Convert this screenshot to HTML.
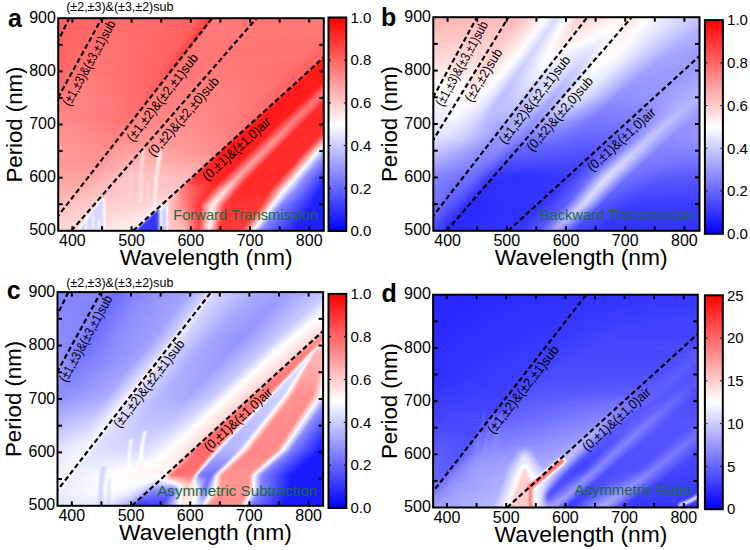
<!DOCTYPE html>
<html><head><meta charset="utf-8"><style>
html,body{margin:0;padding:0;background:#fff}
body{width:750px;height:550px;position:relative;overflow:hidden;font-family:"Liberation Sans", sans-serif}
.hm{position:absolute;overflow:hidden}
.hm i{display:block;width:100%}
.cb{position:absolute}
svg{position:absolute;left:0;top:0}
svg text{font-family:"Liberation Sans", sans-serif}
.fr{fill:none;stroke:#000;stroke-width:2}
.tk{stroke:#000;stroke-width:2}
.tkc{stroke:#000;stroke-width:1}
.dl{stroke:#000;stroke-width:2.2;stroke-dasharray:5 3;fill:none}
</style></head><body>
<div class="hm" style="left:58px;top:18px;width:266px;height:213px"><i style="height:1px;background:linear-gradient(90deg,#ff6161 0.2%,#ff6868 17.5%,#ff6d6d 29.9%,#ff5f5f 52.1%,#ff4d4d 55.8%,#ff2f2f 57.0%,#ff2f2f 57.3%,#ff7272 58.5%,#ff8080 59.2%,#ff7373 66.4%,#ff7979 99.8%)"></i><i style="height:1px;background:linear-gradient(90deg,#ff6161 0.2%,#ff6868 17.1%,#ff6e6e 29.1%,#ff5f5f 52.1%,#ff4f4f 55.5%,#ff2f2f 57.0%,#ff3939 57.3%,#ff7878 58.5%,#ff7c7c 60.0%,#ff7575 75.8%,#ff7979 99.8%)"></i><i style="height:1px;background:linear-gradient(90deg,#ff6161 0.2%,#ff6868 17.1%,#ff6e6e 29.1%,#ff5f5f 51.7%,#ff4b4b 55.5%,#ff3030 56.6%,#ff3636 57.0%,#ff7474 58.1%,#ff7e7e 59.2%,#ff7272 69.0%,#ff7979 99.8%)"></i><i style="height:1px;background:linear-gradient(90deg,#ff6161 0.2%,#ff6868 16.7%,#ff6e6e 28.4%,#ff6060 51.3%,#ff4d4d 55.1%,#ff3131 56.2%,#ff3434 56.6%,#ff7171 57.7%,#ff7f7f 58.5%,#ff7373 67.5%,#ff7979 99.8%)"></i><i style="height:1px;background:linear-gradient(90deg,#ff6161 0.2%,#ff6969 16.7%,#ff6e6e 28.4%,#ff5f5f 51.3%,#ff4e4e 54.7%,#ff3333 55.8%,#ff3333 56.2%,#ff5656 57.0%,#ff7a7a 57.7%,#ff7676 79.5%,#ff7979 99.8%)"></i><i style="height:1px;background:linear-gradient(90deg,#ff6161 0.2%,#ff6868 16.4%,#ff6f6f 27.6%,#ff5f5f 50.9%,#ff5050 54.3%,#ff3333 55.8%,#ff5252 56.6%,#ff7878 57.3%,#ff7a7a 59.2%,#ff7777 81.4%,#ff7979 99.8%)"></i><i style="height:1px;background:linear-gradient(90deg,#ff6262 0.2%,#ff6969 16.4%,#ff6f6f 28.0%,#ff6060 50.6%,#ff4b4b 54.3%,#ff3333 55.5%,#ff3a3a 55.8%,#ff7575 57.0%,#ff7d7d 58.1%,#ff7272 71.2%,#ff7979 99.8%)"></i><i style="height:1px;background:linear-gradient(90deg,#ff6262 0.2%,#ff6969 16.0%,#ff6f6f 27.3%,#ff6060 50.2%,#ff4d4d 53.9%,#ff3434 55.1%,#ff3737 55.5%,#ff7272 56.6%,#ff7d7d 57.7%,#ff7373 70.5%,#ff7979 99.8%)"></i><i style="height:1px;background:linear-gradient(90deg,#ff6262 0.2%,#ff6868 15.6%,#ff6f6f 26.5%,#ff5f5f 50.2%,#ff4f4f 53.6%,#ff3535 54.7%,#ff3636 55.1%,#ff7a7a 56.6%,#ff7777 84.0%,#ff7979 99.8%)"></i><i style="height:1px;background:linear-gradient(90deg,#ff6262 0.2%,#ff6969 15.6%,#ff7070 26.5%,#ff6060 49.8%,#ff5050 53.2%,#ff3636 54.7%,#ff5555 55.5%,#ff7878 56.2%,#ff7979 99.8%)"></i><i style="height:1px;background:linear-gradient(90deg,#ff6262 0.2%,#ff6969 15.2%,#ff7070 25.8%,#ff6060 49.4%,#ff4b4b 53.2%,#ff3636 54.3%,#ff5151 55.1%,#ff7676 55.8%,#ff7b7b 57.3%,#ff7878 85.5%,#ff7979 99.8%)"></i><i style="height:1px;background:linear-gradient(90deg,#ff6262 0.2%,#ff6969 15.2%,#ff7070 25.8%,#ff6060 49.1%,#ff4d4d 52.8%,#ff3636 53.9%,#ff4c4c 54.7%,#ff7373 55.5%,#ff7c7c 56.6%,#ff7575 71.6%,#ff7979 99.8%)"></i><i style="height:1px;background:linear-gradient(90deg,#ff6262 0.2%,#ff6969 14.8%,#ff7070 25.4%,#ff6060 49.1%,#ff4f4f 52.4%,#ff3737 53.6%,#ff3939 53.9%,#ff7070 55.1%,#ff7d7d 56.2%,#ff7575 70.9%,#ff7979 99.8%)"></i><i style="height:1px;background:linear-gradient(90deg,#ff6262 0.2%,#ff6a6a 14.8%,#ff7070 25.4%,#ff6060 48.7%,#ff5151 52.1%,#ff3939 53.6%,#ff7979 55.1%,#ff7979 99.8%)"></i><i style="height:1px;background:linear-gradient(90deg,#ff6262 0.2%,#ff6969 14.5%,#ff7171 24.6%,#ff6060 48.3%,#ff4c4c 52.1%,#ff3939 53.2%,#ff5454 53.9%,#ff7676 54.7%,#ff7777 57.0%,#ff7979 99.8%)"></i><i style="height:1px;background:linear-gradient(90deg,#ff6262 0.2%,#ff6a6a 14.5%,#ff7171 24.6%,#ff6060 48.3%,#ff4e4e 51.7%,#ff3939 52.8%,#ff5050 53.6%,#ff7474 54.3%,#ff7a7a 55.8%,#ff7979 99.8%)"></i><i style="height:1px;background:linear-gradient(90deg,#ff6363 0.2%,#ff6a6a 14.1%,#ff7171 24.2%,#ff6060 47.9%,#ff4f4f 51.3%,#ff3939 52.4%,#ff4c4c 53.2%,#ff7272 53.9%,#ff7c7c 55.1%,#ff7878 85.9%,#ff7878 99.8%)"></i><i style="height:1px;background:linear-gradient(90deg,#ff6363 0.2%,#ff6a6a 14.1%,#ff7171 24.2%,#ff6060 47.6%,#ff5151 50.9%,#ff3b3b 52.1%,#ff4848 52.8%,#ff7979 53.9%,#ff7878 99.8%)"></i><i style="height:1px;background:linear-gradient(90deg,#ff6363 0.2%,#ff6a6a 13.7%,#ff7272 23.5%,#ff6161 47.2%,#ff4c4c 50.9%,#ff3b3b 52.1%,#ff7777 53.6%,#ff7777 99.8%)"></i><i style="height:1px;background:linear-gradient(90deg,#ff6363 0.2%,#ff6b6b 13.7%,#ff7272 23.5%,#ff6060 47.2%,#ff4e4e 50.6%,#ff3b3b 51.7%,#ff5454 52.4%,#ff7575 53.2%,#ff7777 55.5%,#ff7575 99.8%)"></i><i style="height:1px;background:linear-gradient(90deg,#ff6363 0.2%,#ff6a6a 13.3%,#ff7272 23.1%,#ff6060 46.8%,#ff5050 50.2%,#ff3c3c 51.3%,#ff5050 52.1%,#ff7373 52.8%,#ff7a7a 54.3%,#ff7474 99.8%)"></i><i style="height:1px;background:linear-gradient(90deg,#ff6363 0.2%,#ff6a6a 13.0%,#ff7272 22.7%,#ff6161 46.4%,#ff5151 49.8%,#ff3c3c 50.9%,#ff4c4c 51.7%,#ff7070 52.4%,#ff7b7b 53.6%,#ff7272 99.8%)"></i><i style="height:1px;background:linear-gradient(90deg,#ff6363 0.2%,#ff6b6b 13.0%,#ff7272 22.4%,#ff6161 46.1%,#ff4d4d 49.8%,#ff3e3e 50.9%,#ff7777 52.4%,#ff7373 99.1%,#ff7070 99.8%)"></i><i style="height:1px;background:linear-gradient(90deg,#ff6363 0.2%,#ff6a6a 12.6%,#ff7373 22.0%,#ff6060 46.1%,#ff4e4e 49.4%,#ff3e3e 50.6%,#ff5757 51.3%,#ff7575 52.1%,#ff7272 98.7%,#ff6f6f 99.8%)"></i><i style="height:1px;background:linear-gradient(90deg,#ff6363 0.2%,#ff6b6b 12.6%,#ff7373 22.0%,#ff6161 45.7%,#ff5050 49.1%,#ff3e3e 50.2%,#ff5454 50.9%,#ff7373 51.7%,#ff7878 53.6%,#ff7272 98.3%,#ff6d6d 99.8%)"></i><i style="height:1px;background:linear-gradient(90deg,#ff6363 0.2%,#ff6b6b 12.2%,#ff7373 21.6%,#ff6161 45.3%,#ff5252 48.7%,#ff3f3f 49.8%,#ff5050 50.6%,#ff7171 51.3%,#ff7979 52.8%,#ff7272 97.9%,#ff6c6c 99.8%)"></i><i style="height:1px;background:linear-gradient(90deg,#ff6363 0.2%,#ff6b6b 12.2%,#ff7373 21.6%,#ff6060 45.3%,#ff4d4d 48.7%,#ff4141 49.8%,#ff7777 51.3%,#ff7171 97.6%,#ff6a6a 99.8%)"></i><i style="height:1px;background:linear-gradient(90deg,#ff6464 0.2%,#ff6b6b 11.8%,#ff7373 20.9%,#ff6161 44.9%,#ff4f4f 48.3%,#ff4141 49.4%,#ff7676 50.9%,#ff7373 96.8%,#ff6868 99.8%)"></i><i style="height:1px;background:linear-gradient(90deg,#ff6464 0.2%,#ff6c6c 11.8%,#ff7373 20.9%,#ff6161 44.5%,#ff5151 47.9%,#ff4141 49.1%,#ff5757 49.8%,#ff7474 50.6%,#ff7878 67.1%,#ff7272 96.4%,#ff6666 99.8%)"></i><i style="height:1px;background:linear-gradient(90deg,#ff6464 0.2%,#ff6b6b 11.5%,#ff7474 20.5%,#ff6262 44.2%,#ff5252 47.6%,#ff4141 48.7%,#ff5353 49.4%,#ff7878 50.6%,#ff7272 96.1%,#ff6565 99.8%)"></i><i style="height:1px;background:linear-gradient(90deg,#ff6464 0.2%,#ff6c6c 11.5%,#ff7474 20.5%,#ff6161 44.2%,#ff4e4e 47.6%,#ff4444 48.7%,#ff7777 50.2%,#ff7272 95.7%,#ff6464 99.8%)"></i><i style="height:1px;background:linear-gradient(90deg,#ff6464 0.2%,#ff6c6c 11.1%,#ff7474 20.1%,#ff6161 43.8%,#ff5050 47.2%,#ff4444 48.3%,#ff7676 49.8%,#ff7171 95.3%,#ff6464 99.8%)"></i><i style="height:1px;background:linear-gradient(90deg,#ff6464 0.2%,#ff6c6c 11.1%,#ff7474 19.7%,#ff6262 43.4%,#ff5151 46.8%,#ff4444 47.9%,#ff7474 49.4%,#ff7474 94.2%,#ff6565 99.8%)"></i><i style="height:1px;background:linear-gradient(90deg,#ff6464 0.2%,#ff6c6c 10.7%,#ff7575 19.4%,#ff6161 43.4%,#ff5353 46.4%,#ff4444 47.6%,#ff5757 48.3%,#ff7878 49.4%,#ff7171 94.5%,#ff6666 99.4%,#ff6767 99.8%)"></i><i style="height:1px;background:linear-gradient(90deg,#ff6464 0.2%,#ff6d6d 10.7%,#ff7575 19.4%,#ff6161 43.0%,#ff4f4f 46.4%,#ff4848 47.6%,#ff7777 49.1%,#ff7272 93.8%,#ff6666 99.1%,#ff6969 99.8%)"></i><i style="height:1px;background:linear-gradient(90deg,#ff6464 0.2%,#ff6c6c 10.3%,#ff7575 19.0%,#ff6262 42.7%,#ff5050 46.1%,#ff4747 47.2%,#ff7676 48.7%,#ff7272 93.4%,#ff6666 98.7%,#ff6a6a 99.8%)"></i><i style="height:1px;background:linear-gradient(90deg,#ff6464 0.2%,#ff6d6d 10.3%,#ff7575 19.0%,#ff6161 42.7%,#ff5252 45.7%,#ff4747 46.8%,#ff7474 48.3%,#ff7676 91.5%,#ff6464 97.9%,#ff6c6c 99.8%)"></i><i style="height:1px;background:linear-gradient(90deg,#ff6565 0.2%,#ff6d6d 10.0%,#ff7575 18.6%,#ff6161 42.3%,#ff4e4e 45.7%,#ff4747 46.4%,#ff7777 48.3%,#ff7171 92.7%,#ff6464 97.6%,#ff6c6c 99.8%)"></i><i style="height:1px;background:linear-gradient(90deg,#ff6565 0.2%,#ff6d6d 10.0%,#ff7575 18.2%,#ff6262 41.9%,#ff5050 45.3%,#ff4b4b 46.4%,#ff7676 47.9%,#ff7474 91.5%,#ff6464 97.2%,#ff6969 99.4%,#ff6565 99.8%)"></i><i style="height:1px;background:linear-gradient(90deg,#ff6565 0.2%,#ff6d6d 9.6%,#ff7676 17.9%,#ff6161 41.9%,#ff5151 44.9%,#ff4a4a 46.1%,#ff7575 47.6%,#ff7676 90.4%,#ff6464 96.8%,#ff6767 99.1%,#ff4f4f 99.8%)"></i><i style="height:1px;background:linear-gradient(90deg,#ff6565 0.2%,#ff6e6e 9.6%,#ff7676 17.9%,#ff6161 41.5%,#ff5353 44.5%,#ff4a4a 45.7%,#ff7474 47.2%,#ff7878 76.5%,#ff7070 91.5%,#ff6363 96.4%,#ff6666 98.7%,#ff3434 99.8%)"></i><i style="height:1px;background:linear-gradient(90deg,#ff6565 0.2%,#ff6e6e 9.6%,#ff7676 17.9%,#ff6262 41.2%,#ff4f4f 44.5%,#ff4a4a 45.3%,#ff7676 47.2%,#ff7575 89.7%,#ff6363 96.1%,#ff6a6a 97.9%,#ff5858 98.7%,#ff2222 99.8%)"></i><i style="height:1px;background:linear-gradient(90deg,#ff6565 0.2%,#ff6e6e 9.2%,#ff7676 17.5%,#ff6262 40.8%,#ff5151 44.2%,#ff4e4e 45.3%,#ff7676 46.8%,#ff7777 79.5%,#ff7070 90.8%,#ff6363 95.7%,#ff6a6a 97.6%,#ff5555 98.3%,#ff2121 99.4%,#ff1b1b 99.8%)"></i><i style="height:1px;background:linear-gradient(90deg,#ff6565 0.2%,#ff6f6f 9.2%,#ff7676 17.5%,#ff6262 40.8%,#ff5252 43.8%,#ff4d4d 44.9%,#ff7575 46.4%,#ff7878 72.0%,#ff6f6f 90.4%,#ff6363 95.3%,#ff6969 97.2%,#ff5353 97.9%,#ff2020 99.1%,#ff1a1a 99.8%)"></i><i style="height:1px;background:linear-gradient(90deg,#ff6565 0.2%,#ff6e6e 8.8%,#ff7777 16.7%,#ff6262 40.4%,#ff4f4f 43.8%,#ff4c4c 44.5%,#ff7474 46.1%,#ff7979 67.5%,#ff6f6f 90.0%,#ff6363 94.9%,#ff6969 96.8%,#ff5151 97.6%,#ff1f1f 98.7%,#ff1a1a 99.8%)"></i><i style="height:1px;background:linear-gradient(90deg,#ff6565 0.2%,#ff6f6f 8.8%,#ff7777 16.7%,#ff6262 40.0%,#ff5050 43.4%,#ff5353 44.5%,#ff7373 45.7%,#ff7979 64.5%,#ff7070 89.3%,#ff6161 94.2%,#ff6868 96.4%,#ff4f4f 97.2%,#ff1f1f 98.3%,#ff1a1a 99.8%)"></i><i style="height:1px;background:linear-gradient(90deg,#ff6565 0.2%,#ff7070 8.8%,#ff7777 16.7%,#ff6262 40.0%,#ff4d4d 43.8%,#ff7575 45.7%,#ff7979 66.4%,#ff7070 88.9%,#ff6161 93.8%,#ff6868 96.1%,#ff4d4d 96.8%,#ff2828 97.6%,#ff1a1a 99.1%,#ff1a1a 99.8%)"></i><i style="height:1px;background:linear-gradient(90deg,#ff6666 0.2%,#ff7070 8.8%,#ff7777 17.1%,#ff6262 39.7%,#ff5050 43.8%,#ff7474 45.3%,#ff7979 64.1%,#ff7070 88.5%,#ff6161 93.4%,#ff6767 95.7%,#ff2626 97.2%,#ff1a1a 98.7%,#ff1a1a 99.8%)"></i><i style="height:1px;background:linear-gradient(90deg,#ff6666 0.2%,#ff7070 8.5%,#ff7777 16.4%,#ff6262 39.3%,#ff4f4f 43.4%,#ff7474 44.9%,#ff7a7a 62.2%,#ff6f6f 88.2%,#ff6161 93.0%,#ff6767 95.3%,#ff2525 96.8%,#ff1a1a 98.7%,#ff1919 99.8%)"></i><i style="height:1px;background:linear-gradient(90deg,#ff6666 0.2%,#ff7171 8.5%,#ff7777 16.4%,#ff6262 39.3%,#ff4f4f 43.0%,#ff7373 44.5%,#ff7a7a 60.7%,#ff6f6f 87.8%,#ff6161 92.7%,#ff6666 94.9%,#ff2323 96.4%,#ff1919 98.7%,#ff1919 99.8%)"></i><i style="height:1px;background:linear-gradient(90deg,#ff6666 0.2%,#ff7171 8.5%,#ff7777 16.7%,#ff6262 38.9%,#ff4f4f 42.7%,#ff7575 44.5%,#ff7a7a 61.1%,#ff6f6f 87.4%,#ff6161 92.3%,#ff6565 94.5%,#ff2222 96.1%,#ff1919 99.1%,#ff1919 99.8%)"></i><i style="height:1px;background:linear-gradient(90deg,#ff6666 0.2%,#ff7272 8.5%,#ff7777 17.1%,#ff6262 38.9%,#ff5454 42.7%,#ff7474 44.2%,#ff7a7a 60.3%,#ff6f6f 87.0%,#ff6161 91.9%,#ff6969 93.8%,#ff5757 94.5%,#ff2121 95.7%,#ff1919 99.8%)"></i><i style="height:1px;background:linear-gradient(90deg,#ff6666 0.2%,#ff7373 8.5%,#ff7777 17.5%,#ff6262 38.5%,#ff5353 42.3%,#ff7474 43.8%,#ff7b7b 59.6%,#ff7070 86.3%,#ff6161 91.5%,#ff6969 93.4%,#ff5555 94.2%,#ff2121 95.3%,#ff1919 99.8%)"></i><i style="height:1px;background:linear-gradient(90deg,#ff6767 0.2%,#ff7474 8.5%,#ff7676 18.2%,#ff6262 38.5%,#ff5252 41.9%,#ff7373 43.4%,#ff7b7b 59.2%,#ff7070 85.9%,#ff6060 90.8%,#ff6868 93.0%,#ff5353 93.8%,#ff2020 94.9%,#ff1919 99.8%)"></i><i style="height:1px;background:linear-gradient(90deg,#ff6767 0.2%,#ff7676 8.8%,#ff6e6e 31.4%,#ff5959 40.4%,#ff5252 41.5%,#ff7575 43.4%,#ff7b7b 60.0%,#ff7070 85.5%,#ff6060 90.4%,#ff6868 92.7%,#ff5151 93.4%,#ff1f1f 94.5%,#ff1919 99.8%)"></i><i style="height:1px;background:linear-gradient(90deg,#ff6767 0.2%,#ff7878 9.2%,#ff6565 37.0%,#ff5252 41.2%,#ff7575 43.0%,#ff7b7b 59.6%,#ff7070 85.2%,#ff6161 90.0%,#ff6868 92.3%,#ff4f4f 93.0%,#ff1f1f 94.2%,#ff1919 99.8%)"></i><i style="height:1px;background:linear-gradient(90deg,#ff6868 0.2%,#ff7a7a 9.6%,#ff6565 37.0%,#ff5656 41.2%,#ff7575 42.7%,#ff7c7c 59.2%,#ff7171 84.8%,#ff6161 89.7%,#ff6868 91.9%,#ff4d4d 92.7%,#ff2727 93.4%,#ff1919 94.5%,#ff1919 99.8%)"></i><i style="height:1px;background:linear-gradient(90deg,#ff6868 0.2%,#ff7a7a 13.3%,#ff6464 37.0%,#ff5555 40.8%,#ff7575 42.3%,#ff7c7c 59.2%,#ff7171 84.4%,#ff6262 89.3%,#ff6868 91.5%,#ff4b4b 92.3%,#ff2626 93.0%,#ff1919 94.5%,#ff1919 99.8%)"></i><i style="height:1px;background:linear-gradient(90deg,#ff6868 0.2%,#ff7b7b 13.0%,#ff6464 37.0%,#ff5555 40.4%,#ff7777 42.3%,#ff7c7c 60.3%,#ff7171 84.0%,#ff6262 88.9%,#ff6767 91.2%,#ff2525 92.7%,#ff1919 94.2%,#ff1919 99.8%)"></i><i style="height:1px;background:linear-gradient(90deg,#ff6969 0.2%,#ff7b7b 13.0%,#ff6565 36.7%,#ff5555 40.0%,#ff7777 41.9%,#ff7d7d 60.0%,#ff7171 83.6%,#ff6363 88.5%,#ff6767 90.8%,#ff2323 92.3%,#ff1919 94.2%,#ff1919 99.8%)"></i><i style="height:1px;background:linear-gradient(90deg,#ff6969 0.2%,#ff7c7c 12.6%,#ff6565 36.3%,#ff5959 40.0%,#ff7676 41.5%,#ff7d7d 59.6%,#ff7171 83.3%,#ff6363 88.2%,#ff6767 90.4%,#ff2222 91.9%,#ff1919 94.5%,#ff1919 99.8%)"></i><i style="height:1px;background:linear-gradient(90deg,#ff6a6a 0.2%,#ff7c7c 12.2%,#ff6565 36.3%,#ff5858 39.7%,#ff7676 41.2%,#ff7d7d 59.2%,#ff7171 82.9%,#ff6464 87.8%,#ff6b6b 89.7%,#ff5858 90.4%,#ff2121 91.5%,#ff1919 95.3%,#ff1919 99.8%)"></i><i style="height:1px;background:linear-gradient(90deg,#ff6a6a 0.2%,#ff7d7d 11.8%,#ff6666 35.9%,#ff5858 39.3%,#ff7878 41.2%,#ff7d7d 60.7%,#ff7171 82.5%,#ff6464 87.4%,#ff6b6b 89.3%,#ff5656 90.0%,#ff2020 91.2%,#ff1919 96.4%,#ff1a1a 99.8%)"></i><i style="height:1px;background:linear-gradient(90deg,#ff6a6a 0.2%,#ff7d7d 11.8%,#ff6565 35.9%,#ff5858 38.9%,#ff7878 40.8%,#ff7e7e 60.3%,#ff7272 82.1%,#ff6565 87.0%,#ff6a6a 88.9%,#ff5454 89.7%,#ff1f1f 90.8%,#ff1a1a 99.1%,#ff1c1c 99.8%)"></i><i style="height:1px;background:linear-gradient(90deg,#ff6b6b 0.2%,#ff7d7d 11.5%,#ff6666 35.5%,#ff5858 38.5%,#ff7878 40.4%,#ff7e7e 60.0%,#ff7272 81.8%,#ff6565 86.7%,#ff6a6a 88.5%,#ff5252 89.3%,#ff1f1f 90.4%,#ff1d1d 99.4%,#ff2020 99.8%)"></i><i style="height:1px;background:linear-gradient(90deg,#ff6b6b 0.2%,#ff7e7e 11.1%,#ff6767 35.2%,#ff5c5c 38.5%,#ff7878 40.0%,#ff7e7e 59.6%,#ff7272 81.4%,#ff6666 86.3%,#ff6a6a 88.2%,#ff5050 88.9%,#ff1e1e 90.0%,#ff1e1e 99.1%,#ff2828 99.8%)"></i><i style="height:1px;background:linear-gradient(90deg,#ff6b6b 0.2%,#ff7e7e 11.1%,#ff6666 35.2%,#ff5b5b 38.2%,#ff7878 39.7%,#ff7f7f 59.2%,#ff7474 80.6%,#ff6565 85.5%,#ff6a6a 87.8%,#ff4e4e 88.5%,#ff2727 89.3%,#ff1919 90.4%,#ff1e1e 98.7%,#ff3030 99.8%)"></i><i style="height:1px;background:linear-gradient(90deg,#ff6c6c 0.2%,#ff7f7f 10.7%,#ff6767 34.8%,#ff5b5b 37.8%,#ff7979 39.7%,#ff7f7f 60.7%,#ff7474 80.3%,#ff6565 85.2%,#ff6a6a 87.4%,#ff4c4c 88.2%,#ff2626 88.9%,#ff1818 90.4%,#ff1f1f 98.3%,#ff3939 99.8%)"></i><i style="height:1px;background:linear-gradient(90deg,#ff6c6c 0.2%,#ff7f7f 10.3%,#ff6868 34.4%,#ff5b5b 37.4%,#ff7979 39.3%,#ff7f7f 60.7%,#ff7474 79.9%,#ff6666 84.8%,#ff6969 87.0%,#ff2424 88.5%,#ff1818 90.0%,#ff1f1f 97.9%,#ff4242 99.8%)"></i><i style="height:1px;background:linear-gradient(90deg,#ff6d6d 0.2%,#ff7f7f 10.3%,#ff6767 34.4%,#ff5f5f 37.4%,#ff7979 38.9%,#ff7f7f 60.0%,#ff7474 79.5%,#ff6666 84.4%,#ff6969 86.7%,#ff2323 88.2%,#ff1818 90.0%,#ff2020 97.6%,#ff4c4c 99.8%)"></i><i style="height:1px;background:linear-gradient(90deg,#ff6d6d 0.2%,#ff8080 10.0%,#ff6868 34.0%,#ff5e5e 37.0%,#ff7979 38.5%,#ff8080 59.6%,#ff7474 79.1%,#ff6767 84.0%,#ff6868 86.3%,#ff2121 87.8%,#ff1818 90.0%,#ff2020 97.2%,#ff5555 99.8%)"></i><i style="height:1px;background:linear-gradient(90deg,#ff6e6e 0.2%,#ff8080 9.6%,#ff6969 33.6%,#ff5e5e 36.7%,#ff7a7a 38.5%,#ff7f7f 61.5%,#ff7474 78.8%,#ff6767 83.6%,#ff6d6d 85.5%,#ff5959 86.3%,#ff2020 87.4%,#ff1818 90.8%,#ff2020 96.8%,#ff5e5e 99.8%)"></i><i style="height:1px;background:linear-gradient(90deg,#ff6e6e 0.2%,#ff8080 9.6%,#ff6868 33.6%,#ff5e5e 36.3%,#ff7b7b 38.2%,#ff8080 61.1%,#ff7575 78.4%,#ff6868 83.3%,#ff6d6d 85.2%,#ff5757 85.9%,#ff1f1f 87.0%,#ff1818 91.2%,#ff2121 96.4%,#ff6868 99.8%)"></i><i style="height:1px;background:linear-gradient(90deg,#ff6f6f 0.2%,#ff8181 9.2%,#ff6969 33.3%,#ff6262 36.3%,#ff7a7a 37.8%,#ff8080 60.7%,#ff7575 78.0%,#ff6868 82.9%,#ff6d6d 84.8%,#ff5555 85.5%,#ff1f1f 86.7%,#ff1919 93.4%,#ff2121 96.1%,#ff7070 99.8%)"></i><i style="height:1px;background:linear-gradient(90deg,#ff7070 0.2%,#ff8181 9.2%,#ff6969 33.3%,#ff6161 35.9%,#ff7a7a 37.4%,#ff8181 60.0%,#ff7575 77.6%,#ff6969 82.5%,#ff6c6c 84.4%,#ff5353 85.2%,#ff1e1e 86.3%,#ff1a1a 94.9%,#ff4141 97.2%,#ff7575 99.8%)"></i><i style="height:1px;background:linear-gradient(90deg,#ff7171 0.2%,#ff8282 8.8%,#ff6969 32.9%,#ff6161 35.5%,#ff7c7c 37.4%,#ff8080 61.8%,#ff7575 77.3%,#ff6969 82.1%,#ff6c6c 84.0%,#ff5151 84.8%,#ff2828 85.5%,#ff1818 86.7%,#ff1d1d 94.9%,#ff7272 99.1%,#ff7474 99.8%)"></i><i style="height:1px;background:linear-gradient(90deg,#ff7373 0.2%,#ff8282 8.8%,#ff6969 32.9%,#ff6161 35.2%,#ff7c7c 37.0%,#ff8181 61.5%,#ff7575 76.9%,#ff6a6a 81.8%,#ff6c6c 83.6%,#ff4f4f 84.4%,#ff2727 85.2%,#ff1818 86.3%,#ff1d1d 94.5%,#ff7373 98.7%,#ff6f6f 99.8%)"></i><i style="height:1px;background:linear-gradient(90deg,#ff7474 0.2%,#ff8282 8.8%,#ff6a6a 32.5%,#ff6565 35.2%,#ff7c7c 36.7%,#ff8181 61.1%,#ff7575 76.5%,#ff6a6a 81.4%,#ff6c6c 83.3%,#ff4c4c 84.0%,#ff2525 84.8%,#ff1818 86.3%,#ff1e1e 94.2%,#ff7373 98.3%,#ff6868 99.8%)"></i><i style="height:1px;background:linear-gradient(90deg,#ff7575 0.2%,#ff8383 8.5%,#ff6b6b 32.1%,#ff6565 34.8%,#ff7c7c 36.3%,#ff8181 60.7%,#ff7575 76.1%,#ff6b6b 81.0%,#ff6b6b 82.9%,#ff2424 84.4%,#ff1717 85.9%,#ff1e1e 93.8%,#ff7474 97.9%,#ff6565 99.4%,#ff6060 99.8%)"></i><i style="height:1px;background:linear-gradient(90deg,#ff7676 0.2%,#ff8383 8.5%,#ff6a6a 32.1%,#ff6464 34.4%,#ff7d7d 36.3%,#ff8181 62.2%,#ff7676 75.8%,#ff6b6b 80.6%,#ff6b6b 82.5%,#ff2222 84.0%,#ff1717 85.9%,#ff1e1e 93.4%,#ff7575 97.6%,#ff6565 99.1%,#ff5858 99.8%)"></i><i style="height:1px;background:linear-gradient(90deg,#ff7777 0.2%,#ff8383 8.5%,#ff6b6b 31.8%,#ff6464 34.0%,#ff7d7d 35.9%,#ff8181 61.8%,#ff7676 75.4%,#ff6c6c 80.3%,#ff6a6a 82.1%,#ff2121 83.6%,#ff1818 85.9%,#ff1e1e 93.0%,#ff7575 97.2%,#ff6565 98.7%,#ff5050 99.8%)"></i><i style="height:1px;background:linear-gradient(90deg,#ff7878 0.2%,#ff8383 8.5%,#ff6b6b 31.8%,#ff6464 33.6%,#ff7d7d 35.5%,#ff8282 61.5%,#ff7676 75.0%,#ff6c6c 79.9%,#ff6969 81.8%,#ff1f1f 83.3%,#ff1818 86.3%,#ff1e1e 92.7%,#ff7676 96.8%,#ff6565 98.3%,#ff4848 99.8%)"></i><i style="height:1px;background:linear-gradient(90deg,#ff7979 0.2%,#ff8484 8.1%,#ff6b6b 31.4%,#ff6868 33.6%,#ff7e7e 35.5%,#ff8282 61.8%,#ff7676 74.6%,#ff6b6b 79.1%,#ff6f6f 81.0%,#ff5959 81.8%,#ff1f1f 82.9%,#ff1818 86.7%,#ff1f1f 92.3%,#ff7777 96.4%,#ff6565 97.9%,#ff4040 99.8%)"></i><i style="height:1px;background:linear-gradient(90deg,#ff7a7a 0.2%,#ff8484 8.1%,#ff6c6c 31.0%,#ff6767 33.3%,#ff7e7e 35.2%,#ff8282 61.1%,#ff7676 74.2%,#ff6b6b 78.8%,#ff6f6f 80.6%,#ff5656 81.4%,#ff1e1e 82.5%,#ff1818 87.8%,#ff1f1f 91.9%,#ff7777 96.1%,#ff6565 97.6%,#ff3737 99.8%)"></i><i style="height:1px;background:linear-gradient(90deg,#ff7b7b 0.2%,#ff8484 8.1%,#ff6c6c 31.0%,#ff6767 32.9%,#ff7e7e 34.8%,#ff8383 60.3%,#ff7676 73.9%,#ff6c6c 78.4%,#ff6e6e 80.3%,#ff5454 81.0%,#ff2a2a 81.8%,#ff1818 82.5%,#ff1f1f 91.5%,#ff7878 95.7%,#ff6565 97.2%,#ff2f2f 99.8%)"></i><i style="height:1px;background:linear-gradient(90deg,#ff7c7c 0.2%,#ff8484 8.1%,#ff6c6c 30.6%,#ff6767 32.5%,#ff7e7e 34.4%,#ff8383 59.6%,#ff7777 73.5%,#ff6c6c 78.0%,#ff6e6e 79.9%,#ff5252 80.6%,#ff2828 81.4%,#ff1717 82.5%,#ff2020 91.2%,#ff7979 95.3%,#ff6565 96.8%,#ff2929 99.8%)"></i><i style="height:1px;background:linear-gradient(90deg,#ff7d7d 0.2%,#ff8585 7.7%,#ff6d6d 30.3%,#ff6b6b 32.5%,#ff7f7f 34.4%,#ff8383 59.6%,#ff7777 73.1%,#ff6d6d 77.6%,#ff6e6e 79.5%,#ff5050 80.3%,#ff2626 81.0%,#ff1717 82.1%,#ff2020 90.8%,#ff7979 94.9%,#ff6565 96.4%,#ff2828 99.4%,#ff2525 99.8%)"></i><i style="height:1px;background:linear-gradient(90deg,#ff7e7e 0.2%,#ff8585 8.1%,#ff6d6d 30.3%,#ff6a6a 32.1%,#ff7f7f 34.0%,#ff8484 58.8%,#ff7777 72.7%,#ff6d6d 77.3%,#ff6e6e 79.1%,#ff4d4d 79.9%,#ff2525 80.6%,#ff1717 81.8%,#ff1c1c 90.0%,#ff7a7a 94.5%,#ff6666 96.1%,#ff2828 99.1%,#ff2424 99.8%)"></i><i style="height:1px;background:linear-gradient(90deg,#ff7f7f 0.2%,#ff8585 8.1%,#ff6d6d 29.9%,#ff6a6a 31.8%,#ff7f7f 33.6%,#ff8484 58.5%,#ff7777 72.4%,#ff6e6e 76.9%,#ff6d6d 78.8%,#ff4b4b 79.5%,#ff2323 80.3%,#ff1717 81.8%,#ff1d1d 89.7%,#ff7a7a 94.2%,#ff6666 95.7%,#ff2828 98.7%,#ff2424 99.8%)"></i><i style="height:1px;background:linear-gradient(90deg,#ff8080 0.2%,#ff8585 8.1%,#ff6d6d 29.9%,#ff6e6e 31.8%,#ff8080 33.6%,#ff8484 58.1%,#ff7979 71.6%,#ff6e6e 76.5%,#ff6d6d 78.4%,#ff2222 79.9%,#ff1717 81.4%,#ff1d1d 89.3%,#ff7b7b 93.8%,#ff5d5d 95.7%,#ff2828 98.3%,#ff2424 99.8%)"></i><i style="height:1px;background:linear-gradient(90deg,#ff8181 0.2%,#ff8585 8.1%,#ff6e6e 29.5%,#ff6e6e 31.4%,#ff8080 33.3%,#ff8585 57.7%,#ff7979 71.2%,#ff6f6f 76.1%,#ff6c6c 78.0%,#ff2020 79.5%,#ff1717 81.4%,#ff1d1d 88.9%,#ff7c7c 93.4%,#ff5d5d 95.3%,#ff2828 97.9%,#ff2424 99.8%)"></i><i style="height:1px;background:linear-gradient(90deg,#ff8282 0.2%,#ff8585 8.8%,#ff6e6e 29.1%,#ff6d6d 31.0%,#ff8080 32.9%,#ff8585 57.0%,#ff7979 70.9%,#ff6f6f 75.8%,#ff6b6b 77.6%,#ff1f1f 79.1%,#ff1717 81.8%,#ff1d1d 88.5%,#ff7c7c 93.0%,#ff5d5d 94.9%,#ff2828 97.6%,#ff2525 99.8%)"></i><i style="height:1px;background:linear-gradient(90deg,#ff8282 0.2%,#ff8585 9.2%,#ff6e6e 29.1%,#ff6d6d 30.6%,#ff8181 32.5%,#ff8686 56.6%,#ff7979 70.5%,#ff7070 75.4%,#ff7171 76.9%,#ff5a5a 77.6%,#ff1e1e 78.8%,#ff1717 81.8%,#ff1d1d 88.2%,#ff7d7d 92.7%,#ff5d5d 94.5%,#ff2828 97.2%,#ff2525 99.8%)"></i><i style="height:1px;background:linear-gradient(90deg,#ff8383 0.2%,#ff8484 10.3%,#ff6f6f 28.8%,#ff7171 30.6%,#ff8181 32.5%,#ff8686 55.8%,#ff7979 70.1%,#ff7070 75.0%,#ff7171 76.5%,#ff5858 77.3%,#ff1d1d 78.4%,#ff1818 82.9%,#ff1e1e 87.8%,#ff7b7b 91.9%,#ff7676 93.0%,#ff2828 96.8%,#ff2525 99.8%)"></i><i style="height:1px;background:linear-gradient(90deg,#ff8484 0.2%,#ff8383 12.6%,#ff6e6e 28.8%,#ff7171 30.3%,#ff8181 32.1%,#ff8686 55.5%,#ff7a7a 69.7%,#ff7070 74.6%,#ff7171 76.1%,#ff5555 76.9%,#ff2929 77.6%,#ff1818 78.4%,#ff1e1e 87.4%,#ff7b7b 91.5%,#ff7676 92.7%,#ff2828 96.4%,#ff2525 99.8%)"></i><i style="height:1px;background:linear-gradient(90deg,#ff8585 0.2%,#ff8080 17.1%,#ff7070 29.9%,#ff8282 31.8%,#ff8787 55.1%,#ff7a7a 69.4%,#ff7171 74.2%,#ff7070 75.8%,#ff5353 76.5%,#ff2828 77.3%,#ff1616 78.4%,#ff1e1e 87.0%,#ff7c7c 91.2%,#ff7676 92.3%,#ff2828 96.1%,#ff2525 99.8%)"></i><i style="height:1px;background:linear-gradient(90deg,#ff8686 0.2%,#ff7979 23.9%,#ff7070 29.5%,#ff8282 31.4%,#ff8787 54.3%,#ff7a7a 69.0%,#ff7171 73.9%,#ff7070 75.4%,#ff5151 76.1%,#ff2626 76.9%,#ff1616 78.0%,#ff1e1e 86.7%,#ff7d7d 90.8%,#ff7777 91.9%,#ff2828 95.7%,#ff2626 99.8%)"></i><i style="height:1px;background:linear-gradient(90deg,#ff8787 0.2%,#ff7373 26.9%,#ff6f6f 29.1%,#ff8282 31.0%,#ff8888 53.9%,#ff7a7a 68.6%,#ff7272 73.5%,#ff7070 75.0%,#ff4e4e 75.8%,#ff2424 76.5%,#ff1616 77.6%,#ff1f1f 86.3%,#ff7d7d 90.4%,#ff7777 91.5%,#ff2828 95.3%,#ff2626 99.8%)"></i><i style="height:1px;background:linear-gradient(90deg,#ff8888 0.2%,#ff7272 26.9%,#ff7474 29.1%,#ff8282 31.0%,#ff8888 53.6%,#ff7a7a 68.2%,#ff7272 73.1%,#ff6f6f 74.6%,#ff4c4c 75.4%,#ff2323 76.1%,#ff1616 77.6%,#ff1f1f 85.9%,#ff7e7e 90.0%,#ff7777 91.2%,#ff2828 94.9%,#ff2626 99.8%)"></i><i style="height:1px;background:linear-gradient(90deg,#ff8989 0.2%,#ff7373 26.5%,#ff7373 28.8%,#ff8383 30.6%,#ff8888 52.8%,#ff7b7b 67.9%,#ff7373 72.7%,#ff6f6f 74.2%,#ff2121 75.8%,#ff1616 77.3%,#ff1f1f 85.5%,#ff7f7f 89.7%,#ff7777 90.8%,#ff2828 94.5%,#ff2626 99.8%)"></i><i style="height:1px;background:linear-gradient(90deg,#ff8a8a 0.2%,#ff7373 26.5%,#ff7373 28.4%,#ff8383 30.6%,#ff8989 52.4%,#ff7b7b 67.5%,#ff7373 72.4%,#ff6e6e 73.9%,#ff2020 75.4%,#ff1616 77.3%,#ff2020 85.2%,#ff7f7f 89.3%,#ff7777 90.4%,#ff2727 94.2%,#ff2626 99.8%)"></i><i style="height:1px;background:linear-gradient(90deg,#ff8b8b 0.2%,#ff7272 26.5%,#ff7777 28.4%,#ff8383 30.6%,#ff8989 52.1%,#ff7b7b 67.1%,#ff7373 72.0%,#ff6d6d 73.5%,#ff1e1e 75.0%,#ff1616 77.3%,#ff2020 84.8%,#ff8080 88.9%,#ff7777 90.0%,#ff2727 93.8%,#ff2727 99.8%)"></i><i style="height:1px;background:linear-gradient(90deg,#ff8c8c 0.2%,#ff7373 26.1%,#ff7676 28.0%,#ff8484 30.3%,#ff8a8a 51.3%,#ff7b7b 66.7%,#ff7474 71.6%,#ff6c6c 73.1%,#ff1d1d 74.6%,#ff1616 77.6%,#ff2121 84.4%,#ff8181 88.5%,#ff7777 89.7%,#ff2727 93.4%,#ff2727 99.8%)"></i><i style="height:1px;background:linear-gradient(90deg,#ff8d8d 0.2%,#ff7373 26.1%,#ff7b7b 28.0%,#ff8484 32.1%,#ff8a8a 50.9%,#ff7b7b 66.4%,#ff7474 71.2%,#ff7373 72.4%,#ff5959 73.1%,#ff2b2b 73.9%,#ff1717 74.6%,#ff1c1c 83.6%,#ff6a6a 87.0%,#ff8282 88.5%,#ff2727 93.0%,#ff2727 99.8%)"></i><i style="height:1px;background:linear-gradient(90deg,#ff8e8e 0.2%,#ff7272 26.1%,#ff8484 29.9%,#ff8a8a 50.6%,#ff7b7b 66.0%,#ff7575 70.9%,#ff7373 72.0%,#ff5757 72.7%,#ff2929 73.5%,#ff1717 74.2%,#ff1d1d 83.3%,#ff8282 87.8%,#ff7878 88.9%,#ff2727 92.7%,#ff2727 99.8%)"></i><i style="height:1px;background:linear-gradient(90deg,#ff8e8e 0.2%,#ff7575 26.9%,#ff8585 29.1%,#ff8b8b 50.2%,#ff7c7c 65.6%,#ff7575 70.5%,#ff7272 71.6%,#ff5454 72.4%,#ff2727 73.1%,#ff1616 73.9%,#ff1d1d 82.9%,#ff8383 87.4%,#ff7878 88.5%,#ff2727 92.3%,#ff2727 99.8%)"></i><i style="height:1px;background:linear-gradient(90deg,#ff8f8f 0.2%,#ff7575 26.5%,#ff8585 28.8%,#ff8b8b 49.8%,#ff7e7e 64.8%,#ff7575 69.7%,#ff7272 71.2%,#ff5252 72.0%,#ff2626 72.7%,#ff1515 73.9%,#ff1d1d 82.5%,#ff8484 87.0%,#ff7878 88.2%,#ff2727 91.9%,#ff2828 99.8%)"></i><i style="height:1px;background:linear-gradient(90deg,#ff8f8f 0.2%,#ff7979 26.5%,#ff8686 28.8%,#ff8c8c 49.4%,#ff7e7e 64.5%,#ff7676 69.4%,#ff7272 70.9%,#ff5050 71.6%,#ff2424 72.4%,#ff1515 73.5%,#ff1d1d 82.1%,#ff8484 86.7%,#ff7979 87.8%,#ff2727 91.5%,#ff2828 99.8%)"></i><i style="height:1px;background:linear-gradient(90deg,#ff9090 0.2%,#ff7979 26.1%,#ff8787 28.4%,#ff8d8d 49.1%,#ff7f7f 64.1%,#ff7777 69.0%,#ff7373 70.5%,#ff4e4e 71.2%,#ff2323 72.0%,#ff1515 73.1%,#ff1d1d 81.8%,#ff8585 86.3%,#ff7a7a 87.4%,#ff2727 91.2%,#ff2828 99.8%)"></i><i style="height:1px;background:linear-gradient(90deg,#ff9090 0.2%,#ff7979 25.8%,#ff8787 28.0%,#ff8e8e 48.7%,#ff8080 63.7%,#ff7878 68.6%,#ff7373 70.1%,#ff4c4c 70.9%,#ff2121 71.6%,#ff1515 73.1%,#ff1d1d 81.4%,#ff8686 85.9%,#ff7b7b 87.0%,#ff2727 90.8%,#ff2828 99.8%)"></i><i style="height:1px;background:linear-gradient(90deg,#ff9191 0.2%,#ff7979 25.4%,#ff8888 27.6%,#ff8e8e 48.3%,#ff8080 63.3%,#ff7979 68.2%,#ff7373 69.7%,#ff4a4a 70.5%,#ff2020 71.2%,#ff1616 73.1%,#ff1d1d 81.0%,#ff8686 85.5%,#ff7b7b 86.7%,#ff2727 90.4%,#ff2828 99.8%)"></i><i style="height:1px;background:linear-gradient(90deg,#ff9191 0.2%,#ff7979 25.0%,#ff8989 27.3%,#ff8f8f 47.9%,#ff8080 63.3%,#ff7b7b 68.2%,#ff7272 69.4%,#ff1e1e 70.9%,#ff1616 73.1%,#ff1d1d 80.6%,#ff8787 85.2%,#ff7c7c 86.3%,#ff2727 90.0%,#ff2828 99.8%)"></i><i style="height:1px;background:linear-gradient(90deg,#ff9292 0.2%,#ff7d7d 25.0%,#ff8a8a 27.3%,#ff9090 47.6%,#ff8181 63.0%,#ff7979 68.6%,#ff5f5f 69.4%,#ff2d2d 70.1%,#ff1717 70.9%,#ff1e1e 80.3%,#ff8888 84.8%,#ff7d7d 85.9%,#ff2727 89.7%,#ff2929 99.8%)"></i><i style="height:1px;background:linear-gradient(90deg,#ff9292 0.2%,#ff7c7c 24.6%,#ff8a8a 26.9%,#ff9191 47.2%,#ff8181 62.6%,#ff7a7a 68.2%,#ff5d5d 69.0%,#ff2c2c 69.7%,#ff1717 70.5%,#ff1e1e 79.9%,#ff8888 84.4%,#ff7e7e 85.5%,#ff2828 89.3%,#ff2d2d 99.8%)"></i><i style="height:1px;background:linear-gradient(90deg,#ff9292 0.2%,#ff7c7c 24.2%,#ff8b8b 26.5%,#ff9292 46.8%,#ff8282 62.2%,#ff7a7a 67.9%,#ff5b5b 68.6%,#ff2a2a 69.4%,#ff1717 70.1%,#ff1e1e 79.5%,#ff8989 84.0%,#ff7e7e 85.2%,#ff2828 88.9%,#ff2f2f 99.4%,#ff3434 99.8%)"></i><i style="height:1px;background:linear-gradient(90deg,#ff9393 0.2%,#ff7c7c 23.9%,#ff8c8c 26.1%,#ff9292 46.4%,#ff8383 61.8%,#ff7a7a 67.5%,#ff5959 68.2%,#ff2929 69.0%,#ff1717 69.7%,#ff1e1e 79.1%,#ff8a8a 83.6%,#ff7f7f 84.8%,#ff2828 88.5%,#ff2b2b 98.7%,#ff3e3e 99.8%)"></i><i style="height:1px;background:linear-gradient(90deg,#ff9393 0.2%,#ff8080 23.9%,#ff8d8d 26.1%,#ff9393 46.1%,#ff8484 61.5%,#ff7a7a 67.1%,#ff5757 67.9%,#ff2727 68.6%,#ff1616 69.4%,#ff1e1e 78.8%,#ff8a8a 83.3%,#ff8080 84.4%,#ff2828 88.2%,#ff2b2b 98.3%,#ff4a4a 99.8%)"></i><i style="height:1px;background:linear-gradient(90deg,#ff9494 0.2%,#ff8080 23.5%,#ff8e8e 25.8%,#ff9494 45.7%,#ff8484 61.1%,#ff7a7a 66.7%,#ff5555 67.5%,#ff2626 68.2%,#ff1515 69.4%,#ff1e1e 78.4%,#ff8b8b 82.9%,#ff8181 84.0%,#ff2828 87.8%,#ff2b2b 97.9%,#ff5757 99.8%)"></i><i style="height:1px;background:linear-gradient(90deg,#ff9494 0.2%,#ff8080 23.1%,#ff8e8e 25.4%,#ff9595 45.7%,#ff8585 60.7%,#ff7a7a 66.4%,#ff5252 67.1%,#ff2424 67.9%,#ff1515 69.0%,#ff1e1e 78.0%,#ff8c8c 82.5%,#ff8181 83.6%,#ff2828 87.4%,#ff2f2f 97.9%,#ff6565 99.8%)"></i><i style="height:1px;background:linear-gradient(90deg,#ff9595 0.2%,#ff8080 22.7%,#ff8f8f 25.0%,#ff9595 45.3%,#ff8686 60.3%,#ff8181 65.6%,#ff6a6a 66.4%,#ff2222 67.5%,#ff1515 68.6%,#ff1e1e 77.6%,#ff8d8d 82.1%,#ff8282 83.3%,#ff2828 87.0%,#ff2f2f 97.6%,#ff7373 99.8%)"></i><i style="height:1px;background:linear-gradient(90deg,#ff9595 0.2%,#ff8080 22.4%,#ff9090 24.6%,#ff9696 44.9%,#ff8787 60.0%,#ff8181 65.2%,#ff6969 66.0%,#ff2121 67.1%,#ff1515 68.6%,#ff1e1e 77.3%,#ff8d8d 81.8%,#ff8383 82.9%,#ff2828 86.7%,#ff2f2f 97.2%,#ff8181 99.8%)"></i><i style="height:1px;background:linear-gradient(90deg,#ff9696 0.2%,#ff8484 22.4%,#ff9191 24.6%,#ff9797 44.5%,#ff8787 59.6%,#ff8181 64.8%,#ff6767 65.6%,#ff3131 66.4%,#ff1818 67.1%,#ff1e1e 76.9%,#ff8e8e 81.4%,#ff8484 82.5%,#ff2828 86.3%,#ff2e2e 96.8%,#ff7979 99.1%,#ff9191 99.8%)"></i><i style="height:1px;background:linear-gradient(90deg,#ff9696 0.2%,#ff8484 22.0%,#ff9292 24.2%,#ff9898 44.2%,#ff8888 59.2%,#ff8181 64.5%,#ff6565 65.2%,#ff2f2f 66.0%,#ff1717 66.7%,#ff1f1f 76.5%,#ff8f8f 81.0%,#ff8585 82.1%,#ff2828 85.9%,#ff2e2e 96.4%,#ff6b6b 98.3%,#ffa2a2 99.8%)"></i><i style="height:1px;background:linear-gradient(90deg,#ff9797 0.2%,#ff8484 21.6%,#ff9292 23.9%,#ff9999 43.8%,#ff8989 58.8%,#ff8282 64.1%,#ff6363 64.8%,#ff2e2e 65.6%,#ff1717 66.4%,#ff1f1f 76.1%,#ff8f8f 80.6%,#ff8585 81.8%,#ff2828 85.5%,#ff2e2e 96.1%,#ff6c6c 97.9%,#ffb2b2 99.8%)"></i><i style="height:1px;background:linear-gradient(90deg,#ff9797 0.2%,#ff8484 21.2%,#ff9393 23.5%,#ff9999 43.4%,#ff8a8a 58.5%,#ff8282 63.7%,#ff6161 64.5%,#ff2c2c 65.2%,#ff1717 66.0%,#ff1f1f 75.8%,#ff9090 80.3%,#ff8686 81.4%,#ff2828 85.2%,#ff2e2e 95.7%,#ff6c6c 97.6%,#ffc3c3 99.8%)"></i><i style="height:1px;background:linear-gradient(90deg,#ff9898 0.2%,#ff8484 20.9%,#ff9494 23.1%,#ff9a9a 43.0%,#ff8b8b 58.1%,#ff8282 63.3%,#ff5e5e 64.1%,#ff2a2a 64.8%,#ff1717 65.6%,#ff1f1f 75.4%,#ff9191 79.9%,#ff8787 81.0%,#ff2929 84.8%,#ff2e2e 95.3%,#ff5d5d 96.8%,#ffd4d4 99.8%)"></i><i style="height:1px;background:linear-gradient(90deg,#ff9898 0.2%,#ff8787 20.9%,#ff9595 23.1%,#ff9b9b 42.7%,#ff8b8b 57.7%,#ff8282 63.0%,#ff5c5c 63.7%,#ff2929 64.5%,#ff1616 65.2%,#ff1f1f 75.0%,#ff9191 79.5%,#ff8888 80.6%,#ff2929 84.4%,#ff2d2d 94.9%,#ff5d5d 96.4%,#ffe5e5 99.8%)"></i><i style="height:1px;background:linear-gradient(90deg,#ff9999 0.2%,#ff8787 20.5%,#ff9595 22.7%,#ff9c9c 42.3%,#ff8c8c 57.3%,#ff8282 62.6%,#ff5959 63.3%,#ff2727 64.1%,#ff1616 64.8%,#ff1f1f 74.6%,#ff9292 79.1%,#ff8989 80.3%,#ff2929 84.0%,#ff2d2d 94.5%,#ff5d5d 96.1%,#fff5f5 99.8%)"></i><i style="height:1px;background:linear-gradient(90deg,#ff9999 0.2%,#ff8787 20.1%,#ff9696 22.4%,#ff9d9d 41.9%,#ff8d8d 57.0%,#ff8888 61.8%,#ff7171 62.6%,#ff2525 63.7%,#ff1515 64.8%,#ff1f1f 74.2%,#ff9393 78.8%,#ff8989 79.9%,#ff2929 83.6%,#ff2d2d 94.2%,#ff5d5d 95.7%,#fffafa 99.4%,#fbfbff 99.8%)"></i><i style="height:1px;background:linear-gradient(90deg,#ff9a9a 0.2%,#ff8787 19.7%,#ff9797 22.0%,#ffa0a0 31.4%,#ff9090 55.8%,#ff8989 61.5%,#ff7070 62.2%,#ff2323 63.3%,#ff1515 64.5%,#ff1f1f 73.9%,#ff9393 78.4%,#ff8a8a 79.5%,#ff2929 83.3%,#ff2d2d 93.8%,#ff5e5e 95.3%,#fffbfb 99.1%,#eeeeff 99.8%)"></i><i style="height:1px;background:linear-gradient(90deg,#ff9a9a 0.2%,#ff8b8b 19.7%,#ff9898 22.0%,#ffa1a1 31.0%,#ffb4b4 32.1%,#ffa2a2 33.3%,#ff9090 55.8%,#ff8989 61.1%,#ff6f6f 61.8%,#ff3535 62.6%,#ff1919 63.3%,#ff2020 73.5%,#ff9494 78.0%,#ff8b8b 79.1%,#ff2929 82.9%,#ff2c2c 93.4%,#ff4d4d 94.5%,#fffcfc 98.7%,#e1e1ff 99.8%)"></i><i style="height:1px;background:linear-gradient(90deg,#ff9a9a 0.2%,#ff8b8b 19.4%,#ff9999 21.6%,#ff9f9f 30.6%,#ffc4c4 31.8%,#ffc5c5 32.1%,#ffa4a4 33.3%,#ffa7a7 37.8%,#ffa7a7 38.9%,#ff9d9d 44.2%,#ff8c8c 57.0%,#ff8a8a 60.7%,#ff6e6e 61.5%,#ff3333 62.2%,#ff1818 63.0%,#ff2020 73.1%,#ff9595 77.6%,#ff8c8c 78.8%,#ff2929 82.5%,#ff2c2c 93.0%,#ff4d4d 94.2%,#fffdfd 98.3%,#d6d6ff 99.8%)"></i><i style="height:1px;background:linear-gradient(90deg,#ff9b9b 0.2%,#ff8b8b 19.0%,#ff9999 21.2%,#ffa1a1 30.6%,#ffcfcf 31.8%,#ffcfcf 32.1%,#ffa5a5 33.3%,#ffa8a8 37.4%,#ffc2c2 38.2%,#ffc3c3 38.5%,#ffa2a2 39.7%,#ff9090 55.8%,#ff8a8a 60.3%,#ff6c6c 61.1%,#ff3232 61.8%,#ff1818 62.6%,#ff2020 72.7%,#ff9595 77.3%,#ff8c8c 78.4%,#ff2929 82.1%,#ff2c2c 92.7%,#ff4c4c 93.8%,#fffcfc 97.9%,#cbcbff 99.8%)"></i><i style="height:1px;background:linear-gradient(90deg,#ff9b9b 0.2%,#ff8b8b 18.6%,#ff9a9a 20.9%,#ffa3a3 30.6%,#ffd2d2 31.8%,#ffd1d1 32.1%,#ffa6a6 33.3%,#ffa5a5 37.0%,#ffd7d7 38.2%,#ffd8d8 38.5%,#ffa4a4 39.7%,#ff8f8f 56.2%,#ff8b8b 60.0%,#ff6a6a 60.7%,#ff3131 61.5%,#ff1919 62.2%,#ff1c1c 72.0%,#ff5050 74.2%,#ff9696 76.9%,#ff8d8d 78.0%,#ff2929 81.8%,#ff2b2b 92.3%,#ff4a4a 93.4%,#fffbfb 97.6%,#c0c0ff 99.8%)"></i><i style="height:1px;background:linear-gradient(90deg,#ff9c9c 0.2%,#ff8e8e 18.6%,#ff9b9b 21.2%,#ffa5a5 30.6%,#ffd4d4 31.8%,#ffd1d1 32.1%,#ffafaf 32.9%,#ffa5a5 35.2%,#ffa8a8 37.0%,#ffe2e2 38.2%,#ffe1e1 38.5%,#ffa6a6 39.7%,#ff8c8c 59.6%,#ff6969 60.3%,#ff3030 61.1%,#ff1919 61.8%,#ff1c1c 71.6%,#ff5151 73.9%,#ff9797 76.5%,#ff8e8e 77.6%,#ff2929 81.4%,#ff2b2b 91.9%,#ff4848 93.0%,#fff9f9 97.2%,#ececff 97.9%,#b6b6ff 99.8%)"></i><i style="height:1px;background:linear-gradient(90deg,#ff9c9c 0.2%,#ff8e8e 18.2%,#ff9c9c 20.9%,#ffa7a7 30.6%,#ffd5d5 31.8%,#ffd0d0 32.1%,#ffaeae 32.9%,#ffa5a5 36.3%,#ffaaaa 37.0%,#ffe6e6 38.2%,#ffe2e2 38.5%,#ffb4b4 39.3%,#ffa4a4 40.0%,#ff9494 54.7%,#ff8d8d 59.2%,#ff6767 60.0%,#ff3030 60.7%,#ff1a1a 61.5%,#ff1c1c 71.2%,#ff5151 73.5%,#ff9797 76.1%,#ff8e8e 77.3%,#ff2929 81.0%,#ff2b2b 91.5%,#ff4646 92.7%,#fff6f6 96.8%,#fafaff 97.2%,#acacff 99.8%)"></i><i style="height:1px;background:linear-gradient(90deg,#ff9c9c 0.2%,#ff8e8e 17.9%,#ff9c9c 20.5%,#ffa9a9 30.6%,#ffd7d7 31.8%,#ffd0d0 32.1%,#ffaeae 32.9%,#ffa7a7 36.7%,#ffadad 37.0%,#ffdada 37.8%,#ffe7e7 38.2%,#ffe0e0 38.5%,#ffb2b2 39.3%,#ffa5a5 40.0%,#ff9494 54.7%,#ff8e8e 58.8%,#ff6666 59.6%,#ff2f2f 60.3%,#ff1b1b 61.1%,#ff1c1c 70.9%,#ff5151 73.1%,#ff9898 75.8%,#ff8f8f 76.9%,#ff2929 80.6%,#ff2f2f 91.5%,#ff6464 93.0%,#fff4f4 96.4%,#fcfcff 96.8%,#a3a3ff 99.8%)"></i><i style="height:1px;background:linear-gradient(90deg,#ff9c9c 0.2%,#ff8e8e 17.5%,#ff9d9d 20.1%,#ffabab 30.6%,#ffd8d8 31.8%,#ffaeae 32.9%,#ffa8a8 36.7%,#ffb0b0 37.0%,#ffdddd 37.8%,#ffe7e7 38.2%,#ffdede 38.5%,#ffb1b1 39.3%,#ffa5a5 40.4%,#ff9696 54.3%,#ff9595 58.1%,#ff7f7f 58.8%,#ff2e2e 60.0%,#ff1c1c 60.7%,#ff1c1c 70.5%,#ff5252 72.7%,#ff9999 75.4%,#ff9090 76.5%,#ff2929 80.3%,#ff2e2e 91.2%,#ff6262 92.7%,#fefeff 96.4%,#9b9bff 99.8%)"></i><i style="height:1px;background:linear-gradient(90deg,#ff9c9c 0.2%,#ff8e8e 17.1%,#ff9e9e 20.1%,#ffaeae 30.6%,#ffd8d8 31.8%,#ffaeae 32.9%,#ffaaaa 36.7%,#ffb4b4 37.0%,#ffe0e0 37.8%,#ffe8e8 38.2%,#ffdcdc 38.5%,#ffafaf 39.3%,#ffa6a6 41.9%,#ff9797 57.7%,#ff7e7e 58.5%,#ff2d2d 59.6%,#ff1d1d 60.3%,#ff1d1d 70.1%,#ff5252 72.4%,#ff9999 75.0%,#ff9191 76.1%,#ff2a2a 79.9%,#ff2d2d 90.8%,#ff6060 92.3%,#fffefe 96.1%,#9a9aff 99.4%,#9494ff 99.8%)"></i><i style="height:1px;background:linear-gradient(90deg,#ff9b9b 0.2%,#ff9292 17.1%,#ff9f9f 20.1%,#ffabab 30.3%,#ffbebe 31.0%,#ffd8d8 31.8%,#ffaeae 32.9%,#ffacac 36.7%,#ffcfcf 37.4%,#ffe3e3 37.8%,#ffe7e7 38.2%,#ffaeae 39.3%,#ff9898 57.3%,#ff7e7e 58.1%,#ff2c2c 59.2%,#ff1c1c 60.3%,#ff1d1d 69.7%,#ff5353 72.0%,#ff9a9a 74.6%,#ff9191 75.8%,#ff2a2a 79.5%,#ff2c2c 90.4%,#ff4d4d 91.5%,#fffcfc 95.7%,#9494ff 99.4%,#9090ff 99.8%)"></i><i style="height:1px;background:linear-gradient(90deg,#ff9898 0.2%,#ff9292 16.7%,#ffa0a0 19.7%,#ffadad 30.3%,#ffc1c1 31.0%,#ffd8d8 31.8%,#ffaeae 32.9%,#ffadad 36.7%,#ffe5e5 37.8%,#ffe7e7 38.2%,#ffadad 39.3%,#ff9a9a 57.0%,#ff7e7e 57.7%,#ff4040 58.5%,#ff2121 59.2%,#ff1d1d 69.4%,#ff5353 71.6%,#ff9b9b 74.2%,#ff9292 75.4%,#ff2a2a 79.1%,#ff2c2c 90.0%,#ff4b4b 91.2%,#fffafa 95.3%,#dedeff 96.4%,#9494ff 99.1%,#8b8bff 99.8%)"></i><i style="height:1px;background:linear-gradient(90deg,#ff9797 0.2%,#ff9191 14.5%,#ff9696 16.7%,#ffa3a3 22.0%,#ffaeae 30.3%,#ffd3d3 31.4%,#ffd7d7 31.8%,#ffafaf 32.9%,#ffafaf 36.7%,#ffe7e7 37.8%,#ffe5e5 38.2%,#ffadad 39.3%,#ff9b9b 56.6%,#ff7d7d 57.3%,#ff3f3f 58.1%,#ff2222 58.8%,#ff1d1d 69.0%,#ff5454 71.2%,#ff9b9b 73.9%,#ff9393 75.0%,#ff2a2a 78.8%,#ff2b2b 89.7%,#ff4949 90.8%,#fff8f8 94.9%,#f8f8ff 95.3%,#9595ff 98.7%,#8787ff 99.8%)"></i><i style="height:1px;background:linear-gradient(90deg,#ff9797 0.2%,#ff9191 14.5%,#ff9a9a 16.7%,#ffb0b0 30.3%,#ffd5d5 31.4%,#ffd7d7 31.8%,#ffb0b0 32.9%,#ffb2b2 36.7%,#ffe8e8 37.8%,#ffe3e3 38.2%,#ffb9b9 38.9%,#ffabab 39.7%,#ff9c9c 56.2%,#ff7c7c 57.0%,#ff3e3e 57.7%,#ff2222 58.5%,#ff1d1d 68.6%,#ff5f5f 71.2%,#ff9c9c 73.5%,#ff9393 74.6%,#ff2a2a 78.4%,#ff2b2b 89.3%,#ff4848 90.4%,#fff6f6 94.5%,#fafaff 94.9%,#9595ff 98.3%,#8383ff 99.8%)"></i><i style="height:1px;background:linear-gradient(90deg,#ff9797 0.2%,#ff9191 14.5%,#ffa4a4 20.5%,#ffb1b1 30.3%,#ffd6d6 31.4%,#ffd6d6 31.8%,#ffb0b0 32.9%,#ffafaf 36.3%,#ffc7c7 37.0%,#ffdede 37.4%,#ffe8e8 37.8%,#ffe1e1 38.2%,#ffb8b8 38.9%,#ffacac 40.0%,#ff9d9d 55.8%,#ff7a7a 56.6%,#ff3e3e 57.3%,#ff2323 58.1%,#ff1d1d 68.2%,#ff5f5f 70.9%,#ff9d9d 73.1%,#ff9494 74.2%,#ff2a2a 78.0%,#ff2b2b 88.9%,#ff4646 90.0%,#fff4f4 94.2%,#fcfcff 94.5%,#9696ff 97.9%,#7f7fff 99.8%)"></i><i style="height:1px;background:linear-gradient(90deg,#ff9898 0.2%,#ff9595 15.6%,#ffa5a5 19.7%,#ffb2b2 30.3%,#ffd7d7 31.4%,#ffd6d6 31.8%,#ffb1b1 32.9%,#ffb0b0 36.3%,#ffcccc 37.0%,#ffe1e1 37.4%,#ffe9e9 37.8%,#ffdfdf 38.2%,#ffb6b6 38.9%,#ffadad 41.2%,#ff9d9d 55.5%,#ff7878 56.2%,#ff3d3d 57.0%,#ff2424 57.7%,#ff1e1e 67.9%,#ff6060 70.5%,#ff9d9d 72.7%,#ff9595 73.9%,#ff2a2a 77.6%,#ff2a2a 88.5%,#ff4444 89.7%,#fefeff 94.2%,#9797ff 97.6%,#7b7bff 99.8%)"></i><i style="height:1px;background:linear-gradient(90deg,#ff9999 0.2%,#ff9595 15.2%,#ffa5a5 19.4%,#ffb4b4 30.3%,#ffd8d8 31.4%,#ffc7c7 32.1%,#ffb2b2 32.9%,#ffb2b2 36.3%,#ffd0d0 37.0%,#ffe3e3 37.4%,#ffe9e9 37.8%,#ffb5b5 38.9%,#ff9e9e 55.1%,#ff7777 55.8%,#ff3c3c 56.6%,#ff2424 57.3%,#ff1e1e 67.5%,#ff6060 70.1%,#ff9e9e 72.4%,#ff9595 73.5%,#ff2a2a 77.3%,#ff2a2a 88.2%,#ff4242 89.3%,#fffefe 93.8%,#9797ff 97.2%,#7676ff 99.8%)"></i><i style="height:1px;background:linear-gradient(90deg,#ff9999 0.2%,#ff9999 15.2%,#ffa8a8 21.6%,#ffb5b5 30.3%,#ffd9d9 31.4%,#ffc6c6 32.1%,#ffb3b3 32.9%,#ffb4b4 36.3%,#ffe6e6 37.4%,#ffe8e8 37.8%,#ffb5b5 38.9%,#ff9f9f 54.7%,#ff7575 55.5%,#ff3b3b 56.2%,#ff2525 57.0%,#ff1e1e 67.1%,#ff6161 69.7%,#ff9f9f 72.0%,#ff9696 73.1%,#ff2a2a 76.9%,#ff2a2a 87.8%,#ff4141 88.9%,#fffcfc 93.4%,#9191ff 97.2%,#7272ff 99.8%)"></i><i style="height:1px;background:linear-gradient(90deg,#ff9a9a 0.2%,#ff9999 14.8%,#ffa9a9 20.5%,#ffb6b6 30.3%,#ffdada 31.4%,#ffb4b4 32.9%,#ffb5b5 36.3%,#ffe8e8 37.4%,#ffe7e7 37.8%,#ffb5b5 38.9%,#ffa7a7 53.9%,#ff8f8f 54.7%,#ff3a3a 55.8%,#ff2626 56.6%,#ff1e1e 66.7%,#ff6c6c 69.7%,#ff9f9f 71.6%,#ff9797 72.7%,#ff2a2a 76.5%,#ff2a2a 87.4%,#ff3f3f 88.5%,#fff9f9 93.0%,#eaeaff 93.8%,#9292ff 96.8%,#6e6eff 99.8%)"></i><i style="height:1px;background:linear-gradient(90deg,#ff9a9a 0.2%,#ff9999 14.5%,#ffa9a9 19.7%,#ffb8b8 30.3%,#ffdbdb 31.4%,#ffb5b5 32.9%,#ffb8b8 36.3%,#ffe9e9 37.4%,#ffe6e6 37.8%,#ffb5b5 38.9%,#ffa8a8 53.6%,#ff8f8f 54.3%,#ff3939 55.5%,#ff2727 56.2%,#ff1e1e 66.4%,#ff6d6d 69.4%,#ffa0a0 71.2%,#ff9797 72.4%,#ff2a2a 76.1%,#ff2929 87.0%,#ff3d3d 88.2%,#fff7f7 92.7%,#f9f9ff 93.0%,#9292ff 96.4%,#6a6aff 99.8%)"></i><i style="height:1px;background:linear-gradient(90deg,#ff9b9b 0.2%,#ff9999 14.1%,#ffaaaa 19.4%,#ffb9b9 30.3%,#ffdbdb 31.4%,#ffb9b9 32.5%,#ffbaba 36.3%,#ffeaea 37.4%,#ffe4e4 37.8%,#ffbfbf 38.5%,#ffb4b4 39.7%,#ffaaaa 53.2%,#ff8f8f 53.9%,#ff3838 55.1%,#ff2626 56.2%,#ff1e1e 66.0%,#ff6d6d 69.0%,#ffa0a0 70.9%,#ff9898 72.0%,#ff2a2a 75.8%,#ff2929 86.7%,#ff3c3c 87.8%,#fff5f5 92.3%,#fbfbff 92.7%,#9393ff 96.1%,#6565ff 99.8%)"></i><i style="height:1px;background:linear-gradient(90deg,#ff9c9c 0.2%,#ff9c9c 14.1%,#ffadad 22.0%,#ffbbbb 28.0%,#ffbbbb 30.3%,#ffdbdb 31.4%,#ffb9b9 32.5%,#ffb7b7 35.9%,#ffcece 36.7%,#ffeaea 37.4%,#ffcfcf 38.2%,#ffb7b7 38.9%,#ffabab 52.8%,#ffa3a3 53.2%,#ff6e6e 53.9%,#ff3737 54.7%,#ff2727 55.8%,#ff1e1e 65.6%,#ff7979 69.0%,#ffa1a1 70.5%,#ff9999 71.6%,#ff2a2a 75.4%,#ff2828 85.9%,#ff3030 87.0%,#ffa4a4 90.0%,#fdfdff 92.3%,#9494ff 95.7%,#6161ff 99.8%)"></i><i style="height:1px;background:linear-gradient(90deg,#ff9c9c 0.2%,#ff9c9c 13.7%,#ffaeae 21.2%,#ffb9b9 26.5%,#ffc5c5 27.6%,#ffb8b8 29.5%,#ffbdbd 30.3%,#ffdbdb 31.4%,#ffbaba 32.5%,#ffb9b9 35.9%,#ffd2d2 36.7%,#ffeaea 37.4%,#ffbdbd 38.5%,#ffaeae 51.3%,#ffacac 52.4%,#ffa3a3 52.8%,#ff6d6d 53.6%,#ff3636 54.3%,#ff2828 55.5%,#ff1f1f 65.2%,#ff7979 68.6%,#ffa2a2 70.1%,#ff9999 71.2%,#ff2b2b 75.0%,#ff2828 84.8%,#ff3030 86.7%,#ff9292 89.3%,#ffffff 91.9%,#9595ff 95.3%,#5d5dff 99.8%)"></i><i style="height:1px;background:linear-gradient(90deg,#ff9d9d 0.2%,#ff9c9c 13.3%,#ffaeae 20.1%,#ffbcbc 26.5%,#ffc9c9 27.6%,#ffb9b9 29.1%,#ffbfbf 30.3%,#ffd8d8 31.0%,#ffdbdb 31.4%,#ffbbbb 32.5%,#ffbaba 35.9%,#ffe6e6 37.0%,#ffeaea 37.4%,#ffbcbc 38.5%,#ffb0b0 51.3%,#ffadad 52.1%,#ffa3a3 52.4%,#ff6b6b 53.2%,#ff3636 53.9%,#ff2828 55.5%,#ff1f1f 64.8%,#ff7a7a 68.2%,#ffa2a2 69.7%,#ff9a9a 70.9%,#ff2b2b 74.6%,#ff2828 83.6%,#ff2f2f 86.3%,#ff8080 88.5%,#fffdfd 91.5%,#8e8eff 95.3%,#5858ff 99.8%)"></i><i style="height:1px;background:linear-gradient(90deg,#ff9d9d 0.2%,#ff9c9c 13.0%,#ffafaf 19.4%,#ffbebe 26.5%,#ffcbcb 27.6%,#ffbaba 29.1%,#ffc1c1 30.3%,#ffd9d9 31.0%,#ffd1d1 31.8%,#ffbcbc 32.5%,#ffbcbc 35.9%,#ffe8e8 37.0%,#ffeaea 37.4%,#ffbcbc 38.5%,#ffaeae 51.7%,#ffa2a2 52.1%,#ff4a4a 53.2%,#ff2d2d 53.9%,#ff1f1f 64.5%,#ff8585 68.2%,#ffa6a6 69.7%,#ff8484 71.2%,#ff2b2b 74.2%,#ff2727 82.5%,#ff2e2e 85.9%,#ff6e6e 87.8%,#fffbfb 91.2%,#8f8fff 94.9%,#5454ff 99.8%)"></i><i style="height:1px;background:linear-gradient(90deg,#ff9e9e 0.2%,#ffa0a0 13.0%,#ffb1b1 20.9%,#ffc0c0 26.5%,#ffcbcb 27.6%,#ffbbbb 29.1%,#ffc2c2 30.3%,#ffdada 31.0%,#ffd0d0 31.8%,#ffbbbb 32.9%,#ffbebe 35.9%,#ffeaea 37.0%,#ffe8e8 37.4%,#ffbdbd 38.5%,#ffafaf 51.3%,#ffa2a2 51.7%,#ff4949 52.8%,#ff2e2e 53.6%,#ff1f1f 64.1%,#ffa4a4 69.0%,#ffa4a4 69.7%,#ff2b2b 73.9%,#ff2727 81.4%,#ff2e2e 85.5%,#ff5d5d 87.0%,#fff9f9 90.8%,#eaeaff 91.5%,#8f8fff 94.5%,#4f4fff 99.8%)"></i><i style="height:1px;background:linear-gradient(90deg,#ff9f9f 0.2%,#ffa0a0 12.6%,#ffb1b1 20.1%,#ffc1c1 26.5%,#ffcbcb 27.6%,#ffbdbd 29.1%,#ffc4c4 30.3%,#ffdada 31.0%,#ffd0d0 31.8%,#ffbcbc 32.9%,#ffc0c0 35.9%,#ffebeb 37.0%,#ffd8d8 37.8%,#ffbebe 38.5%,#ffb0b0 50.9%,#ffa1a1 51.3%,#ff4848 52.4%,#ff2f2f 53.2%,#ff1f1f 63.7%,#ffa4a4 68.6%,#ffa4a4 69.4%,#ff2b2b 73.5%,#ff2727 80.6%,#ff2d2d 85.2%,#ff5b5b 86.7%,#fff7f7 90.4%,#f9f9ff 90.8%,#9090ff 94.2%,#4b4bff 99.8%)"></i><i style="height:1px;background:linear-gradient(90deg,#ff9f9f 0.2%,#ffa0a0 12.2%,#ffb2b2 19.4%,#ffc3c3 26.5%,#ffcccc 27.6%,#ffbebe 29.1%,#ffc5c5 30.3%,#ffdbdb 31.0%,#ffd0d0 31.8%,#ffbebe 32.9%,#ffc3c3 35.9%,#ffebeb 37.0%,#ffd5d5 37.8%,#ffbebe 38.5%,#ffb1b1 50.6%,#ffa1a1 50.9%,#ff4747 52.1%,#ff2f2f 52.8%,#ff1f1f 63.3%,#ffa5a5 68.2%,#ffa5a5 69.0%,#ff2b2b 73.1%,#ff2626 79.5%,#ff2c2c 84.8%,#ff5959 86.3%,#fff4f4 90.0%,#fbfbff 90.4%,#9191ff 93.8%,#4747ff 99.8%)"></i><i style="height:1px;background:linear-gradient(90deg,#ffa0a0 0.2%,#ffa0a0 11.8%,#ffb3b3 18.6%,#ffc4c4 26.5%,#ffcfcf 27.3%,#ffbfbf 29.1%,#ffc6c6 30.3%,#ffdcdc 31.0%,#ffd1d1 31.8%,#ffbfbf 32.9%,#ffc6c6 35.9%,#ffe5e5 36.7%,#ffecec 37.0%,#ffbfbf 38.5%,#ffb8b8 49.8%,#ffa0a0 50.6%,#ff4646 51.7%,#ff3030 52.4%,#ff1f1f 63.0%,#ffa6a6 67.9%,#ffa6a6 68.6%,#ff2b2b 72.7%,#ff2626 78.8%,#ff2c2c 84.4%,#ff5757 85.9%,#fdfdff 90.0%,#9292ff 93.4%,#4242ff 99.8%)"></i><i style="height:1px;background:linear-gradient(90deg,#ffa1a1 0.2%,#ffa3a3 11.8%,#ffb4b4 19.4%,#ffc6c6 26.5%,#ffd0d0 27.3%,#ffc0c0 29.1%,#ffc7c7 30.3%,#ffdcdc 31.0%,#ffd1d1 31.8%,#ffc0c0 32.9%,#ffc1c1 35.5%,#ffe7e7 36.7%,#ffecec 37.0%,#ffc4c4 38.2%,#ffb9b9 48.3%,#ffb3b3 49.8%,#ffa0a0 50.2%,#ff4545 51.3%,#ff3131 52.1%,#ff2020 62.6%,#ffa6a6 67.5%,#ffa7a7 68.2%,#ff2b2b 72.4%,#ff2626 78.0%,#ff2b2b 84.0%,#ff5656 85.5%,#ffffff 89.7%,#9393ff 93.0%,#3e3eff 99.8%)"></i><i style="height:1px;background:linear-gradient(90deg,#ffa1a1 0.2%,#ffa3a3 11.5%,#ffb5b5 18.6%,#ffc7c7 26.5%,#ffd0d0 27.3%,#ffc1c1 29.1%,#ffc9c9 30.3%,#ffdddd 31.0%,#ffc1c1 32.9%,#ffc3c3 35.5%,#ffe9e9 36.7%,#ffecec 37.0%,#ffc4c4 38.2%,#ffbbbb 47.9%,#ffb4b4 49.4%,#ffa1a1 49.8%,#ff4545 50.9%,#ff3232 51.7%,#ff2020 62.2%,#ffa7a7 67.1%,#ffa8a8 67.9%,#ff2b2b 72.0%,#ff2626 77.3%,#ff3030 84.0%,#ff9f9f 87.0%,#fffdfd 89.3%,#8c8cff 93.0%,#3939ff 99.8%)"></i><i style="height:1px;background:linear-gradient(90deg,#ffa2a2 0.2%,#ffa3a3 11.1%,#ffb6b6 18.2%,#ffc8c8 26.5%,#ffcbcb 27.6%,#ffc2c2 29.5%,#ffd5d5 30.6%,#ffdbdb 31.4%,#ffc2c2 32.5%,#ffc4c4 35.5%,#ffeaea 36.7%,#ffe0e0 37.4%,#ffc4c4 38.2%,#ffbdbd 47.9%,#ffb6b6 49.1%,#ffa2a2 49.4%,#ff4747 50.6%,#ff3636 51.3%,#ff2020 61.8%,#ffa9a9 66.7%,#ffaaaa 67.5%,#ff2c2c 71.6%,#ff2626 76.5%,#ff2f2f 83.6%,#ff8d8d 86.3%,#fffbfb 88.9%,#8d8dff 92.7%,#3535ff 99.8%)"></i><i style="height:1px;background:linear-gradient(90deg,#ffa3a3 0.2%,#ffa3a3 10.7%,#ffb6b6 17.5%,#ffc9c9 26.5%,#ffcbcb 27.6%,#ffc3c3 29.9%,#ffdede 31.0%,#ffc3c3 32.5%,#ffc4c4 35.5%,#ffebeb 36.7%,#ffdede 37.4%,#ffc4c4 38.2%,#ffbebe 47.6%,#ffb7b7 48.7%,#ffa4a4 49.1%,#ff4b4b 50.2%,#ff3a3a 50.9%,#ff2121 61.5%,#ffacac 66.4%,#ffadad 67.1%,#ff2d2d 71.2%,#ff2626 75.0%,#ff2f2f 83.3%,#ff7d7d 85.5%,#fffafa 88.5%,#eaeaff 89.3%,#8f8fff 92.3%,#3131ff 99.8%)"></i><i style="height:1px;background:linear-gradient(90deg,#ffa4a4 0.2%,#ffa6a6 10.7%,#ffb7b7 17.9%,#ffcaca 26.5%,#ffcaca 27.6%,#ffc3c3 29.9%,#ffdede 31.0%,#ffc3c3 32.5%,#ffc4c4 35.5%,#ffebeb 36.7%,#ffdddd 37.4%,#ffc4c4 38.2%,#ffbfbf 47.2%,#ffb7b7 48.3%,#ff8989 49.1%,#ff5151 49.8%,#ff3e3e 50.9%,#ff2222 61.1%,#ffafaf 66.0%,#ffb1b1 66.7%,#ff2e2e 70.9%,#ff2626 73.9%,#ff2f2f 82.9%,#ff7c7c 85.2%,#fff9f9 88.2%,#ebebff 88.9%,#9191ff 91.9%,#2e2eff 99.8%)"></i><i style="height:1px;background:linear-gradient(90deg,#ffa5a5 0.2%,#ffa7a7 10.3%,#ffb8b8 17.5%,#ffc5c5 26.1%,#ffcfcf 27.3%,#ffc2c2 29.1%,#ffcaca 30.3%,#ffdede 31.0%,#ffc3c3 32.5%,#ffcccc 34.0%,#ffc5c5 35.5%,#ffecec 36.7%,#ffdcdc 37.4%,#ffc4c4 38.2%,#ffc0c0 46.8%,#ffb8b8 47.9%,#ff8b8b 48.7%,#ff5757 49.4%,#ff4444 50.6%,#ff2020 60.3%,#ff3f3f 61.8%,#ffb2b2 65.6%,#ffb5b5 66.4%,#ff2f2f 70.5%,#ff2626 72.7%,#ff2e2e 82.5%,#ff6c6c 84.4%,#fff7f7 87.8%,#f9f9ff 88.2%,#9393ff 91.5%,#2b2bff 99.8%)"></i><i style="height:1px;background:linear-gradient(90deg,#ffa6a6 0.2%,#ffa7a7 10.0%,#ffb8b8 16.7%,#ffc5c5 26.1%,#ffcfcf 27.3%,#ffc2c2 29.1%,#ffcbcb 30.3%,#ffdede 31.0%,#ffc3c3 32.5%,#ffd1d1 34.0%,#ffc2c2 35.2%,#ffd1d1 35.9%,#ffecec 36.7%,#ffdbdb 37.4%,#ffc3c3 38.2%,#ffc0c0 47.2%,#ffa7a7 47.9%,#ff5d5d 49.1%,#ff4a4a 50.2%,#ff2121 60.0%,#ff4141 61.5%,#ffb5b5 65.2%,#ffb9b9 66.0%,#ff3030 70.1%,#ff2626 72.4%,#ff2e2e 82.1%,#ff6b6b 84.0%,#fff6f6 87.4%,#fafaff 87.8%,#9595ff 91.2%,#2828ff 99.8%)"></i><i style="height:1px;background:linear-gradient(90deg,#ffa7a7 0.2%,#ffa7a7 9.6%,#ffb8b8 16.0%,#ffc6c6 26.1%,#ffcece 27.3%,#ffc2c2 28.8%,#ffcbcb 30.3%,#ffdede 31.0%,#ffc3c3 32.5%,#ffd2d2 34.0%,#ffc3c3 35.2%,#ffd2d2 35.9%,#ffecec 36.7%,#ffd9d9 37.4%,#ffc3c3 38.2%,#ffc1c1 46.8%,#ffa9a9 47.6%,#ff6363 48.7%,#ff5050 49.8%,#ff2222 59.6%,#ff4242 61.1%,#ffb8b8 64.8%,#ffbdbd 65.6%,#ff6464 68.2%,#ff2b2b 70.1%,#ff2e2e 81.8%,#ff6a6a 83.6%,#fff5f5 87.0%,#fbfbff 87.4%,#9090ff 91.2%,#2727ff 99.8%)"></i><i style="height:1px;background:linear-gradient(90deg,#ffa8a8 0.2%,#ffa7a7 9.2%,#ffb9b9 15.6%,#ffc6c6 26.1%,#ffcece 27.3%,#ffc2c2 28.8%,#ffcbcb 30.3%,#ffdfdf 31.0%,#ffc3c3 32.5%,#ffd2d2 34.0%,#ffc3c3 35.2%,#ffd4d4 35.9%,#ffecec 36.7%,#ffd8d8 37.4%,#ffc3c3 38.2%,#ffc2c2 46.4%,#ffabab 47.2%,#ff6969 48.3%,#ff5353 49.8%,#ff2424 59.2%,#ff4444 60.7%,#ffbbbb 64.5%,#ffc1c1 65.2%,#ff7575 67.5%,#ff3333 69.4%,#ff2727 71.2%,#ff2d2d 81.4%,#ff5b5b 82.9%,#fff4f4 86.7%,#fcfcff 87.0%,#9191ff 90.8%,#2727ff 99.4%,#2626ff 99.8%)"></i><i style="height:1px;background:linear-gradient(90deg,#ffa9a9 0.2%,#ffaaaa 9.2%,#ffbaba 16.0%,#ffc7c7 26.1%,#ffcdcd 27.3%,#ffc2c2 29.1%,#ffcbcb 30.3%,#ffdfdf 31.0%,#ffc3c3 32.5%,#ffd2d2 34.0%,#ffc3c3 35.2%,#ffd5d5 35.9%,#ffecec 36.7%,#ffc3c3 38.2%,#ffc3c3 46.1%,#ffacac 46.8%,#ff6e6e 47.9%,#ff5959 49.4%,#ff2525 58.8%,#ff4545 60.3%,#ffbebe 64.1%,#ffc4c4 64.8%,#ff8686 66.7%,#ff3434 69.0%,#ff2727 70.5%,#ff2d2d 81.0%,#ff5a5a 82.5%,#fdfdff 86.7%,#9393ff 90.4%,#2727ff 99.1%,#2626ff 99.8%)"></i><i style="height:1px;background:linear-gradient(90deg,#ffaaaa 0.2%,#ffabab 8.8%,#ffbaba 15.2%,#ffc7c7 26.1%,#ffcdcd 27.3%,#ffc2c2 29.1%,#ffcccc 30.3%,#ffdfdf 31.0%,#ffc3c3 32.5%,#ffd2d2 34.0%,#ffc3c3 35.2%,#ffd6d6 35.9%,#ffecec 36.7%,#ffc2c2 38.2%,#ffc4c4 45.7%,#ffaeae 46.4%,#ff7474 47.6%,#ff5f5f 49.1%,#ff2626 58.5%,#ff3b3b 59.6%,#ffc8c8 64.1%,#ffc1c1 64.8%,#ff3535 68.6%,#ff2828 70.1%,#ff2d2d 80.6%,#ff5959 82.1%,#fefeff 86.3%,#9595ff 90.0%,#2626ff 99.1%,#2525ff 99.8%)"></i><i style="height:1px;background:linear-gradient(90deg,#ffabab 0.2%,#ffabab 8.5%,#ffbbbb 14.8%,#ffc8c8 26.1%,#ffcccc 27.3%,#ffc2c2 29.1%,#ffcccc 30.3%,#ffdfdf 31.0%,#ffc3c3 32.5%,#ffd1d1 34.0%,#ffc3c3 35.2%,#ffecec 36.7%,#ffc2c2 38.2%,#ffc5c5 45.3%,#ffb0b0 46.1%,#ff7a7a 47.2%,#ff6262 49.1%,#ff2727 58.1%,#ff3c3c 59.2%,#ffcbcb 63.7%,#ffc5c5 64.5%,#ff3737 68.2%,#ff2828 69.7%,#ff2c2c 80.3%,#ff5858 81.8%,#ffffff 85.9%,#9797ff 89.7%,#2626ff 98.7%,#2525ff 99.8%)"></i><i style="height:1px;background:linear-gradient(90deg,#ffacac 0.2%,#ffabab 8.1%,#ffbcbc 14.1%,#ffc8c8 26.1%,#ffcbcb 27.3%,#ffc2c2 29.5%,#ffdfdf 31.0%,#ffc3c3 32.5%,#ffd1d1 34.0%,#ffc3c3 35.2%,#ffecec 36.7%,#ffc6c6 37.8%,#ffc7c7 44.2%,#ffbfbf 45.3%,#ff7676 47.2%,#ff2828 57.7%,#ff3d3d 58.8%,#ffcfcf 63.3%,#ffcaca 64.1%,#ff3838 67.9%,#ff2828 69.4%,#ff2c2c 79.9%,#ff5757 81.4%,#fffefe 85.5%,#9292ff 89.7%,#2626ff 98.3%,#2424ff 99.8%)"></i><i style="height:1px;background:linear-gradient(90deg,#ffadad 0.2%,#ffaeae 8.1%,#ffbcbc 14.5%,#ffc9c9 26.1%,#ffcbcb 27.3%,#ffc2c2 29.5%,#ffdfdf 31.0%,#ffc3c3 32.5%,#ffd1d1 34.0%,#ffc4c4 35.2%,#ffe8e8 36.3%,#ffecec 36.7%,#ffc6c6 37.8%,#ffc7c7 44.5%,#ffa5a5 45.7%,#ff7c7c 46.8%,#ff2929 57.3%,#ff3e3e 58.5%,#ffd2d2 63.0%,#ffcece 63.7%,#ff3030 67.9%,#ff2929 73.5%,#ff2b2b 79.5%,#ff5555 81.0%,#fffdfd 85.2%,#9393ff 89.3%,#2424ff 98.3%,#2424ff 99.8%)"></i><i style="height:1px;background:linear-gradient(90deg,#ffaeae 0.2%,#ffafaf 7.7%,#ffbdbd 13.7%,#ffc5c5 25.8%,#ffd0d0 26.9%,#ffc2c2 28.8%,#ffcece 30.3%,#ffdfdf 31.0%,#ffc3c3 32.5%,#ffd1d1 34.0%,#ffc4c4 35.2%,#ffe9e9 36.3%,#ffecec 36.7%,#ffc6c6 37.8%,#ffc8c8 44.2%,#ffabab 45.3%,#ff8282 46.4%,#ff2a2a 57.0%,#ff3e3e 58.1%,#ffd4d4 62.6%,#ffd1d1 63.3%,#ff3131 67.5%,#ff2929 70.9%,#ff2f2f 79.5%,#ff8d8d 82.1%,#fffbfb 84.8%,#9494ff 88.9%,#2424ff 97.9%,#2424ff 99.8%)"></i><i style="height:1px;background:linear-gradient(90deg,#ffaeae 0.2%,#ffafaf 7.3%,#ffbebe 13.3%,#ffc5c5 25.8%,#ffd0d0 26.9%,#ffc3c3 28.8%,#ffcfcf 30.3%,#ffdfdf 31.0%,#ffc4c4 32.5%,#ffd1d1 34.0%,#ffc5c5 35.2%,#ffeaea 36.3%,#ffecec 36.7%,#ffc6c6 37.8%,#ffc5c5 44.2%,#ff8282 46.4%,#ff2c2c 57.0%,#ff6363 58.8%,#ffd5d5 62.2%,#ffd4d4 63.0%,#ff3434 67.1%,#ff2a2a 69.4%,#ff2d2d 79.1%,#ff5c5c 80.6%,#fff8f8 84.4%,#f9f9ff 84.8%,#9494ff 88.5%,#2424ff 97.9%,#2323ff 99.8%)"></i><i style="height:1px;background:linear-gradient(90deg,#ffafaf 0.2%,#ffb0b0 7.0%,#ffbfbf 13.0%,#ffc6c6 25.8%,#ffd0d0 26.9%,#ffc4c4 28.8%,#ffcfcf 30.3%,#ffdfdf 31.0%,#ffc4c4 32.5%,#ffd4d4 33.6%,#ffc6c6 35.2%,#ffebeb 36.3%,#ffe1e1 37.0%,#ffc7c7 37.8%,#ffc8c8 43.8%,#ff8282 46.4%,#ff2d2d 56.6%,#ff5555 58.1%,#ffd6d6 61.8%,#ffd7d7 62.6%,#ff3636 66.7%,#ff2b2b 68.6%,#ff3131 79.1%,#ffa3a3 82.1%,#fff5f5 84.0%,#fbfbff 84.4%,#9393ff 88.2%,#2424ff 97.6%,#2323ff 99.8%)"></i><i style="height:1px;background:linear-gradient(90deg,#ffb0b0 0.2%,#ffb4b4 7.0%,#ffc0c0 13.3%,#ffc7c7 25.8%,#ffd0d0 26.9%,#ffc4c4 28.8%,#ffd0d0 30.3%,#ffdfdf 31.0%,#ffc5c5 32.5%,#ffd4d4 33.6%,#ffc7c7 35.2%,#ffebeb 36.3%,#ffe0e0 37.0%,#ffc8c8 37.8%,#ffcaca 43.4%,#ff8383 46.4%,#ff2d2d 56.2%,#ff4646 57.3%,#ffd7d7 61.5%,#ffd9d9 62.2%,#ff3838 66.4%,#ff2b2b 67.9%,#ff2f2f 78.8%,#ff6e6e 80.6%,#fefeff 84.0%,#9393ff 87.8%,#2323ff 97.6%,#2323ff 99.8%)"></i><i style="height:1px;background:linear-gradient(90deg,#ffb1b1 0.2%,#ffb4b4 6.6%,#ffc0c0 13.0%,#ffc8c8 25.8%,#ffd1d1 26.9%,#ffc5c5 28.8%,#ffd1d1 30.3%,#ffdfdf 31.0%,#ffc6c6 32.5%,#ffd5d5 33.6%,#ffc8c8 35.2%,#ffecec 36.3%,#ffe0e0 37.0%,#ffc9c9 37.8%,#ffcccc 43.0%,#ff8484 46.4%,#ff2e2e 55.8%,#ff4444 57.0%,#ffd7d7 61.1%,#ffdbdb 61.8%,#ff6666 64.8%,#ff3232 66.4%,#ff2e2e 78.4%,#ff4b4b 79.5%,#fffcfc 83.6%,#9393ff 87.4%,#2323ff 97.2%,#2222ff 99.8%)"></i><i style="height:1px;background:linear-gradient(90deg,#ffb2b2 0.2%,#ffb5b5 6.2%,#ffc1c1 12.6%,#ffc8c8 25.8%,#ffd1d1 26.9%,#ffc6c6 28.8%,#ffd2d2 30.3%,#ffdfdf 31.0%,#ffc6c6 32.5%,#ffd5d5 33.6%,#ffc9c9 35.2%,#ffeded 36.3%,#ffdfdf 37.0%,#ffcaca 37.8%,#ffcece 42.7%,#ff8181 46.8%,#ff3030 55.5%,#ff4343 56.6%,#ffd8d8 60.7%,#ffdddd 61.5%,#ff8989 63.7%,#ff3434 66.0%,#ff2d2d 74.2%,#ff3131 78.4%,#ff8181 80.6%,#fff9f9 83.3%,#eaeaff 84.0%,#9292ff 87.0%,#2222ff 97.2%,#2222ff 99.8%)"></i><i style="height:1px;background:linear-gradient(90deg,#ffb3b3 0.2%,#ffb9b9 6.2%,#ffc2c2 13.3%,#ffc9c9 25.8%,#ffd1d1 26.9%,#ffc6c6 29.1%,#ffd3d3 30.3%,#ffdfdf 31.0%,#ffc7c7 32.5%,#ffd5d5 33.6%,#ffcbcb 35.2%,#ffeded 36.3%,#ffdfdf 37.0%,#ffcccc 37.8%,#ffd0d0 42.3%,#ff8282 46.8%,#ff3232 55.5%,#ff5c5c 57.0%,#ffd8d8 60.3%,#ffdfdf 61.1%,#ff9c9c 63.0%,#ff3535 65.6%,#ff2d2d 69.4%,#ff3030 78.0%,#ff5d5d 79.5%,#fff5f5 82.9%,#fafaff 83.3%,#9292ff 86.7%,#2222ff 97.2%,#2121ff 99.8%)"></i><i style="height:1px;background:linear-gradient(90deg,#ffb4b4 0.2%,#ffb9b9 5.8%,#ffc3c3 12.6%,#ffcaca 16.0%,#ffcaca 25.8%,#ffd2d2 26.9%,#ffc7c7 29.1%,#ffd4d4 30.3%,#ffdfdf 31.0%,#ffc8c8 32.5%,#ffd6d6 33.6%,#ffcdcd 35.2%,#ffeded 36.3%,#ffcdcd 37.8%,#ffd2d2 41.9%,#ff7f7f 47.2%,#ff3232 55.1%,#ff4d4d 56.2%,#ffd8d8 60.0%,#ffe1e1 60.7%,#ffafaf 62.2%,#ff3838 65.2%,#ff2e2e 67.5%,#ff3333 78.0%,#ff8585 80.3%,#fdfdff 82.9%,#9292ff 86.3%,#2222ff 96.8%,#2121ff 99.8%)"></i><i style="height:1px;background:linear-gradient(90deg,#ffb5b5 0.2%,#ffbaba 5.5%,#ffc4c4 12.2%,#ffc9c9 15.2%,#ffe4e4 16.7%,#ffc8c8 18.2%,#ffcbcb 25.8%,#ffd2d2 26.9%,#ffc8c8 29.1%,#ffd4d4 30.3%,#ffdfdf 31.0%,#ffc9c9 32.5%,#ffd7d7 33.6%,#ffcfcf 35.2%,#ffeeee 36.3%,#ffcfcf 37.8%,#ffd3d3 41.5%,#ff7c7c 47.6%,#ff3333 54.7%,#ff4b4b 55.8%,#ffe2e2 60.0%,#ffdddd 60.7%,#ff3a3a 64.8%,#ff2f2f 66.7%,#ff3232 77.6%,#ff6161 79.1%,#fffdfd 82.5%,#8a8aff 86.3%,#2121ff 96.8%,#2121ff 99.8%)"></i><i style="height:1px;background:linear-gradient(90deg,#ffb6b6 0.2%,#ffbdbd 5.5%,#ffc4c4 13.3%,#ffc8c8 14.8%,#fdfdff 16.4%,#fff5f5 17.1%,#ffd1d1 17.9%,#ffc8c8 20.5%,#ffcbcb 25.8%,#ffd2d2 26.9%,#ffc8c8 29.1%,#ffd5d5 30.3%,#ffdfdf 31.0%,#ffcaca 32.5%,#ffd7d7 33.6%,#ffd1d1 35.2%,#ffeeee 36.3%,#ffd1d1 37.8%,#ffd5d5 41.2%,#ff7070 48.7%,#ff3434 54.3%,#ff4949 55.5%,#ffe3e3 59.6%,#ffe0e0 60.3%,#ff3c3c 64.5%,#ff2f2f 66.0%,#ff3636 77.6%,#ff9b9b 80.3%,#fff9f9 82.1%,#e8e8ff 82.9%,#8a8aff 85.9%,#2121ff 96.8%,#2020ff 99.8%)"></i><i style="height:1px;background:linear-gradient(90deg,#ffb7b7 0.2%,#ffbebe 5.1%,#ffc5c5 12.6%,#ffc8c8 14.5%,#ffe0e0 15.2%,#fff8f8 15.6%,#e6e6ff 16.4%,#e8e8ff 16.7%,#f9f9ff 17.1%,#ffd4d4 17.9%,#ffc9c9 19.0%,#ffcccc 25.8%,#ffd2d2 26.9%,#ffc9c9 29.1%,#ffd6d6 30.3%,#ffdfdf 31.0%,#ffcbcb 32.5%,#ffd8d8 33.6%,#ffd3d3 35.2%,#ffeeee 36.3%,#ffd4d4 37.8%,#ffd7d7 40.8%,#ff5252 51.3%,#ff3737 54.3%,#ff6464 55.8%,#ffe4e4 59.2%,#ffe3e3 60.0%,#ff3f3f 64.1%,#ff3030 65.6%,#ff3434 77.3%,#ff6565 78.8%,#fff5f5 81.8%,#f9f9ff 82.1%,#8a8aff 85.5%,#2020ff 96.4%,#2020ff 99.8%)"></i><i style="height:1px;background:linear-gradient(90deg,#ffb8b8 0.2%,#ffc1c1 5.1%,#ffc7c7 14.1%,#ffdbdb 14.8%,#fff2f2 15.2%,#f4f4ff 15.6%,#dcdcff 16.4%,#e0e0ff 16.7%,#f3f3ff 17.1%,#ffeded 17.5%,#ffd6d6 17.9%,#ffcaca 19.0%,#ffcdcd 25.8%,#ffd3d3 26.9%,#ffcaca 29.5%,#ffdfdf 31.0%,#ffcdcd 32.5%,#ffd5d5 34.0%,#ffd5d5 35.2%,#ffefef 36.3%,#ffd7d7 37.8%,#ffd9d9 40.4%,#ff3737 53.9%,#ff5353 55.1%,#ffe4e4 58.8%,#ffe5e5 59.6%,#ff4141 63.7%,#ff3131 64.8%,#ff3333 76.9%,#ff5050 78.0%,#ffb5b5 80.3%,#fff1f1 81.4%,#fcfcff 81.8%,#8989ff 85.2%,#2020ff 96.4%,#2020ff 99.8%)"></i><i style="height:1px;background:linear-gradient(90deg,#ffbaba 0.2%,#ffc2c2 4.7%,#ffcbcb 14.1%,#fafaff 15.2%,#dbdbff 16.0%,#dfdfff 16.7%,#f2f2ff 17.1%,#ffeeee 17.5%,#ffd7d7 17.9%,#ffcaca 19.0%,#ffcece 25.8%,#ffd3d3 26.9%,#ffcbcb 29.5%,#ffdcdc 31.0%,#ffcece 32.5%,#ffd6d6 34.0%,#ffd7d7 35.2%,#ffefef 36.3%,#ffdada 37.8%,#ffd9d9 40.4%,#ff3838 53.6%,#ff5252 54.7%,#ffe5e5 58.5%,#ffe7e7 59.2%,#ff3939 63.7%,#ff3131 67.5%,#ff3636 76.9%,#ff7878 78.8%,#fffefe 81.4%,#8989ff 84.8%,#2020ff 96.1%,#1f1fff 99.8%)"></i><i style="height:1px;background:linear-gradient(90deg,#ffbbbb 0.2%,#ffc8c8 10.3%,#ffcbcb 13.7%,#ffe5e5 14.5%,#fffdfd 14.8%,#ddddff 15.6%,#d8d8ff 16.4%,#dedeff 16.7%,#f2f2ff 17.1%,#ffefef 17.5%,#ffd7d7 17.9%,#ffcbcb 19.0%,#ffcece 25.8%,#ffd3d3 26.9%,#ffcdcd 29.9%,#ffd3d3 31.4%,#ffd4d4 32.9%,#ffd7d7 34.0%,#ffd9d9 35.2%,#fff0f0 36.3%,#ffdddd 37.8%,#ffdcdc 40.8%,#ffb6b6 43.0%,#ff3939 53.2%,#ff4f4f 54.3%,#ffe5e5 58.1%,#ffeaea 58.8%,#ff3c3c 63.3%,#ff3232 65.6%,#ff3535 76.5%,#ff6363 78.0%,#ffbdbd 79.9%,#fffafa 81.0%,#d7d7ff 82.1%,#8989ff 84.4%,#2020ff 95.7%,#1f1fff 99.8%)"></i><i style="height:1px;background:linear-gradient(90deg,#ffbcbc 0.2%,#ffc9c9 10.0%,#ffcaca 13.3%,#ffe0e0 14.1%,#fff7f7 14.5%,#d9d9ff 15.6%,#dedeff 16.7%,#f2f2ff 17.1%,#ffefef 17.5%,#ffd8d8 17.9%,#ffcccc 19.0%,#ffcfcf 25.8%,#ffd3d3 26.9%,#ffcece 30.3%,#ffd5d5 32.9%,#ffd8d8 34.0%,#ffdbdb 35.2%,#fff0f0 36.3%,#ffe0e0 37.8%,#ffe9e9 40.0%,#ffecec 40.8%,#ffc4c4 41.9%,#ff3a3a 53.2%,#ff5a5a 54.3%,#ffe4e4 57.7%,#ffeded 58.5%,#ff9898 60.7%,#ff3e3e 63.0%,#ff3333 64.5%,#ff3939 76.5%,#ff7d7d 78.4%,#fff5f5 80.6%,#f7f7ff 81.0%,#8a8aff 84.0%,#5151ff 89.7%,#1f1fff 96.1%,#1f1fff 99.8%)"></i><i style="height:1px;background:linear-gradient(90deg,#ffbdbd 0.2%,#ffcaca 9.6%,#ffcfcf 13.3%,#fff0f0 14.1%,#f6f6ff 14.5%,#dadaff 15.2%,#dedeff 16.7%,#f1f1ff 17.1%,#fff0f0 17.5%,#ffd9d9 17.9%,#ffcccc 19.0%,#ffd0d0 25.8%,#ffd4d4 26.9%,#ffcfcf 30.6%,#ffd9d9 34.0%,#ffdede 35.2%,#fff0f0 36.3%,#ffe3e3 38.2%,#fff1f1 39.7%,#fffdfd 40.0%,#f8f8ff 40.4%,#ffffff 40.8%,#ffd1d1 41.5%,#ffb9b9 42.7%,#ff5757 50.6%,#ff3b3b 53.2%,#ff9090 55.5%,#ffebeb 57.7%,#ffecec 58.5%,#ff3939 63.0%,#ff3333 75.4%,#ff3f3f 76.5%,#ff9c9c 78.8%,#fff0f0 80.3%,#fbfbff 80.6%,#8b8bff 83.6%,#6868ff 86.7%,#1f1fff 95.7%,#1f1fff 99.8%)"></i><i style="height:1px;background:linear-gradient(90deg,#ffbebe 0.2%,#ffcaca 9.2%,#ffcdcd 13.0%,#ffeaea 13.7%,#fcfcff 14.1%,#dcdcff 14.8%,#d7d7ff 16.4%,#dedeff 16.7%,#f1f1ff 17.1%,#fff0f0 17.5%,#ffd9d9 17.9%,#ffcdcd 19.0%,#ffd1d1 25.8%,#ffd4d4 26.9%,#ffd1d1 31.0%,#ffdfdf 35.2%,#fff0f0 36.3%,#ffe4e4 38.2%,#fff9f9 39.3%,#e4e4ff 40.4%,#f2f2ff 40.8%,#ffeeee 41.2%,#ffd2d2 41.5%,#ffbdbd 42.3%,#ff7878 48.3%,#ff3a3a 52.8%,#ff4646 53.6%,#ffeeee 57.7%,#ffe9e9 58.5%,#ff3f3f 62.6%,#ff3333 64.1%,#ff3737 75.8%,#ff6565 77.3%,#ffc1c1 79.1%,#fffefe 80.3%,#8383ff 83.6%,#1f1fff 95.3%,#1f1fff 99.8%)"></i><i style="height:1px;background:linear-gradient(90deg,#ffbebe 0.2%,#ffcbcb 8.8%,#ffcdcd 12.6%,#ffe4e4 13.3%,#fffbfb 13.7%,#dedeff 14.5%,#d7d7ff 16.4%,#dedeff 16.7%,#f1f1ff 17.1%,#fff1f1 17.5%,#ffdada 17.9%,#ffcece 19.0%,#ffd2d2 25.8%,#ffd1d1 27.3%,#ffe0e0 35.2%,#ffefef 36.3%,#ffefef 38.5%,#fffcfc 38.9%,#d8d8ff 40.0%,#d9d9ff 40.4%,#ededff 40.8%,#ffefef 41.2%,#ffd2d2 41.5%,#ffbdbd 42.3%,#ff8484 47.6%,#ff3b3b 52.8%,#ff4747 53.6%,#fff0f0 57.7%,#ffe7e7 58.5%,#ff3c3c 62.6%,#ff3333 64.8%,#ff3636 75.4%,#ff5353 76.5%,#ffa6a6 78.4%,#fffafa 79.9%,#b8b8ff 81.8%,#8585ff 83.3%,#1f1fff 95.3%,#1f1fff 99.8%)"></i><i style="height:1px;background:linear-gradient(90deg,#ffbfbf 0.2%,#ffcbcb 8.5%,#ffcccc 12.2%,#ffdfdf 13.0%,#fff5f5 13.3%,#f2f2ff 13.7%,#d9d9ff 14.5%,#d7d7ff 16.4%,#dedeff 16.7%,#f1f1ff 17.1%,#fff1f1 17.5%,#ffdbdb 17.9%,#ffcfcf 19.0%,#ffd6d6 26.1%,#ffd4d4 31.0%,#ffe6e6 35.5%,#fff7f7 37.0%,#e8e8ff 37.8%,#fffdfd 38.5%,#d4d4ff 39.7%,#d6d6ff 40.4%,#ececff 40.8%,#ffefef 41.2%,#ffd1d1 41.5%,#ffbdbd 42.3%,#ff8c8c 47.2%,#ff3b3b 52.8%,#ff4848 53.6%,#fff0f0 57.7%,#ffe5e5 58.5%,#ff3a3a 62.6%,#ff3434 69.0%,#ff3b3b 75.4%,#ff7e7e 77.3%,#fff6f6 79.5%,#f7f7ff 79.9%,#8787ff 82.9%,#2323ff 93.8%,#1f1fff 99.8%)"></i><i style="height:1px;background:linear-gradient(90deg,#ffbfbf 0.2%,#ffcccc 7.7%,#ffcdcd 10.0%,#ffd4d4 10.7%,#ffcccc 11.8%,#ffdbdb 12.6%,#f8f8ff 13.3%,#dbdbff 14.1%,#d7d7ff 16.4%,#dedeff 16.7%,#f0f0ff 17.1%,#fff2f2 17.5%,#ffdcdc 17.9%,#ffd0d0 19.0%,#ffd7d7 26.1%,#ffd7d7 31.8%,#ffecec 36.3%,#fffafa 36.7%,#e1e1ff 37.0%,#b7b7ff 37.4%,#b2b2ff 37.8%,#f0f0ff 38.5%,#eaeaff 38.9%,#cfcfff 39.7%,#d5d5ff 40.4%,#ececff 40.8%,#ffefef 41.2%,#ffd1d1 41.5%,#ffbdbd 42.3%,#ff8e8e 47.2%,#ff3c3c 52.8%,#ff4949 53.6%,#ffe8e8 57.3%,#ffefef 58.1%,#ff3838 62.6%,#ff3a3a 75.0%,#ff7b7b 76.9%,#fff1f1 79.1%,#fbfbff 79.5%,#8989ff 82.5%,#5e5eff 86.7%,#1f1fff 94.9%,#1f1fff 99.8%)"></i><i style="height:1px;background:linear-gradient(90deg,#ffc0c0 0.2%,#ffcdcd 7.3%,#ffd0d0 10.0%,#ffdbdb 10.7%,#ffcdcd 11.5%,#ffd8d8 12.2%,#fefeff 13.0%,#ddddff 13.7%,#d7d7ff 16.4%,#dedeff 16.7%,#f0f0ff 17.1%,#fff2f2 17.5%,#ffdcdc 17.9%,#ffd1d1 19.0%,#ffd4d4 27.3%,#ffe6e6 35.5%,#fffbfb 36.3%,#dedeff 36.7%,#a6a6ff 37.0%,#8383ff 37.4%,#9696ff 37.8%,#e7e7ff 38.5%,#e7e7ff 38.9%,#ceceff 39.7%,#d5d5ff 40.4%,#ececff 40.8%,#ffefef 41.2%,#ffd1d1 41.5%,#ffbdbd 42.3%,#ff9191 47.2%,#ff3d3d 52.8%,#ff4a4a 53.6%,#ffeaea 57.3%,#fff2f2 57.7%,#ffe1e1 58.5%,#ff3f3f 62.2%,#ff3333 63.7%,#ff3939 74.6%,#ff6868 76.1%,#ffc3c3 78.0%,#ffffff 79.1%,#8b8bff 82.1%,#6b6bff 84.8%,#1f1fff 94.5%,#1f1fff 99.8%)"></i><i style="height:1px;background:linear-gradient(90deg,#ffc1c1 0.2%,#ffcdcd 6.6%,#ffd1d1 10.0%,#ffdede 10.7%,#ffd0d0 11.5%,#ffe4e4 12.2%,#fff9f9 12.6%,#dfdfff 13.3%,#d6d6ff 15.6%,#dedeff 16.7%,#f0f0ff 17.1%,#fff3f3 17.5%,#ffdddd 17.9%,#ffd2d2 19.0%,#ffdede 33.3%,#ffecec 35.5%,#fffdfd 35.9%,#dbdbff 36.3%,#6e6eff 37.0%,#6666ff 37.4%,#e5e5ff 38.5%,#e7e7ff 38.9%,#ceceff 39.7%,#d5d5ff 40.4%,#ececff 40.8%,#ffefef 41.2%,#ffd1d1 41.5%,#ffbdbd 42.3%,#ff9999 46.8%,#ff3d3d 52.8%,#ff4a4a 53.6%,#ffebeb 57.3%,#fff2f2 57.7%,#ffdede 58.5%,#ff3d3d 62.2%,#ff3333 64.1%,#ff3838 74.2%,#ff6565 75.8%,#ffbebe 77.6%,#fffbfb 78.8%,#8484ff 82.1%,#1f1fff 94.2%,#1f1fff 99.8%)"></i><i style="height:1px;background:linear-gradient(90deg,#ffc2c2 0.2%,#ffcece 6.2%,#ffd2d2 10.0%,#ffdfdf 10.7%,#ffd4d4 11.5%,#fff3f3 12.2%,#f4f4ff 12.6%,#dadaff 13.3%,#d7d7ff 16.4%,#f0f0ff 17.1%,#fff3f3 17.5%,#ffdede 17.9%,#ffd3d3 19.0%,#ffe1e1 33.3%,#ffeded 35.2%,#ffffff 35.5%,#d8d8ff 35.9%,#6868ff 36.7%,#4b4bff 37.0%,#5b5bff 37.4%,#e5e5ff 38.5%,#e7e7ff 38.9%,#ceceff 39.7%,#d5d5ff 40.4%,#ececff 40.8%,#ffefef 41.2%,#ffd1d1 41.5%,#ffbebe 42.3%,#ff9c9c 46.8%,#ff3e3e 52.8%,#ff4b4b 53.6%,#ffeded 57.3%,#fff2f2 57.7%,#ffcbcb 58.8%,#ff3a3a 62.2%,#ff3434 67.5%,#ff3838 73.9%,#ff5454 75.0%,#ffb9b9 77.3%,#fff6f6 78.4%,#f6f6ff 78.8%,#8585ff 81.8%,#1f1fff 93.8%,#1f1fff 99.8%)"></i><i style="height:1px;background:linear-gradient(90deg,#ffc3c3 0.2%,#ffcece 6.2%,#ffd2d2 10.0%,#ffe0e0 10.7%,#ffdcdc 11.5%,#fafaff 12.2%,#dcdcff 13.0%,#d7d7ff 16.4%,#efefff 17.1%,#fff4f4 17.5%,#ffdfdf 17.9%,#ffd3d3 19.0%,#ffe3e3 33.3%,#ffeeee 34.8%,#fefeff 35.2%,#d5d5ff 35.5%,#6666ff 36.3%,#4545ff 36.7%,#3e3eff 37.0%,#5858ff 37.4%,#b9b9ff 38.2%,#e5e5ff 38.5%,#e7e7ff 38.9%,#ceceff 39.7%,#d5d5ff 40.4%,#ececff 40.8%,#ffefef 41.2%,#ffd1d1 41.5%,#ffbebe 42.3%,#ff9e9e 46.8%,#ff3e3e 52.8%,#ff4c4c 53.6%,#ffeeee 57.3%,#fff1f1 57.7%,#ffb7b7 59.2%,#ff4343 61.8%,#ff3333 63.0%,#ff3c3c 73.9%,#ff7e7e 75.8%,#fff2f2 78.0%,#fafaff 78.4%,#8787ff 81.4%,#4444ff 88.5%,#1f1fff 93.8%,#1f1fff 99.8%)"></i><i style="height:1px;background:linear-gradient(90deg,#ffc5c5 0.2%,#ffcece 7.3%,#ffd4d4 10.0%,#ffe1e1 10.7%,#ffdede 11.1%,#fffefe 11.8%,#dfdfff 12.6%,#d7d7ff 16.4%,#efefff 17.1%,#fff4f4 17.5%,#ffe0e0 17.9%,#ffd4d4 19.0%,#ffe5e5 33.3%,#ffefef 34.4%,#fcfcff 34.8%,#d3d3ff 35.2%,#6464ff 35.9%,#4444ff 36.3%,#3737ff 36.7%,#3a3aff 37.0%,#5858ff 37.4%,#babaff 38.2%,#e6e6ff 38.5%,#e7e7ff 38.9%,#ceceff 39.7%,#d5d5ff 40.4%,#ececff 40.8%,#ffefef 41.2%,#ffd2d2 41.5%,#ffbfbf 42.3%,#ffa1a1 46.8%,#ff3f3f 52.8%,#ff4d4d 53.6%,#ffeeee 57.3%,#ffe6e6 58.1%,#ff4040 61.8%,#ff3333 63.3%,#ff3b3b 73.5%,#ff7a7a 75.4%,#fefeff 78.0%,#8a8aff 81.0%,#6868ff 84.0%,#1f1fff 93.4%,#1f1fff 99.8%)"></i><i style="height:1px;background:linear-gradient(90deg,#ffc8c8 0.2%,#ffd5d5 10.0%,#ffe6e6 11.1%,#fff8f8 11.5%,#e1e1ff 12.2%,#e6e6ff 13.3%,#d6d6ff 14.5%,#ddddff 16.7%,#fff5f5 17.5%,#ffd8d8 18.2%,#ffe0e0 31.4%,#ffefef 34.0%,#fafaff 34.4%,#d0d0ff 34.8%,#6262ff 35.5%,#4343ff 35.9%,#3434ff 36.7%,#3a3aff 37.0%,#5858ff 37.4%,#babaff 38.2%,#e6e6ff 38.5%,#e7e7ff 38.9%,#ceceff 39.7%,#d5d5ff 40.4%,#ececff 40.8%,#ffefef 41.2%,#ffd2d2 41.5%,#ffc0c0 42.3%,#ffa3a3 46.8%,#ff3f3f 52.8%,#ff4e4e 53.6%,#ffefef 57.3%,#ffe4e4 58.1%,#ff3d3d 61.8%,#ff3434 63.7%,#ff3b3b 73.1%,#ff6868 74.6%,#ffd5d5 76.9%,#fffbfb 77.6%,#8282ff 81.0%,#1f1fff 93.0%,#1f1fff 99.8%)"></i><i style="height:1px;background:linear-gradient(90deg,#ffcbcb 0.2%,#ffd1d1 9.6%,#fff2f2 11.1%,#f6f6ff 11.5%,#dbdbff 12.2%,#ececff 13.3%,#d7d7ff 14.1%,#ddddff 16.7%,#fff5f5 17.5%,#ffd9d9 18.2%,#ffe2e2 31.4%,#fff0f0 33.6%,#f9f9ff 34.0%,#ceceff 34.4%,#6060ff 35.2%,#4242ff 35.5%,#3434ff 36.3%,#3a3aff 37.0%,#5858ff 37.4%,#babaff 38.2%,#e6e6ff 38.5%,#e7e7ff 38.9%,#ceceff 39.7%,#d5d5ff 40.4%,#ececff 40.8%,#ffefef 41.2%,#ffd3d3 41.5%,#ffc0c0 42.3%,#ffa0a0 47.2%,#ff4040 52.8%,#ff4f4f 53.6%,#ffe6e6 57.0%,#ffeeee 57.7%,#ff3a3a 61.8%,#ff3535 66.4%,#ff3a3a 72.7%,#ff6666 74.2%,#ffbbbb 76.1%,#fff7f7 77.3%,#f6f6ff 77.6%,#8484ff 80.6%,#1f1fff 92.7%,#1f1fff 99.8%)"></i><i style="height:1px;background:linear-gradient(90deg,#ffcdcd 0.2%,#ffd3d3 9.6%,#fefeff 11.1%,#dcdcff 11.8%,#ddddff 12.6%,#ebebff 13.0%,#ededff 13.3%,#d7d7ff 14.1%,#ddddff 16.7%,#fff6f6 17.5%,#ffd9d9 18.2%,#ffe4e4 31.4%,#fff2f2 33.3%,#f7f7ff 33.6%,#cbcbff 34.0%,#5e5eff 34.8%,#4141ff 35.2%,#3333ff 35.9%,#3a3aff 37.0%,#5858ff 37.4%,#babaff 38.2%,#e6e6ff 38.5%,#e7e7ff 38.9%,#ceceff 39.7%,#d5d5ff 40.4%,#ececff 40.8%,#fff0f0 41.2%,#ffd3d3 41.5%,#ffc1c1 42.3%,#ffa3a3 47.2%,#ff4040 52.8%,#ff5050 53.6%,#ffe8e8 57.0%,#fff1f1 57.3%,#ffdfdf 58.1%,#ff4343 61.5%,#ff3333 62.6%,#ff3a3a 72.4%,#ff5555 73.5%,#ffb7b7 75.8%,#fff3f3 76.9%,#fafaff 77.3%,#8686ff 80.3%,#1f1fff 92.3%,#1f1fff 99.8%)"></i><i style="height:1px;background:linear-gradient(90deg,#ffcfcf 0.2%,#ffd5d5 9.6%,#fff9f9 10.7%,#d9d9ff 11.8%,#ddddff 12.6%,#ebebff 13.0%,#ededff 13.3%,#d7d7ff 14.1%,#ddddff 16.7%,#fff7f7 17.5%,#ffdada 18.2%,#ffe6e6 31.4%,#fff3f3 32.9%,#f5f5ff 33.3%,#c8c8ff 33.6%,#5c5cff 34.4%,#4040ff 34.8%,#3333ff 35.9%,#3a3aff 37.0%,#5858ff 37.4%,#babaff 38.2%,#e6e6ff 38.5%,#e7e7ff 38.9%,#ceceff 39.7%,#d5d5ff 40.4%,#ebebff 40.8%,#fff0f0 41.2%,#ffd4d4 41.5%,#ffc2c2 42.3%,#ffa5a5 47.2%,#ff4141 52.8%,#ff5151 53.6%,#ffeaea 57.0%,#fff1f1 57.3%,#ffdcdc 58.1%,#ff4040 61.5%,#ff3434 63.0%,#ff3e3e 72.4%,#ff7d7d 74.2%,#fefeff 76.9%,#8888ff 79.9%,#5858ff 84.8%,#1f1fff 92.3%,#1f1fff 99.8%)"></i><i style="height:1px;background:linear-gradient(90deg,#ffd0d0 0.2%,#ffd5d5 9.2%,#ffe6e6 10.0%,#fcfcff 10.7%,#dadaff 11.5%,#ddddff 12.6%,#ebebff 13.0%,#ededff 13.3%,#d7d7ff 14.1%,#d9d9ff 16.0%,#ddddff 16.7%,#fff7f7 17.5%,#ffdbdb 18.2%,#ffe8e8 31.4%,#fff4f4 32.5%,#f3f3ff 32.9%,#c6c6ff 33.3%,#5a5aff 34.0%,#3f3fff 34.4%,#3333ff 35.5%,#3a3aff 37.0%,#5858ff 37.4%,#babaff 38.2%,#e6e6ff 38.5%,#e7e7ff 38.9%,#ceceff 39.7%,#d5d5ff 40.4%,#ebebff 40.8%,#fff0f0 41.2%,#ffd4d4 41.5%,#ffc3c3 42.3%,#ffa8a8 47.2%,#ff4141 52.8%,#ff5252 53.6%,#ffebeb 57.0%,#fff1f1 57.3%,#ffdada 58.1%,#ff3d3d 61.5%,#ff3434 63.3%,#ff3d3d 72.0%,#ff7a7a 73.9%,#fffcfc 76.5%,#8a8aff 79.5%,#6b6bff 82.1%,#1f1fff 91.9%,#1f1fff 99.8%)"></i><i style="height:1px;background:linear-gradient(90deg,#ffd1d1 0.2%,#ffd5d5 8.8%,#ffe1e1 9.6%,#ffffff 10.3%,#d8d8ff 11.5%,#ddddff 12.6%,#ebebff 13.0%,#ededff 13.3%,#d7d7ff 14.1%,#e8e8ff 15.6%,#d8d8ff 16.4%,#ededff 17.1%,#fff8f8 17.5%,#ffdcdc 18.2%,#ffeaea 31.4%,#fff5f5 32.1%,#f1f1ff 32.5%,#c3c3ff 32.9%,#5858ff 33.6%,#3e3eff 34.0%,#3333ff 35.2%,#3a3aff 37.0%,#5858ff 37.4%,#babaff 38.2%,#e6e6ff 38.5%,#e7e7ff 38.9%,#ceceff 39.7%,#d5d5ff 40.4%,#ebebff 40.8%,#fff1f1 41.2%,#ffd5d5 41.5%,#ffc4c4 42.3%,#ffabab 47.2%,#ff4242 52.8%,#ff5353 53.6%,#ffecec 57.0%,#fff0f0 57.3%,#ffc5c5 58.5%,#ff3b3b 61.5%,#ff3535 65.6%,#ff3c3c 71.6%,#ff6969 73.1%,#ffd1d1 75.4%,#fff8f8 76.1%,#f5f5ff 76.5%,#8383ff 79.5%,#1f1fff 91.5%,#1f1fff 99.8%)"></i><i style="height:1px;background:linear-gradient(90deg,#ffd1d1 0.2%,#ffd8d8 8.8%,#ffeded 9.6%,#ffffff 10.0%,#f1f1ff 10.7%,#d7d7ff 11.5%,#ddddff 12.6%,#ebebff 13.0%,#ededff 13.3%,#d7d7ff 14.1%,#ddddff 14.8%,#ebebff 15.2%,#ececff 15.6%,#d8d8ff 16.4%,#ededff 17.1%,#fff8f8 17.5%,#ffdddd 18.2%,#ffeaea 31.0%,#fff6f6 31.8%,#efefff 32.1%,#5757ff 33.3%,#3e3eff 33.6%,#3333ff 35.2%,#3a3aff 37.0%,#5858ff 37.4%,#babaff 38.2%,#e6e6ff 38.5%,#e7e7ff 38.9%,#ceceff 39.7%,#d5d5ff 40.4%,#ebebff 40.8%,#fff1f1 41.2%,#ffd6d6 41.5%,#ffc5c5 42.3%,#ffadad 47.2%,#ff4343 52.8%,#ff5454 53.6%,#ffeded 57.0%,#ffefef 57.3%,#ffafaf 58.8%,#ff4444 61.1%,#ff3434 62.2%,#ff3c3c 71.2%,#ff6666 72.7%,#ffcdcd 75.0%,#fff3f3 75.8%,#f9f9ff 76.1%,#8585ff 79.1%,#1f1fff 91.5%,#1f1fff 99.8%)"></i><i style="height:1px;background:linear-gradient(90deg,#ffd2d2 0.2%,#ffd8d8 8.5%,#ffe8e8 9.2%,#fffbfb 9.6%,#f1f1ff 10.3%,#eeeeff 10.7%,#d7d7ff 11.5%,#ddddff 12.6%,#ebebff 13.0%,#ededff 13.3%,#d7d7ff 14.1%,#ddddff 14.8%,#ebebff 15.2%,#ededff 15.6%,#d8d8ff 16.4%,#ededff 17.1%,#fff9f9 17.5%,#ffdede 18.2%,#ffeeee 31.0%,#fff7f7 31.4%,#eeeeff 31.8%,#5555ff 32.9%,#3d3dff 33.3%,#3333ff 35.2%,#3a3aff 37.0%,#5858ff 37.4%,#babaff 38.2%,#e6e6ff 38.5%,#e7e7ff 38.9%,#ceceff 39.7%,#d5d5ff 40.4%,#ebebff 40.8%,#fff2f2 41.2%,#ffd6d6 41.5%,#ffc6c6 42.3%,#ffb0b0 47.2%,#ff4343 52.8%,#ff5555 53.6%,#ffeeee 57.0%,#ffe2e2 57.7%,#ff4040 61.1%,#ff3434 62.2%,#ff4040 71.2%,#ff9090 73.5%,#fdfdff 75.8%,#8686ff 78.8%,#2323ff 90.0%,#1f1fff 99.8%)"></i><i style="height:1px;background:linear-gradient(90deg,#ffd3d3 0.2%,#ffd8d8 8.1%,#ffe5e5 8.8%,#fff6f6 9.2%,#e9e9ff 10.0%,#ededff 10.7%,#d7d7ff 11.5%,#ddddff 12.6%,#ebebff 13.0%,#ededff 13.3%,#d7d7ff 14.1%,#ddddff 14.8%,#ebebff 15.2%,#ededff 15.6%,#d8d8ff 16.4%,#ededff 17.1%,#fffafa 17.5%,#ffdfdf 18.2%,#ffeeee 30.6%,#fff8f8 31.0%,#ebebff 31.4%,#5353ff 32.5%,#3c3cff 32.9%,#3333ff 35.2%,#3a3aff 37.0%,#5858ff 37.4%,#babaff 38.2%,#e6e6ff 38.5%,#e7e7ff 38.9%,#ceceff 39.7%,#d5d5ff 40.4%,#ebebff 40.8%,#fff2f2 41.2%,#ffd7d7 41.5%,#ffc7c7 42.3%,#ffb2b2 47.2%,#ff4444 52.8%,#ff5656 53.6%,#ffe4e4 56.6%,#ffefef 57.0%,#ffe0e0 57.7%,#ff3d3d 61.1%,#ff3434 63.0%,#ff3f3f 70.9%,#ff7d7d 72.7%,#fffdfd 75.4%,#8989ff 78.4%,#6262ff 82.1%,#1f1fff 91.2%,#1f1fff 99.8%)"></i><i style="height:1px;background:linear-gradient(90deg,#ffd3d3 0.2%,#ffdbdb 8.1%,#fafaff 9.2%,#e8e8ff 9.6%,#e2e2ff 10.0%,#ededff 10.7%,#d7d7ff 11.5%,#ddddff 12.6%,#ebebff 13.0%,#ededff 13.3%,#d7d7ff 14.1%,#ddddff 14.8%,#ebebff 15.2%,#ededff 15.6%,#d8d8ff 16.4%,#ececff 17.1%,#fffafa 17.5%,#ffe0e0 18.2%,#ffefef 30.3%,#fff9f9 30.6%,#e9e9ff 31.0%,#7e7eff 31.8%,#5252ff 32.1%,#3c3cff 32.5%,#3333ff 34.8%,#3a3aff 37.0%,#5858ff 37.4%,#babaff 38.2%,#e6e6ff 38.5%,#e7e7ff 38.9%,#ceceff 39.7%,#d5d5ff 40.4%,#eaeaff 40.8%,#fff3f3 41.2%,#ffd8d8 41.5%,#ffc8c8 42.3%,#ffafaf 47.6%,#ff4444 52.8%,#ff5757 53.6%,#ffe6e6 56.6%,#fff0f0 57.0%,#ffdddd 57.7%,#ff3b3b 61.1%,#ff3636 64.5%,#ff3f3f 70.5%,#ff7a7a 72.4%,#fff8f8 75.0%,#f4f4ff 75.4%,#8b8bff 78.0%,#6f6fff 80.3%,#1f1fff 90.8%,#1f1fff 99.8%)"></i><i style="height:1px;background:linear-gradient(90deg,#ffd4d4 0.2%,#ffdbdb 7.7%,#ffeded 8.5%,#ffffff 8.8%,#dfdfff 9.6%,#dfdfff 10.0%,#ededff 10.7%,#d7d7ff 11.5%,#ddddff 12.6%,#ebebff 13.0%,#ededff 13.3%,#d7d7ff 14.1%,#ddddff 14.8%,#ebebff 15.2%,#ededff 15.6%,#d8d8ff 16.4%,#ececff 17.1%,#fffbfb 17.5%,#ffe1e1 18.2%,#fff0f0 29.9%,#fffafa 30.3%,#e7e7ff 30.6%,#7b7bff 31.4%,#5050ff 31.8%,#3b3bff 32.1%,#3333ff 35.2%,#3a3aff 37.0%,#5858ff 37.4%,#babaff 38.2%,#e5e5ff 38.5%,#e7e7ff 38.9%,#ceceff 39.7%,#d5d5ff 40.4%,#eaeaff 40.8%,#fff3f3 41.2%,#ffd9d9 41.5%,#ffc9c9 42.3%,#ffb2b2 47.6%,#ff4545 52.8%,#ff5858 53.6%,#ffe8e8 56.6%,#fff0f0 57.0%,#ffdada 57.7%,#ff4444 60.7%,#ff3434 61.8%,#ff3e3e 70.1%,#ff6969 71.6%,#ffcece 73.9%,#fff4f4 74.6%,#f8f8ff 75.0%,#8383ff 78.0%,#1f1fff 90.4%,#1f1fff 99.8%)"></i><i style="height:1px;background:linear-gradient(90deg,#ffd4d4 0.2%,#ffdbdb 7.3%,#ffe9e9 8.1%,#fffafa 8.5%,#dadaff 9.6%,#ededff 10.7%,#d7d7ff 11.5%,#ddddff 12.6%,#ebebff 13.0%,#ededff 13.3%,#d7d7ff 14.1%,#ddddff 14.8%,#ebebff 15.2%,#ededff 15.6%,#d8d8ff 16.4%,#ececff 17.1%,#fffcfc 17.5%,#ffe2e2 18.2%,#fff0f0 29.5%,#fffcfc 29.9%,#e5e5ff 30.3%,#7979ff 31.0%,#4f4fff 31.4%,#3b3bff 31.8%,#3333ff 35.5%,#3a3aff 37.0%,#5858ff 37.4%,#babaff 38.2%,#e5e5ff 38.5%,#e7e7ff 38.9%,#ceceff 39.7%,#d5d5ff 40.4%,#fff4f4 41.2%,#ffd9d9 41.5%,#ffcaca 42.3%,#ffb4b4 47.6%,#ff4545 52.8%,#ff5959 53.6%,#ffeaea 56.6%,#fff0f0 57.0%,#ffd8d8 57.7%,#ff4141 60.7%,#ff3434 61.8%,#ff3d3d 69.7%,#ff6666 71.2%,#ffcaca 73.5%,#fdfdff 74.6%,#8585ff 77.6%,#1f1fff 90.0%,#1f1fff 99.8%)"></i><i style="height:1px;background:linear-gradient(90deg,#ffd5d5 0.2%,#ffdbdb 7.0%,#ffe6e6 7.7%,#fff5f5 8.1%,#f6f6ff 8.5%,#dbdbff 9.2%,#ddddff 10.0%,#ebebff 10.3%,#ededff 10.7%,#d7d7ff 11.5%,#ddddff 12.6%,#ebebff 13.0%,#ededff 13.3%,#d7d7ff 14.1%,#ddddff 14.8%,#ebebff 15.2%,#ededff 15.6%,#d8d8ff 16.4%,#ebebff 17.1%,#fffcfc 17.5%,#ffe3e3 18.2%,#fff1f1 29.1%,#fffdfd 29.5%,#e3e3ff 29.9%,#7777ff 30.6%,#4e4eff 31.0%,#3a3aff 31.4%,#3333ff 36.3%,#3a3aff 37.0%,#5858ff 37.4%,#babaff 38.2%,#e5e5ff 38.5%,#e7e7ff 38.9%,#ceceff 39.7%,#d4d4ff 40.4%,#fff4f4 41.2%,#ffdada 41.5%,#ffcbcb 42.3%,#ffb7b7 47.6%,#ff4646 52.8%,#ff5a5a 53.6%,#ffebeb 56.6%,#fff0f0 57.0%,#ffd4d4 57.7%,#ff3e3e 60.7%,#ff3434 62.2%,#ff4242 69.7%,#ff8f8f 72.0%,#fffdfd 74.2%,#8787ff 77.3%,#4949ff 84.0%,#1f1fff 90.0%,#1f1fff 99.8%)"></i><i style="height:1px;background:linear-gradient(90deg,#ffd5d5 0.2%,#ffdede 7.0%,#fbfbff 8.1%,#ddddff 8.8%,#d7d7ff 9.6%,#ededff 10.7%,#d7d7ff 11.5%,#ddddff 12.6%,#ebebff 13.0%,#ededff 13.3%,#d7d7ff 14.1%,#ddddff 14.8%,#ebebff 15.2%,#ededff 15.6%,#d8d8ff 16.4%,#ebebff 17.1%,#fffdfd 17.5%,#ffe4e4 18.2%,#fff1f1 28.8%,#fffefe 29.1%,#e1e1ff 29.5%,#7474ff 30.3%,#4c4cff 30.6%,#3a3aff 31.0%,#3434ff 36.7%,#3a3aff 37.0%,#5858ff 37.4%,#b9b9ff 38.2%,#e5e5ff 38.5%,#e6e6ff 38.9%,#ceceff 39.7%,#d4d4ff 40.4%,#fff5f5 41.2%,#ffdbdb 41.5%,#ffcccc 42.3%,#ffbaba 47.6%,#ff4747 52.8%,#ff5b5b 53.6%,#ffecec 56.6%,#ffeeee 57.0%,#ffbebe 58.1%,#ff3b3b 60.7%,#ff3636 63.7%,#ff4141 69.4%,#ff7d7d 71.2%,#fff9f9 73.9%,#e3e3ff 74.6%,#8989ff 76.9%,#6868ff 79.9%,#1f1fff 89.7%,#1f1fff 99.8%)"></i><i style="height:1px;background:linear-gradient(90deg,#ffd6d6 0.2%,#ffdddd 6.6%,#ffebeb 7.3%,#fffdfd 7.7%,#d9d9ff 8.8%,#ddddff 10.0%,#ebebff 10.3%,#ededff 10.7%,#d7d7ff 11.5%,#ddddff 12.6%,#ebebff 13.0%,#ededff 13.3%,#d7d7ff 14.1%,#ddddff 14.8%,#ebebff 15.2%,#ededff 15.6%,#d8d8ff 16.4%,#ebebff 17.1%,#fffefe 17.5%,#ffe5e5 18.2%,#fff0f0 28.4%,#fffbfb 28.8%,#e3e3ff 29.1%,#7373ff 29.9%,#4b4bff 30.3%,#3939ff 30.6%,#3434ff 36.7%,#3a3aff 37.0%,#5858ff 37.4%,#b9b9ff 38.2%,#e5e5ff 38.5%,#e6e6ff 38.9%,#ceceff 39.7%,#d4d4ff 40.4%,#fff5f5 41.2%,#ffdcdc 41.5%,#ffcdcd 42.3%,#ffbcbc 47.6%,#ff4747 52.8%,#ff5c5c 53.6%,#ffeded 56.6%,#ffeded 57.0%,#ff9292 58.8%,#ff4545 60.3%,#ff3535 61.1%,#ff4040 69.0%,#ff7979 70.9%,#fff4f4 73.5%,#f9f9ff 73.9%,#8c8cff 76.5%,#7272ff 78.4%,#1f1fff 89.3%,#1f1fff 99.8%)"></i><i style="height:1px;background:linear-gradient(90deg,#ffd6d6 0.2%,#ffdfdf 6.6%,#f7f7ff 7.7%,#dbdbff 8.5%,#ddddff 10.0%,#ebebff 10.3%,#ededff 10.7%,#d7d7ff 11.5%,#ddddff 12.6%,#ebebff 13.0%,#ededff 13.3%,#d7d7ff 14.1%,#ddddff 14.8%,#ebebff 15.2%,#ededff 15.6%,#d8d8ff 16.4%,#eaeaff 17.1%,#fffefe 17.5%,#ffe6e6 18.2%,#fff3f3 28.4%,#f6f6ff 28.8%,#c0c0ff 29.1%,#7b7bff 29.5%,#4c4cff 29.9%,#3939ff 30.3%,#3434ff 36.7%,#3a3aff 37.0%,#5858ff 37.4%,#b9b9ff 38.2%,#e4e4ff 38.5%,#e6e6ff 38.9%,#ceceff 39.7%,#d4d4ff 40.4%,#fff6f6 41.2%,#ffdcdc 41.5%,#ffcece 42.3%,#ffbebe 47.6%,#ff4747 52.8%,#ff5d5d 53.6%,#ffe1e1 56.2%,#ffeded 56.6%,#ffecec 57.0%,#ff4343 60.3%,#ff3434 61.5%,#ff4242 69.0%,#ffa1a1 71.6%,#fffdfd 73.5%,#8686ff 76.5%,#1f1fff 88.9%,#1f1fff 99.8%)"></i></div>
<div class="cb" style="left:328.5px;top:17.5px;width:17.8px;height:213.5px;background:linear-gradient(180deg,#ff0000 0%,#ffffff 50%,#0000ff 100%)"></div>
<div class="hm" style="left:433px;top:17px;width:267px;height:214px"><i style="height:1px;background:linear-gradient(90deg,#ffb4b4 0.2%,#ffbbbb 27.5%,#ffbbbb 31.3%,#ffd5d5 36.9%,#ffffff 41.4%,#dbdbff 46.3%,#ffffff 49.6%,#ffcece 54.9%,#ffdddd 63.5%,#fff4f4 70.6%,#ffe8e8 76.2%,#fcfcff 80.0%,#c3c3ff 99.8%)"></i><i style="height:1px;background:linear-gradient(90deg,#ffb5b5 0.2%,#ffbbbb 27.5%,#ffbdbd 31.6%,#ffd7d7 36.9%,#fdfdff 41.4%,#dbdbff 46.3%,#fffefe 49.6%,#ffcfcf 54.9%,#ffe2e2 64.2%,#fff5f5 70.6%,#ffe7e7 75.8%,#fdfdff 79.6%,#c2c2ff 99.8%)"></i><i style="height:1px;background:linear-gradient(90deg,#ffb6b6 0.2%,#ffbaba 27.5%,#ffc0c0 32.4%,#ffdddd 37.3%,#ffffff 41.0%,#dbdbff 45.9%,#fffcfc 49.6%,#ffd0d0 54.5%,#ffe3e3 63.9%,#fff6f6 70.2%,#ffe9e9 75.8%,#fcfcff 79.6%,#c1c1ff 99.8%)"></i><i style="height:1px;background:linear-gradient(90deg,#ffb6b6 0.2%,#ffbcbc 27.2%,#ffbebe 31.3%,#ffd8d8 36.5%,#fdfdff 41.0%,#dbdbff 45.9%,#fffefe 49.3%,#ffd1d1 54.1%,#ffe5e5 63.9%,#fff7f7 69.9%,#ffe9e9 75.5%,#fcfcff 79.2%,#c0c0ff 99.8%)"></i><i style="height:1px;background:linear-gradient(90deg,#ffb7b7 0.2%,#ffbdbd 26.8%,#ffbdbd 30.5%,#ffd7d7 36.1%,#fefeff 40.6%,#dbdbff 45.5%,#ffffff 48.9%,#ffd2d2 54.1%,#ffeded 65.0%,#fff7f7 70.2%,#ffe9e9 75.1%,#fdfdff 78.8%,#bebeff 99.8%)"></i><i style="height:1px;background:linear-gradient(90deg,#ffb8b8 0.2%,#ffbdbd 26.8%,#ffbfbf 30.9%,#ffdada 36.1%,#ffffff 40.3%,#dadaff 45.1%,#fffdfd 48.9%,#ffd3d3 53.7%,#ffefef 65.0%,#fff8f8 69.9%,#ffe9e9 74.7%,#fdfdff 78.5%,#bdbdff 99.8%)"></i><i style="height:1px;background:linear-gradient(90deg,#ffb9b9 0.2%,#ffbebe 26.4%,#ffbebe 30.1%,#ffd9d9 35.8%,#fcfcff 40.3%,#dbdbff 45.1%,#ffffff 48.5%,#ffd4d4 53.4%,#fff0f0 64.6%,#fff9f9 69.5%,#ffeaea 74.3%,#fdfdff 78.1%,#bcbcff 99.8%)"></i><i style="height:1px;background:linear-gradient(90deg,#ffbaba 0.2%,#ffbfbf 26.0%,#ffbebe 29.8%,#ffd8d8 35.4%,#fdfdff 39.9%,#dadaff 44.8%,#fffcfc 48.5%,#ffd5d5 53.4%,#fff5f5 65.0%,#fff9f9 69.9%,#ffeaea 74.0%,#fcfcff 78.1%,#bbbbff 99.8%)"></i><i style="height:1px;background:linear-gradient(90deg,#ffbbbb 0.2%,#ffbfbf 26.0%,#ffbfbf 29.8%,#ffdbdb 35.4%,#fefeff 39.5%,#dadaff 44.4%,#fffefe 48.1%,#ffd6d6 53.0%,#fff6f6 64.6%,#fffafa 69.5%,#ffecec 74.0%,#fcfcff 77.7%,#babaff 99.8%)"></i><i style="height:1px;background:linear-gradient(90deg,#ffbcbc 0.2%,#ffc0c0 25.7%,#ffbebe 29.0%,#ffdada 35.0%,#fcfcff 39.5%,#d9d9ff 44.0%,#fffcfc 48.1%,#ffd7d7 52.6%,#fff7f7 64.2%,#fffcfc 68.7%,#ffecec 73.6%,#fcfcff 77.3%,#b9b9ff 99.8%)"></i><i style="height:1px;background:linear-gradient(90deg,#ffbdbd 0.2%,#ffc2c2 25.3%,#ffbebe 28.7%,#ffdada 34.6%,#fdfdff 39.1%,#dadaff 44.0%,#fffefe 47.8%,#ffd8d8 52.2%,#fff9f9 64.2%,#fff9f9 69.9%,#ffecec 73.2%,#fdfdff 77.0%,#b8b8ff 99.4%,#b8b8ff 99.8%)"></i><i style="height:1px;background:linear-gradient(90deg,#ffbebe 0.2%,#ffc1c1 25.3%,#ffbfbf 28.7%,#ffdcdc 34.6%,#fefeff 38.8%,#d9d9ff 43.6%,#ffffff 47.4%,#ffd9d9 52.2%,#fffcfc 64.2%,#fff8f8 69.9%,#ffecec 72.8%,#fdfdff 76.6%,#b7b7ff 99.1%,#b7b7ff 99.8%)"></i><i style="height:1px;background:linear-gradient(90deg,#ffbebe 0.2%,#ffc3c3 24.9%,#ffbfbf 28.3%,#ffdbdb 34.3%,#ffffff 38.4%,#d9d9ff 43.3%,#fffdfd 47.4%,#ffdada 51.9%,#fffdfd 63.9%,#fff7f7 69.9%,#ffecec 72.5%,#fcfcff 76.6%,#b7b7ff 98.7%,#b6b6ff 99.8%)"></i><i style="height:1px;background:linear-gradient(90deg,#ffbfbf 0.2%,#ffc2c2 24.9%,#ffc1c1 28.3%,#ffdede 34.3%,#fdfdff 38.4%,#d9d9ff 43.3%,#ffffff 47.0%,#ffdcdc 51.5%,#fbfbff 64.6%,#fff8f8 69.5%,#ffeded 72.1%,#fcfcff 76.2%,#b6b6ff 97.9%,#b5b5ff 99.8%)"></i><i style="height:1px;background:linear-gradient(90deg,#ffc0c0 0.2%,#ffc4c4 24.5%,#ffc1c1 27.9%,#ffdddd 33.9%,#fefeff 38.0%,#d8d8ff 42.9%,#fffdfd 47.0%,#ffdddd 51.1%,#fcfcff 63.9%,#fffafa 69.1%,#ffeded 71.7%,#fcfcff 75.8%,#b6b6ff 97.6%,#b3b3ff 99.8%)"></i><i style="height:1px;background:linear-gradient(90deg,#ffc1c1 0.2%,#ffc5c5 24.2%,#ffc0c0 27.2%,#ffdcdc 33.5%,#fbfbff 38.0%,#d8d8ff 42.5%,#fffefe 46.6%,#ffdede 51.1%,#fcfcff 63.1%,#fffbfb 68.7%,#ffeded 71.3%,#fdfdff 75.5%,#b5b5ff 97.2%,#b2b2ff 99.8%)"></i><i style="height:1px;background:linear-gradient(90deg,#ffc2c2 0.2%,#ffc5c5 24.2%,#ffc2c2 27.5%,#ffdfdf 33.5%,#fcfcff 37.6%,#d7d7ff 42.1%,#fffcfc 46.6%,#ffdfdf 50.7%,#fbfbff 62.7%,#fdfdff 67.2%,#ffeeee 71.3%,#fbfbff 75.5%,#b4b4ff 96.8%,#b1b1ff 99.8%)"></i><i style="height:1px;background:linear-gradient(90deg,#ffc3c3 0.2%,#ffc6c6 23.8%,#ffc1c1 26.8%,#ffdede 33.1%,#fdfdff 37.3%,#d8d8ff 42.1%,#fffefe 46.3%,#ffe0e0 50.4%,#fcfcff 62.0%,#f9f9ff 66.1%,#fffafa 68.4%,#ffefef 71.0%,#fcfcff 75.1%,#b4b4ff 96.1%,#b0b0ff 99.8%)"></i><i style="height:1px;background:linear-gradient(90deg,#ffc4c4 0.2%,#ffc8c8 23.4%,#ffc1c1 26.4%,#ffe1e1 33.1%,#fefeff 36.9%,#d7d7ff 41.8%,#fffcfc 46.3%,#ffe1e1 50.0%,#fbfbff 61.6%,#f8f8ff 65.7%,#fffcfc 68.0%,#ffefef 70.6%,#fcfcff 74.7%,#b3b3ff 95.7%,#afafff 99.8%)"></i><i style="height:1px;background:linear-gradient(90deg,#ffc5c5 0.2%,#ffc7c7 23.4%,#ffc2c2 26.4%,#ffe0e0 32.8%,#fcfcff 36.9%,#d7d7ff 41.4%,#fffefe 45.9%,#ffe2e2 50.0%,#fcfcff 60.9%,#f5f5ff 65.0%,#fffafa 68.0%,#fff0f0 70.6%,#fbfbff 74.7%,#b3b3ff 95.3%,#aeaeff 99.8%)"></i><i style="height:1px;background:linear-gradient(90deg,#ffc6c6 0.2%,#ffc9c9 23.0%,#ffc2c2 26.0%,#ffe2e2 32.8%,#fdfdff 36.5%,#d7d7ff 41.4%,#fffcfc 45.9%,#ffe3e3 49.6%,#fbfbff 60.5%,#f4f4ff 64.6%,#fffbfb 67.6%,#fff1f1 70.2%,#fbfbff 74.3%,#b2b2ff 94.9%,#adadff 99.8%)"></i><i style="height:1px;background:linear-gradient(90deg,#ffc6c6 0.2%,#ffc8c8 23.0%,#ffc4c4 26.0%,#ffe1e1 32.4%,#fefeff 36.1%,#d6d6ff 41.0%,#fffefe 45.5%,#ffe4e4 49.3%,#fcfcff 59.7%,#f3f3ff 64.2%,#fffcfc 67.2%,#fff1f1 69.9%,#fcfcff 74.0%,#b2b2ff 94.2%,#acacff 99.8%)"></i><i style="height:1px;background:linear-gradient(90deg,#ffc7c7 0.2%,#ffcaca 22.7%,#ffc4c4 25.7%,#ffe4e4 32.4%,#fcfcff 36.1%,#d6d6ff 40.6%,#fffcfc 45.5%,#ffe6e6 49.3%,#fbfbff 59.4%,#f1f1ff 63.9%,#fffafa 67.2%,#fff2f2 69.9%,#fcfcff 73.6%,#b1b1ff 93.8%,#ababff 99.8%)"></i><i style="height:1px;background:linear-gradient(90deg,#ffc8c8 0.2%,#ffcbcb 22.3%,#ffc4c4 25.3%,#ffe3e3 32.0%,#fdfdff 35.8%,#d6d6ff 40.6%,#fffefe 45.1%,#ffe7e7 48.9%,#fbfbff 58.6%,#f0f0ff 63.5%,#fffbfb 66.9%,#fff2f2 69.5%,#fbfbff 73.6%,#b0b0ff 93.4%,#aaaaff 99.8%)"></i><i style="height:1px;background:linear-gradient(90deg,#ffc9c9 0.2%,#ffcaca 22.3%,#ffc5c5 25.3%,#ffe5e5 32.0%,#fefeff 35.4%,#d6d6ff 40.3%,#fffcfc 45.1%,#ffe8e8 48.5%,#fcfcff 57.9%,#eeeeff 62.7%,#fffcfc 66.5%,#fff3f3 69.1%,#fbfbff 73.2%,#b0b0ff 93.1%,#a9a9ff 99.8%)"></i><i style="height:1px;background:linear-gradient(90deg,#ffcaca 0.2%,#ffcccc 21.9%,#ffc5c5 24.9%,#ffe5e5 31.6%,#fbfbff 35.4%,#d5d5ff 39.9%,#fffefe 44.8%,#ffe9e9 48.1%,#fdfdff 57.1%,#ececff 62.4%,#fff9f9 66.5%,#fff4f4 69.1%,#fcfcff 72.8%,#afafff 92.7%,#a8a8ff 99.8%)"></i><i style="height:1px;background:linear-gradient(90deg,#ffcbcb 0.2%,#ffcbcb 21.9%,#ffc6c6 24.9%,#ffe7e7 31.6%,#fcfcff 35.0%,#d5d5ff 39.5%,#fffcfc 44.8%,#ffeaea 48.1%,#fdfdff 56.4%,#ebebff 62.0%,#fffbfb 66.1%,#fff4f4 68.7%,#fcfcff 72.5%,#afafff 91.9%,#a7a7ff 99.8%)"></i><i style="height:1px;background:linear-gradient(90deg,#ffcccc 0.2%,#ffcdcd 21.5%,#ffc5c5 24.2%,#ffe6e6 31.3%,#fdfdff 34.6%,#d5d5ff 39.5%,#fffefe 44.4%,#ffebeb 47.8%,#ffffff 55.2%,#eaeaff 61.6%,#fffcfc 65.7%,#fff4f4 68.4%,#fbfbff 72.5%,#aeaeff 91.6%,#a5a5ff 99.8%)"></i><i style="height:1px;background:linear-gradient(90deg,#ffcccc 0.2%,#ffcfcf 21.2%,#ffc5c5 23.8%,#ffe6e6 30.9%,#fbfbff 34.6%,#d4d4ff 39.1%,#fffcfc 44.4%,#ffecec 47.4%,#ffffff 54.5%,#e9e9ff 61.6%,#fffdfd 65.4%,#fff4f4 68.0%,#fbfbff 72.1%,#adadff 91.2%,#a4a4ff 99.8%)"></i><i style="height:1px;background:linear-gradient(90deg,#ffcdcd 0.2%,#ffcece 21.2%,#ffc7c7 23.8%,#ffe8e8 30.9%,#fcfcff 34.3%,#d4d4ff 38.8%,#fffefe 44.0%,#ffeeee 47.4%,#ffffff 53.0%,#e8e8ff 61.2%,#fffafa 65.4%,#fff7f7 68.4%,#fafaff 72.1%,#adadff 90.8%,#a3a3ff 99.8%)"></i><i style="height:1px;background:linear-gradient(90deg,#ffcece 0.2%,#ffcfcf 20.8%,#ffc7c7 23.4%,#ffeaea 30.9%,#fdfdff 33.9%,#d4d4ff 38.8%,#fffcfc 44.0%,#ffefef 47.0%,#fefeff 51.9%,#e7e7ff 60.9%,#fffbfb 65.0%,#fff6f6 67.6%,#fbfbff 71.7%,#adadff 90.1%,#a2a2ff 99.8%)"></i><i style="height:1px;background:linear-gradient(90deg,#ffcfcf 0.2%,#ffd1d1 20.4%,#ffc7c7 23.0%,#ffe9e9 30.5%,#fbfbff 33.9%,#d4d4ff 38.4%,#fffefe 43.6%,#fff0f0 46.6%,#fdfdff 50.7%,#e9e9ff 57.9%,#eaeaff 61.6%,#fffdfd 64.6%,#fff6f6 67.2%,#fbfbff 71.3%,#acacff 89.7%,#a1a1ff 99.8%)"></i><i style="height:1px;background:linear-gradient(90deg,#ffd0d0 0.2%,#ffd0d0 20.4%,#ffc8c8 23.0%,#ffebeb 30.5%,#fcfcff 33.5%,#d3d3ff 38.0%,#fffcfc 43.6%,#fff2f2 46.6%,#fcfcff 50.0%,#eaeaff 57.1%,#e7e7ff 60.9%,#fffafa 64.6%,#fffafa 68.4%,#f8f8ff 71.7%,#ababff 89.3%,#a0a0ff 99.8%)"></i><i style="height:1px;background:linear-gradient(90deg,#ffd1d1 0.2%,#ffd2d2 20.0%,#ffc8c8 22.7%,#ffebeb 30.1%,#fdfdff 33.1%,#d3d3ff 37.6%,#fffefe 43.3%,#fff3f3 46.3%,#fbfbff 49.3%,#ebebff 56.4%,#e4e4ff 60.1%,#fffbfb 64.2%,#fff9f9 67.6%,#f9f9ff 71.3%,#aaaaff 89.0%,#9f9fff 99.8%)"></i><i style="height:1px;background:linear-gradient(90deg,#ffd2d2 0.2%,#ffd4d4 19.7%,#ffc8c8 22.3%,#ffeded 30.1%,#fefeff 32.8%,#d3d3ff 37.6%,#fffdfd 43.3%,#fff5f5 46.3%,#fbfbff 48.5%,#e8e8ff 56.4%,#e4e4ff 60.1%,#fffcfc 63.9%,#fff8f8 66.9%,#fbfbff 70.6%,#aaaaff 88.6%,#9e9eff 99.8%)"></i><i style="height:1px;background:linear-gradient(90deg,#ffd2d2 0.2%,#ffd3d3 19.7%,#ffc9c9 22.3%,#ffefef 30.1%,#fbfbff 32.8%,#d2d2ff 37.3%,#fffefe 42.9%,#fff6f6 45.9%,#fafaff 48.1%,#e7e7ff 56.0%,#e3e3ff 59.7%,#fffdfd 63.5%,#fff8f8 66.5%,#f9f9ff 70.6%,#aaaaff 87.8%,#9d9dff 99.8%)"></i><i style="height:1px;background:linear-gradient(90deg,#ffd3d3 0.2%,#ffd5d5 19.3%,#ffc9c9 21.9%,#ffeeee 29.8%,#fcfcff 32.4%,#d2d2ff 36.9%,#fffdfd 42.9%,#fff7f7 45.5%,#f9f9ff 47.8%,#e6e6ff 55.6%,#e1e1ff 59.4%,#ffffff 63.1%,#fff7f7 65.7%,#fafaff 70.2%,#a9a9ff 87.5%,#9c9cff 99.8%)"></i><i style="height:1px;background:linear-gradient(90deg,#ffd4d4 0.2%,#ffd3d3 19.3%,#ffcbcb 21.9%,#fff0f0 29.8%,#fdfdff 32.0%,#d2d2ff 36.9%,#fffcfc 42.9%,#fffbfb 45.9%,#e5e5ff 55.2%,#e0e0ff 59.0%,#fffcfc 63.1%,#fffdfd 68.0%,#a8a8ff 87.5%,#9b9bff 99.8%)"></i><i style="height:1px;background:linear-gradient(90deg,#ffd5d5 0.2%,#ffd5d5 18.9%,#ffcbcb 21.5%,#fff2f2 29.8%,#fbfbff 32.0%,#d2d2ff 36.5%,#fffdfd 42.5%,#fffafa 45.1%,#f7f7ff 47.0%,#e2e2ff 55.2%,#dfdfff 58.6%,#fffdfd 62.7%,#fffcfc 66.9%,#f7f7ff 70.2%,#a8a8ff 86.7%,#9a9aff 99.8%)"></i><i style="height:1px;background:linear-gradient(90deg,#ffd6d6 0.2%,#ffd7d7 18.5%,#ffcbcb 21.2%,#fff1f1 29.4%,#fcfcff 31.6%,#d1d1ff 36.1%,#fffcfc 42.5%,#f9f9ff 46.3%,#e0e0ff 55.2%,#dfdfff 58.6%,#fffefe 62.4%,#fffbfb 66.1%,#f9f9ff 69.5%,#a7a7ff 86.3%,#9a9aff 99.8%)"></i><i style="height:1px;background:linear-gradient(90deg,#ffd7d7 0.2%,#ffd6d6 18.5%,#ffcccc 21.2%,#fff6f6 29.8%,#fdfdff 31.3%,#d1d1ff 35.8%,#fffefe 42.1%,#f9f9ff 45.9%,#dfdfff 54.9%,#ddddff 58.2%,#fffcfc 62.4%,#f9f9ff 69.1%,#a7a7ff 85.6%,#9999ff 99.8%)"></i><i style="height:1px;background:linear-gradient(90deg,#ffd8d8 0.2%,#ffd9d9 18.2%,#ffcdcd 20.8%,#fff6f6 29.4%,#fafaff 31.3%,#d0d0ff 35.8%,#fffdfd 42.1%,#f8f8ff 45.5%,#efefff 50.0%,#d9d9ff 57.1%,#f3f3ff 60.9%,#fffdfd 62.0%,#f9f9ff 68.7%,#a6a6ff 85.2%,#9999ff 99.8%)"></i><i style="height:1px;background:linear-gradient(90deg,#ffd9d9 0.2%,#ffdbdb 17.8%,#ffcdcd 20.4%,#fff8f8 29.4%,#fbfbff 30.9%,#d0d0ff 35.4%,#fffdfd 42.1%,#f7f7ff 45.1%,#eeeeff 49.3%,#d9d9ff 57.1%,#f7f7ff 60.9%,#fffbfb 62.0%,#f9f9ff 68.4%,#a5a5ff 84.8%,#9a9aff 99.8%)"></i><i style="height:1px;background:linear-gradient(90deg,#ffdbdb 0.2%,#ffdada 17.8%,#ffcfcf 20.4%,#fffafa 29.4%,#f8f8ff 30.9%,#cfcfff 35.0%,#fffdfd 42.1%,#f4f4ff 45.1%,#e1e1ff 53.0%,#d7d7ff 56.7%,#f5f5ff 60.5%,#fffcfc 61.6%,#f8f8ff 68.0%,#a5a5ff 84.5%,#9a9aff 99.8%)"></i><i style="height:1px;background:linear-gradient(90deg,#ffdcdc 0.2%,#ffdcdc 17.4%,#ffcfcf 20.0%,#fffcfc 29.4%,#e4e4ff 32.4%,#cfcfff 35.0%,#fffefe 42.1%,#ececff 47.4%,#e5e5ff 51.9%,#d6d6ff 56.4%,#f3f3ff 60.1%,#fffbfb 61.6%,#f8f8ff 67.6%,#a4a4ff 84.1%,#9b9bff 99.8%)"></i><i style="height:1px;background:linear-gradient(90deg,#ffdddd 0.2%,#ffdede 17.0%,#ffd0d0 19.7%,#fffcfc 29.0%,#ededff 31.3%,#ceceff 34.6%,#ffffff 42.1%,#eaeaff 47.0%,#e5e5ff 51.5%,#d4d4ff 56.0%,#f1f1ff 59.7%,#fffcfc 61.2%,#f8f8ff 67.2%,#a3a3ff 83.7%,#9b9bff 99.8%)"></i><i style="height:1px;background:linear-gradient(90deg,#ffdfdf 0.2%,#ffdede 17.0%,#ffd1d1 19.7%,#fdfdff 29.4%,#ceceff 34.3%,#fdfdff 41.8%,#e9e9ff 46.6%,#e5e5ff 51.1%,#d3d3ff 55.6%,#efefff 59.4%,#fffdfd 60.9%,#f6f6ff 67.2%,#a3a3ff 83.0%,#9c9cff 99.8%)"></i><i style="height:1px;background:linear-gradient(90deg,#ffe0e0 0.2%,#ffe0e0 16.7%,#ffd2d2 19.3%,#fbfbff 29.4%,#cdcdff 34.3%,#fcfcff 41.4%,#e8e8ff 46.3%,#e5e5ff 50.7%,#d2d2ff 55.2%,#ededff 59.0%,#fffdfd 60.9%,#f3f3ff 67.2%,#a3a3ff 82.6%,#9c9cff 99.4%,#9c9cff 99.8%)"></i><i style="height:1px;background:linear-gradient(90deg,#ffe1e1 0.2%,#ffdfdf 16.7%,#ffd2d2 18.9%,#fbfbff 29.0%,#cdcdff 33.9%,#fbfbff 41.4%,#e7e7ff 45.9%,#e5e5ff 50.4%,#d0d0ff 54.9%,#ebebff 58.6%,#fffefe 60.5%,#f1f1ff 67.2%,#a2a2ff 82.2%,#9c9cff 98.7%,#9d9dff 99.8%)"></i><i style="height:1px;background:linear-gradient(90deg,#ffe3e3 0.2%,#ffe1e1 16.3%,#ffd4d4 18.9%,#fcfcff 28.7%,#ccccff 33.5%,#f9f9ff 41.0%,#e6e6ff 45.5%,#e7e7ff 49.6%,#cfcfff 54.5%,#e9e9ff 58.2%,#ffffff 60.1%,#f1f1ff 66.9%,#a1a1ff 81.8%,#9c9cff 98.3%,#9e9eff 99.8%)"></i><i style="height:1px;background:linear-gradient(90deg,#ffe4e4 0.2%,#ffe4e4 15.9%,#ffd4d4 18.5%,#fcfcff 28.3%,#ccccff 33.1%,#f8f8ff 40.6%,#e5e5ff 45.1%,#e7e7ff 49.3%,#ceceff 54.1%,#e8e8ff 57.9%,#ffffff 60.1%,#eeeeff 66.9%,#a1a1ff 81.5%,#9c9cff 97.9%,#9e9eff 99.8%)"></i><i style="height:1px;background:linear-gradient(90deg,#ffe5e5 0.2%,#ffe3e3 15.9%,#ffd5d5 18.2%,#fdfdff 27.9%,#cbcbff 33.1%,#f7f7ff 40.3%,#e3e3ff 44.8%,#e7e7ff 48.9%,#ccccff 53.7%,#e6e6ff 57.5%,#fefeff 59.7%,#eeeeff 66.5%,#a0a0ff 81.1%,#9b9bff 97.2%,#9f9fff 99.8%)"></i><i style="height:1px;background:linear-gradient(90deg,#ffe6e6 0.2%,#ffe5e5 15.5%,#ffd6d6 18.2%,#fdfdff 27.5%,#cbcbff 32.8%,#f5f5ff 40.3%,#e2e2ff 44.4%,#e7e7ff 48.5%,#ccccff 53.7%,#e4e4ff 57.1%,#fefeff 59.4%,#ededff 66.1%,#9f9fff 80.7%,#9b9bff 96.8%,#9f9fff 99.8%)"></i><i style="height:1px;background:linear-gradient(90deg,#ffe8e8 0.2%,#ffe7e7 15.2%,#ffd7d7 17.8%,#fdfdff 27.2%,#cacaff 32.4%,#f4f4ff 39.9%,#e1e1ff 44.0%,#e7e7ff 48.1%,#cbcbff 53.4%,#e2e2ff 56.7%,#fdfdff 59.0%,#ededff 65.7%,#9f9fff 80.0%,#9b9bff 96.4%,#a0a0ff 99.8%)"></i><i style="height:1px;background:linear-gradient(90deg,#ffe9e9 0.2%,#ffe7e7 15.2%,#ffd7d7 17.4%,#fbfbff 27.2%,#cacaff 32.4%,#f3f3ff 39.5%,#e0e0ff 44.0%,#e5e5ff 48.1%,#c9c9ff 53.0%,#e0e0ff 56.4%,#fcfcff 58.6%,#ededff 65.4%,#9f9fff 79.6%,#9b9bff 95.7%,#a0a0ff 99.8%)"></i><i style="height:1px;background:linear-gradient(90deg,#ffeaea 0.2%,#ffe9e9 14.8%,#ffd9d9 17.4%,#fcfcff 26.8%,#c9c9ff 32.0%,#f2f2ff 39.1%,#dfdfff 43.6%,#e5e5ff 47.8%,#c8c8ff 52.6%,#dedeff 56.0%,#fbfbff 58.2%,#ededff 65.0%,#9e9eff 79.2%,#9b9bff 95.3%,#a1a1ff 99.8%)"></i><i style="height:1px;background:linear-gradient(90deg,#ffecec 0.2%,#ffe8e8 14.8%,#ffd9d9 17.0%,#fcfcff 26.4%,#c9c9ff 31.6%,#f0f0ff 39.1%,#dedeff 43.3%,#e5e5ff 47.4%,#c7c7ff 52.2%,#dcdcff 55.6%,#fafaff 57.9%,#ececff 64.6%,#9d9dff 78.8%,#9b9bff 94.9%,#a1a1ff 99.8%)"></i><i style="height:1px;background:linear-gradient(90deg,#ffeded 0.2%,#ffebeb 14.4%,#ffdada 16.7%,#fcfcff 26.0%,#c8c8ff 31.6%,#efefff 38.8%,#dcdcff 42.9%,#e5e5ff 47.0%,#c5c5ff 51.9%,#dadaff 55.2%,#f9f9ff 57.5%,#ececff 64.2%,#9d9dff 78.5%,#9b9bff 94.2%,#a2a2ff 99.8%)"></i><i style="height:1px;background:linear-gradient(90deg,#ffeeee 0.2%,#ffeded 14.0%,#ffdbdb 16.7%,#fcfcff 25.7%,#c7c7ff 31.3%,#eeeeff 38.4%,#dbdbff 42.5%,#e5e5ff 46.6%,#c4c4ff 51.5%,#d8d8ff 54.9%,#f8f8ff 57.1%,#eeeeff 63.5%,#9c9cff 78.1%,#9b9bff 93.8%,#a3a3ff 99.8%)"></i><i style="height:1px;background:linear-gradient(90deg,#ffefef 0.2%,#ffecec 14.0%,#ffdcdc 16.3%,#fdfdff 25.3%,#c7c7ff 30.9%,#ededff 38.0%,#d9d9ff 42.1%,#e5e5ff 46.3%,#c4c4ff 51.5%,#dcdcff 54.9%,#f8f8ff 57.1%,#ebebff 63.5%,#9b9bff 77.7%,#9a9aff 93.1%,#a3a3ff 99.8%)"></i><i style="height:1px;background:linear-gradient(90deg,#fff1f1 0.2%,#ffeeee 13.7%,#ffdddd 15.9%,#fdfdff 24.9%,#c6c6ff 30.9%,#ebebff 38.0%,#d8d8ff 41.8%,#e5e5ff 45.9%,#c2c2ff 51.1%,#d9d9ff 54.5%,#f7f7ff 56.7%,#ebebff 63.1%,#9b9bff 77.0%,#9a9aff 92.7%,#a4a4ff 99.8%)"></i><i style="height:1px;background:linear-gradient(90deg,#fff2f2 0.2%,#fff1f1 13.3%,#ffdede 15.9%,#fdfdff 24.5%,#c6c6ff 30.5%,#eaeaff 37.6%,#d8d8ff 41.8%,#e5e5ff 45.5%,#c1c1ff 50.7%,#d7d7ff 54.1%,#f7f7ff 56.4%,#ebebff 62.7%,#9a9aff 76.6%,#9a9aff 91.9%,#a5a5ff 99.8%)"></i><i style="height:1px;background:linear-gradient(90deg,#fff3f3 0.2%,#fff0f0 13.3%,#ffdfdf 15.5%,#fdfdff 24.2%,#c5c5ff 30.1%,#e9e9ff 37.3%,#d6d6ff 41.4%,#e5e5ff 45.1%,#c0c0ff 50.4%,#d5d5ff 53.7%,#f6f6ff 56.0%,#ebebff 62.4%,#9a9aff 76.2%,#9a9aff 91.6%,#a6a6ff 99.8%)"></i><i style="height:1px;background:linear-gradient(90deg,#fff4f4 0.2%,#fff2f2 12.9%,#ffe0e0 15.5%,#fbfbff 24.2%,#c5c5ff 29.8%,#e8e8ff 36.9%,#d5d5ff 41.0%,#e5e5ff 44.8%,#bfbfff 50.0%,#d3d3ff 53.4%,#f5f5ff 55.6%,#eaeaff 62.0%,#9999ff 75.8%,#9a9aff 91.2%,#a7a7ff 99.8%)"></i><i style="height:1px;background:linear-gradient(90deg,#fff6f6 0.2%,#fff1f1 12.9%,#ffe1e1 15.2%,#fbfbff 23.8%,#c4c4ff 29.8%,#e6e6ff 36.9%,#d3d3ff 40.6%,#e4e4ff 44.4%,#bdbdff 49.6%,#d1d1ff 53.0%,#f4f4ff 55.2%,#eaeaff 61.6%,#9898ff 75.5%,#9999ff 90.4%,#a8a8ff 99.8%)"></i><i style="height:1px;background:linear-gradient(90deg,#fff7f7 0.2%,#fff4f4 12.5%,#ffe1e1 14.8%,#fbfbff 23.4%,#c4c4ff 29.4%,#e5e5ff 36.5%,#d2d2ff 40.3%,#e3e3ff 44.4%,#bcbcff 49.3%,#cfcfff 52.6%,#f3f3ff 54.9%,#eaeaff 61.2%,#9898ff 75.1%,#9999ff 90.1%,#a9a9ff 99.8%)"></i><i style="height:1px;background:linear-gradient(90deg,#fff8f8 0.2%,#fff6f6 12.2%,#ffe3e3 14.8%,#fbfbff 23.0%,#d4d4ff 27.2%,#c3c3ff 29.4%,#e4e4ff 36.1%,#d0d0ff 39.9%,#e3e3ff 44.0%,#bbbbff 49.3%,#cdcdff 52.2%,#f2f2ff 54.5%,#eaeaff 60.9%,#9797ff 74.7%,#9999ff 89.7%,#aaaaff 99.8%)"></i><i style="height:1px;background:linear-gradient(90deg,#fffafa 0.2%,#fff5f5 12.2%,#ffe3e3 14.4%,#fbfbff 22.7%,#d5d5ff 26.8%,#c3c3ff 29.0%,#e3e3ff 35.8%,#d1d1ff 39.9%,#e3e3ff 43.6%,#babaff 48.9%,#cbcbff 51.9%,#f0f0ff 54.1%,#e9e9ff 60.5%,#9797ff 74.0%,#9898ff 89.0%,#ababff 99.8%)"></i><i style="height:1px;background:linear-gradient(90deg,#fffbfb 0.2%,#fff8f8 11.8%,#ffe4e4 14.0%,#fbfbff 22.3%,#dadaff 26.0%,#c2c2ff 28.7%,#e1e1ff 35.8%,#cfcfff 39.5%,#e2e2ff 43.3%,#b9b9ff 48.5%,#c9c9ff 51.5%,#f1f1ff 54.1%,#e9e9ff 60.1%,#9696ff 73.6%,#9898ff 88.6%,#adadff 99.8%)"></i><i style="height:1px;background:linear-gradient(90deg,#fffcfc 0.2%,#fff6f6 11.8%,#ffe5e5 14.0%,#fdfdff 21.5%,#e0e0ff 25.3%,#c1c1ff 28.3%,#e0e0ff 35.4%,#cdcdff 39.1%,#e2e2ff 42.9%,#b8b8ff 48.1%,#c7c7ff 51.1%,#f0f0ff 53.7%,#e9e9ff 59.7%,#9696ff 73.2%,#9898ff 88.2%,#aeaeff 99.8%)"></i><i style="height:1px;background:linear-gradient(90deg,#fffdfd 0.2%,#fff9f9 11.4%,#ffe6e6 13.7%,#fdfdff 21.2%,#e1e1ff 24.9%,#c1c1ff 28.3%,#dfdfff 35.0%,#ccccff 38.8%,#e2e2ff 42.5%,#b6b6ff 47.8%,#c5c5ff 50.7%,#efefff 53.4%,#e9e9ff 59.4%,#9595ff 72.8%,#9898ff 87.8%,#afafff 99.8%)"></i><i style="height:1px;background:linear-gradient(90deg,#ffffff 0.2%,#fffbfb 11.0%,#ffe7e7 13.3%,#fdfdff 20.8%,#e2e2ff 24.5%,#c0c0ff 27.9%,#dedeff 34.6%,#cacaff 38.4%,#e2e2ff 42.1%,#b5b5ff 47.4%,#c3c3ff 50.4%,#eeeeff 53.0%,#e8e8ff 59.0%,#9494ff 72.5%,#9797ff 87.1%,#b0b0ff 99.8%)"></i><i style="height:1px;background:linear-gradient(90deg,#fefeff 0.2%,#fffafa 11.0%,#ffe8e8 13.3%,#fcfcff 20.4%,#e3e3ff 24.2%,#c0c0ff 27.5%,#dbdbff 34.6%,#c9c9ff 38.0%,#e1e1ff 42.1%,#b4b4ff 47.0%,#c1c1ff 50.0%,#ededff 52.6%,#e8e8ff 58.6%,#9494ff 72.1%,#9797ff 86.7%,#b2b2ff 99.8%)"></i><i style="height:1px;background:linear-gradient(90deg,#fdfdff 0.2%,#fff9f9 11.0%,#ffe9e9 12.9%,#fcfcff 20.0%,#e4e4ff 23.8%,#bfbfff 27.2%,#dadaff 34.3%,#c9c9ff 38.0%,#e0e0ff 41.8%,#b3b3ff 47.0%,#c5c5ff 50.0%,#ececff 52.2%,#e8e8ff 58.2%,#9393ff 71.7%,#9797ff 86.3%,#b3b3ff 99.8%)"></i><i style="height:1px;background:linear-gradient(90deg,#fcfcff 0.2%,#fffbfb 10.7%,#ffeaea 12.9%,#fcfcff 19.7%,#e5e5ff 23.4%,#bfbfff 27.2%,#d9d9ff 33.9%,#c7c7ff 37.6%,#e0e0ff 41.4%,#b2b2ff 46.6%,#c3c3ff 49.6%,#ebebff 51.9%,#e7e7ff 57.9%,#9292ff 71.3%,#9797ff 86.0%,#b4b4ff 99.8%)"></i><i style="height:1px;background:linear-gradient(90deg,#fafaff 0.2%,#fffafa 10.7%,#ffeaea 12.5%,#fcfcff 19.3%,#e2e2ff 23.4%,#bebeff 26.8%,#d8d8ff 33.5%,#c6c6ff 37.3%,#e0e0ff 41.0%,#b1b1ff 46.3%,#c0c0ff 49.3%,#eaeaff 51.5%,#e7e7ff 57.5%,#9292ff 70.6%,#9696ff 85.2%,#b5b5ff 99.8%)"></i><i style="height:1px;background:linear-gradient(90deg,#f9f9ff 0.2%,#fffdfd 10.3%,#ffecec 12.5%,#fcfcff 18.9%,#e3e3ff 23.0%,#bebeff 26.4%,#d6d6ff 33.5%,#c4c4ff 36.9%,#e0e0ff 40.6%,#b0b0ff 45.9%,#bebeff 48.9%,#ebebff 51.5%,#e5e5ff 57.5%,#9292ff 70.2%,#9696ff 84.8%,#b5b5ff 99.8%)"></i><i style="height:1px;background:linear-gradient(90deg,#f8f8ff 0.2%,#fffbfb 10.3%,#ffecec 12.2%,#fcfcff 18.2%,#e4e4ff 22.7%,#bdbdff 26.0%,#d5d5ff 33.1%,#c2c2ff 36.5%,#e0e0ff 40.3%,#aeaeff 45.5%,#bcbcff 48.5%,#eaeaff 51.1%,#e4e4ff 57.1%,#9191ff 69.9%,#9696ff 84.5%,#b5b5ff 99.8%)"></i><i style="height:1px;background:linear-gradient(90deg,#f7f7ff 0.2%,#fcfcff 9.6%,#ffeeee 12.2%,#fcfcff 17.8%,#e5e5ff 22.3%,#bcbcff 26.0%,#d4d4ff 32.8%,#c3c3ff 36.5%,#dfdfff 39.9%,#adadff 45.5%,#babaff 48.1%,#e9e9ff 50.7%,#e4e4ff 56.7%,#9090ff 69.5%,#9696ff 84.1%,#b4b4ff 99.8%)"></i><i style="height:1px;background:linear-gradient(90deg,#f6f6ff 0.2%,#fafaff 9.2%,#fff2f2 10.7%,#fbfbff 17.8%,#e6e6ff 21.9%,#bcbcff 25.7%,#d2d2ff 32.8%,#c1c1ff 36.1%,#dedeff 39.9%,#acacff 45.1%,#b8b8ff 47.8%,#e7e7ff 50.4%,#e3e3ff 56.4%,#8f8fff 69.1%,#9696ff 83.7%,#b4b4ff 99.8%)"></i><i style="height:1px;background:linear-gradient(90deg,#f5f5ff 0.2%,#fbfbff 9.2%,#fff4f4 10.3%,#fff7f7 13.7%,#fbfbff 17.0%,#e6e6ff 21.5%,#bcbcff 25.3%,#d1d1ff 32.4%,#bfbfff 35.8%,#ddddff 39.5%,#ababff 44.8%,#bcbcff 47.8%,#e5e5ff 50.0%,#e2e2ff 56.0%,#8f8fff 68.7%,#9595ff 83.3%,#b4b4ff 99.1%,#b3b3ff 99.8%)"></i><i style="height:1px;background:linear-gradient(90deg,#f4f4ff 0.2%,#f9f9ff 8.8%,#fff7f7 9.9%,#fff4f4 12.5%,#fbfbff 16.7%,#e3e3ff 21.5%,#bcbcff 25.3%,#d0d0ff 32.0%,#bebeff 35.4%,#dcdcff 39.1%,#aaaaff 44.4%,#b9b9ff 47.4%,#e3e3ff 49.6%,#e0e0ff 55.6%,#8e8eff 68.4%,#9494ff 83.0%,#b4b4ff 98.7%,#b2b2ff 99.8%)"></i><i style="height:1px;background:linear-gradient(90deg,#f4f4ff 0.2%,#fafaff 8.8%,#fffafa 9.6%,#fff4f4 11.8%,#fbfbff 16.3%,#e4e4ff 21.2%,#bcbcff 24.9%,#cfcfff 31.6%,#bcbcff 35.0%,#dbdbff 38.8%,#a9a9ff 44.0%,#b7b7ff 47.0%,#e0e0ff 49.3%,#dedeff 55.2%,#8d8dff 68.0%,#9393ff 82.6%,#b4b4ff 98.3%,#b1b1ff 99.8%)"></i><i style="height:1px;background:linear-gradient(90deg,#f3f3ff 0.2%,#f8f8ff 8.4%,#fff8f8 9.6%,#fff8f8 12.5%,#fafaff 15.9%,#e5e5ff 20.8%,#bcbcff 24.5%,#cdcdff 31.6%,#bdbdff 35.0%,#d9d9ff 38.4%,#a8a8ff 44.0%,#b4b4ff 46.6%,#e0e0ff 49.3%,#d9d9ff 55.2%,#8c8cff 67.6%,#9292ff 82.2%,#b6b6ff 97.6%,#afafff 99.8%)"></i><i style="height:1px;background:linear-gradient(90deg,#f2f2ff 0.2%,#f6f6ff 8.1%,#fffbfb 9.2%,#fff7f7 11.8%,#fbfbff 15.2%,#e1e1ff 20.8%,#bcbcff 24.5%,#ccccff 31.3%,#bbbbff 34.6%,#d7d7ff 38.4%,#a7a7ff 43.6%,#b2b2ff 46.3%,#ddddff 48.9%,#d7d7ff 54.9%,#8b8bff 67.2%,#9191ff 81.8%,#b6b6ff 97.2%,#aeaeff 99.8%)"></i><i style="height:1px;background:linear-gradient(90deg,#f2f2ff 0.2%,#f7f7ff 8.1%,#fff9f9 9.2%,#f8f8ff 15.5%,#e2e2ff 20.4%,#bcbcff 24.2%,#cbcbff 30.9%,#babaff 34.3%,#d6d6ff 38.0%,#a6a6ff 43.3%,#b6b6ff 46.3%,#dadaff 48.5%,#d4d4ff 54.5%,#8989ff 66.9%,#9090ff 81.5%,#b3b3ff 93.8%,#b1b1ff 98.3%,#adadff 99.8%)"></i><i style="height:1px;background:linear-gradient(90deg,#f1f1ff 0.2%,#f5f5ff 7.7%,#fffcfc 8.8%,#fffbfb 11.8%,#f1f1ff 17.4%,#dadaff 20.8%,#bcbcff 24.2%,#c8c8ff 30.9%,#b8b8ff 33.9%,#d4d4ff 37.6%,#a5a5ff 42.9%,#b3b3ff 45.9%,#d7d7ff 48.1%,#d2d2ff 54.1%,#8888ff 66.5%,#8f8fff 81.1%,#b1b1ff 93.1%,#b4b4ff 97.2%,#ababff 99.8%)"></i><i style="height:1px;background:linear-gradient(90deg,#f1f1ff 0.2%,#f7f7ff 7.7%,#fffafa 8.8%,#f9f9ff 14.4%,#e0e0ff 20.0%,#bbbbff 23.8%,#c7c7ff 30.5%,#b8b8ff 33.9%,#d3d3ff 37.3%,#a4a4ff 42.5%,#b1b1ff 45.5%,#d4d4ff 47.8%,#cdcdff 54.1%,#8787ff 66.1%,#8f8fff 81.1%,#aeaeff 91.9%,#b7b7ff 96.1%,#a9a9ff 99.8%)"></i><i style="height:1px;background:linear-gradient(90deg,#f0f0ff 0.2%,#f4f4ff 7.3%,#fffdfd 8.4%,#f6f6ff 14.8%,#e0e0ff 19.7%,#bcbcff 23.4%,#c7c7ff 30.1%,#b7b7ff 33.5%,#d0d0ff 37.3%,#a3a3ff 42.1%,#afafff 45.1%,#d3d3ff 47.8%,#cbcbff 53.7%,#8686ff 65.7%,#8d8dff 80.7%,#acacff 91.2%,#b7b7ff 95.7%,#a7a7ff 99.8%)"></i><i style="height:1px;background:linear-gradient(90deg,#f0f0ff 0.2%,#f6f6ff 7.3%,#fffcfc 8.4%,#f7f7ff 14.0%,#e1e1ff 19.3%,#bcbcff 23.0%,#c4c4ff 30.1%,#b5b5ff 33.1%,#cfcfff 36.9%,#a2a2ff 42.1%,#acacff 44.8%,#d1d1ff 47.4%,#c6c6ff 53.7%,#8585ff 65.4%,#8c8cff 80.3%,#acacff 90.8%,#b7b7ff 95.3%,#a5a5ff 99.8%)"></i><i style="height:1px;background:linear-gradient(90deg,#efefff 0.2%,#f4f4ff 6.9%,#fffbfb 8.4%,#f7f7ff 13.7%,#dedeff 19.3%,#bbbbff 23.0%,#c3c3ff 29.8%,#b4b4ff 32.8%,#ceceff 36.5%,#a1a1ff 41.8%,#aaaaff 44.4%,#ceceff 47.0%,#c4c4ff 53.4%,#8484ff 65.0%,#8b8bff 80.0%,#aaaaff 90.1%,#b9b9ff 94.6%,#a3a3ff 99.8%)"></i><i style="height:1px;background:linear-gradient(90deg,#efefff 0.2%,#f5f5ff 6.9%,#fffbfb 8.4%,#f4f4ff 14.0%,#dfdfff 18.9%,#bbbbff 22.7%,#c2c2ff 29.4%,#b4b4ff 32.8%,#ccccff 36.1%,#a0a0ff 41.4%,#adadff 44.4%,#cbcbff 46.6%,#c2c2ff 53.0%,#8383ff 64.6%,#8b8bff 80.0%,#aaaaff 89.7%,#b9b9ff 94.2%,#a1a1ff 99.8%)"></i><i style="height:1px;background:linear-gradient(90deg,#eeeeff 0.2%,#f3f3ff 6.6%,#fffdfd 8.1%,#ebebff 16.7%,#bbbbff 22.7%,#c1c1ff 29.0%,#b3b3ff 32.4%,#cbcbff 35.8%,#9f9fff 41.0%,#ababff 44.0%,#c9c9ff 46.3%,#bfbfff 52.6%,#8282ff 64.2%,#8989ff 79.6%,#a8a8ff 89.0%,#b9b9ff 93.8%,#9f9fff 99.8%)"></i><i style="height:1px;background:linear-gradient(90deg,#ededff 0.2%,#f1f1ff 6.2%,#fffdfd 8.4%,#e0e0ff 18.2%,#bbbbff 22.3%,#bfbfff 29.0%,#b1b1ff 32.0%,#c8c8ff 35.8%,#9e9eff 41.0%,#a8a8ff 43.6%,#c6c6ff 45.9%,#bdbdff 52.2%,#8181ff 63.9%,#8888ff 79.2%,#a6a6ff 88.2%,#babaff 93.1%,#9d9dff 99.8%)"></i><i style="height:1px;background:linear-gradient(90deg,#ededff 0.2%,#f2f2ff 6.2%,#ffffff 8.8%,#ddddff 18.2%,#bbbbff 21.9%,#bebeff 28.7%,#afafff 31.6%,#c7c7ff 35.4%,#9d9dff 40.6%,#a6a6ff 43.3%,#c4c4ff 45.9%,#b8b8ff 52.2%,#8080ff 63.5%,#8888ff 79.2%,#a6a6ff 87.8%,#bbbbff 92.7%,#9b9bff 99.8%)"></i><i style="height:1px;background:linear-gradient(90deg,#ececff 0.2%,#f0f0ff 5.8%,#fefeff 8.4%,#dedeff 17.8%,#bbbbff 21.9%,#bbbbff 28.7%,#b0b0ff 31.6%,#c6c6ff 35.0%,#9c9cff 40.3%,#a9a9ff 43.3%,#c1c1ff 45.5%,#b4b4ff 52.2%,#7f7fff 63.1%,#8787ff 78.8%,#a5a5ff 87.5%,#bbbbff 92.3%,#9a9aff 99.8%)"></i><i style="height:1px;background:linear-gradient(90deg,#ececff 0.2%,#f1f1ff 5.8%,#fcfcff 8.4%,#dedeff 17.4%,#bbbbff 21.5%,#babaff 28.3%,#aeaeff 31.3%,#c4c4ff 34.6%,#9b9bff 39.9%,#a6a6ff 42.9%,#bfbfff 45.1%,#b2b2ff 51.9%,#7e7eff 62.7%,#8686ff 78.5%,#a3a3ff 86.7%,#bbbbff 91.9%,#9999ff 99.8%)"></i><i style="height:1px;background:linear-gradient(90deg,#ebebff 0.2%,#efefff 5.4%,#fcfcff 8.1%,#dbdbff 17.4%,#bbbbff 21.2%,#b9b9ff 27.9%,#adadff 30.9%,#c2c2ff 34.6%,#9a9aff 39.5%,#a4a4ff 42.5%,#bcbcff 44.8%,#afafff 51.5%,#7d7dff 62.4%,#8484ff 78.1%,#a3a3ff 86.3%,#bcbcff 91.2%,#9898ff 99.8%)"></i><i style="height:1px;background:linear-gradient(90deg,#eaeaff 0.2%,#f1f1ff 5.4%,#fafaff 8.1%,#dcdcff 17.0%,#bbbbff 21.2%,#b7b7ff 27.9%,#ababff 30.5%,#c0c0ff 34.3%,#9898ff 39.5%,#a2a2ff 42.1%,#babaff 44.8%,#ababff 51.5%,#7c7cff 62.0%,#8484ff 78.1%,#a2a2ff 86.0%,#bdbdff 90.8%,#9898ff 99.4%,#9898ff 99.8%)"></i><i style="height:1px;background:linear-gradient(90deg,#eaeaff 0.2%,#efefff 5.1%,#f9f9ff 7.7%,#dcdcff 16.7%,#bbbbff 20.8%,#b6b6ff 27.5%,#acacff 30.5%,#bfbfff 33.9%,#9797ff 39.1%,#9f9fff 41.8%,#b7b7ff 44.4%,#a7a7ff 51.5%,#7b7bff 61.6%,#8383ff 77.7%,#a2a2ff 85.6%,#bdbdff 90.4%,#9797ff 99.1%,#9797ff 99.8%)"></i><i style="height:1px;background:linear-gradient(90deg,#e9e9ff 0.2%,#f0f0ff 5.1%,#f8f8ff 7.7%,#d9d9ff 16.7%,#bbbbff 20.8%,#b3b3ff 27.5%,#aaaaff 30.1%,#bebeff 33.5%,#9696ff 38.8%,#a2a2ff 41.8%,#b5b5ff 44.4%,#a3a3ff 51.5%,#7a7aff 61.2%,#8282ff 77.3%,#9f9fff 84.8%,#bdbdff 90.1%,#9797ff 98.3%,#9797ff 99.8%)"></i><i style="height:1px;background:linear-gradient(90deg,#e8e8ff 0.2%,#eeeeff 4.7%,#f7f7ff 7.3%,#dadaff 16.3%,#bbbbff 20.4%,#b2b2ff 27.2%,#a8a8ff 29.8%,#bcbcff 33.1%,#9595ff 38.8%,#9f9fff 41.4%,#b2b2ff 44.0%,#a1a1ff 51.1%,#7979ff 60.9%,#8181ff 77.0%,#9f9fff 84.5%,#bebeff 89.7%,#9696ff 97.9%,#9797ff 99.8%)"></i><i style="height:1px;background:linear-gradient(90deg,#e8e8ff 0.2%,#efefff 4.7%,#f5f5ff 7.7%,#d7d7ff 16.3%,#bbbbff 20.4%,#afafff 27.2%,#a9a9ff 29.8%,#babaff 33.1%,#9494ff 38.4%,#9d9dff 41.0%,#b0b0ff 43.6%,#9d9dff 51.1%,#7878ff 60.5%,#7f7fff 76.6%,#9f9fff 84.1%,#bebeff 89.0%,#9696ff 97.6%,#9696ff 99.8%)"></i><i style="height:1px;background:linear-gradient(90deg,#e7e7ff 0.2%,#ededff 4.3%,#f4f4ff 7.3%,#d8d8ff 15.9%,#babaff 20.0%,#aeaeff 26.8%,#a7a7ff 29.4%,#b9b9ff 32.8%,#9393ff 38.0%,#9f9fff 41.0%,#adadff 43.6%,#9797ff 51.5%,#7777ff 60.1%,#7e7eff 76.2%,#9c9cff 83.3%,#bfbfff 88.6%,#9595ff 97.2%,#9696ff 99.8%)"></i><i style="height:1px;background:linear-gradient(90deg,#e6e6ff 0.2%,#eeeeff 4.3%,#f1f1ff 8.1%,#d5d5ff 15.9%,#babaff 20.0%,#ababff 26.8%,#a8a8ff 29.4%,#b7b7ff 32.4%,#9191ff 38.0%,#9c9cff 40.6%,#aaaaff 43.3%,#9595ff 51.1%,#7676ff 59.7%,#7d7dff 75.8%,#9c9cff 83.0%,#bfbfff 88.2%,#9595ff 96.4%,#9696ff 99.8%)"></i><i style="height:1px;background:linear-gradient(90deg,#e6e6ff 0.2%,#efefff 4.3%,#ebebff 9.9%,#d2d2ff 15.9%,#babaff 19.7%,#ababff 26.4%,#a6a6ff 29.0%,#b4b4ff 32.4%,#9090ff 37.6%,#9a9aff 40.3%,#a8a8ff 42.9%,#9090ff 51.5%,#7575ff 59.7%,#7c7cff 75.5%,#9b9bff 82.6%,#c0c0ff 87.8%,#9494ff 96.1%,#9696ff 99.8%)"></i><i style="height:1px;background:linear-gradient(90deg,#e5e5ff 0.2%,#ededff 3.9%,#ededff 8.4%,#d3d3ff 15.5%,#babaff 19.7%,#a7a7ff 26.4%,#a7a7ff 29.0%,#b3b3ff 32.0%,#8f8fff 37.3%,#9b9bff 40.3%,#a4a4ff 43.6%,#7e7eff 54.9%,#7474ff 63.1%,#7c7cff 75.5%,#9b9bff 82.2%,#c0c0ff 87.5%,#9393ff 95.7%,#9696ff 99.8%)"></i><i style="height:1px;background:linear-gradient(90deg,#e4e4ff 0.2%,#eeeeff 3.9%,#e2e2ff 12.5%,#babaff 19.3%,#a4a4ff 26.4%,#a8a8ff 29.0%,#b2b2ff 31.6%,#8e8eff 36.9%,#9999ff 39.9%,#a1a1ff 43.3%,#7373ff 59.0%,#7a7aff 74.7%,#9898ff 81.5%,#c0c0ff 87.1%,#9393ff 95.3%,#9696ff 99.8%)"></i><i style="height:1px;background:linear-gradient(90deg,#e4e4ff 0.2%,#eeeeff 6.6%,#d4d4ff 14.8%,#b9b9ff 19.3%,#a1a1ff 27.9%,#b1b1ff 31.3%,#8d8dff 36.9%,#9a9aff 39.9%,#9b9bff 45.5%,#7272ff 58.2%,#7979ff 74.3%,#9797ff 81.1%,#c1c1ff 86.3%,#9292ff 94.9%,#9696ff 99.8%)"></i><i style="height:1px;background:linear-gradient(90deg,#e3e3ff 0.2%,#ededff 6.2%,#d5d5ff 14.4%,#b9b9ff 18.9%,#a0a0ff 27.5%,#afafff 30.9%,#8c8cff 36.5%,#9797ff 39.5%,#9999ff 44.8%,#7171ff 58.2%,#7777ff 74.0%,#9797ff 80.7%,#c1c1ff 86.0%,#9292ff 94.6%,#9696ff 99.8%)"></i><i style="height:1px;background:linear-gradient(90deg,#e2e2ff 0.2%,#ececff 6.2%,#d2d2ff 14.4%,#b8b8ff 18.9%,#9e9eff 27.2%,#acacff 30.9%,#8a8aff 36.5%,#9a9aff 41.8%,#7070ff 58.2%,#7676ff 73.6%,#9797ff 80.3%,#c2c2ff 85.6%,#9191ff 93.8%,#9696ff 99.8%)"></i><i style="height:1px;background:linear-gradient(90deg,#e2e2ff 0.2%,#ebebff 5.8%,#d3d3ff 14.0%,#b8b8ff 18.9%,#9e9eff 27.2%,#ababff 30.5%,#8989ff 36.1%,#9797ff 41.8%,#6f6fff 57.9%,#7575ff 73.2%,#9797ff 80.0%,#c2c2ff 85.2%,#9191ff 93.4%,#9797ff 99.8%)"></i><i style="height:1px;background:linear-gradient(90deg,#e1e1ff 0.2%,#eaeaff 5.8%,#d0d0ff 14.0%,#b7b7ff 18.9%,#9d9dff 26.8%,#aaaaff 30.1%,#8787ff 36.1%,#9494ff 41.4%,#6e6eff 57.5%,#7373ff 72.5%,#9393ff 79.2%,#c2c2ff 84.8%,#9090ff 93.1%,#9797ff 99.8%)"></i><i style="height:1px;background:linear-gradient(90deg,#e0e0ff 0.2%,#e9e9ff 5.4%,#d1d1ff 13.7%,#b6b6ff 18.9%,#9b9bff 26.4%,#a9a9ff 29.8%,#8686ff 35.8%,#9292ff 41.0%,#6d6dff 57.1%,#7272ff 72.1%,#9393ff 78.8%,#c3c3ff 84.5%,#8f8fff 92.7%,#9797ff 99.8%)"></i><i style="height:1px;background:linear-gradient(90deg,#dfdfff 0.2%,#e8e8ff 5.4%,#d1d1ff 13.3%,#b4b4ff 18.9%,#9a9aff 26.0%,#a6a6ff 29.8%,#8585ff 35.4%,#8f8fff 41.0%,#6c6cff 57.1%,#7070ff 71.7%,#9292ff 78.5%,#c3c3ff 84.1%,#8f8fff 92.3%,#9898ff 99.8%)"></i><i style="height:1px;background:linear-gradient(90deg,#dfdfff 0.2%,#e7e7ff 5.1%,#cfcfff 13.3%,#9898ff 24.9%,#a5a5ff 29.4%,#8383ff 35.4%,#8c8cff 40.6%,#6b6bff 56.7%,#6f6fff 71.3%,#9292ff 78.1%,#c3c3ff 83.3%,#8e8eff 91.9%,#9898ff 99.8%)"></i><i style="height:1px;background:linear-gradient(90deg,#dedeff 0.2%,#e6e6ff 5.1%,#cfcfff 12.9%,#9696ff 24.9%,#a4a4ff 29.0%,#8282ff 35.4%,#8989ff 40.6%,#6a6aff 56.4%,#6e6eff 71.0%,#8e8eff 77.3%,#c4c4ff 83.0%,#8e8eff 91.2%,#9898ff 99.8%)"></i><i style="height:1px;background:linear-gradient(90deg,#dedeff 0.2%,#e5e5ff 5.1%,#cdcdff 12.9%,#9595ff 24.9%,#a2a2ff 28.7%,#8080ff 35.0%,#8686ff 40.6%,#6969ff 56.4%,#6d6dff 70.6%,#8e8eff 77.0%,#c4c4ff 82.6%,#8d8dff 90.8%,#9999ff 99.8%)"></i><i style="height:1px;background:linear-gradient(90deg,#dedeff 0.2%,#e3e3ff 5.4%,#cbcbff 12.9%,#9595ff 24.9%,#9f9fff 28.7%,#7f7fff 35.0%,#8383ff 40.3%,#6767ff 56.0%,#6a6aff 69.9%,#8d8dff 76.6%,#c5c5ff 82.2%,#8d8dff 90.4%,#9999ff 99.8%)"></i><i style="height:1px;background:linear-gradient(90deg,#dedeff 0.2%,#e0e0ff 6.2%,#c8c8ff 12.9%,#9494ff 24.5%,#9e9eff 28.3%,#7d7dff 34.6%,#8080ff 40.3%,#6666ff 56.0%,#6969ff 69.5%,#8d8dff 76.2%,#c5c5ff 81.8%,#8c8cff 90.1%,#9898ff 99.8%)"></i><i style="height:1px;background:linear-gradient(90deg,#dedeff 0.2%,#dcdcff 7.3%,#c0c0ff 13.7%,#9393ff 24.2%,#9d9dff 27.9%,#7c7cff 34.3%,#7c7cff 40.6%,#6565ff 55.6%,#6868ff 69.1%,#8d8dff 75.8%,#c6c6ff 81.5%,#8b8bff 89.7%,#9797ff 99.8%)"></i><i style="height:1px;background:linear-gradient(90deg,#dedeff 0.2%,#d4d4ff 9.9%,#9292ff 23.8%,#9c9cff 27.5%,#7a7aff 34.3%,#7a7aff 40.6%,#6464ff 55.6%,#6767ff 68.7%,#8d8dff 75.5%,#c6c6ff 81.1%,#8b8bff 89.3%,#9696ff 99.8%)"></i><i style="height:1px;background:linear-gradient(90deg,#dedeff 0.2%,#cdcdff 10.7%,#9191ff 23.8%,#9999ff 27.5%,#7878ff 33.9%,#7777ff 40.6%,#6363ff 55.2%,#6767ff 68.4%,#8989ff 74.7%,#c7c7ff 80.7%,#8a8aff 89.0%,#9595ff 99.8%)"></i><i style="height:1px;background:linear-gradient(90deg,#ddddff 0.2%,#cacaff 10.7%,#9090ff 23.4%,#9898ff 27.2%,#7777ff 33.5%,#7575ff 40.3%,#6262ff 55.2%,#6666ff 68.0%,#8989ff 74.3%,#c7c7ff 80.0%,#a6a6ff 84.5%,#8989ff 88.6%,#9393ff 99.8%)"></i><i style="height:1px;background:linear-gradient(90deg,#dcdcff 0.2%,#c4c4ff 11.0%,#8f8fff 23.0%,#9797ff 26.8%,#7575ff 33.1%,#7272ff 40.3%,#6060ff 55.2%,#6565ff 67.6%,#8989ff 74.0%,#c8c8ff 79.6%,#a5a5ff 84.1%,#8888ff 88.2%,#9292ff 99.8%)"></i><i style="height:1px;background:linear-gradient(90deg,#dbdbff 0.2%,#c1c1ff 11.0%,#8e8eff 22.7%,#9696ff 26.4%,#7373ff 32.8%,#6f6fff 40.6%,#5f5fff 55.6%,#6262ff 66.9%,#8989ff 73.6%,#c8c8ff 79.2%,#a1a1ff 84.1%,#8888ff 87.8%,#9090ff 99.8%)"></i><i style="height:1px;background:linear-gradient(90deg,#dadaff 0.2%,#c0c0ff 10.7%,#8e8eff 22.7%,#9393ff 26.4%,#7171ff 32.8%,#6c6cff 41.0%,#5e5eff 56.0%,#6262ff 66.5%,#8989ff 73.2%,#c9c9ff 78.8%,#9d9dff 84.1%,#8787ff 87.5%,#8f8fff 99.8%)"></i><i style="height:1px;background:linear-gradient(90deg,#d8d8ff 0.2%,#bcbcff 10.7%,#8d8dff 22.3%,#9292ff 26.0%,#6f6fff 32.4%,#6969ff 41.0%,#5c5cff 56.4%,#6161ff 66.1%,#8484ff 72.5%,#cacaff 78.5%,#9595ff 84.5%,#8787ff 87.8%,#8d8dff 99.8%)"></i><i style="height:1px;background:linear-gradient(90deg,#d6d6ff 0.2%,#b9b9ff 10.7%,#8c8cff 21.9%,#9191ff 25.7%,#6e6eff 32.0%,#6666ff 41.4%,#5b5bff 57.9%,#6060ff 65.7%,#8484ff 72.1%,#cbcbff 78.1%,#8686ff 86.3%,#8b8bff 99.8%)"></i><i style="height:1px;background:linear-gradient(90deg,#d4d4ff 0.2%,#b6b6ff 10.7%,#8c8cff 21.9%,#9090ff 25.3%,#6c6cff 31.6%,#6363ff 42.1%,#5959ff 63.9%,#8484ff 71.7%,#cbcbff 77.7%,#8585ff 86.0%,#8a8aff 99.8%)"></i><i style="height:1px;background:linear-gradient(90deg,#d1d1ff 0.2%,#b3b3ff 10.7%,#8b8bff 21.5%,#9090ff 24.9%,#6a6aff 31.3%,#5e5eff 44.0%,#5c5cff 64.6%,#8484ff 71.3%,#ccccff 77.3%,#8484ff 85.6%,#8888ff 99.8%)"></i><i style="height:1px;background:linear-gradient(90deg,#cfcfff 0.2%,#b0b0ff 10.7%,#8a8aff 21.2%,#8c8cff 24.9%,#6868ff 30.9%,#5757ff 56.7%,#5d5dff 64.6%,#8484ff 71.0%,#ccccff 76.6%,#bbbbff 79.2%,#8484ff 84.8%,#8787ff 99.8%)"></i><i style="height:1px;background:linear-gradient(90deg,#cdcdff 0.2%,#adadff 10.7%,#8a8aff 21.2%,#8b8bff 24.5%,#6666ff 30.9%,#5656ff 56.4%,#5c5cff 64.2%,#8484ff 70.6%,#ccccff 76.2%,#b7b7ff 79.2%,#8484ff 84.5%,#8585ff 99.8%)"></i><i style="height:1px;background:linear-gradient(90deg,#cbcbff 0.2%,#9b9bff 15.2%,#8888ff 20.8%,#8b8bff 24.2%,#6565ff 30.5%,#5555ff 56.7%,#5c5cff 63.9%,#8484ff 70.2%,#cdcdff 75.8%,#b7b7ff 78.8%,#8383ff 84.1%,#8383ff 99.8%)"></i><i style="height:1px;background:linear-gradient(90deg,#c8c8ff 0.2%,#9696ff 15.5%,#8888ff 20.8%,#8787ff 24.2%,#6363ff 30.1%,#5454ff 56.7%,#5b5bff 63.5%,#8484ff 69.9%,#ceceff 75.5%,#b7b7ff 78.5%,#8282ff 83.7%,#8282ff 99.8%)"></i><i style="height:1px;background:linear-gradient(90deg,#c6c6ff 0.2%,#9191ff 16.3%,#8888ff 20.8%,#8686ff 23.8%,#6161ff 29.8%,#5252ff 56.7%,#5a5aff 63.1%,#7f7fff 69.1%,#cfcfff 75.1%,#b2b2ff 78.5%,#8181ff 83.3%,#8080ff 99.8%)"></i><i style="height:1px;background:linear-gradient(90deg,#c3c3ff 0.2%,#8686ff 20.0%,#8585ff 23.4%,#5f5fff 29.4%,#5151ff 57.1%,#5959ff 62.7%,#7f7fff 68.7%,#cfcfff 74.7%,#b2b2ff 78.1%,#8080ff 83.0%,#7f7fff 99.8%)"></i><i style="height:1px;background:linear-gradient(90deg,#c1c1ff 0.2%,#8585ff 19.7%,#8585ff 23.0%,#5e5eff 29.0%,#5050ff 57.1%,#5858ff 62.4%,#7f7fff 68.4%,#d0d0ff 74.3%,#adadff 78.1%,#8080ff 82.6%,#7d7dff 99.8%)"></i><i style="height:1px;background:linear-gradient(90deg,#bebeff 0.2%,#8585ff 19.7%,#8484ff 22.7%,#5c5cff 29.0%,#4e4eff 59.4%,#7b7bff 67.6%,#d1d1ff 74.0%,#adadff 77.7%,#7f7fff 82.2%,#7b7bff 99.8%)"></i><i style="height:1px;background:linear-gradient(90deg,#bcbcff 0.2%,#8484ff 19.3%,#8080ff 22.7%,#5a5aff 28.7%,#4c4cff 59.0%,#7a7aff 67.2%,#d0d0ff 73.2%,#c4c4ff 75.5%,#7f7fff 81.5%,#7a7aff 99.8%)"></i><i style="height:1px;background:linear-gradient(90deg,#b9b9ff 0.2%,#8282ff 18.9%,#7f7fff 22.3%,#5858ff 28.3%,#4c4cff 59.0%,#7a7aff 66.9%,#d1d1ff 72.8%,#c4c4ff 75.1%,#7f7fff 81.1%,#7878ff 99.8%)"></i><i style="height:1px;background:linear-gradient(90deg,#b6b6ff 0.2%,#8282ff 18.9%,#7e7eff 21.9%,#5656ff 27.9%,#4b4bff 58.6%,#7a7aff 66.5%,#d2d2ff 72.5%,#c4c4ff 74.7%,#7e7eff 80.7%,#7777ff 99.8%)"></i><i style="height:1px;background:linear-gradient(90deg,#b4b4ff 0.2%,#8181ff 18.5%,#7e7eff 21.5%,#5454ff 27.5%,#4a4aff 58.2%,#7a7aff 66.1%,#d3d3ff 72.1%,#c4c4ff 74.3%,#7d7dff 80.3%,#7575ff 99.8%)"></i><i style="height:1px;background:linear-gradient(90deg,#b1b1ff 0.2%,#8080ff 18.2%,#7a7aff 21.5%,#5252ff 27.5%,#4949ff 57.9%,#7a7aff 65.7%,#d3d3ff 71.7%,#c3c3ff 74.0%,#7c7cff 80.0%,#7373ff 99.8%)"></i><i style="height:1px;background:linear-gradient(90deg,#aeaeff 0.2%,#8080ff 18.2%,#7979ff 21.2%,#5151ff 27.2%,#4848ff 57.5%,#7a7aff 65.4%,#d4d4ff 71.3%,#c3c3ff 73.6%,#7b7bff 79.6%,#7272ff 99.8%)"></i><i style="height:1px;background:linear-gradient(90deg,#acacff 0.2%,#7e7eff 17.8%,#7878ff 20.8%,#4f4fff 26.8%,#4646ff 56.7%,#7575ff 64.6%,#d5d5ff 71.0%,#bebeff 73.6%,#7b7bff 79.2%,#7070ff 99.8%)"></i><i style="height:1px;background:linear-gradient(90deg,#a9a9ff 0.2%,#7d7dff 17.4%,#7878ff 20.4%,#4d4dff 26.4%,#4444ff 55.6%,#7171ff 63.9%,#d6d6ff 70.6%,#bebeff 73.2%,#7c7cff 78.5%,#6f6fff 99.8%)"></i><i style="height:1px;background:linear-gradient(90deg,#a6a6ff 0.2%,#7d7dff 17.4%,#7474ff 20.4%,#4b4bff 26.0%,#4343ff 50.4%,#4a4aff 57.5%,#7a7aff 64.2%,#d4d4ff 69.9%,#cdcdff 71.7%,#7b7bff 78.1%,#6d6dff 99.8%)"></i><i style="height:1px;background:linear-gradient(90deg,#a4a4ff 0.2%,#7c7cff 17.0%,#7373ff 20.0%,#4949ff 26.0%,#4242ff 48.5%,#4949ff 57.1%,#7575ff 63.5%,#d5d5ff 69.5%,#cdcdff 71.3%,#7a7aff 77.7%,#6c6cff 98.7%,#6b6bff 99.8%)"></i><i style="height:1px;background:linear-gradient(90deg,#a1a1ff 0.2%,#7b7bff 17.0%,#6f6fff 20.0%,#4747ff 25.7%,#4040ff 45.5%,#4646ff 56.4%,#7575ff 63.1%,#d6d6ff 69.1%,#cdcdff 71.0%,#7979ff 77.3%,#6a6aff 96.8%,#6a6aff 99.8%)"></i><i style="height:1px;background:linear-gradient(90deg,#9e9eff 0.2%,#7a7aff 17.0%,#6767ff 20.4%,#4545ff 25.7%,#3f3fff 42.9%,#4545ff 56.0%,#7575ff 62.7%,#d7d7ff 68.7%,#cdcdff 70.6%,#7878ff 77.0%,#6969ff 95.3%,#6868ff 99.8%)"></i><i style="height:1px;background:linear-gradient(90deg,#9c9cff 0.2%,#7979ff 16.7%,#6666ff 20.0%,#4343ff 25.3%,#3e3eff 40.3%,#4444ff 55.6%,#7575ff 62.4%,#d8d8ff 68.4%,#cdcdff 70.2%,#7777ff 76.6%,#6767ff 93.8%,#6767ff 99.8%)"></i><i style="height:1px;background:linear-gradient(90deg,#9999ff 0.2%,#7070ff 18.5%,#4242ff 24.5%,#3c3cff 37.6%,#4343ff 55.2%,#7575ff 62.0%,#d9d9ff 68.0%,#cdcdff 69.9%,#7676ff 76.2%,#6666ff 92.7%,#6565ff 99.8%)"></i><i style="height:1px;background:linear-gradient(90deg,#9696ff 0.2%,#6f6fff 18.2%,#4040ff 24.2%,#3a3aff 36.5%,#4040ff 54.5%,#7575ff 61.6%,#d9d9ff 67.6%,#cdcdff 69.5%,#7676ff 75.8%,#6565ff 91.6%,#6363ff 99.8%)"></i><i style="height:1px;background:linear-gradient(90deg,#9494ff 0.2%,#6e6eff 17.8%,#3f3fff 23.8%,#3838ff 35.8%,#3f3fff 54.1%,#7575ff 61.2%,#dadaff 67.2%,#c8c8ff 69.5%,#7575ff 75.5%,#6363ff 90.8%,#6262ff 99.8%)"></i><i style="height:1px;background:linear-gradient(90deg,#9191ff 0.2%,#6e6eff 17.4%,#3c3cff 23.8%,#3737ff 35.0%,#3f3fff 53.7%,#7575ff 60.9%,#dbdbff 66.9%,#c7c7ff 69.1%,#7676ff 74.7%,#6262ff 88.6%,#6060ff 99.8%)"></i><i style="height:1px;background:linear-gradient(90deg,#8e8eff 0.2%,#6d6dff 17.0%,#3a3aff 23.4%,#3535ff 34.3%,#3e3eff 53.4%,#6f6fff 60.1%,#d9d9ff 66.1%,#d2d2ff 68.0%,#7575ff 74.3%,#6060ff 87.8%,#5f5fff 99.8%)"></i><i style="height:1px;background:linear-gradient(90deg,#8c8cff 0.2%,#6c6cff 16.7%,#3939ff 23.0%,#3333ff 33.5%,#3d3dff 53.0%,#6f6fff 59.7%,#dadaff 65.7%,#d2d2ff 67.6%,#7474ff 74.0%,#5f5fff 87.5%,#5d5dff 99.8%)"></i><i style="height:1px;background:linear-gradient(90deg,#8989ff 0.2%,#6b6bff 16.3%,#3737ff 22.7%,#3131ff 33.1%,#3c3cff 52.6%,#6f6fff 59.4%,#dbdbff 65.4%,#d2d2ff 67.2%,#7474ff 73.6%,#5d5dff 86.7%,#5b5bff 99.8%)"></i><i style="height:1px;background:linear-gradient(90deg,#8787ff 0.2%,#6b6bff 15.9%,#3636ff 22.3%,#2f2fff 32.4%,#3b3bff 52.2%,#6e6eff 59.0%,#dcdcff 65.0%,#d3d3ff 66.9%,#7373ff 73.2%,#5c5cff 86.3%,#5a5aff 99.8%)"></i><i style="height:1px;background:linear-gradient(90deg,#8585ff 0.2%,#6a6aff 15.5%,#3535ff 21.9%,#2e2eff 32.0%,#3b3bff 51.9%,#6d6dff 58.6%,#dcdcff 64.6%,#d8d8ff 66.1%,#7272ff 72.8%,#5b5bff 86.0%,#5959ff 99.8%)"></i><i style="height:1px;background:linear-gradient(90deg,#8484ff 0.2%,#6a6aff 15.2%,#3333ff 21.9%,#2e2eff 32.0%,#3a3aff 51.5%,#6c6cff 58.2%,#dcdcff 64.2%,#d8d8ff 65.7%,#7171ff 72.5%,#5a5aff 85.2%,#5757ff 99.8%)"></i><i style="height:1px;background:linear-gradient(90deg,#8383ff 0.2%,#6a6aff 14.8%,#3333ff 21.5%,#2e2eff 31.6%,#3838ff 50.7%,#6b6bff 57.9%,#dedeff 64.2%,#cdcdff 66.1%,#7070ff 72.1%,#5858ff 84.8%,#5656ff 99.8%)"></i><i style="height:1px;background:linear-gradient(90deg,#8383ff 0.2%,#6a6aff 14.4%,#3333ff 21.2%,#2e2eff 31.3%,#3838ff 50.4%,#6f6fff 57.9%,#dedeff 63.9%,#ceceff 65.7%,#6f6fff 71.7%,#5757ff 84.5%,#5555ff 99.8%)"></i><i style="height:1px;background:linear-gradient(90deg,#8282ff 0.2%,#6767ff 14.4%,#3232ff 20.8%,#2e2eff 30.9%,#3838ff 50.0%,#6e6eff 57.5%,#dedeff 63.5%,#ceceff 65.4%,#6e6eff 71.3%,#5656ff 83.7%,#5454ff 99.8%)"></i><i style="height:1px;background:linear-gradient(90deg,#8282ff 0.2%,#6767ff 14.0%,#3232ff 20.4%,#2e2eff 30.9%,#3838ff 49.6%,#6c6cff 57.1%,#ddddff 63.1%,#ceceff 65.0%,#6d6dff 71.0%,#5555ff 83.3%,#5353ff 99.8%)"></i><i style="height:1px;background:linear-gradient(90deg,#8181ff 0.2%,#6767ff 13.7%,#3131ff 20.4%,#2e2eff 30.5%,#3838ff 49.3%,#6b6bff 56.7%,#dcdcff 62.7%,#d4d4ff 64.2%,#6c6cff 70.6%,#5454ff 83.0%,#5252ff 99.8%)"></i><i style="height:1px;background:linear-gradient(90deg,#8080ff 0.2%,#6666ff 13.3%,#3131ff 20.0%,#2f2fff 30.5%,#3838ff 48.9%,#6a6aff 56.4%,#dcdcff 62.4%,#d5d5ff 63.9%,#6b6bff 70.2%,#5353ff 82.2%,#5151ff 99.8%)"></i><i style="height:1px;background:linear-gradient(90deg,#8080ff 0.2%,#6464ff 13.3%,#3131ff 19.7%,#2f2fff 30.1%,#3838ff 48.5%,#6868ff 56.0%,#dbdbff 62.0%,#d5d5ff 63.5%,#6a6aff 69.9%,#5252ff 81.8%,#5050ff 99.8%)"></i><i style="height:1px;background:linear-gradient(90deg,#7f7fff 0.2%,#6363ff 12.9%,#3030ff 19.3%,#2f2fff 30.1%,#3737ff 48.1%,#6767ff 55.6%,#dadaff 61.6%,#d5d5ff 63.1%,#6969ff 69.5%,#5151ff 81.5%,#4e4eff 99.8%)"></i><i style="height:1px;background:linear-gradient(90deg,#7f7fff 0.2%,#6060ff 12.9%,#3030ff 18.9%,#2f2fff 29.8%,#3737ff 47.8%,#6b6bff 55.6%,#dadaff 61.2%,#d5d5ff 62.7%,#6868ff 69.1%,#5050ff 81.1%,#4d4dff 99.8%)"></i><i style="height:1px;background:linear-gradient(90deg,#7e7eff 0.2%,#6060ff 12.5%,#3030ff 18.5%,#2f2fff 29.4%,#3737ff 47.4%,#6a6aff 55.2%,#dcdcff 61.2%,#c9c9ff 63.1%,#6767ff 68.7%,#4f4fff 80.3%,#4c4cff 99.8%)"></i><i style="height:1px;background:linear-gradient(90deg,#7e7eff 0.2%,#6060ff 12.2%,#2f2fff 18.5%,#3030ff 29.8%,#3737ff 47.0%,#6868ff 54.9%,#dcdcff 60.9%,#cacaff 62.7%,#6767ff 68.4%,#4e4eff 80.0%,#4b4bff 99.8%)"></i><i style="height:1px;background:linear-gradient(90deg,#7d7dff 0.2%,#5d5dff 12.2%,#2f2fff 18.2%,#3030ff 30.1%,#3737ff 46.6%,#6767ff 54.5%,#dbdbff 60.5%,#d0d0ff 62.0%,#6666ff 68.0%,#4d4dff 79.6%,#4a4aff 99.8%)"></i><i style="height:1px;background:linear-gradient(90deg,#7d7dff 0.2%,#5d5dff 11.8%,#2e2eff 17.8%,#3232ff 45.1%,#6666ff 54.1%,#dadaff 60.1%,#d1d1ff 61.6%,#6565ff 67.6%,#4c4cff 78.8%,#4949ff 99.8%)"></i><i style="height:1px;background:linear-gradient(90deg,#7c7cff 0.2%,#5d5dff 11.4%,#2e2eff 17.4%,#3333ff 45.1%,#6464ff 53.7%,#dadaff 59.7%,#d1d1ff 61.2%,#6464ff 67.2%,#4b4bff 78.5%,#4848ff 99.8%)"></i><i style="height:1px;background:linear-gradient(90deg,#7c7cff 0.2%,#5d5dff 11.0%,#2e2eff 17.0%,#3535ff 45.1%,#6868ff 53.7%,#d9d9ff 59.4%,#d2d2ff 60.9%,#6363ff 66.9%,#4949ff 78.1%,#4747ff 99.8%)"></i><i style="height:1px;background:linear-gradient(90deg,#7b7bff 0.2%,#5a5aff 11.0%,#2d2dff 17.0%,#3737ff 45.1%,#6767ff 53.4%,#d8d8ff 59.0%,#d2d2ff 60.5%,#6262ff 66.5%,#4848ff 77.7%,#4646ff 99.8%)"></i><i style="height:1px;background:linear-gradient(90deg,#7b7bff 0.2%,#5959ff 10.7%,#2d2dff 16.7%,#3636ff 44.8%,#6666ff 53.0%,#d7d7ff 58.6%,#d2d2ff 60.1%,#6161ff 66.1%,#4747ff 77.0%,#4545ff 99.8%)"></i><i style="height:1px;background:linear-gradient(90deg,#7a7aff 0.2%,#5959ff 10.3%,#2c2cff 16.3%,#3636ff 44.4%,#6464ff 52.6%,#d7d7ff 58.2%,#d2d2ff 59.7%,#6161ff 65.7%,#4646ff 76.6%,#4444ff 99.8%)"></i><i style="height:1px;background:linear-gradient(90deg,#7979ff 0.2%,#5656ff 10.3%,#2c2cff 15.9%,#3636ff 44.0%,#6363ff 52.2%,#d9d9ff 58.2%,#ccccff 59.7%,#6060ff 65.4%,#4545ff 76.2%,#4242ff 99.8%)"></i><i style="height:1px;background:linear-gradient(90deg,#7979ff 0.2%,#5656ff 9.9%,#2c2cff 15.5%,#3636ff 43.6%,#6262ff 51.9%,#d9d9ff 57.9%,#cdcdff 59.4%,#5f5fff 65.0%,#4444ff 75.5%,#4141ff 99.8%)"></i><i style="height:1px;background:linear-gradient(90deg,#7878ff 0.2%,#5656ff 9.6%,#2b2bff 15.2%,#3636ff 43.3%,#6666ff 51.9%,#d8d8ff 57.5%,#cdcdff 59.0%,#5a5aff 65.0%,#4343ff 75.8%,#4040ff 99.8%)"></i><i style="height:1px;background:linear-gradient(90deg,#7777ff 0.2%,#5353ff 9.6%,#2b2bff 15.2%,#3636ff 42.9%,#6464ff 51.5%,#d8d8ff 57.1%,#cdcdff 58.6%,#5959ff 64.6%,#4242ff 75.5%,#3f3fff 99.8%)"></i><i style="height:1px;background:linear-gradient(90deg,#7676ff 0.2%,#5353ff 9.2%,#2a2aff 14.8%,#3636ff 42.5%,#6363ff 51.1%,#d7d7ff 56.7%,#ceceff 58.2%,#5959ff 64.2%,#4141ff 75.1%,#3e3eff 99.8%)"></i><i style="height:1px;background:linear-gradient(90deg,#7575ff 0.2%,#5353ff 8.8%,#2a2aff 14.4%,#3636ff 42.1%,#6262ff 50.7%,#d6d6ff 56.4%,#ceceff 57.9%,#5858ff 63.9%,#4040ff 74.3%,#3d3dff 99.8%)"></i><i style="height:1px;background:linear-gradient(90deg,#7373ff 0.2%,#5353ff 8.4%,#2a2aff 14.0%,#3535ff 41.8%,#6161ff 50.4%,#d5d5ff 56.0%,#ceceff 57.5%,#5757ff 63.5%,#3f3fff 74.0%,#3c3cff 99.8%)"></i><i style="height:1px;background:linear-gradient(90deg,#7272ff 0.2%,#5050ff 8.4%,#2a2aff 13.7%,#3535ff 41.4%,#6060ff 50.0%,#d4d4ff 55.6%,#ceceff 57.1%,#5656ff 63.1%,#3e3eff 73.6%,#3b3bff 99.8%)"></i><i style="height:1px;background:linear-gradient(90deg,#7070ff 0.2%,#5050ff 8.1%,#2929ff 13.3%,#3434ff 40.6%,#5f5fff 49.6%,#d2d2ff 55.2%,#cdcdff 56.7%,#5555ff 62.7%,#3d3dff 73.2%,#3a3aff 99.8%)"></i><i style="height:1px;background:linear-gradient(90deg,#6f6fff 0.2%,#5050ff 7.7%,#2929ff 13.3%,#3535ff 40.6%,#5f5fff 49.3%,#d1d1ff 54.9%,#cbcbff 56.4%,#5555ff 62.4%,#3c3cff 72.8%,#3a3aff 99.8%)"></i><i style="height:1px;background:linear-gradient(90deg,#6e6eff 0.2%,#4d4dff 7.7%,#2929ff 12.9%,#3434ff 39.9%,#5f5fff 48.9%,#cfcfff 54.5%,#c9c9ff 56.0%,#5454ff 62.0%,#3c3cff 72.5%,#3939ff 99.8%)"></i><i style="height:1px;background:linear-gradient(90deg,#6e6eff 0.2%,#4d4dff 7.3%,#2929ff 12.5%,#3434ff 39.5%,#5f5fff 48.5%,#cdcdff 54.1%,#c6c6ff 55.6%,#5353ff 61.6%,#3c3cff 72.1%,#3939ff 99.8%)"></i><i style="height:1px;background:linear-gradient(90deg,#6d6dff 0.2%,#4a4aff 7.3%,#2929ff 12.2%,#3434ff 39.1%,#5e5eff 48.1%,#ccccff 53.7%,#c4c4ff 55.2%,#5656ff 60.9%,#3b3bff 70.6%,#3939ff 99.8%)"></i><i style="height:1px;background:linear-gradient(90deg,#6c6cff 0.2%,#4848ff 7.3%,#2929ff 12.2%,#3434ff 38.8%,#5e5eff 47.8%,#cacaff 53.4%,#c1c1ff 54.9%,#5555ff 60.5%,#3b3bff 70.6%,#3838ff 99.8%)"></i><i style="height:1px;background:linear-gradient(90deg,#6b6bff 0.2%,#4848ff 6.9%,#2929ff 11.8%,#3434ff 38.4%,#5e5eff 47.4%,#c8c8ff 53.0%,#bfbfff 54.5%,#5555ff 60.1%,#3a3aff 70.2%,#3838ff 99.8%)"></i><i style="height:1px;background:linear-gradient(90deg,#6a6aff 0.2%,#4545ff 6.9%,#2929ff 11.4%,#3434ff 38.0%,#5e5eff 47.0%,#c7c7ff 52.6%,#bdbdff 54.1%,#5454ff 59.7%,#3a3aff 69.9%,#3838ff 99.8%)"></i><i style="height:1px;background:linear-gradient(90deg,#6969ff 0.2%,#4242ff 6.9%,#2929ff 11.0%,#3434ff 37.6%,#5e5eff 46.6%,#c5c5ff 52.2%,#babaff 53.7%,#5353ff 59.4%,#3a3aff 69.5%,#3737ff 99.8%)"></i><i style="height:1px;background:linear-gradient(90deg,#6767ff 0.2%,#3f3fff 6.9%,#2929ff 11.0%,#3434ff 37.3%,#5d5dff 46.3%,#c3c3ff 51.9%,#b1b1ff 53.7%,#5252ff 59.0%,#3939ff 69.5%,#3737ff 99.8%)"></i><i style="height:1px;background:linear-gradient(90deg,#6565ff 0.2%,#4040ff 6.6%,#2929ff 10.7%,#3434ff 36.9%,#5d5dff 45.9%,#c1c1ff 51.5%,#afafff 53.4%,#5151ff 58.6%,#3939ff 69.1%,#3737ff 99.8%)"></i><i style="height:1px;background:linear-gradient(90deg,#6363ff 0.2%,#3d3dff 6.6%,#2929ff 10.7%,#3434ff 36.5%,#5d5dff 45.5%,#bdbdff 50.7%,#b9b9ff 52.2%,#5151ff 58.2%,#3838ff 68.7%,#3636ff 99.8%)"></i><i style="height:1px;background:linear-gradient(90deg,#6161ff 0.2%,#3a3aff 6.6%,#2929ff 10.7%,#3434ff 36.1%,#5d5dff 45.1%,#bbbbff 50.4%,#b6b6ff 51.9%,#5050ff 57.9%,#3838ff 68.4%,#3636ff 99.8%)"></i><i style="height:1px;background:linear-gradient(90deg,#6060ff 0.2%,#3737ff 6.6%,#2929ff 10.7%,#3434ff 35.8%,#5858ff 44.4%,#babaff 50.0%,#b4b4ff 51.5%,#4f4fff 57.5%,#3838ff 68.0%,#3636ff 99.8%)"></i><i style="height:1px;background:linear-gradient(90deg,#5e5eff 0.2%,#2929ff 9.2%,#3434ff 35.4%,#5858ff 44.0%,#b8b8ff 49.6%,#b2b2ff 51.1%,#4e4eff 57.1%,#3737ff 67.6%,#3535ff 99.8%)"></i><i style="height:1px;background:linear-gradient(90deg,#5c5cff 0.2%,#2929ff 8.8%,#3434ff 35.0%,#5757ff 43.6%,#b6b6ff 49.3%,#a9a9ff 51.1%,#4d4dff 56.7%,#3737ff 67.2%,#3535ff 99.8%)"></i><i style="height:1px;background:linear-gradient(90deg,#5b5bff 0.2%,#2929ff 8.4%,#3434ff 34.6%,#5757ff 43.3%,#b5b5ff 48.9%,#a7a7ff 50.7%,#4d4dff 56.4%,#3737ff 66.9%,#3434ff 99.8%)"></i><i style="height:1px;background:linear-gradient(90deg,#5959ff 0.2%,#2929ff 8.1%,#3434ff 34.3%,#5757ff 42.9%,#b3b3ff 48.5%,#a5a5ff 50.4%,#4c4cff 56.0%,#3636ff 66.5%,#3434ff 99.8%)"></i><i style="height:1px;background:linear-gradient(90deg,#5858ff 0.2%,#2929ff 7.7%,#3434ff 33.9%,#5757ff 42.5%,#b1b1ff 48.1%,#a2a2ff 50.0%,#4b4bff 55.6%,#3636ff 66.1%,#3434ff 99.8%)"></i><i style="height:1px;background:linear-gradient(90deg,#5656ff 0.2%,#2929ff 7.3%,#3636ff 33.9%,#5656ff 42.1%,#afafff 47.8%,#a0a0ff 49.6%,#4b4bff 55.2%,#3535ff 65.7%,#3333ff 99.8%)"></i><i style="height:1px;background:linear-gradient(90deg,#5454ff 0.2%,#2929ff 7.3%,#3636ff 33.5%,#5656ff 41.8%,#adadff 47.4%,#9898ff 49.6%,#4a4aff 54.9%,#3535ff 65.7%,#3333ff 99.8%)"></i><i style="height:1px;background:linear-gradient(90deg,#5252ff 0.2%,#2929ff 6.9%,#3636ff 33.1%,#5656ff 41.4%,#ababff 47.0%,#9696ff 49.3%,#4949ff 54.5%,#3535ff 65.4%,#3333ff 99.8%)"></i><i style="height:1px;background:linear-gradient(90deg,#5050ff 0.2%,#2929ff 6.6%,#3636ff 32.8%,#5555ff 41.0%,#aaaaff 46.6%,#9494ff 48.9%,#4949ff 54.1%,#3434ff 65.0%,#3232ff 99.8%)"></i><i style="height:1px;background:linear-gradient(90deg,#4d4dff 0.2%,#2929ff 6.2%,#3535ff 32.4%,#5555ff 40.6%,#a8a8ff 46.3%,#8c8cff 48.9%,#4848ff 53.7%,#3434ff 64.6%,#3232ff 99.8%)"></i><i style="height:1px;background:linear-gradient(90deg,#4b4bff 0.2%,#2929ff 5.8%,#3535ff 32.0%,#5454ff 40.3%,#a7a7ff 45.9%,#8b8bff 48.5%,#4848ff 53.4%,#3434ff 64.2%,#3232ff 99.8%)"></i><i style="height:1px;background:linear-gradient(90deg,#4949ff 0.2%,#2929ff 5.8%,#3535ff 31.6%,#5252ff 39.9%,#a7a7ff 45.5%,#9191ff 47.8%,#4848ff 53.0%,#3333ff 63.9%,#3232ff 99.8%)"></i></div>
<div class="cb" style="left:704.9px;top:20.1px;width:18.0px;height:213.7px;background:linear-gradient(180deg,#ff0000 0%,#ffffff 50%,#0000ff 100%)"></div>
<div class="hm" style="left:57px;top:292px;width:267px;height:214px"><i style="height:1px;background:linear-gradient(90deg,#8585ff 0.2%,#8686ff 16.7%,#7878ff 20.0%,#7070ff 23.0%,#8d8dff 32.4%,#a5a5ff 49.3%,#d3d3ff 56.0%,#f3f3ff 57.1%,#d4d4ff 59.4%,#a8a8ff 74.7%,#9d9dff 85.2%,#c0c0ff 99.8%)"></i><i style="height:1px;background:linear-gradient(90deg,#8585ff 0.2%,#8686ff 16.7%,#6f6fff 22.7%,#8d8dff 32.4%,#a6a6ff 49.3%,#cfcfff 55.6%,#f2f2ff 57.1%,#d3d3ff 59.4%,#a8a8ff 74.7%,#9d9dff 84.8%,#c1c1ff 99.8%)"></i><i style="height:1px;background:linear-gradient(90deg,#8585ff 0.2%,#8686ff 16.3%,#7878ff 19.7%,#7070ff 22.7%,#8d8dff 32.0%,#a5a5ff 48.9%,#ceceff 55.2%,#f2f2ff 56.7%,#d4d4ff 59.0%,#a8a8ff 74.3%,#9c9cff 84.5%,#c3c3ff 99.8%)"></i><i style="height:1px;background:linear-gradient(90deg,#8585ff 0.2%,#8787ff 16.3%,#6f6fff 22.3%,#8d8dff 32.0%,#a4a4ff 48.5%,#ccccff 54.9%,#f2f2ff 56.4%,#d3d3ff 59.0%,#a8a8ff 74.0%,#9c9cff 84.1%,#c6c6ff 99.8%)"></i><i style="height:1px;background:linear-gradient(90deg,#8686ff 0.2%,#8686ff 15.9%,#7575ff 19.7%,#7070ff 22.3%,#8d8dff 31.6%,#a6a6ff 48.5%,#d2d2ff 54.9%,#f1f1ff 56.0%,#e4e4ff 57.1%,#d1d1ff 59.4%,#a7a7ff 74.0%,#9d9dff 84.1%,#c9c9ff 99.8%)"></i><i style="height:1px;background:linear-gradient(90deg,#8686ff 0.2%,#8787ff 15.9%,#6e6eff 21.5%,#8d8dff 31.3%,#a5a5ff 48.1%,#d0d0ff 54.5%,#f2f2ff 56.0%,#d4d4ff 58.2%,#a8a8ff 72.8%,#9b9bff 83.3%,#ccccff 99.8%)"></i><i style="height:1px;background:linear-gradient(90deg,#8686ff 0.2%,#8686ff 15.5%,#6e6eff 21.5%,#8d8dff 31.3%,#a5a5ff 47.8%,#ceceff 54.1%,#f2f2ff 55.6%,#d4d4ff 57.9%,#a8a8ff 72.5%,#9b9bff 83.0%,#cacaff 99.1%,#cfcfff 99.8%)"></i><i style="height:1px;background:linear-gradient(90deg,#8686ff 0.2%,#8787ff 15.5%,#6e6eff 21.2%,#8d8dff 30.9%,#a4a4ff 47.4%,#cdcdff 53.7%,#f2f2ff 55.2%,#d3d3ff 57.9%,#a8a8ff 72.1%,#9c9cff 83.0%,#cbcbff 98.7%,#d2d2ff 99.8%)"></i><i style="height:1px;background:linear-gradient(90deg,#8686ff 0.2%,#8282ff 17.0%,#6e6eff 21.2%,#8d8dff 30.9%,#a4a4ff 47.0%,#d2d2ff 53.7%,#f1f1ff 54.9%,#d3d3ff 57.9%,#a8a8ff 71.7%,#9c9cff 82.6%,#cbcbff 98.3%,#d6d6ff 99.8%)"></i><i style="height:1px;background:linear-gradient(90deg,#8787ff 0.2%,#8383ff 16.7%,#6e6eff 20.8%,#8d8dff 30.5%,#a5a5ff 47.0%,#d1d1ff 53.4%,#f0f0ff 54.5%,#e6e6ff 55.6%,#d2d2ff 57.9%,#a7a7ff 71.7%,#9b9bff 82.2%,#cbcbff 97.9%,#d9d9ff 99.8%)"></i><i style="height:1px;background:linear-gradient(90deg,#8787ff 0.2%,#8181ff 16.7%,#6d6dff 20.4%,#8d8dff 30.5%,#a5a5ff 46.6%,#cfcfff 53.0%,#f2f2ff 54.5%,#d5d5ff 56.7%,#a8a8ff 71.0%,#9b9bff 81.8%,#ccccff 97.6%,#ddddff 99.8%)"></i><i style="height:1px;background:linear-gradient(90deg,#8787ff 0.2%,#8383ff 16.3%,#6e6eff 20.4%,#8d8dff 30.1%,#a4a4ff 46.3%,#cdcdff 52.6%,#f2f2ff 54.1%,#d4d4ff 56.7%,#a8a8ff 70.6%,#9b9bff 81.5%,#ccccff 97.2%,#e0e0ff 99.8%)"></i><i style="height:1px;background:linear-gradient(90deg,#8787ff 0.2%,#8484ff 15.9%,#6d6dff 20.0%,#8d8dff 30.1%,#a4a4ff 45.9%,#ccccff 52.2%,#f2f2ff 53.7%,#d4d4ff 56.4%,#a8a8ff 70.2%,#9b9bff 81.1%,#c9c9ff 96.4%,#e4e4ff 99.8%)"></i><i style="height:1px;background:linear-gradient(90deg,#8787ff 0.2%,#8282ff 15.9%,#6e6eff 20.0%,#8d8dff 29.8%,#a3a3ff 45.5%,#d1d1ff 52.2%,#f1f1ff 53.4%,#e5e5ff 54.5%,#d0d0ff 57.1%,#a7a7ff 70.2%,#9a9aff 80.7%,#cacaff 96.1%,#e8e8ff 99.8%)"></i><i style="height:1px;background:linear-gradient(90deg,#8888ff 0.2%,#8383ff 15.5%,#6e6eff 19.7%,#8d8dff 29.4%,#a5a5ff 45.5%,#d0d0ff 51.9%,#f2f2ff 53.4%,#d6d6ff 55.6%,#a9a9ff 69.1%,#9a9aff 80.3%,#cacaff 95.7%,#ebebff 99.8%)"></i><i style="height:1px;background:linear-gradient(90deg,#8888ff 0.2%,#8282ff 15.5%,#6e6eff 19.7%,#8d8dff 29.4%,#a4a4ff 45.1%,#ceceff 51.5%,#f2f2ff 53.0%,#d4d4ff 55.6%,#a9a9ff 68.7%,#9a9aff 80.0%,#cbcbff 95.3%,#efefff 99.8%)"></i><i style="height:1px;background:linear-gradient(90deg,#8888ff 0.2%,#8383ff 15.2%,#6e6eff 19.3%,#8d8dff 29.0%,#a3a3ff 44.8%,#cdcdff 51.1%,#f2f2ff 52.6%,#d3d3ff 55.6%,#a8a8ff 68.7%,#9a9aff 79.6%,#cbcbff 94.9%,#f2f2ff 99.8%)"></i><i style="height:1px;background:linear-gradient(90deg,#8888ff 0.2%,#8282ff 15.2%,#6e6eff 19.3%,#8d8dff 29.0%,#a3a3ff 44.4%,#d2d2ff 51.1%,#f1f1ff 52.2%,#d4d4ff 55.2%,#a8a8ff 68.4%,#9999ff 79.2%,#cbcbff 94.6%,#f4f4ff 99.8%)"></i><i style="height:1px;background:linear-gradient(90deg,#8989ff 0.2%,#8383ff 14.8%,#6e6eff 18.9%,#8d8dff 28.7%,#a4a4ff 44.4%,#d1d1ff 50.7%,#f3f3ff 52.2%,#d6d6ff 54.5%,#a8a8ff 67.6%,#9999ff 78.8%,#ccccff 94.2%,#f6f6ff 99.8%)"></i><i style="height:1px;background:linear-gradient(90deg,#8989ff 0.2%,#8282ff 14.8%,#6f6fff 18.9%,#8d8dff 28.7%,#a4a4ff 44.0%,#cfcfff 50.4%,#f3f3ff 51.9%,#d5d5ff 54.5%,#a8a8ff 67.2%,#9999ff 78.5%,#ccccff 93.8%,#f8f8ff 99.8%)"></i><i style="height:1px;background:linear-gradient(90deg,#8989ff 0.2%,#8383ff 14.4%,#6e6eff 18.5%,#8d8dff 28.3%,#a3a3ff 43.6%,#cdcdff 50.0%,#f3f3ff 51.5%,#d4d4ff 54.5%,#a8a8ff 66.9%,#9999ff 78.1%,#c9c9ff 93.1%,#f9f9ff 99.4%,#fafaff 99.8%)"></i><i style="height:1px;background:linear-gradient(90deg,#8989ff 0.2%,#8484ff 14.0%,#6d6dff 18.2%,#8d8dff 28.3%,#a3a3ff 43.3%,#d3d3ff 50.0%,#f2f2ff 51.1%,#d4d4ff 54.1%,#a8a8ff 66.5%,#9898ff 77.7%,#cacaff 92.7%,#fafaff 99.1%,#fcfcff 99.8%)"></i><i style="height:1px;background:linear-gradient(90deg,#8989ff 0.2%,#8282ff 14.0%,#6e6eff 18.2%,#8d8dff 27.9%,#a2a2ff 42.9%,#d1d1ff 49.6%,#f1f1ff 50.7%,#e7e7ff 51.9%,#d0d0ff 54.9%,#a8a8ff 66.5%,#9898ff 77.3%,#cacaff 92.3%,#fafaff 98.7%,#fefeff 99.8%)"></i><i style="height:1px;background:linear-gradient(90deg,#8989ff 0.2%,#8484ff 13.7%,#6d6dff 17.8%,#8d8dff 27.9%,#a4a4ff 42.9%,#d0d0ff 49.3%,#f3f3ff 50.7%,#d5d5ff 53.4%,#a8a8ff 65.7%,#9898ff 77.0%,#cacaff 91.9%,#fbfbff 98.3%,#fffefe 99.8%)"></i><i style="height:1px;background:linear-gradient(90deg,#8a8aff 0.2%,#8282ff 13.7%,#6e6eff 17.8%,#8d8dff 27.5%,#a3a3ff 42.5%,#ceceff 48.9%,#f3f3ff 50.4%,#d4d4ff 53.4%,#a8a8ff 65.4%,#9898ff 76.6%,#cbcbff 91.6%,#fbfbff 97.9%,#fffcfc 99.8%)"></i><i style="height:1px;background:linear-gradient(90deg,#8a8aff 0.2%,#8383ff 13.3%,#6e6eff 17.4%,#8d8dff 27.2%,#a3a3ff 42.1%,#ccccff 48.5%,#f2f2ff 50.0%,#d5d5ff 53.0%,#a8a8ff 65.0%,#9797ff 76.2%,#cbcbff 91.2%,#fcfcff 97.6%,#fffbfb 99.8%)"></i><i style="height:1px;background:linear-gradient(90deg,#8a8aff 0.2%,#8282ff 13.3%,#6e6eff 17.4%,#8d8dff 27.2%,#a2a2ff 41.8%,#d2d2ff 48.5%,#f2f2ff 49.6%,#d4d4ff 53.0%,#a8a8ff 64.6%,#9797ff 75.8%,#cbcbff 90.8%,#fbfbff 96.8%,#fff9f9 99.8%)"></i><i style="height:1px;background:linear-gradient(90deg,#8a8aff 0.2%,#8383ff 12.9%,#6e6eff 17.0%,#8d8dff 26.8%,#a4a4ff 41.8%,#d0d0ff 48.1%,#f3f3ff 49.6%,#d6d6ff 52.2%,#a8a8ff 64.2%,#9797ff 75.5%,#ccccff 90.4%,#fcfcff 96.4%,#fff7f7 99.8%)"></i><i style="height:1px;background:linear-gradient(90deg,#8a8aff 0.2%,#8282ff 12.9%,#6e6eff 17.0%,#8d8dff 26.8%,#a3a3ff 41.4%,#cfcfff 47.8%,#f3f3ff 49.3%,#d5d5ff 52.2%,#a8a8ff 63.9%,#9696ff 75.1%,#c9c9ff 89.7%,#fcfcff 96.1%,#fff5f5 99.8%)"></i><i style="height:1px;background:linear-gradient(90deg,#8a8aff 0.2%,#8383ff 12.5%,#6e6eff 16.7%,#8d8dff 26.4%,#a2a2ff 41.0%,#cdcdff 47.4%,#f3f3ff 48.9%,#d5d5ff 51.9%,#a8a8ff 63.5%,#9696ff 74.7%,#c9c9ff 89.3%,#fdfdff 95.7%,#fff3f3 99.8%)"></i><i style="height:1px;background:linear-gradient(90deg,#8a8aff 0.2%,#8181ff 12.5%,#6f6fff 16.7%,#8d8dff 26.4%,#a2a2ff 40.6%,#d3d3ff 47.4%,#f2f2ff 48.5%,#d4d4ff 51.9%,#a8a8ff 63.1%,#9696ff 74.3%,#cacaff 89.0%,#fdfdff 95.3%,#fff1f1 99.8%)"></i><i style="height:1px;background:linear-gradient(90deg,#8a8aff 0.2%,#8383ff 12.2%,#6e6eff 16.3%,#8d8dff 26.0%,#a1a1ff 40.3%,#d1d1ff 47.0%,#f1f1ff 48.1%,#e8e8ff 49.3%,#cfcfff 52.6%,#a7a7ff 63.1%,#9797ff 74.3%,#cacaff 88.6%,#fcfcff 94.6%,#ffefef 99.8%)"></i><i style="height:1px;background:linear-gradient(90deg,#8b8bff 0.2%,#8484ff 11.8%,#6d6dff 15.9%,#8d8dff 26.0%,#a3a3ff 40.3%,#cfcfff 46.6%,#f3f3ff 48.1%,#d5d5ff 51.1%,#a8a8ff 62.4%,#9797ff 74.0%,#cacaff 88.2%,#fdfdff 94.2%,#ffeded 99.8%)"></i><i style="height:1px;background:linear-gradient(90deg,#8b8bff 0.2%,#8282ff 11.8%,#6e6eff 15.9%,#8d8dff 25.7%,#a2a2ff 39.9%,#ceceff 46.3%,#f3f3ff 47.8%,#d6d6ff 50.7%,#a8a8ff 62.0%,#9696ff 73.6%,#cbcbff 87.8%,#fdfdff 93.8%,#ffecec 99.8%)"></i><i style="height:1px;background:linear-gradient(90deg,#8b8bff 0.2%,#8484ff 11.4%,#6e6eff 15.5%,#8d8dff 25.3%,#a2a2ff 39.5%,#ccccff 45.9%,#f3f3ff 47.4%,#d4d4ff 50.7%,#a7a7ff 62.0%,#9696ff 73.2%,#cbcbff 87.5%,#fefeff 93.4%,#ffeaea 99.8%)"></i><i style="height:1px;background:linear-gradient(90deg,#8b8bff 0.2%,#8282ff 11.4%,#6e6eff 15.5%,#8d8dff 25.3%,#a1a1ff 39.1%,#d2d2ff 45.9%,#f2f2ff 47.0%,#cfcfff 51.5%,#a7a7ff 61.6%,#9696ff 72.8%,#ccccff 87.1%,#ffffff 93.1%,#ffe7e7 99.8%)"></i><i style="height:1px;background:linear-gradient(90deg,#8b8bff 0.2%,#8383ff 11.0%,#6e6eff 15.2%,#8d8dff 24.9%,#a0a0ff 38.8%,#d0d0ff 45.5%,#f3f3ff 47.0%,#d5d5ff 50.0%,#a8a8ff 60.9%,#9595ff 72.5%,#ccccff 86.7%,#ffffff 92.7%,#ffe2e2 99.8%)"></i><i style="height:1px;background:linear-gradient(90deg,#8b8bff 0.2%,#8282ff 11.0%,#6e6eff 15.2%,#8d8dff 24.9%,#a2a2ff 38.8%,#ceceff 45.1%,#f3f3ff 46.6%,#d4d4ff 50.0%,#a7a7ff 60.9%,#9595ff 72.1%,#c9c9ff 86.0%,#fefeff 91.9%,#ffe3e3 99.1%,#ffd7d7 99.8%)"></i><i style="height:1px;background:linear-gradient(90deg,#8b8bff 0.2%,#8383ff 10.7%,#6e6eff 14.8%,#8d8dff 24.5%,#a2a2ff 38.4%,#cdcdff 44.8%,#f3f3ff 46.3%,#d3d3ff 50.0%,#a7a7ff 60.5%,#9595ff 71.7%,#c9c9ff 85.6%,#ffffff 91.6%,#ffe3e3 98.7%,#ffc5c5 99.8%)"></i><i style="height:1px;background:linear-gradient(90deg,#8b8bff 0.2%,#8282ff 10.7%,#6e6eff 14.8%,#8d8dff 24.5%,#a1a1ff 38.0%,#d3d3ff 44.8%,#f2f2ff 45.9%,#d1d1ff 50.0%,#a7a7ff 60.1%,#9595ff 71.3%,#cacaff 85.2%,#ffffff 91.2%,#ffe2e2 98.3%,#ffb1b1 99.8%)"></i><i style="height:1px;background:linear-gradient(90deg,#8c8cff 0.2%,#8383ff 10.3%,#6e6eff 14.4%,#8d8dff 24.2%,#a0a0ff 37.6%,#d1d1ff 44.4%,#f4f4ff 45.9%,#d6d6ff 48.9%,#a7a7ff 59.7%,#9494ff 71.0%,#cacaff 84.8%,#ffffff 90.4%,#ffe0e0 97.9%,#ffa1a1 99.8%)"></i><i style="height:1px;background:linear-gradient(90deg,#8c8cff 0.2%,#8484ff 9.9%,#6d6dff 14.0%,#8d8dff 24.2%,#a2a2ff 37.6%,#cfcfff 44.0%,#f4f4ff 45.5%,#d4d4ff 48.9%,#a7a7ff 59.4%,#9494ff 70.6%,#cacaff 84.5%,#ffffff 90.1%,#ffdfdf 97.6%,#ff9e9e 99.4%,#ff9797 99.8%)"></i><i style="height:1px;background:linear-gradient(90deg,#8c8cff 0.2%,#8383ff 9.9%,#6e6eff 14.0%,#8d8dff 23.8%,#a1a1ff 37.3%,#cdcdff 43.6%,#f3f3ff 45.1%,#d3d3ff 48.9%,#a7a7ff 59.0%,#9494ff 70.2%,#cbcbff 84.1%,#fffefe 89.7%,#ffdede 97.2%,#ff9c9c 99.1%,#ff9494 99.8%)"></i><i style="height:1px;background:linear-gradient(90deg,#8c8cff 0.2%,#8484ff 9.6%,#6d6dff 13.7%,#8d8dff 23.4%,#a1a1ff 36.9%,#ccccff 43.3%,#f3f3ff 44.8%,#d0d0ff 49.3%,#a6a6ff 59.0%,#9393ff 69.9%,#cbcbff 83.7%,#ffffff 89.0%,#ffdddd 96.8%,#ff9b9b 98.7%,#ff9292 99.8%)"></i><i style="height:1px;background:linear-gradient(90deg,#8c8cff 0.2%,#8282ff 9.6%,#6e6eff 13.7%,#8d8dff 23.4%,#a0a0ff 36.5%,#d2d2ff 43.3%,#f2f2ff 44.4%,#c8c8ff 50.4%,#a5a5ff 59.0%,#9393ff 69.5%,#ccccff 83.3%,#ffffff 88.6%,#ffdcdc 96.4%,#ff9999 98.3%,#ff9191 99.8%)"></i><i style="height:1px;background:linear-gradient(90deg,#8c8cff 0.2%,#8383ff 9.2%,#6e6eff 13.3%,#8d8dff 23.0%,#a0a0ff 36.1%,#d0d0ff 42.9%,#f4f4ff 44.4%,#d5d5ff 47.8%,#a7a7ff 57.9%,#9393ff 69.1%,#ccccff 83.0%,#fffefe 88.2%,#ffe1e1 95.7%,#ffc1c1 96.8%,#ff9898 97.9%,#ff9191 99.8%)"></i><i style="height:1px;background:linear-gradient(90deg,#8c8cff 0.2%,#8282ff 9.2%,#6e6eff 13.3%,#8d8dff 23.0%,#a1a1ff 36.1%,#ceceff 42.5%,#f4f4ff 44.0%,#d3d3ff 47.8%,#a7a7ff 57.5%,#9393ff 68.7%,#c9c9ff 82.2%,#fffefe 87.8%,#ffe0e0 95.3%,#ffbebe 96.4%,#ff9797 97.6%,#ff9292 99.8%)"></i><i style="height:1px;background:linear-gradient(90deg,#8c8cff 0.2%,#8383ff 8.8%,#6e6eff 12.9%,#8d8dff 22.7%,#a1a1ff 35.8%,#cdcdff 42.1%,#f3f3ff 43.6%,#d0d0ff 48.1%,#a6a6ff 57.5%,#9292ff 68.4%,#c9c9ff 81.8%,#ffffff 87.1%,#ffdfdf 94.9%,#ffbcbc 96.1%,#ff9595 97.2%,#ff9191 99.1%,#ff9c9c 99.8%)"></i><i style="height:1px;background:linear-gradient(90deg,#8d8dff 0.2%,#8282ff 8.8%,#6f6fff 12.9%,#8d8dff 22.7%,#a0a0ff 35.4%,#d3d3ff 42.1%,#f2f2ff 43.3%,#c8c8ff 49.3%,#a6a6ff 57.5%,#9292ff 68.0%,#c9c9ff 81.5%,#ffffff 86.7%,#ffdede 94.6%,#ffbaba 95.7%,#ff9494 96.8%,#ff9090 98.7%,#ffa7a7 99.4%,#ffb8b8 99.8%)"></i><i style="height:1px;background:linear-gradient(90deg,#8d8dff 0.2%,#8383ff 8.4%,#6e6eff 12.5%,#8d8dff 22.7%,#a0a0ff 35.0%,#d1d1ff 41.8%,#f4f4ff 43.3%,#d5d5ff 46.6%,#a7a7ff 56.4%,#9494ff 68.0%,#cacaff 81.1%,#fffefe 86.3%,#ffdede 94.2%,#ffb7b7 95.3%,#ff9292 96.4%,#ff9090 98.3%,#ffaaaa 99.1%,#ffdbdb 99.8%)"></i><i style="height:1px;background:linear-gradient(90deg,#8d8dff 0.2%,#8282ff 8.4%,#6f6fff 12.5%,#8d8dff 22.3%,#9f9fff 34.6%,#d0d0ff 41.4%,#f4f4ff 42.9%,#d3d3ff 46.6%,#a8a8ff 56.0%,#9494ff 67.6%,#cacaff 80.7%,#fffefe 86.0%,#ffdcdc 93.8%,#ff9090 96.1%,#ff8f8f 97.9%,#ffabab 98.7%,#ffe0e0 99.4%,#ffeded 99.8%)"></i><i style="height:1px;background:linear-gradient(90deg,#8e8eff 0.2%,#8383ff 8.1%,#6f6fff 12.2%,#8d8dff 22.3%,#a1a1ff 34.6%,#cfcfff 41.0%,#f4f4ff 42.5%,#d1d1ff 46.6%,#a7a7ff 56.0%,#9595ff 67.2%,#cbcbff 80.3%,#fffefe 85.6%,#ffdbdb 93.4%,#ff8e8e 95.7%,#ff8f8f 97.6%,#ffadad 98.3%,#ffe0e0 99.1%,#ffe5e5 99.8%)"></i><i style="height:1px;background:linear-gradient(90deg,#8e8eff 0.2%,#8282ff 8.1%,#7070ff 12.2%,#8d8dff 22.3%,#a1a1ff 34.3%,#d5d5ff 41.0%,#f3f3ff 42.1%,#ccccff 47.4%,#a7a7ff 55.6%,#9595ff 66.9%,#cbcbff 80.0%,#fffefe 85.2%,#ffdada 93.1%,#ff9393 94.9%,#ff8a8a 96.8%,#ff9a9a 97.6%,#ffe1e1 98.7%,#ffe6e6 99.1%,#ffd3d3 99.8%)"></i><i style="height:1px;background:linear-gradient(90deg,#8e8eff 0.2%,#8383ff 7.7%,#7070ff 11.8%,#8e8eff 22.3%,#a0a0ff 33.9%,#d3d3ff 40.6%,#f2f2ff 41.8%,#c0c0ff 49.3%,#a2a2ff 57.5%,#9595ff 66.5%,#cbcbff 79.6%,#fffefe 84.8%,#ffd9d9 92.7%,#ff9292 94.6%,#ff8989 96.4%,#ff9b9b 97.2%,#ffe2e2 98.3%,#ffe4e4 98.7%,#ffc7c7 99.8%)"></i><i style="height:1px;background:linear-gradient(90deg,#8f8fff 0.2%,#8282ff 7.7%,#7171ff 11.8%,#8e8eff 22.3%,#a0a0ff 33.5%,#d2d2ff 40.3%,#f4f4ff 41.8%,#d5d5ff 45.1%,#a8a8ff 54.5%,#9595ff 66.1%,#ccccff 79.2%,#fffefe 84.5%,#ffdede 91.9%,#ffbdbd 93.1%,#ff9090 94.2%,#ff8888 96.1%,#ff9c9c 96.8%,#ffe3e3 97.9%,#ffd7d7 98.7%,#ffc2c2 99.8%)"></i><i style="height:1px;background:linear-gradient(90deg,#8f8fff 0.2%,#8181ff 7.7%,#7171ff 11.4%,#8e8eff 21.9%,#a2a2ff 33.5%,#d1d1ff 39.9%,#f4f4ff 41.4%,#d1d1ff 45.5%,#a8a8ff 54.5%,#9696ff 65.7%,#ccccff 78.8%,#fffdfd 84.1%,#ffdddd 91.6%,#ffbaba 92.7%,#ff8e8e 93.8%,#ff8787 95.7%,#ff9e9e 96.4%,#ffd4d4 97.2%,#ffe4e4 97.6%,#ffd4d4 98.3%,#ffc0c0 99.4%,#ffbfbf 99.8%)"></i><i style="height:1px;background:linear-gradient(90deg,#8f8fff 0.2%,#8282ff 7.3%,#7272ff 11.4%,#8e8eff 21.9%,#a1a1ff 33.1%,#d0d0ff 39.5%,#f4f4ff 41.0%,#cfcfff 45.5%,#a8a8ff 54.1%,#9696ff 65.4%,#c9c9ff 78.1%,#ffffff 83.3%,#ffdcdc 91.2%,#ffb8b8 92.3%,#ff8c8c 93.4%,#ff8686 95.3%,#ff9f9f 96.1%,#ffd7d7 96.8%,#ffe5e5 97.2%,#ffc0c0 98.7%,#ffbebe 99.8%)"></i><i style="height:1px;background:linear-gradient(90deg,#9090ff 0.2%,#8181ff 7.3%,#7272ff 11.0%,#8e8eff 21.9%,#a1a1ff 32.8%,#d6d6ff 39.5%,#f3f3ff 40.6%,#c7c7ff 46.6%,#a7a7ff 54.1%,#9696ff 65.0%,#c9c9ff 77.7%,#ffffff 83.0%,#ffdcdc 90.8%,#ffb5b5 91.9%,#ff8a8a 93.1%,#ff8585 94.9%,#ffa1a1 95.7%,#ffdada 96.4%,#ffe5e5 96.8%,#ffbebe 98.3%,#ffbcbc 99.8%)"></i><i style="height:1px;background:linear-gradient(90deg,#9090ff 0.2%,#8282ff 6.9%,#7373ff 11.0%,#8f8fff 21.9%,#a0a0ff 32.4%,#d4d4ff 39.1%,#f4f4ff 40.6%,#d4d4ff 44.0%,#a8a8ff 53.4%,#9898ff 65.0%,#c9c9ff 77.3%,#ffffff 82.6%,#ffdbdb 90.4%,#ffb3b3 91.6%,#ff8888 92.7%,#ff8484 94.6%,#ff8d8d 94.9%,#ffdddd 96.1%,#ffe5e5 96.4%,#ffbcbc 97.9%,#ffbaba 99.8%)"></i><i style="height:1px;background:linear-gradient(90deg,#9090ff 0.2%,#8181ff 6.9%,#7373ff 10.7%,#8f8fff 21.9%,#a0a0ff 32.0%,#d3d3ff 38.8%,#f4f4ff 40.3%,#d3d3ff 44.0%,#a9a9ff 53.0%,#9898ff 64.6%,#cacaff 77.0%,#ffffff 82.2%,#ffdada 90.1%,#ffb0b0 91.2%,#ff8686 92.3%,#ff8383 94.2%,#ff8c8c 94.6%,#ffc4c4 95.3%,#ffe2e2 95.7%,#ffe8e8 96.1%,#ffbfbf 97.2%,#ffb9b9 99.8%)"></i><i style="height:1px;background:linear-gradient(90deg,#9191ff 0.2%,#8080ff 6.9%,#7474ff 10.7%,#8f8fff 21.9%,#a2a2ff 32.0%,#d2d2ff 38.4%,#f4f4ff 39.9%,#d1d1ff 44.0%,#a9a9ff 52.6%,#9999ff 64.2%,#cacaff 76.6%,#fffefe 81.8%,#ffd9d9 89.7%,#ffaeae 90.8%,#ff8585 91.9%,#ff8282 93.8%,#ff8b8b 94.2%,#ffa1a1 94.6%,#ffe6e6 95.3%,#ffefef 95.7%,#ffbdbd 96.8%,#ffb7b7 99.8%)"></i><i style="height:1px;background:linear-gradient(90deg,#9191ff 0.2%,#7f7fff 6.9%,#7575ff 10.7%,#9090ff 22.3%,#a1a1ff 31.6%,#d8d8ff 38.4%,#f4f4ff 39.5%,#d0d0ff 44.0%,#a9a9ff 52.6%,#9999ff 63.9%,#cacaff 76.2%,#fffefe 81.5%,#ffd8d8 89.3%,#ffacac 90.4%,#ff8484 91.6%,#ff8181 93.4%,#ff8a8a 93.8%,#ffa0a0 94.2%,#ffe8e8 94.9%,#fff7f7 95.3%,#ffeaea 95.7%,#ffbebe 96.4%,#ffb6b6 99.8%)"></i><i style="height:1px;background:linear-gradient(90deg,#9292ff 0.2%,#7f7fff 6.9%,#7575ff 10.3%,#9090ff 21.9%,#a1a1ff 31.3%,#d7d7ff 38.0%,#f5f5ff 39.5%,#d6d6ff 42.5%,#aaaaff 51.9%,#9999ff 63.5%,#cbcbff 75.8%,#fffefe 81.1%,#ffd7d7 89.0%,#ff8a8a 90.8%,#ff7f7f 92.3%,#ff8989 93.4%,#ff9e9e 93.8%,#ffe8e8 94.6%,#fffdfd 94.9%,#fff5f5 95.3%,#ffc2c2 96.1%,#ffb6b6 96.8%,#ffb6b6 99.8%)"></i><i style="height:1px;background:linear-gradient(90deg,#9292ff 0.2%,#7e7eff 6.9%,#7676ff 10.3%,#9191ff 22.3%,#a1a1ff 30.9%,#d5d5ff 37.6%,#f5f5ff 39.1%,#d5d5ff 42.5%,#aaaaff 51.5%,#9999ff 63.1%,#cbcbff 75.5%,#fffefe 80.7%,#ffdcdc 88.2%,#ffbbbb 89.3%,#ff8989 90.4%,#ff7f7f 92.3%,#ff8888 93.1%,#ff9d9d 93.4%,#ffe6e6 94.2%,#ffffff 94.6%,#ffffff 94.9%,#ffcbcb 95.7%,#ffb5b5 96.4%,#ffb7b7 99.8%)"></i><i style="height:1px;background:linear-gradient(90deg,#9393ff 0.2%,#7d7dff 6.9%,#7777ff 10.3%,#9292ff 22.7%,#a3a3ff 30.9%,#d4d4ff 37.3%,#f5f5ff 38.8%,#d3d3ff 42.5%,#aaaaff 51.5%,#9999ff 62.7%,#cbcbff 75.1%,#fffefe 80.3%,#ffdcdc 87.8%,#ffb9b9 89.0%,#ff8888 90.1%,#ff7e7e 91.9%,#ff8888 92.7%,#ff9b9b 93.1%,#ffe5e5 93.8%,#fdfdff 94.2%,#fff3f3 94.9%,#ffbfbf 95.7%,#ffb3b3 96.8%,#ffb8b8 99.8%)"></i><i style="height:1px;background:linear-gradient(90deg,#9393ff 0.2%,#7b7bff 7.3%,#7b7bff 11.0%,#9595ff 24.5%,#a3a3ff 30.5%,#dbdbff 37.3%,#f5f5ff 38.4%,#d4d4ff 42.1%,#aaaaff 51.1%,#9a9aff 62.4%,#ccccff 74.7%,#fffdfd 80.0%,#ffdbdb 87.5%,#ffb7b7 88.6%,#ff8787 89.7%,#ff7e7e 91.6%,#ff8787 92.3%,#ff9a9a 92.7%,#ffe3e3 93.4%,#fcfcff 93.8%,#f3f3ff 94.2%,#fffefe 94.6%,#ffc6c6 95.3%,#ffb3b3 96.1%,#ffb9b9 99.8%)"></i><i style="height:1px;background:linear-gradient(90deg,#9393ff 0.2%,#7878ff 7.7%,#a2a2ff 30.1%,#d9d9ff 36.9%,#f5f5ff 38.0%,#d0d0ff 42.5%,#aaaaff 50.7%,#9a9aff 62.0%,#ccccff 74.3%,#fffdfd 79.6%,#ffdbdb 87.1%,#ffb5b5 88.2%,#ff8686 89.3%,#ff7f7f 91.6%,#ff9999 92.3%,#ffe2e2 93.1%,#fdfdff 93.4%,#efefff 93.8%,#f7f7ff 94.2%,#ffeeee 94.6%,#ffbbbb 95.3%,#ffb1b1 96.8%,#ffb6b6 99.4%,#ffbbbb 99.8%)"></i><i style="height:1px;background:linear-gradient(90deg,#9494ff 0.2%,#7878ff 9.2%,#9494ff 22.7%,#a2a2ff 29.8%,#d8d8ff 36.5%,#f6f6ff 38.0%,#d7d7ff 41.0%,#ababff 50.4%,#9a9aff 61.6%,#c9c9ff 73.6%,#ffffff 78.8%,#ffdada 86.7%,#ffb3b3 87.8%,#ff8585 89.0%,#ff7f7f 91.2%,#ff9898 91.9%,#fdfdff 93.1%,#ededff 93.4%,#fffafa 94.2%,#ffc2c2 94.9%,#ffb1b1 95.7%,#ffb7b7 99.4%,#ffbdbd 99.8%)"></i><i style="height:1px;background:linear-gradient(90deg,#9494ff 0.2%,#7979ff 9.2%,#9595ff 23.0%,#a5a5ff 29.8%,#d7d7ff 36.1%,#f6f6ff 37.6%,#d5d5ff 41.0%,#ababff 50.0%,#9a9aff 61.2%,#c9c9ff 73.2%,#ffffff 78.5%,#ffd9d9 86.3%,#ffb1b1 87.5%,#ff8484 88.6%,#ff7e7e 90.8%,#ff9696 91.6%,#fefeff 92.7%,#ececff 93.1%,#ebebff 93.4%,#fafaff 93.8%,#ffb9b9 94.9%,#ffb0b0 97.2%,#ffb8b8 99.4%,#ffbfbf 99.8%)"></i><i style="height:1px;background:linear-gradient(90deg,#9595ff 0.2%,#7979ff 8.8%,#9595ff 23.0%,#a4a4ff 29.4%,#ddddff 36.1%,#f6f6ff 37.3%,#d6d6ff 40.6%,#ababff 50.0%,#9c9cff 61.2%,#c9c9ff 72.8%,#ffffff 78.1%,#ffd9d9 86.0%,#ffafaf 87.1%,#ff8383 88.2%,#ff7e7e 90.4%,#ff9595 91.2%,#ffffff 92.3%,#ebebff 92.7%,#e7e7ff 93.1%,#fff4f4 93.8%,#ffbfbf 94.6%,#ffafaf 95.3%,#ffb3b3 99.1%,#ffc1c1 99.8%)"></i><i style="height:1px;background:linear-gradient(90deg,#9595ff 0.2%,#7979ff 8.4%,#9696ff 23.0%,#a4a4ff 29.0%,#dcdcff 35.8%,#f6f6ff 36.9%,#d4d4ff 40.6%,#ababff 49.6%,#9c9cff 60.9%,#cacaff 72.5%,#fffefe 77.7%,#ffd8d8 85.6%,#ffadad 86.7%,#ff8282 87.8%,#ff7d7d 90.1%,#ff9494 90.8%,#fffefe 91.9%,#ebebff 92.3%,#e5e5ff 92.7%,#ffffff 93.4%,#ffc7c7 94.2%,#ffafaf 94.9%,#ffb3b3 99.1%,#ffc3c3 99.8%)"></i><i style="height:1px;background:linear-gradient(90deg,#9595ff 0.2%,#7a7aff 8.4%,#9797ff 23.8%,#a6a6ff 29.0%,#dadaff 35.4%,#f7f7ff 36.9%,#d9d9ff 39.5%,#ababff 49.3%,#9c9cff 60.5%,#cacaff 72.1%,#fffefe 77.3%,#ffd7d7 85.2%,#ffabab 86.3%,#ff8080 87.5%,#ff7d7d 89.7%,#ff9292 90.4%,#fffcfc 91.6%,#e4e4ff 92.3%,#f7f7ff 93.1%,#ffeeee 93.4%,#ffbbbb 94.2%,#ffadad 94.9%,#ffafaf 98.7%,#ffc6c6 99.8%)"></i><i style="height:1px;background:linear-gradient(90deg,#9595ff 0.2%,#7a7aff 8.1%,#9898ff 24.2%,#a9a9ff 29.0%,#d9d9ff 35.0%,#f7f7ff 36.5%,#d7d7ff 39.5%,#acacff 48.9%,#9d9dff 60.1%,#cacaff 71.7%,#fffefe 77.0%,#ffd7d7 84.8%,#ffa9a9 86.0%,#ff8080 87.1%,#ff7d7d 89.3%,#ff9191 90.1%,#fffafa 91.2%,#e3e3ff 91.9%,#efefff 92.7%,#fff9f9 93.1%,#ffc3c3 93.8%,#ffadad 94.6%,#ffafaf 98.7%,#ffc8c8 99.8%)"></i><i style="height:1px;background:linear-gradient(90deg,#9696ff 0.2%,#7b7bff 8.1%,#9a9aff 25.3%,#b4b4ff 30.1%,#e0e0ff 35.0%,#f7f7ff 36.1%,#d8d8ff 39.1%,#acacff 48.5%,#9d9dff 59.7%,#cbcbff 71.3%,#fffefe 76.6%,#ffd5d5 84.5%,#ff8787 86.3%,#ff7b7b 87.8%,#ff8181 89.3%,#ff9090 89.7%,#ffd3d3 90.4%,#fff8f8 90.8%,#e2e2ff 91.6%,#eaeaff 92.3%,#fcfcff 92.7%,#ffb8b8 93.8%,#ffabab 94.9%,#ffafaf 98.7%,#ffcbcb 99.8%)"></i><i style="height:1px;background:linear-gradient(90deg,#9696ff 0.2%,#7b7bff 7.7%,#9b9bff 25.7%,#d7d7ff 34.3%,#f7f7ff 35.8%,#d6d6ff 39.1%,#adadff 48.1%,#9d9dff 59.4%,#cbcbff 71.0%,#fffefe 76.2%,#ffdbdb 83.7%,#ffb9b9 84.8%,#ff8686 86.0%,#ff7a7a 87.8%,#ff8181 89.0%,#ff8f8f 89.3%,#ffd0d0 90.1%,#fff6f6 90.4%,#e2e2ff 91.2%,#e5e5ff 91.9%,#f4f4ff 92.3%,#fff3f3 92.7%,#ffc0c0 93.4%,#ffabab 94.2%,#ffb0b0 98.7%,#ffcdcd 99.8%)"></i><i style="height:1px;background:linear-gradient(90deg,#9696ff 0.2%,#7c7cff 7.7%,#a5a5ff 27.5%,#ddddff 34.3%,#f7f7ff 35.4%,#d4d4ff 39.1%,#acacff 48.1%,#9d9dff 59.0%,#ccccff 70.6%,#fffdfd 75.8%,#ffdada 83.3%,#ffb6b6 84.5%,#ff8484 85.6%,#ff7a7a 87.5%,#ff8080 88.6%,#ff8e8e 89.0%,#ffcece 89.7%,#fff4f4 90.1%,#e2e2ff 90.8%,#e2e2ff 91.6%,#fffcfc 92.3%,#ffb6b6 93.4%,#ffa9a9 94.6%,#ffabab 98.3%,#ffd0d0 99.8%)"></i><i style="height:1px;background:linear-gradient(90deg,#9595ff 0.2%,#7c7cff 7.3%,#a4a4ff 27.2%,#dcdcff 33.9%,#f8f8ff 35.4%,#d9d9ff 38.0%,#adadff 47.8%,#9e9eff 58.6%,#ccccff 70.2%,#fffdfd 75.5%,#ffdada 83.0%,#ffb4b4 84.1%,#ff8383 85.2%,#ff7a7a 87.5%,#ff7f7f 88.2%,#ff8d8d 88.6%,#ffcccc 89.3%,#fff2f2 89.7%,#f0f0ff 90.1%,#dedeff 90.8%,#e8e8ff 91.6%,#f9f9ff 91.9%,#ffeded 92.3%,#ffbdbd 93.1%,#ffa9a9 93.8%,#ffabab 98.3%,#ffd2d2 99.8%)"></i><i style="height:1px;background:linear-gradient(90deg,#9595ff 0.2%,#7d7dff 7.3%,#a4a4ff 26.8%,#dbdbff 33.5%,#f8f8ff 35.0%,#d7d7ff 38.0%,#adadff 47.4%,#9e9eff 58.2%,#ccccff 69.9%,#ffffff 74.7%,#ffd9d9 82.6%,#ffb2b2 83.7%,#ff8282 84.8%,#ff7979 87.1%,#ff7f7f 87.8%,#ff8c8c 88.2%,#ffcaca 89.0%,#fff0f0 89.3%,#f1f1ff 89.7%,#ddddff 90.4%,#e4e4ff 91.2%,#fff7f7 91.9%,#ffb3b3 93.1%,#ffa7a7 94.2%,#ffacac 98.3%,#ffd5d5 99.8%)"></i><i style="height:1px;background:linear-gradient(90deg,#9595ff 0.2%,#7e7eff 6.9%,#a4a4ff 26.4%,#e1e1ff 33.5%,#f8f8ff 34.6%,#d8d8ff 37.6%,#adadff 47.0%,#9e9eff 57.9%,#c9c9ff 69.1%,#ffffff 74.3%,#ffd8d8 82.2%,#ffb0b0 83.3%,#ff8181 84.5%,#ff7a7a 87.1%,#ff8b8b 87.8%,#ffc8c8 88.6%,#ffefef 89.0%,#f2f2ff 89.3%,#dcdcff 90.1%,#e0e0ff 90.8%,#fefeff 91.6%,#ffbaba 92.7%,#ffa7a7 93.4%,#ffacac 98.3%,#ffd7d7 99.8%)"></i><i style="height:1px;background:linear-gradient(90deg,#9494ff 0.2%,#7f7fff 6.9%,#a6a6ff 26.4%,#dfdfff 33.1%,#f8f8ff 34.3%,#d6d6ff 37.6%,#aeaeff 46.6%,#a0a0ff 57.9%,#c9c9ff 68.7%,#ffffff 74.0%,#ffd8d8 81.8%,#ffaeae 83.0%,#ff8080 84.1%,#ff7a7a 86.7%,#ff8a8a 87.5%,#ffc6c6 88.2%,#ffeded 88.6%,#f3f3ff 89.0%,#dcdcff 89.7%,#e6e6ff 90.8%,#f6f6ff 91.2%,#fff1f1 91.6%,#ffb1b1 92.7%,#ffa5a5 94.2%,#ffa8a8 97.9%,#ffdada 99.8%)"></i><i style="height:1px;background:linear-gradient(90deg,#9494ff 0.2%,#7f7fff 6.6%,#a6a6ff 26.0%,#dedeff 32.8%,#f8f8ff 34.3%,#d9d9ff 36.9%,#aeaeff 46.3%,#a0a0ff 57.5%,#c9c9ff 68.4%,#fffefe 73.6%,#ffd7d7 81.5%,#ffacac 82.6%,#ff7f7f 83.7%,#ff7d7d 86.7%,#ff8989 87.1%,#ffc4c4 87.8%,#ffebeb 88.2%,#f4f4ff 88.6%,#dbdbff 89.3%,#e2e2ff 90.4%,#fffafa 91.2%,#ffb8b8 92.3%,#ffa5a5 93.1%,#ffa8a8 97.9%,#ffdcdc 99.8%)"></i><i style="height:1px;background:linear-gradient(90deg,#9494ff 0.2%,#8080ff 6.6%,#a5a5ff 25.7%,#ddddff 32.4%,#f9f9ff 33.9%,#d9d9ff 36.5%,#aeaeff 46.3%,#a0a0ff 57.1%,#cacaff 68.0%,#fffefe 73.2%,#ffd7d7 81.1%,#ffaaaa 82.2%,#ff7e7e 83.3%,#ff7d7d 86.3%,#ff8888 86.7%,#ffc2c2 87.5%,#ffe9e9 87.8%,#f5f5ff 88.2%,#dbdbff 89.0%,#dfdfff 90.1%,#fcfcff 90.8%,#ffafaf 92.3%,#ffa3a3 93.8%,#ffa8a8 97.9%,#ffdfdf 99.8%)"></i><i style="height:1px;background:linear-gradient(90deg,#9393ff 0.2%,#8080ff 6.2%,#a5a5ff 25.3%,#e3e3ff 32.4%,#f9f9ff 33.5%,#dadaff 36.1%,#aeaeff 45.9%,#a0a0ff 56.7%,#cacaff 67.6%,#fffefe 72.8%,#ffd6d6 80.7%,#ffa8a8 81.8%,#ff7c7c 83.0%,#ff7c7c 86.0%,#ff9d9d 86.7%,#ffe6e6 87.5%,#f7f7ff 87.8%,#dbdbff 88.6%,#dcdcff 89.7%,#f4f4ff 90.4%,#fff5f5 90.8%,#ffb5b5 91.9%,#ffa4a4 92.7%,#ffa9a9 97.9%,#ffe2e2 99.8%)"></i><i style="height:1px;background:linear-gradient(90deg,#9393ff 0.2%,#8181ff 6.2%,#a5a5ff 24.9%,#e2e2ff 32.0%,#f9f9ff 33.1%,#d8d8ff 36.1%,#aeaeff 45.5%,#a1a1ff 56.4%,#cbcbff 67.2%,#fffefe 72.5%,#ffd5d5 80.3%,#ffa6a6 81.5%,#ff7c7c 82.6%,#ff7b7b 85.6%,#ff9c9c 86.3%,#ffe4e4 87.1%,#f9f9ff 87.5%,#dbdbff 88.2%,#e0e0ff 89.7%,#fffdfd 90.4%,#ffadad 91.9%,#ffa1a1 93.4%,#ffa4a4 97.6%,#ffe4e4 99.8%)"></i><i style="height:1px;background:linear-gradient(90deg,#9292ff 0.2%,#8181ff 5.8%,#a7a7ff 24.9%,#e1e1ff 31.6%,#f9f9ff 32.8%,#d7d7ff 36.1%,#afafff 45.1%,#a1a1ff 56.0%,#cbcbff 66.9%,#fffefe 72.1%,#ffd4d4 80.0%,#ff8383 81.8%,#ff7777 83.3%,#ff7b7b 85.2%,#ff9a9a 86.0%,#ffe2e2 86.7%,#fbfbff 87.1%,#dbdbff 87.8%,#ddddff 89.3%,#f9f9ff 90.1%,#fff0f0 90.4%,#ffb3b3 91.6%,#ffa1a1 92.7%,#ffa4a4 97.6%,#ffe7e7 99.8%)"></i><i style="height:1px;background:linear-gradient(90deg,#9292ff 0.2%,#8282ff 5.8%,#a7a7ff 24.5%,#dfdfff 31.3%,#fafaff 32.8%,#dbdbff 35.0%,#afafff 44.8%,#a1a1ff 55.6%,#cbcbff 66.5%,#fffdfd 71.7%,#ffd9d9 79.2%,#ffb6b6 80.3%,#ff8282 81.5%,#ff7676 83.3%,#ff7a7a 84.8%,#ff9999 85.6%,#fcfcff 86.7%,#dbdbff 87.5%,#dadaff 89.0%,#fff8f8 90.1%,#ffabab 91.6%,#ff9f9f 93.1%,#ffa4a4 97.6%,#ffeaea 99.8%)"></i><i style="height:1px;background:linear-gradient(90deg,#9191ff 0.2%,#8383ff 5.8%,#a6a6ff 24.2%,#e6e6ff 31.3%,#fafaff 32.4%,#dadaff 35.0%,#afafff 44.4%,#a1a1ff 55.2%,#ccccff 66.1%,#fffdfd 71.3%,#ffd9d9 78.8%,#ffb4b4 80.0%,#ff8181 81.1%,#ff7676 83.0%,#ff7a7a 84.5%,#ff9797 85.2%,#fefeff 86.3%,#e6e6ff 86.7%,#d7d7ff 87.5%,#dfdfff 89.0%,#fefeff 89.7%,#ffb0b0 91.2%,#ff9f9f 92.3%,#ffa5a5 97.6%,#ffecec 99.8%)"></i><i style="height:1px;background:linear-gradient(90deg,#9191ff 0.2%,#8383ff 5.4%,#a6a6ff 23.8%,#e4e4ff 30.9%,#fafaff 32.0%,#dadaff 34.6%,#afafff 44.4%,#a2a2ff 54.9%,#ccccff 65.7%,#fffdfd 71.0%,#ffd8d8 78.5%,#ffb1b1 79.6%,#ff7f7f 80.7%,#ff7676 83.0%,#ff8282 84.5%,#ffb6b6 85.2%,#fffefe 86.0%,#dbdbff 86.7%,#dcdcff 88.6%,#f7f7ff 89.3%,#fff3f3 89.7%,#ffa8a8 91.2%,#ff9e9e 92.7%,#ffa0a0 97.2%,#ffefef 99.8%)"></i><i style="height:1px;background:linear-gradient(90deg,#9090ff 0.2%,#8484ff 5.4%,#a6a6ff 23.4%,#e3e3ff 30.5%,#fafaff 31.6%,#d9d9ff 34.6%,#afafff 44.0%,#a2a2ff 54.5%,#c9c9ff 65.0%,#ffffff 70.2%,#ffd8d8 78.1%,#ffafaf 79.2%,#ff7e7e 80.3%,#ff7575 83.0%,#ff8181 84.1%,#ffb4b4 84.8%,#fffdfd 85.6%,#dadaff 86.3%,#d9d9ff 88.2%,#fffbfb 89.3%,#ffaeae 90.8%,#ff9d9d 91.9%,#ffa0a0 97.2%,#fff2f2 99.8%)"></i><i style="height:1px;background:linear-gradient(90deg,#9090ff 0.2%,#8585ff 5.4%,#a8a8ff 23.4%,#e2e2ff 30.1%,#fafaff 31.6%,#dbdbff 33.9%,#b0b0ff 43.6%,#a3a3ff 54.5%,#c9c9ff 64.6%,#ffffff 69.9%,#ffd7d7 77.7%,#ffadad 78.8%,#ff7d7d 80.0%,#ff7676 83.0%,#ff8080 83.7%,#ffb2b2 84.5%,#fffbfb 85.2%,#dadaff 86.0%,#d7d7ff 87.8%,#fcfcff 89.0%,#ffa6a6 90.8%,#ff9c9c 92.7%,#ffa1a1 97.2%,#fff5f5 99.8%)"></i><i style="height:1px;background:linear-gradient(90deg,#8f8fff 0.2%,#8585ff 5.1%,#a8a8ff 23.0%,#e1e1ff 29.8%,#fbfbff 31.3%,#dcdcff 33.5%,#b0b0ff 43.3%,#a3a3ff 54.1%,#c9c9ff 64.2%,#ffffff 69.5%,#ffd6d6 77.3%,#ffabab 78.5%,#ff7c7c 79.6%,#ff7878 83.0%,#ff9292 83.7%,#fffafa 84.8%,#dadaff 85.6%,#d5d5ff 87.5%,#f5f5ff 88.6%,#fff6f6 89.0%,#ffacac 90.4%,#ff9b9b 91.6%,#ffa2a2 97.2%,#fff7f7 99.8%)"></i><i style="height:1px;background:linear-gradient(90deg,#8f8fff 0.2%,#8686ff 5.1%,#a7a7ff 22.7%,#e7e7ff 29.8%,#fbfbff 30.9%,#dadaff 33.5%,#b1b1ff 42.9%,#a4a4ff 53.7%,#cacaff 63.9%,#fffefe 69.1%,#ffd6d6 77.0%,#ffa9a9 78.1%,#ff7b7b 79.2%,#ff7777 82.6%,#ff9191 83.3%,#fff8f8 84.5%,#dadaff 85.2%,#d4d4ff 87.1%,#efefff 88.2%,#fffdfd 88.6%,#ffa4a4 90.4%,#ff9a9a 92.3%,#ff9d9d 96.8%,#ffd7d7 98.7%,#fffafa 99.8%)"></i><i style="height:1px;background:linear-gradient(90deg,#8e8eff 0.2%,#8787ff 5.1%,#a7a7ff 22.3%,#e5e5ff 29.4%,#fcfcff 30.5%,#dadaff 33.1%,#b0b0ff 42.9%,#a4a4ff 53.4%,#cacaff 63.5%,#fffefe 68.7%,#ffd5d5 76.6%,#ffa7a7 77.7%,#ff7a7a 78.8%,#ff7777 82.2%,#ff8f8f 83.0%,#fff6f6 84.1%,#dbdbff 84.8%,#d3d3ff 86.7%,#e9e9ff 87.8%,#fafaff 88.2%,#ffdfdf 89.0%,#ff9f9f 90.4%,#ff9d9d 96.8%,#fffdfd 99.8%)"></i><i style="height:1px;background:linear-gradient(90deg,#8e8eff 0.2%,#8888ff 5.1%,#a7a7ff 21.9%,#e4e4ff 29.0%,#fbfbff 30.1%,#d9d9ff 33.1%,#b1b1ff 42.5%,#a4a4ff 53.0%,#cacaff 63.1%,#fffefe 68.4%,#ffd4d4 76.2%,#ffa5a5 77.3%,#ff7878 78.5%,#ff7676 81.8%,#ff8e8e 82.6%,#fff4f4 83.7%,#dbdbff 84.5%,#d2d2ff 86.3%,#e4e4ff 87.5%,#fff9f9 88.2%,#ffa2a2 90.1%,#ff9898 91.9%,#ff9d9d 96.8%,#fefeff 99.8%)"></i><i style="height:1px;background:linear-gradient(90deg,#8e8eff 0.2%,#8989ff 5.1%,#a9a9ff 21.9%,#e3e3ff 28.7%,#fbfbff 30.1%,#dbdbff 32.4%,#b1b1ff 42.1%,#a4a4ff 52.6%,#cbcbff 62.7%,#fffefe 68.0%,#ffd3d3 75.8%,#ffa3a3 77.0%,#ff7878 78.1%,#ff7676 81.5%,#ff8d8d 82.2%,#fff1f1 83.3%,#efefff 83.7%,#d4d4ff 84.5%,#d6d6ff 86.7%,#ffffff 87.8%,#ffa7a7 89.7%,#ff9797 90.8%,#ff9999 96.4%,#ffc3c3 97.9%,#fff9f9 99.4%,#fcfcff 99.8%)"></i><i style="height:1px;background:linear-gradient(90deg,#8d8dff 0.2%,#8a8aff 5.4%,#a9a9ff 21.5%,#eaeaff 28.7%,#fcfcff 29.8%,#dcdcff 32.0%,#b1b1ff 41.8%,#a5a5ff 52.2%,#cbcbff 62.4%,#fffdfd 67.6%,#ffd8d8 75.1%,#ffb5b5 76.2%,#ff7f7f 77.3%,#ff7373 78.8%,#ff7c7c 81.5%,#ffa7a7 82.2%,#ffefef 83.0%,#f0f0ff 83.3%,#d4d4ff 84.1%,#d4d4ff 86.3%,#f8f8ff 87.5%,#fff4f4 87.8%,#ffa0a0 89.7%,#ff9696 91.6%,#ff9999 96.4%,#ffd4d4 98.3%,#fffcfc 99.4%,#f9f9ff 99.8%)"></i><i style="height:1px;background:linear-gradient(90deg,#8d8dff 0.2%,#8c8cff 5.8%,#a8a8ff 21.2%,#e8e8ff 28.3%,#fdfdff 29.4%,#dadaff 32.0%,#b2b2ff 41.4%,#a5a5ff 51.9%,#cbcbff 62.0%,#fffdfd 67.2%,#ffd8d8 74.7%,#ffb3b3 75.8%,#ff7e7e 77.0%,#ff7373 78.8%,#ff7b7b 81.1%,#ffa5a5 81.8%,#ffeded 82.6%,#f2f2ff 83.0%,#d4d4ff 83.7%,#d2d2ff 86.0%,#f2f2ff 87.1%,#fffbfb 87.5%,#ffa5a5 89.3%,#ff9595 90.4%,#ff9999 96.4%,#ffffff 99.4%,#f6f6ff 99.8%)"></i><i style="height:1px;background:linear-gradient(90deg,#8d8dff 0.2%,#8e8eff 6.6%,#a8a8ff 20.8%,#e7e7ff 27.9%,#fdfdff 29.0%,#dbdbff 31.6%,#b2b2ff 41.0%,#a5a5ff 51.5%,#ccccff 61.6%,#fffdfd 66.9%,#ffd7d7 74.3%,#ffb1b1 75.5%,#ff7d7d 76.6%,#ff7272 78.5%,#ff7a7a 80.7%,#ffa4a4 81.5%,#ffebeb 82.2%,#f3f3ff 82.6%,#d4d4ff 83.3%,#d5d5ff 86.0%,#fdfdff 87.1%,#ff9e9e 89.3%,#ff9494 91.2%,#ff9a9a 96.4%,#fdfdff 99.4%,#f4f4ff 99.8%)"></i><i style="height:1px;background:linear-gradient(90deg,#8d8dff 0.2%,#9191ff 8.4%,#aaaaff 20.8%,#e6e6ff 27.5%,#fcfcff 29.0%,#dbdbff 31.3%,#b2b2ff 41.0%,#a5a5ff 51.1%,#ccccff 61.2%,#ffffff 66.1%,#ffd7d7 74.0%,#ffaeae 75.1%,#ff7b7b 76.2%,#ff7272 78.5%,#ff7979 80.3%,#ffa2a2 81.1%,#ffe9e9 81.8%,#f5f5ff 82.2%,#d4d4ff 83.0%,#d2d2ff 85.6%,#f6f6ff 86.7%,#fff7f7 87.1%,#ffa3a3 89.0%,#ff9393 90.1%,#ff9595 96.1%,#ffc0c0 97.6%,#fff8f8 99.1%,#f1f1ff 99.8%)"></i><i style="height:1px;background:linear-gradient(90deg,#8c8cff 0.2%,#9d9dff 15.5%,#adadff 20.8%,#ececff 27.5%,#fdfdff 28.7%,#dcdcff 30.9%,#b2b2ff 40.6%,#a7a7ff 51.1%,#c9c9ff 60.5%,#ffffff 65.7%,#ffd6d6 73.6%,#ffacac 74.7%,#ff7a7a 75.8%,#ff7171 78.8%,#ff7979 80.0%,#ffa1a1 80.7%,#ffe7e7 81.5%,#f6f6ff 81.8%,#d3d3ff 82.6%,#d0d0ff 85.2%,#f0f0ff 86.3%,#fffdfd 86.7%,#ff9c9c 89.0%,#ff9292 90.8%,#ff9595 96.1%,#ffdfdf 98.3%,#fffafa 99.1%,#eeeeff 99.8%)"></i><i style="height:1px;background:linear-gradient(90deg,#8c8cff 0.2%,#aaaaff 20.0%,#ebebff 27.2%,#fdfdff 28.3%,#dcdcff 30.5%,#b2b2ff 40.3%,#a7a7ff 50.7%,#c9c9ff 60.1%,#ffffff 65.4%,#ffd5d5 73.2%,#ffaaaa 74.3%,#ff7979 75.5%,#ff7171 78.8%,#ff7878 79.6%,#ff9f9f 80.3%,#ffe6e6 81.1%,#f7f7ff 81.5%,#d3d3ff 82.2%,#d3d3ff 85.2%,#fbfbff 86.3%,#ffd1d1 87.5%,#ff9797 89.0%,#ff9696 96.1%,#fffdfd 99.1%,#ececff 99.8%)"></i><i style="height:1px;background:linear-gradient(90deg,#8c8cff 0.2%,#a9a9ff 19.7%,#e9e9ff 26.8%,#fefeff 27.9%,#dbdbff 30.5%,#b3b3ff 39.9%,#a7a7ff 50.4%,#c9c9ff 59.7%,#fffefe 65.0%,#ffd5d5 72.8%,#ffa8a8 74.0%,#ff7878 75.1%,#ff7272 78.8%,#ff8585 79.6%,#ffbfbf 80.3%,#ffe4e4 80.7%,#f9f9ff 81.1%,#d3d3ff 81.8%,#d1d1ff 84.8%,#fff9f9 86.3%,#ff9a9a 88.6%,#ff9090 90.4%,#ff9696 96.1%,#fefeff 99.1%,#e9e9ff 99.8%)"></i><i style="height:1px;background:linear-gradient(90deg,#8c8cff 0.2%,#a9a9ff 19.3%,#e8e8ff 26.4%,#fefeff 27.5%,#dbdbff 30.1%,#b3b3ff 39.5%,#a8a8ff 50.0%,#cacaff 59.4%,#fffefe 64.6%,#ffd4d4 72.5%,#ffa6a6 73.6%,#ff7777 74.7%,#ff7272 78.5%,#ff8484 79.2%,#ffbebe 80.0%,#fbfbff 80.7%,#d3d3ff 81.5%,#cfcfff 84.5%,#efefff 85.6%,#ffffff 86.0%,#ff9f9f 88.2%,#ff9090 89.3%,#ff9292 95.7%,#ffbfbf 97.2%,#fff7f7 98.7%,#fafaff 99.1%,#e5e5ff 99.8%)"></i><i style="height:1px;background:linear-gradient(90deg,#8c8cff 0.2%,#a9a9ff 18.9%,#eeeeff 26.4%,#fdfdff 27.5%,#dcdcff 29.8%,#b3b3ff 39.5%,#a8a8ff 49.6%,#cacaff 59.0%,#fffefe 64.2%,#ffd4d4 72.1%,#ffa4a4 73.2%,#ff7f7f 74.0%,#ff7070 75.5%,#ff7777 78.5%,#ff9c9c 79.2%,#fcfcff 80.3%,#d3d3ff 81.1%,#ceceff 84.1%,#ebebff 85.2%,#fbfbff 85.6%,#ffd2d2 86.7%,#ff9898 88.2%,#ff8f8f 90.8%,#ff9494 95.7%,#fffdfd 98.7%,#dfdfff 99.8%)"></i><i style="height:1px;background:linear-gradient(90deg,#8d8dff 0.2%,#acacff 18.9%,#ededff 26.0%,#fefeff 27.2%,#dcdcff 29.4%,#b4b4ff 39.1%,#a9a9ff 49.3%,#cbcbff 58.6%,#fffefe 63.9%,#ffd3d3 71.7%,#ffa2a2 72.8%,#ff7e7e 73.6%,#ff7070 75.1%,#ff7676 78.1%,#ff9b9b 78.8%,#fdfdff 80.0%,#d4d4ff 80.7%,#ccccff 83.3%,#dadaff 84.5%,#f7f7ff 85.2%,#fff7f7 85.6%,#ff9b9b 87.8%,#ff8f8f 89.3%,#ff9292 95.3%,#ffcdcd 97.2%,#fff7f7 98.3%,#f9f9ff 98.7%,#d7d7ff 99.8%)"></i><i style="height:1px;background:linear-gradient(90deg,#8e8eff 0.2%,#adadff 18.5%,#ebebff 25.7%,#fefeff 26.8%,#dbdbff 29.4%,#b5b5ff 38.8%,#aaaaff 48.9%,#ccccff 58.2%,#fffdfd 63.5%,#ffd2d2 71.3%,#ffa0a0 72.5%,#ff7d7d 73.2%,#ff7070 74.7%,#ff7676 77.7%,#ff9b9b 78.5%,#fefeff 79.6%,#d4d4ff 80.3%,#cbcbff 82.6%,#d8d8ff 84.1%,#fffbfb 85.2%,#ff9d9d 87.5%,#ff8e8e 89.0%,#ff9090 94.9%,#ffbaba 96.4%,#fdfdff 98.3%,#ceceff 99.8%)"></i><i style="height:1px;background:linear-gradient(90deg,#8f8fff 0.2%,#adadff 18.2%,#eaeaff 25.3%,#fefeff 26.4%,#dbdbff 29.0%,#b5b5ff 38.8%,#aaaaff 48.5%,#cdcdff 57.9%,#fffdfd 63.1%,#ffd8d8 70.6%,#ffb3b3 71.7%,#ff7c7c 72.8%,#ff7070 74.3%,#ff7676 77.3%,#ff9b9b 78.1%,#ffffff 79.2%,#d4d4ff 80.0%,#cacaff 81.8%,#d6d6ff 83.7%,#fffefe 84.8%,#ff9595 87.5%,#ff8e8e 93.8%,#ff9c9c 95.3%,#fffcfc 97.9%,#c5c5ff 99.8%)"></i><i style="height:1px;background:linear-gradient(90deg,#9191ff 0.2%,#b0b0ff 18.2%,#e8e8ff 24.9%,#fdfdff 26.4%,#dcdcff 28.7%,#b5b5ff 38.4%,#acacff 48.5%,#ceceff 57.5%,#fffdfd 62.7%,#ffd8d8 70.2%,#ffb1b1 71.3%,#ff7b7b 72.5%,#ff6f6f 74.3%,#ff7676 77.0%,#ff9a9a 77.7%,#fffefe 78.8%,#d4d4ff 79.6%,#cacaff 81.5%,#d3d3ff 83.3%,#fdfdff 84.5%,#ff9797 87.1%,#ff8e8e 89.7%,#ff9191 94.6%,#ffbfbf 96.1%,#fff8f8 97.6%,#f8f8ff 97.9%,#bbbbff 99.8%)"></i><i style="height:1px;background:linear-gradient(90deg,#9393ff 0.2%,#b1b1ff 17.8%,#eeeeff 24.9%,#fefeff 26.0%,#dcdcff 28.3%,#b6b6ff 38.0%,#adadff 48.1%,#ceceff 57.1%,#fffdfd 62.4%,#ffd8d8 69.9%,#ffafaf 71.0%,#ff7a7a 72.1%,#ff6f6f 74.0%,#ff7676 76.6%,#ff9a9a 77.3%,#fffdfd 78.5%,#d4d4ff 79.2%,#c9c9ff 80.7%,#d1d1ff 83.0%,#f9f9ff 84.1%,#ffe4e4 84.8%,#ff9999 86.7%,#ff8e8e 88.6%,#ff9595 94.6%,#fcfcff 97.6%,#b2b2ff 99.8%)"></i><i style="height:1px;background:linear-gradient(90deg,#9494ff 0.2%,#b1b1ff 17.4%,#ececff 24.5%,#fefeff 25.7%,#ddddff 27.9%,#b7b7ff 37.6%,#aeaeff 47.8%,#cfcfff 56.7%,#ffffff 61.6%,#ffd7d7 69.5%,#ffadad 70.6%,#ff7979 71.7%,#ff6f6f 74.0%,#ff7575 76.2%,#ff9999 77.0%,#fffdfd 78.1%,#d5d5ff 78.8%,#c9c9ff 80.3%,#d0d0ff 82.6%,#f6f6ff 83.7%,#fff8f8 84.1%,#ff9b9b 86.3%,#ff8e8e 87.8%,#ff9393 94.2%,#ffe1e1 96.4%,#fffefe 97.2%,#a9a9ff 99.8%)"></i><i style="height:1px;background:linear-gradient(90deg,#9696ff 0.2%,#b2b2ff 17.0%,#ebebff 24.2%,#fefeff 25.3%,#dbdbff 27.9%,#b7b7ff 37.6%,#afafff 47.4%,#d0d0ff 56.4%,#ffffff 61.2%,#ffd7d7 69.1%,#ffabab 70.2%,#ff7878 71.3%,#ff6f6f 74.3%,#ff7575 75.8%,#ff9999 76.6%,#fffcfc 77.7%,#d5d5ff 78.5%,#c9c9ff 80.0%,#ceceff 82.2%,#fffcfc 83.7%,#ff9e9e 86.0%,#ff8e8e 87.1%,#ff9191 93.8%,#ffbfbf 95.3%,#fff9f9 96.8%,#e9e9ff 97.6%,#a0a0ff 99.8%)"></i><i style="height:1px;background:linear-gradient(90deg,#9898ff 0.2%,#b5b5ff 17.0%,#eaeaff 23.8%,#fdfdff 25.3%,#dedeff 27.2%,#b8b8ff 36.9%,#b0b0ff 47.0%,#d1d1ff 56.0%,#fffefe 60.9%,#ffd7d7 68.7%,#ffa9a9 69.9%,#ff7777 71.0%,#ff6f6f 74.7%,#ff7575 75.5%,#ff9898 76.2%,#fffbfb 77.3%,#d5d5ff 78.1%,#c8c8ff 79.6%,#cdcdff 81.8%,#ffffff 83.3%,#ff9696 86.0%,#ff8d8d 89.0%,#ff9494 93.8%,#fff5f5 96.4%,#fbfbff 96.8%,#9999ff 99.8%)"></i><i style="height:1px;background:linear-gradient(90deg,#9999ff 0.2%,#b5b5ff 16.7%,#efefff 23.8%,#fefeff 24.9%,#dcdcff 27.2%,#b8b8ff 36.9%,#b0b0ff 46.6%,#d2d2ff 55.6%,#fffefe 60.5%,#ffd6d6 68.4%,#ffa7a7 69.5%,#ff7676 70.6%,#ff7070 74.7%,#ff8181 75.5%,#ffb7b7 76.2%,#fffafa 77.0%,#d5d5ff 77.7%,#c8c8ff 79.2%,#cbcbff 81.5%,#ececff 82.6%,#fcfcff 83.0%,#ff9898 85.6%,#ff8d8d 87.5%,#ff9292 93.4%,#ffe2e2 95.7%,#ffffff 96.4%,#9999ff 99.4%,#9393ff 99.8%)"></i><i style="height:1px;background:linear-gradient(90deg,#9b9bff 0.2%,#b6b6ff 16.3%,#eeeeff 23.4%,#fefeff 24.5%,#ddddff 26.8%,#b9b9ff 36.5%,#b1b1ff 46.3%,#d2d2ff 55.2%,#fffefe 60.1%,#ffd6d6 68.0%,#ffa5a5 69.1%,#ff7f7f 69.9%,#ff6f6f 71.0%,#ff7575 74.7%,#ff9898 75.5%,#fffafa 76.6%,#d5d5ff 77.3%,#c7c7ff 78.5%,#d0d0ff 81.5%,#f8f8ff 82.6%,#fff6f6 83.0%,#ff9a9a 85.2%,#ff8d8d 86.7%,#ff9090 93.1%,#ffbfbf 94.6%,#fffafa 96.1%,#e8e8ff 96.8%,#9393ff 99.4%,#8f8fff 99.8%)"></i><i style="height:1px;background:linear-gradient(90deg,#9d9dff 0.2%,#b9b9ff 16.3%,#ececff 23.0%,#ffffff 24.2%,#ddddff 26.4%,#babaff 36.1%,#b3b3ff 46.3%,#d3d3ff 54.9%,#fffefe 59.7%,#ffd6d6 67.6%,#ffa4a4 68.7%,#ff7d7d 69.5%,#ff6e6e 70.6%,#ff7474 74.3%,#ff9797 75.1%,#fff9f9 76.2%,#d5d5ff 77.0%,#c7c7ff 78.1%,#ceceff 81.1%,#f5f5ff 82.2%,#fff9f9 82.6%,#ff9c9c 84.8%,#ff8d8d 86.0%,#ff9494 93.1%,#fff6f6 95.7%,#fafaff 96.1%,#9595ff 99.1%,#8b8bff 99.8%)"></i><i style="height:1px;background:linear-gradient(90deg,#9f9fff 0.2%,#babaff 15.9%,#ebebff 22.7%,#fefeff 23.8%,#dcdcff 26.4%,#babaff 36.1%,#b4b4ff 45.9%,#d0d0ff 54.1%,#fffdfd 59.4%,#ffd5d5 67.2%,#ffa2a2 68.4%,#ff7c7c 69.1%,#ff6e6e 70.6%,#ff7474 74.0%,#ff9797 74.7%,#fff8f8 75.8%,#d5d5ff 76.6%,#c6c6ff 77.7%,#ccccff 80.7%,#fffdfd 82.2%,#ff9494 84.8%,#ff8c8c 89.0%,#ff9191 92.7%,#ffd3d3 94.6%,#fefeff 95.7%,#9797ff 98.7%,#8787ff 99.8%)"></i><i style="height:1px;background:linear-gradient(90deg,#a0a0ff 0.2%,#babaff 15.5%,#f1f1ff 22.7%,#fdfdff 23.8%,#dcdcff 26.0%,#bbbbff 35.8%,#b5b5ff 45.5%,#d1d1ff 53.7%,#fffdfd 59.0%,#ffd4d4 66.9%,#ffa0a0 68.0%,#ff7b7b 68.7%,#ff6e6e 70.2%,#ff7474 73.6%,#ff9797 74.3%,#fff7f7 75.5%,#d5d5ff 76.2%,#c6c6ff 77.3%,#cbcbff 80.3%,#fefeff 81.8%,#ff9696 84.5%,#ff8c8c 86.7%,#ff8f8f 92.3%,#ffbfbf 93.8%,#fffbfb 95.3%,#9191ff 98.7%,#8484ff 99.8%)"></i><i style="height:1px;background:linear-gradient(90deg,#a2a2ff 0.2%,#bdbdff 15.5%,#efefff 22.3%,#fefeff 23.4%,#ddddff 25.7%,#bcbcff 35.4%,#b6b6ff 45.1%,#d2d2ff 53.4%,#fffdfd 58.6%,#ffdada 66.1%,#ffc7c7 66.9%,#ff7a7a 68.4%,#ff6e6e 69.9%,#ff7474 73.2%,#ff9696 74.0%,#fff7f7 75.1%,#d6d6ff 75.8%,#c5c5ff 77.0%,#c9c9ff 80.0%,#fbfbff 81.5%,#ffd3d3 82.6%,#ff9898 84.1%,#ff8c8c 85.6%,#ff9393 92.3%,#fff7f7 94.9%,#f9f9ff 95.3%,#9393ff 98.3%,#8080ff 99.8%)"></i><i style="height:1px;background:linear-gradient(90deg,#a4a4ff 0.2%,#bebeff 15.2%,#eeeeff 21.9%,#ffffff 23.0%,#ddddff 25.3%,#bcbcff 35.4%,#b6b6ff 44.8%,#d3d3ff 53.0%,#fffdfd 58.2%,#ffdada 65.7%,#ffb2b2 66.9%,#ff7979 68.0%,#ff6d6d 69.5%,#ff7373 72.8%,#ff9696 73.6%,#fff6f6 74.7%,#d6d6ff 75.5%,#c5c5ff 76.6%,#c8c8ff 79.6%,#e8e8ff 80.7%,#f7f7ff 81.1%,#fff7f7 81.5%,#ff9b9b 83.7%,#ff8c8c 85.2%,#ff9191 91.9%,#ffd3d3 93.8%,#fdfdff 94.9%,#9595ff 97.9%,#7d7dff 99.8%)"></i><i style="height:1px;background:linear-gradient(90deg,#a5a5ff 0.2%,#bebeff 14.8%,#ececff 21.5%,#ffffff 22.7%,#dcdcff 25.3%,#bdbdff 35.0%,#b8b8ff 44.8%,#d4d4ff 52.6%,#fffdfd 57.9%,#ffdada 65.4%,#ffc3c3 66.1%,#ff7878 67.6%,#ff6d6d 69.5%,#ff7373 72.5%,#ff9595 73.2%,#fff5f5 74.3%,#d6d6ff 75.1%,#c5c5ff 76.2%,#ccccff 79.6%,#fffafa 81.1%,#ff9393 83.7%,#ff8c8c 89.3%,#ff8f8f 91.6%,#ffbfbf 93.1%,#fffcfc 94.6%,#9797ff 97.6%,#7a7aff 99.8%)"></i><i style="height:1px;background:linear-gradient(90deg,#a7a7ff 0.2%,#c1c1ff 14.8%,#ebebff 21.2%,#fdfdff 22.7%,#dedeff 24.5%,#bdbdff 34.6%,#b9b9ff 44.4%,#d4d4ff 52.2%,#fffdfd 57.5%,#ffd9d9 65.0%,#ffc2c2 65.7%,#ff7777 67.2%,#ff6d6d 69.5%,#ff7373 72.1%,#ff9595 72.8%,#fff5f5 74.0%,#ececff 74.3%,#cacaff 75.1%,#c6c6ff 78.8%,#e1e1ff 80.0%,#fffefe 80.7%,#ff9595 83.3%,#ff8c8c 85.6%,#ff9393 91.6%,#fff8f8 94.2%,#f8f8ff 94.6%,#9191ff 97.6%,#7676ff 99.8%)"></i><i style="height:1px;background:linear-gradient(90deg,#a9a9ff 0.2%,#c1c1ff 14.4%,#f1f1ff 21.2%,#fefeff 22.3%,#ddddff 24.5%,#bebeff 34.6%,#babaff 44.0%,#d5d5ff 51.9%,#fffefe 56.7%,#ffd9d9 64.6%,#ffc0c0 65.4%,#ff8282 66.5%,#ff6d6d 67.6%,#ff7373 71.7%,#ff9595 72.5%,#fff4f4 73.6%,#ededff 74.0%,#cacaff 74.7%,#c5c5ff 78.5%,#dedeff 79.6%,#fdfdff 80.3%,#ff9797 83.0%,#ff8b8b 84.8%,#ff9090 91.2%,#ffd4d4 93.1%,#fcfcff 94.2%,#9393ff 97.2%,#7373ff 99.8%)"></i><i style="height:1px;background:linear-gradient(90deg,#aaaaff 0.2%,#c2c2ff 14.0%,#efefff 20.8%,#fefeff 21.9%,#ddddff 24.2%,#bebeff 34.3%,#bbbbff 43.6%,#d6d6ff 51.5%,#fffefe 56.4%,#ffd9d9 64.2%,#ffbfbf 65.0%,#ff8080 66.1%,#ff6d6d 67.2%,#ff7373 71.3%,#ff9494 72.1%,#fff3f3 73.2%,#ededff 73.6%,#cacaff 74.3%,#c4c4ff 78.1%,#dbdbff 79.2%,#fafaff 80.0%,#ffe5e5 80.7%,#ff9999 82.6%,#ff8b8b 84.1%,#ff8e8e 90.8%,#ffafaf 91.9%,#fffdfd 93.8%,#9595ff 96.8%,#7070ff 99.8%)"></i><i style="height:1px;background:linear-gradient(90deg,#acacff 0.2%,#c5c5ff 14.0%,#eeeeff 20.4%,#ffffff 21.5%,#dedeff 23.8%,#bfbfff 33.9%,#bbbbff 43.3%,#d7d7ff 51.1%,#fffefe 56.0%,#ffd9d9 63.9%,#ffbdbd 64.6%,#ff7f7f 65.7%,#ff6d6d 66.9%,#ff7272 71.0%,#ff9494 71.7%,#fff2f2 72.8%,#eeeeff 73.2%,#cacaff 74.0%,#c3c3ff 77.7%,#d8d8ff 78.8%,#f6f6ff 79.6%,#fff8f8 80.0%,#ff9292 82.6%,#ff8b8b 90.1%,#ff9c9c 91.2%,#fff9f9 93.4%,#e8e8ff 94.2%,#8f8fff 96.8%,#6d6dff 99.8%)"></i><i style="height:1px;background:linear-gradient(90deg,#aeaeff 0.2%,#c5c5ff 13.7%,#ededff 20.0%,#fdfdff 21.5%,#dedeff 23.4%,#c0c0ff 33.5%,#bcbcff 42.9%,#d7d7ff 50.7%,#fffefe 55.6%,#ffd8d8 63.5%,#ffbcbc 64.2%,#ff7d7d 65.4%,#ff6d6d 66.5%,#ff7272 70.6%,#ff9494 71.3%,#fff1f1 72.5%,#efefff 72.8%,#cacaff 73.6%,#c2c2ff 77.0%,#cbcbff 78.1%,#fffbfb 79.6%,#ff9393 82.2%,#ff8b8b 85.2%,#ff9090 90.4%,#ffc4c4 91.9%,#fff4f4 93.1%,#fbfbff 93.4%,#9191ff 96.4%,#6969ff 99.8%)"></i><i style="height:1px;background:linear-gradient(90deg,#afafff 0.2%,#c8c8ff 13.7%,#f2f2ff 20.0%,#fefeff 21.2%,#ddddff 23.4%,#c0c0ff 33.5%,#bebeff 42.9%,#d8d8ff 50.4%,#fffefe 55.2%,#ffd8d8 63.1%,#ffbaba 63.9%,#ff7c7c 65.0%,#ff6c6c 66.1%,#ff7272 70.2%,#ff9393 71.0%,#fff1f1 72.1%,#f0f0ff 72.5%,#cacaff 73.2%,#c2c2ff 76.2%,#c9c9ff 77.7%,#ffffff 79.2%,#ff9595 81.8%,#ff8b8b 83.7%,#ff8e8e 90.1%,#ffafaf 91.2%,#ffffff 93.1%,#9393ff 96.1%,#6666ff 99.8%)"></i><i style="height:1px;background:linear-gradient(90deg,#b1b1ff 0.2%,#c8c8ff 13.3%,#f1f1ff 19.7%,#fefeff 20.8%,#ddddff 23.0%,#c1c1ff 33.1%,#bfbfff 42.5%,#d9d9ff 50.0%,#fffdfd 54.9%,#ffd7d7 62.7%,#ffa1a1 63.9%,#ff7a7a 64.6%,#ff6c6c 65.7%,#ff7272 69.9%,#ff9393 70.6%,#fff0f0 71.7%,#f0f0ff 72.1%,#cacaff 72.8%,#c1c1ff 75.5%,#c7c7ff 77.3%,#fcfcff 78.8%,#ff9898 81.5%,#ff8a8a 83.0%,#ff9191 90.1%,#fffafa 92.7%,#e7e7ff 93.4%,#8d8dff 96.1%,#6363ff 99.8%)"></i><i style="height:1px;background:linear-gradient(90deg,#b3b3ff 0.2%,#c9c9ff 12.9%,#efefff 19.3%,#ffffff 20.4%,#dedeff 22.7%,#c1c1ff 33.1%,#c0c0ff 42.1%,#dadaff 49.6%,#fffdfd 54.5%,#ffd6d6 62.4%,#ff9f9f 63.5%,#ff7979 64.2%,#ff6c6c 65.7%,#ff7272 69.5%,#ff9393 70.2%,#ffefef 71.3%,#f1f1ff 71.7%,#cacaff 72.5%,#c1c1ff 74.7%,#c6c6ff 77.0%,#f9f9ff 78.5%,#fff6f6 78.8%,#ff9a9a 81.1%,#ff8b8b 82.2%,#ff8f8f 89.7%,#ffc4c4 91.2%,#fff5f5 92.3%,#fafaff 92.7%,#8f8fff 95.7%,#6060ff 99.8%)"></i><i style="height:1px;background:linear-gradient(90deg,#b4b4ff 0.2%,#cbcbff 12.9%,#eeeeff 18.9%,#ffffff 20.0%,#dedeff 22.3%,#c2c2ff 32.8%,#c1c1ff 42.1%,#dadaff 49.3%,#fffdfd 54.1%,#ffdcdc 61.6%,#ffc8c8 62.4%,#ff7878 63.9%,#ff6b6b 65.4%,#ff7171 69.1%,#ff9292 69.9%,#ffeeee 71.0%,#f2f2ff 71.3%,#cacaff 72.1%,#c0c0ff 74.0%,#c4c4ff 76.6%,#f5f5ff 78.1%,#fff9f9 78.5%,#ff9292 81.1%,#ff8a8a 84.8%,#ff8d8d 89.3%,#ffafaf 90.4%,#fefeff 92.3%,#9191ff 95.3%,#5d5dff 99.8%)"></i><i style="height:1px;background:linear-gradient(90deg,#b6b6ff 0.2%,#ccccff 12.5%,#ededff 18.5%,#fdfdff 20.0%,#dfdfff 21.9%,#c3c3ff 32.4%,#c2c2ff 41.8%,#dbdbff 48.9%,#fffdfd 53.7%,#ffdcdc 61.2%,#ffc6c6 62.0%,#ff7777 63.5%,#ff6b6b 65.0%,#ff7171 68.7%,#ff9292 69.5%,#ffeded 70.6%,#f3f3ff 71.0%,#cacaff 71.7%,#c0c0ff 73.6%,#c3c3ff 76.2%,#e3e3ff 77.3%,#fffcfc 78.1%,#ff9494 80.7%,#ff8a8a 82.6%,#ff9191 89.3%,#fffbfb 91.9%,#9393ff 94.9%,#5a5aff 99.8%)"></i><i style="height:1px;background:linear-gradient(90deg,#b8b8ff 0.2%,#ceceff 12.5%,#f2f2ff 18.5%,#fefeff 19.7%,#ddddff 21.9%,#c3c3ff 32.4%,#c3c3ff 41.4%,#dcdcff 48.5%,#fffdfd 53.4%,#ffdcdc 60.9%,#ffc5c5 61.6%,#ff7676 63.1%,#ff6b6b 65.0%,#ff7171 68.4%,#ff9292 69.1%,#ffeded 70.2%,#f3f3ff 70.6%,#cbcbff 71.3%,#bfbfff 72.8%,#c7c7ff 76.2%,#fefeff 77.7%,#ff9696 80.3%,#ff8a8a 81.8%,#ff8e8e 89.0%,#ffc5c5 90.4%,#fff6f6 91.6%,#f8f8ff 91.9%,#8d8dff 94.9%,#5757ff 99.8%)"></i><i style="height:1px;background:linear-gradient(90deg,#b9b9ff 0.2%,#cfcfff 12.2%,#f1f1ff 18.2%,#ffffff 19.3%,#dedeff 21.5%,#c4c4ff 32.0%,#c4c4ff 41.0%,#ddddff 48.1%,#fffcfc 53.0%,#ffdcdc 60.5%,#ffc3c3 61.2%,#ff8282 62.4%,#ff6c6c 63.5%,#ff7171 68.0%,#ff9191 68.7%,#ffecec 69.9%,#f4f4ff 70.2%,#cbcbff 71.0%,#bfbfff 72.5%,#c6c6ff 75.8%,#fbfbff 77.3%,#ffd4d4 78.5%,#ff8f8f 80.3%,#ff8c8c 88.6%,#ffaeae 89.7%,#fdfdff 91.6%,#8f8fff 94.6%,#5454ff 99.8%)"></i><i style="height:1px;background:linear-gradient(90deg,#bbbbff 0.2%,#d1d1ff 12.2%,#efefff 17.8%,#ffffff 18.9%,#dedeff 21.2%,#c4c4ff 32.0%,#c5c5ff 41.0%,#ddddff 47.8%,#fffefe 52.2%,#ffdbdb 60.1%,#ffc2c2 60.9%,#ff8181 62.0%,#ff6b6b 63.1%,#ff7171 67.6%,#ff9191 68.4%,#ffebeb 69.5%,#f5f5ff 69.9%,#cbcbff 70.6%,#bebeff 72.1%,#c4c4ff 75.5%,#f8f8ff 77.0%,#fff7f7 77.3%,#ff9191 80.0%,#ff8989 85.2%,#ff9090 88.6%,#ffecec 90.8%,#fffcfc 91.2%,#9191ff 94.2%,#5151ff 99.8%)"></i><i style="height:1px;background:linear-gradient(90deg,#bcbcff 0.2%,#d2d2ff 11.8%,#eeeeff 17.4%,#fdfdff 18.9%,#dfdfff 20.8%,#c5c5ff 31.6%,#c6c6ff 40.6%,#dedeff 47.4%,#fffefe 51.9%,#ffdbdb 59.7%,#ffc0c0 60.5%,#ff7f7f 61.6%,#ff6b6b 62.7%,#ff7171 67.2%,#ff9191 68.0%,#ffebeb 69.1%,#f5f5ff 69.5%,#cbcbff 70.2%,#bebeff 71.7%,#c3c3ff 75.1%,#fffafa 77.0%,#ff9393 79.6%,#ff8989 81.8%,#ff8e8e 88.2%,#ffc5c5 89.7%,#fff7f7 90.8%,#f7f7ff 91.2%,#8b8bff 94.2%,#4e4eff 99.8%)"></i><i style="height:1px;background:linear-gradient(90deg,#bebeff 0.2%,#d4d4ff 11.8%,#f3f3ff 17.4%,#fefeff 18.5%,#dfdfff 20.4%,#c6c6ff 31.3%,#c7c7ff 40.3%,#dfdfff 47.0%,#fffefe 51.5%,#ffdbdb 59.4%,#ffbebe 60.1%,#ff7d7d 61.2%,#ff6b6b 62.4%,#ff7070 66.9%,#ff9090 67.6%,#ffeaea 68.7%,#f6f6ff 69.1%,#cbcbff 69.9%,#bdbdff 71.3%,#c1c1ff 74.7%,#f1f1ff 76.2%,#fffdfd 76.6%,#ff9595 79.2%,#ff8989 80.7%,#ff8c8c 87.8%,#ffaeae 89.0%,#fcfcff 90.8%,#8d8dff 93.8%,#4b4bff 99.8%)"></i><i style="height:1px;background:linear-gradient(90deg,#c0c0ff 0.2%,#d6d6ff 11.8%,#f2f2ff 17.0%,#fefeff 18.2%,#dedeff 20.4%,#c6c6ff 31.3%,#c9c9ff 40.3%,#dfdfff 46.6%,#fffefe 51.1%,#ffdada 59.0%,#ffbdbd 59.7%,#ff7b7b 60.9%,#ff6b6b 62.0%,#ff7070 66.5%,#ff9090 67.2%,#ffe9e9 68.4%,#f7f7ff 68.7%,#cbcbff 69.5%,#bdbdff 70.6%,#c0c0ff 74.3%,#dedeff 75.5%,#fdfdff 76.2%,#ff9797 78.8%,#ff8989 80.3%,#ff8f8f 87.8%,#ffdcdc 89.7%,#fffdfd 90.4%,#8f8fff 93.4%,#4848ff 99.8%)"></i><i style="height:1px;background:linear-gradient(90deg,#c1c1ff 0.2%,#d6d6ff 11.4%,#f1f1ff 16.7%,#ffffff 17.8%,#dedeff 20.0%,#c7c7ff 30.9%,#c9c9ff 39.9%,#e0e0ff 46.3%,#fffdfd 50.7%,#ffdada 58.6%,#ffbbbb 59.4%,#ff7a7a 60.5%,#ff6a6a 61.6%,#ff7070 66.1%,#ff9090 66.9%,#ffe9e9 68.0%,#f7f7ff 68.4%,#cbcbff 69.1%,#bdbdff 70.2%,#c4c4ff 74.3%,#fafaff 75.8%,#ffe5e5 76.6%,#ff9090 78.8%,#ff8989 86.7%,#ff9696 87.8%,#fff8f8 90.1%,#f6f6ff 90.4%,#9292ff 93.1%,#4747ff 99.4%,#4545ff 99.8%)"></i><i style="height:1px;background:linear-gradient(90deg,#c3c3ff 0.2%,#d8d8ff 11.4%,#efefff 16.3%,#ffffff 17.4%,#dfdfff 19.7%,#c7c7ff 30.9%,#cbcbff 39.9%,#e3e3ff 46.3%,#fffdfd 50.4%,#ffd9d9 58.2%,#ffb9b9 59.0%,#ff7979 60.1%,#ff6a6a 61.2%,#ff7070 65.7%,#ff9090 66.5%,#ffe8e8 67.6%,#f8f8ff 68.0%,#cbcbff 68.7%,#bcbcff 69.9%,#c2c2ff 74.0%,#f7f7ff 75.5%,#fff8f8 75.8%,#ff9191 78.5%,#ff8888 81.1%,#ff8b8b 87.1%,#ffaeae 88.2%,#fff3f3 89.7%,#fbfbff 90.1%,#8b8bff 93.1%,#4242ff 99.8%)"></i><i style="height:1px;background:linear-gradient(90deg,#c5c5ff 0.2%,#dadaff 11.4%,#f4f4ff 16.3%,#fefeff 17.4%,#dfdfff 19.3%,#c8c8ff 30.5%,#d0d0ff 32.4%,#d8d8ff 33.1%,#c5c5ff 34.6%,#dfdfff 45.1%,#fffdfd 50.0%,#ffd8d8 57.9%,#ff9f9f 59.0%,#ff7878 59.7%,#ff6a6a 61.2%,#ff7070 65.4%,#ff8f8f 66.1%,#ffe7e7 67.2%,#f9f9ff 67.6%,#cbcbff 68.4%,#bcbcff 69.5%,#c1c1ff 73.6%,#fffbfb 75.5%,#ff9393 78.1%,#ff8888 80.0%,#ff8f8f 87.1%,#ffdddd 89.0%,#ffffff 89.7%,#8d8dff 92.7%,#3f3fff 99.8%)"></i><i style="height:1px;background:linear-gradient(90deg,#c6c6ff 0.2%,#dcdcff 11.4%,#f3f3ff 15.9%,#fefeff 17.0%,#dedeff 19.3%,#c8c8ff 30.9%,#cfcfff 32.0%,#e7e7ff 32.8%,#e7e7ff 33.1%,#c7c7ff 34.3%,#ddddff 44.4%,#fffdfd 49.6%,#ffdede 57.1%,#ffc9c9 57.9%,#ff7676 59.4%,#ff6969 60.9%,#ff6f6f 65.0%,#ff8f8f 65.7%,#ffe7e7 66.9%,#f9f9ff 67.2%,#cbcbff 68.0%,#bbbbff 69.1%,#bfbfff 73.2%,#f0f0ff 74.7%,#fffefe 75.1%,#ff9595 77.7%,#ff8888 79.2%,#ff8c8c 86.7%,#ffb3b3 87.8%,#fffafa 89.3%,#e5e5ff 90.1%,#9090ff 92.3%,#3c3cff 99.8%)"></i><i style="height:1px;background:linear-gradient(90deg,#c8c8ff 0.2%,#dfdfff 11.8%,#f2f2ff 15.5%,#ffffff 16.7%,#dedeff 18.9%,#c9c9ff 30.5%,#cacaff 31.6%,#f1f1ff 32.8%,#efefff 33.1%,#c8c8ff 34.3%,#ddddff 44.0%,#fffdfd 49.3%,#ffdede 56.7%,#ffc8c8 57.5%,#ff7575 59.0%,#ff6969 60.5%,#ff6f6f 64.6%,#ff8f8f 65.4%,#ffe6e6 66.5%,#fafaff 66.9%,#cbcbff 67.6%,#bbbbff 68.7%,#bebeff 72.8%,#ededff 74.3%,#fcfcff 74.7%,#ff8e8e 77.7%,#ff8888 86.0%,#ff9d9d 87.1%,#fff4f4 89.0%,#f9f9ff 89.3%,#8989ff 92.3%,#3939ff 99.8%)"></i><i style="height:1px;background:linear-gradient(90deg,#c9c9ff 0.2%,#e1e1ff 11.8%,#f1f1ff 15.2%,#ffffff 16.3%,#dfdfff 18.5%,#cacaff 30.1%,#ccccff 31.6%,#f4f4ff 32.8%,#efefff 33.1%,#cfcfff 33.9%,#c9c9ff 36.1%,#e3e3ff 44.4%,#fffdfd 48.9%,#ffdede 56.4%,#ffc6c6 57.1%,#ff7474 58.6%,#ff6969 60.5%,#ff6f6f 64.2%,#ff8e8e 65.0%,#fbfbff 66.5%,#ccccff 67.2%,#babaff 68.4%,#bdbdff 72.5%,#dadaff 73.6%,#f9f9ff 74.3%,#fff6f6 74.7%,#ff9090 77.3%,#ff8888 80.7%,#ff8e8e 86.3%,#ffdddd 88.2%,#fefeff 89.0%,#8b8bff 91.9%,#3636ff 99.8%)"></i><i style="height:1px;background:linear-gradient(90deg,#cbcbff 0.2%,#e4e4ff 12.2%,#f5f5ff 15.2%,#fdfdff 16.3%,#dfdfff 18.2%,#cbcbff 29.8%,#cfcfff 31.6%,#f6f6ff 32.8%,#cdcdff 33.9%,#d5d5ff 41.0%,#fffcfc 48.5%,#ffdede 56.0%,#ffc4c4 56.7%,#ff8181 57.9%,#ff6c6c 58.6%,#ff6f6f 63.9%,#ff8e8e 64.6%,#fcfcff 66.1%,#ccccff 66.9%,#babaff 68.0%,#c1c1ff 72.5%,#f6f6ff 74.0%,#fff9f9 74.3%,#ff9292 77.0%,#ff8787 78.8%,#ff8c8c 86.0%,#ffb3b3 87.1%,#fffbfb 88.6%,#b6b6ff 90.4%,#8585ff 91.9%,#3333ff 99.8%)"></i><i style="height:1px;background:linear-gradient(90deg,#ccccff 0.2%,#e7e7ff 12.5%,#f4f4ff 14.8%,#fefeff 15.9%,#e0e0ff 17.8%,#cbcbff 29.4%,#d2d2ff 31.6%,#f1f1ff 32.4%,#f5f5ff 32.8%,#ccccff 33.9%,#dfdfff 42.9%,#fffcfc 48.1%,#ffdddd 55.6%,#ffc3c3 56.4%,#ff7f7f 57.5%,#ff6969 58.6%,#ff6f6f 63.5%,#ff8e8e 64.2%,#fcfcff 65.7%,#cdcdff 66.5%,#bbbbff 67.2%,#bfbfff 72.1%,#fffcfc 74.0%,#ff9494 76.6%,#ff8787 78.1%,#ff8a8a 85.6%,#ffadad 86.7%,#fff5f5 88.2%,#f8f8ff 88.6%,#9191ff 91.2%,#6565ff 94.6%,#3131ff 99.8%)"></i><i style="height:1px;background:linear-gradient(90deg,#ceceff 0.2%,#eaeaff 13.3%,#ffffff 15.5%,#dedeff 17.8%,#ccccff 30.1%,#d5d5ff 31.6%,#f3f3ff 32.4%,#f4f4ff 32.8%,#ccccff 33.9%,#e3e3ff 42.9%,#fffefe 47.4%,#ffdddd 55.2%,#ffc1c1 56.0%,#ff7d7d 57.1%,#ff6969 58.2%,#ff6f6f 63.1%,#ff8e8e 63.9%,#fdfdff 65.4%,#cdcdff 66.1%,#bbbbff 66.9%,#bebeff 71.7%,#efefff 73.2%,#ffffff 73.6%,#ff9696 76.2%,#ff8787 77.7%,#ff8e8e 85.6%,#ffcccc 87.1%,#fdfdff 88.2%,#8989ff 91.2%,#2e2eff 99.8%)"></i><i style="height:1px;background:linear-gradient(90deg,#d0d0ff 0.2%,#ececff 13.3%,#ffffff 15.2%,#dfdfff 17.4%,#cfcfff 27.2%,#ceceff 31.3%,#f6f6ff 32.4%,#f2f2ff 32.8%,#cdcdff 33.9%,#e3e3ff 42.5%,#fffefe 47.0%,#ffdddd 54.9%,#ffbfbf 55.6%,#ff7b7b 56.7%,#ff6969 57.9%,#ff6e6e 62.7%,#ff8d8d 63.5%,#fefeff 65.0%,#cdcdff 65.7%,#babaff 66.5%,#bcbcff 71.3%,#ececff 72.8%,#fbfbff 73.2%,#ffc5c5 74.7%,#ff8f8f 76.2%,#ff8787 81.1%,#ff8b8b 85.2%,#ffb3b3 86.3%,#fffcfc 87.8%,#8c8cff 90.8%,#2b2bff 99.8%)"></i><i style="height:1px;background:linear-gradient(90deg,#d1d1ff 0.2%,#ededff 13.3%,#fffefe 14.8%,#dfdfff 17.0%,#d0d0ff 26.8%,#d9d9ff 27.9%,#cdcdff 30.1%,#d1d1ff 31.3%,#f7f7ff 32.4%,#d2d2ff 33.5%,#e1e1ff 41.8%,#fffdfd 46.6%,#ffdcdc 54.5%,#ffbebe 55.2%,#ff7979 56.4%,#ff6868 57.5%,#ff6e6e 62.4%,#ff8d8d 63.1%,#ffffff 64.6%,#ceceff 65.4%,#babaff 66.1%,#bbbbff 71.0%,#d9d9ff 72.1%,#f8f8ff 72.8%,#fff7f7 73.2%,#ff9090 75.8%,#ff8787 78.1%,#ff8989 84.8%,#ffadad 86.0%,#fff7f7 87.5%,#f7f7ff 87.8%,#8e8eff 90.4%,#6060ff 94.2%,#2828ff 99.8%)"></i><i style="height:1px;background:linear-gradient(90deg,#d3d3ff 0.2%,#f0f0ff 13.3%,#fefeff 14.8%,#dfdfff 16.7%,#d0d0ff 26.4%,#e6e6ff 27.9%,#cfcfff 29.0%,#d3d3ff 31.3%,#f1f1ff 32.0%,#f7f7ff 32.4%,#d1d1ff 33.5%,#e4e4ff 41.8%,#fffdfd 46.3%,#ffdcdc 54.1%,#ffbcbc 54.9%,#ff7878 56.0%,#ff6868 57.1%,#ff6e6e 62.0%,#ff8d8d 62.7%,#ffffff 64.2%,#ceceff 65.0%,#babaff 65.7%,#babaff 70.6%,#d6d6ff 71.7%,#f5f5ff 72.5%,#fffafa 72.8%,#ff9393 75.5%,#ff8787 77.0%,#ff8d8d 84.8%,#ffcccc 86.3%,#fcfcff 87.5%,#8787ff 90.4%,#2626ff 99.8%)"></i><i style="height:1px;background:linear-gradient(90deg,#d5d5ff 0.2%,#f0f0ff 12.9%,#fefeff 14.4%,#e0e0ff 16.3%,#d1d1ff 26.4%,#eeeeff 27.5%,#ededff 27.9%,#cfcfff 29.0%,#d7d7ff 31.3%,#f4f4ff 32.0%,#f6f6ff 32.4%,#d1d1ff 33.5%,#e5e5ff 41.4%,#fffdfd 45.9%,#ffdbdb 53.7%,#ffb9b9 54.5%,#ff7777 55.6%,#ff6868 56.7%,#ff6e6e 61.6%,#ff8c8c 62.4%,#fffefe 63.9%,#cfcfff 64.6%,#babaff 65.4%,#bdbdff 70.6%,#fffdfd 72.5%,#ff9595 75.1%,#ff8686 76.6%,#ff8a8a 84.5%,#ffb3b3 85.6%,#fffdfd 87.1%,#8989ff 90.1%,#2323ff 99.8%)"></i><i style="height:1px;background:linear-gradient(90deg,#d6d6ff 0.2%,#f3f3ff 12.9%,#ffffff 14.0%,#dfdfff 16.3%,#d2d2ff 26.4%,#f1f1ff 27.5%,#efefff 27.9%,#d4d4ff 28.7%,#d1d1ff 30.9%,#f7f7ff 32.0%,#f5f5ff 32.4%,#d2d2ff 33.5%,#e6e6ff 41.0%,#fffdfd 45.5%,#ffe1e1 53.0%,#ffcccc 53.7%,#ff7676 55.2%,#ff6868 56.7%,#ff6e6e 61.2%,#ff8c8c 62.0%,#fffdfd 63.5%,#cfcfff 64.2%,#b9b9ff 65.0%,#bcbcff 70.2%,#fdfdff 72.1%,#ff8d8d 75.1%,#ff8686 82.2%,#ff8f8f 84.5%,#fff8f8 86.7%,#f5f5ff 87.1%,#8c8cff 89.7%,#5454ff 94.6%,#2121ff 99.8%)"></i><i style="height:1px;background:linear-gradient(90deg,#d8d8ff 0.2%,#f2f2ff 12.5%,#fffefe 13.7%,#dfdfff 15.9%,#d2d2ff 26.4%,#f3f3ff 27.5%,#d1d1ff 29.0%,#d3d3ff 30.9%,#f8f8ff 32.0%,#d3d3ff 33.5%,#e9e9ff 41.0%,#fffdfd 45.1%,#ffe0e0 52.6%,#ffcaca 53.4%,#ff7575 54.9%,#ff6767 56.4%,#ff6d6d 60.9%,#ff8c8c 61.6%,#fffdfd 63.1%,#c1c1ff 64.2%,#b6b6ff 66.1%,#babaff 69.9%,#ebebff 71.3%,#fafaff 71.7%,#ffe5e5 72.5%,#ff8f8f 74.7%,#ff8686 77.3%,#ff8c8c 84.1%,#ffcdcd 85.6%,#fff2f2 86.3%,#fafaff 86.7%,#8585ff 89.7%,#1f1fff 99.8%)"></i><i style="height:1px;background:linear-gradient(90deg,#d9d9ff 0.2%,#f1f1ff 12.2%,#fdfdff 13.7%,#dfdfff 15.5%,#d3d3ff 26.4%,#f4f4ff 27.5%,#d4d4ff 28.7%,#d6d6ff 30.9%,#f9f9ff 32.0%,#d7d7ff 33.1%,#e7e7ff 40.3%,#fffdfd 44.8%,#ffe0e0 52.2%,#ffc9c9 53.0%,#ff7373 54.5%,#ff6767 56.0%,#ff6d6d 60.5%,#ff8c8c 61.2%,#fffcfc 62.7%,#c1c1ff 63.9%,#b6b6ff 65.7%,#b9b9ff 69.5%,#e8e8ff 71.0%,#f7f7ff 71.3%,#fff8f8 71.7%,#ff9191 74.3%,#ff8686 76.2%,#ff8a8a 83.7%,#ffb3b3 84.8%,#ffffff 86.3%,#8787ff 89.3%,#1d1dff 99.8%)"></i><i style="height:1px;background:linear-gradient(90deg,#dbdbff 0.2%,#f1f1ff 11.8%,#fefeff 13.3%,#e0e0ff 15.2%,#d2d2ff 26.0%,#dedeff 26.8%,#f4f4ff 27.5%,#d4d4ff 28.7%,#d8d8ff 30.9%,#f5f5ff 31.6%,#f9f9ff 32.0%,#d7d7ff 33.1%,#e8e8ff 39.9%,#fffcfc 44.4%,#ffe0e0 51.9%,#ffc7c7 52.6%,#ff8181 53.7%,#ff6b6b 54.5%,#ff6d6d 60.1%,#ff8b8b 60.9%,#fffbfb 62.4%,#c1c1ff 63.5%,#b5b5ff 65.0%,#b8b8ff 69.1%,#d5d5ff 70.2%,#fffbfb 71.3%,#ff9393 74.0%,#ff8686 75.5%,#ff8888 83.3%,#ffadad 84.5%,#fff9f9 86.0%,#e3e3ff 86.7%,#8a8aff 89.0%,#4040ff 95.7%,#1c1cff 99.8%)"></i><i style="height:1px;background:linear-gradient(90deg,#dcdcff 0.2%,#f4f4ff 11.8%,#ffffff 12.9%,#dfdfff 15.2%,#d3d3ff 26.0%,#e0e0ff 26.8%,#f4f4ff 27.5%,#d4d4ff 28.7%,#d4d4ff 30.5%,#f7f7ff 31.6%,#f9f9ff 32.0%,#d8d8ff 33.1%,#eaeaff 39.9%,#fffcfc 44.0%,#ffe0e0 51.5%,#ffc5c5 52.2%,#ff7f7f 53.4%,#ff6a6a 54.1%,#ff6d6d 59.7%,#ff8b8b 60.5%,#fffafa 62.0%,#c1c1ff 63.1%,#b5b5ff 64.6%,#bcbcff 69.1%,#fffefe 71.0%,#ff9696 73.6%,#ff8686 74.7%,#ff8c8c 83.3%,#ffcdcd 84.8%,#fff3f3 85.6%,#f9f9ff 86.0%,#8d8dff 88.6%,#6d6dff 90.8%,#1c1cff 99.4%,#1c1cff 99.8%)"></i><i style="height:1px;background:linear-gradient(90deg,#dedeff 0.2%,#f3f3ff 11.4%,#fffefe 12.5%,#dfdfff 14.8%,#d4d4ff 26.0%,#e2e2ff 26.8%,#f4f4ff 27.5%,#d5d5ff 28.7%,#d5d5ff 30.5%,#f9f9ff 31.6%,#ececff 32.4%,#d9d9ff 33.1%,#ebebff 39.5%,#fffcfc 43.6%,#ffe0e0 51.1%,#ffc4c4 51.9%,#ff7d7d 53.0%,#ff6969 53.7%,#ff6d6d 59.4%,#ff8b8b 60.1%,#fffafa 61.6%,#c1c1ff 62.7%,#b4b4ff 64.2%,#babaff 68.7%,#fcfcff 70.6%,#ff8e8e 73.6%,#ff8585 76.6%,#ff8989 83.0%,#ffb3b3 84.1%,#fefeff 85.6%,#8585ff 88.6%,#1b1bff 99.4%,#1b1bff 99.8%)"></i><i style="height:1px;background:linear-gradient(90deg,#e0e0ff 0.2%,#f3f3ff 11.0%,#fdfdff 12.5%,#e0e0ff 14.4%,#d5d5ff 26.0%,#f2f2ff 27.2%,#f3f3ff 27.5%,#d5d5ff 28.7%,#d6d6ff 30.5%,#fafaff 31.6%,#ececff 32.4%,#dadaff 33.1%,#eeeeff 39.5%,#fffcfc 43.3%,#ffdfdf 50.7%,#ffc2c2 51.5%,#ff7b7b 52.6%,#ff6767 53.7%,#ff6c6c 59.0%,#ff8b8b 59.7%,#fff9f9 61.2%,#c1c1ff 62.4%,#b4b4ff 63.9%,#b9b9ff 68.4%,#eaeaff 69.9%,#f9f9ff 70.2%,#ffe6e6 71.0%,#ff9090 73.2%,#ff8585 75.1%,#ff8888 82.6%,#ffadad 83.7%,#fffafa 85.2%,#c2c2ff 86.7%,#8888ff 88.2%,#2222ff 97.9%,#1b1bff 99.8%)"></i><i style="height:1px;background:linear-gradient(90deg,#e1e1ff 0.2%,#f2f2ff 10.7%,#fefeff 12.2%,#e0e0ff 14.0%,#d6d6ff 26.0%,#f4f4ff 27.2%,#f3f3ff 27.5%,#d6d6ff 28.7%,#d8d8ff 30.5%,#fcfcff 31.6%,#ebebff 32.4%,#dbdbff 33.1%,#f0f0ff 39.5%,#fffcfc 42.9%,#ffdfdf 50.4%,#ffc0c0 51.1%,#ff7979 52.2%,#ff6767 53.4%,#ff6c6c 58.6%,#ff8a8a 59.4%,#fff9f9 60.9%,#c1c1ff 62.0%,#b3b3ff 63.5%,#b7b7ff 68.0%,#e7e7ff 69.5%,#f6f6ff 69.9%,#fff9f9 70.2%,#ff9292 72.8%,#ff8585 74.3%,#ff8b8b 82.6%,#ffbaba 83.7%,#fff5f5 84.8%,#f7f7ff 85.2%,#8b8bff 87.8%,#6868ff 90.4%,#1a1aff 99.1%,#1a1aff 99.8%)"></i><i style="height:1px;background:linear-gradient(90deg,#e2e2ff 0.2%,#f6f6ff 10.7%,#ffffff 11.8%,#e1e1ff 13.7%,#d7d7ff 26.0%,#f5f5ff 27.2%,#e4e4ff 27.9%,#d6d6ff 29.0%,#dadaff 30.5%,#fdfdff 31.6%,#dcdcff 33.1%,#f3f3ff 39.5%,#fffcfc 42.5%,#ffdfdf 50.0%,#ffbfbf 50.7%,#ff7979 51.9%,#ff6767 53.0%,#ff6b6b 58.2%,#ff8989 59.0%,#fff8f8 60.5%,#c0c0ff 61.6%,#b2b2ff 62.7%,#b6b6ff 67.6%,#e4e4ff 69.1%,#fffbfb 69.9%,#ff9494 72.5%,#ff8585 74.0%,#ff8a8a 82.2%,#ffb5b5 83.3%,#fff0f0 84.5%,#fbfbff 84.8%,#8383ff 87.8%,#1a1aff 98.7%,#1a1aff 99.8%)"></i><i style="height:1px;background:linear-gradient(90deg,#e3e3ff 0.2%,#f5f5ff 10.3%,#ffffff 11.4%,#e0e0ff 13.7%,#d9d9ff 26.0%,#f6f6ff 27.2%,#d8d8ff 28.7%,#dcdcff 30.5%,#fefeff 31.6%,#dedeff 33.1%,#f9f9ff 40.3%,#fff8f8 42.9%,#ffdede 49.6%,#ffbebe 50.4%,#ff7979 51.5%,#ff6868 52.6%,#ff6b6b 57.9%,#ff8787 58.6%,#fff6f6 60.1%,#ececff 60.5%,#c0c0ff 61.2%,#b1b1ff 62.4%,#b4b4ff 67.2%,#d3d3ff 68.4%,#fffdfd 69.5%,#ff9595 72.1%,#ff8585 73.6%,#ff8a8a 81.8%,#ffb3b3 83.0%,#fdfdff 84.5%,#8484ff 87.5%,#1a1aff 98.3%,#1a1aff 99.8%)"></i><i style="height:1px;background:linear-gradient(90deg,#e4e4ff 0.2%,#f4f4ff 9.9%,#fcfcff 11.4%,#e0e0ff 13.3%,#dadaff 26.0%,#f7f7ff 27.2%,#d9d9ff 28.7%,#dedeff 30.5%,#ffffff 31.6%,#dfdfff 33.1%,#fffdfd 41.4%,#ffdede 49.3%,#ffbebe 50.0%,#ff7c7c 51.1%,#ff6a6a 52.2%,#ff6a6a 57.5%,#ff8383 58.2%,#fff4f4 59.7%,#ededff 60.1%,#bfbfff 60.9%,#afafff 62.0%,#b2b2ff 66.9%,#d1d1ff 68.0%,#fffefe 69.1%,#ff9595 71.7%,#ff8585 73.2%,#ff8b8b 81.5%,#ffb5b5 82.6%,#fff0f0 83.7%,#fbfbff 84.1%,#8e8eff 86.7%,#7070ff 88.6%,#1a1aff 97.9%,#1a1aff 99.8%)"></i><i style="height:1px;background:linear-gradient(90deg,#e5e5ff 0.2%,#f3f3ff 9.6%,#fefeff 11.0%,#e1e1ff 12.9%,#dcdcff 26.0%,#f8f8ff 27.2%,#dcdcff 28.3%,#e1e1ff 30.5%,#fffefe 31.6%,#e1e1ff 33.1%,#fffcfc 41.0%,#ffdfdf 48.9%,#ffbdbd 49.6%,#ff7e7e 50.7%,#ff6b6b 52.2%,#ff6969 57.1%,#ff8080 57.9%,#fff1f1 59.4%,#f0f0ff 59.7%,#c0c0ff 60.5%,#aeaeff 61.2%,#afafff 66.5%,#dfdfff 68.0%,#fffefe 68.7%,#ff9494 71.3%,#ff8686 72.8%,#ff8c8c 81.1%,#ffb7b7 82.2%,#fff3f3 83.3%,#f9f9ff 83.7%,#8c8cff 86.3%,#6b6bff 88.6%,#1a1aff 97.6%,#1a1aff 99.8%)"></i><i style="height:1px;background:linear-gradient(90deg,#e5e5ff 0.2%,#f7f7ff 9.6%,#fefeff 10.7%,#e2e2ff 12.5%,#dfdfff 26.0%,#f9f9ff 27.2%,#dedeff 28.3%,#e3e3ff 30.5%,#fcfcff 31.3%,#fafaff 32.0%,#e4e4ff 32.8%,#fffcfc 40.6%,#ffe5e5 48.1%,#ffd1d1 48.9%,#ff8181 50.4%,#ff6b6b 52.2%,#ff6969 56.7%,#ff7d7d 57.5%,#ffeeee 59.0%,#f2f2ff 59.4%,#c0c0ff 60.1%,#acacff 60.9%,#adadff 66.1%,#dedeff 67.6%,#ffffff 68.4%,#ff9393 71.0%,#ff8686 72.8%,#ff8888 80.3%,#ffa7a7 81.5%,#fff6f6 83.0%,#f6f6ff 83.3%,#8a8aff 86.0%,#6464ff 89.0%,#1a1aff 97.2%,#1a1aff 99.8%)"></i><i style="height:1px;background:linear-gradient(90deg,#e6e6ff 0.2%,#f6f6ff 9.2%,#ffffff 10.3%,#e2e2ff 12.5%,#e1e1ff 26.0%,#f9f9ff 27.2%,#dfdfff 28.3%,#e6e6ff 30.5%,#fdfdff 31.3%,#fafaff 32.0%,#e5e5ff 33.1%,#fffdfd 39.9%,#ffe6e6 47.8%,#ffd1d1 48.5%,#ff8383 50.0%,#ff6a6a 52.2%,#ff6d6d 56.7%,#ff8f8f 57.5%,#ffeaea 58.6%,#f5f5ff 59.0%,#c0c0ff 59.7%,#aaaaff 60.5%,#aaaaff 65.7%,#ddddff 67.2%,#ffffff 68.0%,#ff9292 70.6%,#ff8686 72.5%,#ff8989 80.0%,#ffaaaa 81.1%,#fff9f9 82.6%,#e2e2ff 83.3%,#8888ff 85.6%,#5555ff 90.1%,#1a1aff 96.8%,#1a1aff 99.8%)"></i><i style="height:1px;background:linear-gradient(90deg,#e6e6ff 0.2%,#f5f5ff 8.8%,#fcfcff 10.3%,#e2e2ff 12.2%,#e3e3ff 26.0%,#f8f8ff 26.8%,#efefff 27.5%,#e1e1ff 28.7%,#e8e8ff 30.5%,#ffffff 31.3%,#fafaff 32.0%,#e7e7ff 33.1%,#fffcfc 39.5%,#ffe7e7 47.4%,#ffd1d1 48.1%,#ff8686 49.6%,#ff6969 52.2%,#ff6c6c 56.4%,#ff8a8a 57.1%,#ffe6e6 58.2%,#f8f8ff 58.6%,#c1c1ff 59.4%,#a9a9ff 60.1%,#a8a8ff 65.4%,#ddddff 66.9%,#ffffff 67.6%,#ff9b9b 69.9%,#ff8888 71.0%,#ff8a8a 79.6%,#ffacac 80.7%,#fffcfc 82.2%,#8787ff 85.2%,#3333ff 93.1%,#1a1aff 96.8%,#1a1aff 99.8%)"></i><i style="height:1px;background:linear-gradient(90deg,#e7e7ff 0.2%,#f8f8ff 8.8%,#fdfdff 9.9%,#e3e3ff 11.8%,#e5e5ff 26.0%,#fafaff 26.8%,#f0f0ff 27.5%,#e3e3ff 28.7%,#ebebff 30.5%,#fffefe 31.3%,#fafaff 32.0%,#e9e9ff 33.1%,#fffcfc 39.1%,#ffe8e8 47.0%,#ffd2d2 47.8%,#ff8888 49.3%,#ff6a6a 51.9%,#ff6c6c 56.0%,#ff8686 56.7%,#fbfbff 58.2%,#c1c1ff 59.0%,#a7a7ff 59.7%,#a5a5ff 65.0%,#dcdcff 66.5%,#ffffff 67.2%,#ff9a9a 69.5%,#ff8888 70.6%,#ff8b8b 79.2%,#ffafaf 80.3%,#ffffff 81.8%,#9090ff 84.5%,#7070ff 86.3%,#1a1aff 96.1%,#1a1aff 99.8%)"></i><i style="height:1px;background:linear-gradient(90deg,#e7e7ff 0.2%,#f7f7ff 8.4%,#fefeff 9.6%,#e4e4ff 11.4%,#e7e7ff 26.0%,#fbfbff 26.8%,#f1f1ff 27.5%,#e5e5ff 28.7%,#ededff 30.5%,#fffcfc 31.3%,#fafaff 32.0%,#ebebff 33.1%,#fffdfd 38.4%,#ffebeb 45.9%,#ffe0e0 47.0%,#ff8a8a 48.9%,#ff6a6a 51.5%,#ff6b6b 55.6%,#ff8282 56.4%,#fefeff 57.9%,#c2c2ff 58.6%,#a5a5ff 59.4%,#9e9eff 64.2%,#b9b9ff 65.4%,#ffffff 66.9%,#ff9999 69.1%,#ff8888 70.2%,#ff8b8b 78.8%,#ffb1b1 80.0%,#ffefef 81.1%,#fbfbff 81.5%,#8e8eff 84.1%,#7070ff 86.0%,#1a1aff 95.3%,#1a1aff 99.8%)"></i><i style="height:1px;background:linear-gradient(90deg,#e8e8ff 0.2%,#f6f6ff 8.1%,#ffffff 9.2%,#e4e4ff 11.4%,#e9e9ff 26.0%,#fcfcff 26.8%,#e7e7ff 28.7%,#efefff 30.5%,#fffbfb 31.3%,#fbfbff 32.0%,#eeeeff 33.1%,#fffcfc 38.0%,#ffecec 45.1%,#ffe1e1 46.6%,#ff8d8d 48.5%,#ff6c6c 50.7%,#ff7070 55.6%,#ff9797 56.4%,#fffcfc 57.5%,#c3c3ff 58.2%,#a4a4ff 59.0%,#9c9cff 63.9%,#b7b7ff 65.0%,#ffffff 66.5%,#ff9898 68.7%,#ff8888 70.2%,#ff8c8c 78.5%,#ffb4b4 79.6%,#fff3f3 80.7%,#f8f8ff 81.1%,#8c8cff 83.7%,#6b6bff 86.0%,#1a1aff 94.9%,#1a1aff 99.8%)"></i><i style="height:1px;background:linear-gradient(90deg,#e8e8ff 0.2%,#f6f6ff 7.7%,#fbfbff 9.2%,#e4e4ff 11.0%,#ebebff 26.0%,#fdfdff 26.8%,#e8e8ff 28.7%,#f1f1ff 30.5%,#fcfcff 30.9%,#fbfbff 32.0%,#f1f1ff 33.1%,#fffbfb 37.6%,#ffecec 44.8%,#ffe2e2 46.3%,#ff8f8f 48.1%,#ff6c6c 50.4%,#ff6f6f 55.2%,#ff9292 56.0%,#fff8f8 57.1%,#aeaeff 58.2%,#9d9dff 59.0%,#9999ff 63.5%,#b6b6ff 64.6%,#fffefe 66.1%,#ff9797 68.4%,#ff8989 69.9%,#ff8d8d 78.1%,#ffb7b7 79.2%,#fff6f6 80.3%,#f5f5ff 80.7%,#8a8aff 83.3%,#6060ff 86.7%,#1a1aff 94.6%,#1a1aff 99.8%)"></i><i style="height:1px;background:linear-gradient(90deg,#e9e9ff 0.2%,#f9f9ff 7.7%,#fcfcff 8.8%,#e5e5ff 10.7%,#ededff 26.0%,#ffffff 26.8%,#eaeaff 28.3%,#f3f3ff 30.5%,#fefeff 30.9%,#fffafa 31.6%,#f3f3ff 33.1%,#fffcfc 36.9%,#ffeded 44.4%,#ffe2e2 45.9%,#ff9191 47.8%,#ff6e6e 49.6%,#ff6e6e 54.9%,#ff8d8d 55.6%,#fff4f4 56.7%,#e6e6ff 57.1%,#aeaeff 57.9%,#9b9bff 58.6%,#9696ff 63.1%,#b5b5ff 64.2%,#fffefe 65.7%,#ffa2a2 67.6%,#ff8a8a 68.7%,#ff8e8e 77.7%,#ffbaba 78.8%,#fff9f9 80.0%,#e1e1ff 80.7%,#8888ff 83.0%,#5151ff 87.8%,#1a1aff 94.2%,#1a1aff 99.8%)"></i><i style="height:1px;background:linear-gradient(90deg,#e9e9ff 0.2%,#f8f8ff 7.3%,#fdfdff 8.4%,#e6e6ff 10.3%,#efefff 26.0%,#fffefe 26.8%,#ececff 28.7%,#f5f5ff 30.5%,#fffefe 30.9%,#fff9f9 31.6%,#f7f7ff 33.5%,#fffafa 36.9%,#ffeeee 44.0%,#ffe2e2 45.5%,#ff9393 47.4%,#ff6e6e 49.3%,#ff6e6e 54.5%,#ff8989 55.2%,#ffefef 56.4%,#eaeaff 56.7%,#afafff 57.5%,#9999ff 58.2%,#9393ff 62.7%,#b3b3ff 63.9%,#fffefe 65.4%,#ffa0a0 67.2%,#ff8a8a 68.4%,#ff9090 77.3%,#ffbdbd 78.5%,#fffcfc 79.6%,#8686ff 82.6%,#2626ff 91.9%,#1a1aff 95.3%,#1a1aff 99.8%)"></i><i style="height:1px;background:linear-gradient(90deg,#eaeaff 0.2%,#f7f7ff 6.9%,#fefeff 8.1%,#e6e6ff 10.3%,#f1f1ff 26.0%,#ffffff 27.2%,#eeeeff 28.3%,#f8f8ff 30.5%,#fff8f8 31.6%,#fefeff 32.0%,#fbfbff 33.9%,#fff2f2 39.5%,#ffebeb 44.8%,#ffc3c3 45.9%,#ff8a8a 47.4%,#ff6e6e 48.9%,#ff6d6d 54.1%,#ff8585 54.9%,#ffeaea 56.0%,#eeeeff 56.4%,#b0b0ff 57.1%,#9797ff 57.9%,#9090ff 62.4%,#b2b2ff 63.5%,#fffdfd 65.0%,#ff9f9f 66.9%,#ff8b8b 68.0%,#ff8c8c 76.6%,#ffabab 77.7%,#ffffff 79.2%,#8f8fff 81.8%,#7070ff 83.7%,#1a1aff 93.4%,#1a1aff 99.8%)"></i><i style="height:1px;background:linear-gradient(90deg,#ebebff 0.2%,#f6f6ff 6.6%,#fbfbff 8.1%,#e7e7ff 9.9%,#f3f3ff 26.0%,#fffefe 27.2%,#efefff 28.3%,#fafaff 30.5%,#fff7f7 31.6%,#ffffff 32.0%,#fff0f0 43.3%,#ffecec 44.4%,#ffb2b2 45.9%,#ff7878 47.8%,#ff6c6c 50.0%,#ff7272 54.1%,#ff8080 54.5%,#ffbebe 55.2%,#ffe5e5 55.6%,#f2f2ff 56.0%,#b1b1ff 56.7%,#9696ff 57.5%,#8e8eff 62.0%,#b1b1ff 63.1%,#fffdfd 64.6%,#ff9d9d 66.5%,#ff8b8b 67.6%,#ff8d8d 76.2%,#ffaeae 77.3%,#ffefef 78.5%,#fbfbff 78.8%,#8d8dff 81.5%,#7070ff 83.3%,#1a1aff 93.1%,#1a1aff 99.8%)"></i><i style="height:1px;background:linear-gradient(90deg,#ebebff 0.2%,#fafaff 6.6%,#fcfcff 7.7%,#e7e7ff 9.6%,#f4f4ff 26.0%,#fffefe 27.2%,#f1f1ff 28.7%,#fcfcff 30.5%,#fff3f3 31.3%,#fcfcff 32.4%,#ffefef 42.5%,#ffecec 44.0%,#ffb4b4 45.5%,#ff7777 47.4%,#ff6c6c 49.6%,#ff7171 53.7%,#ff7d7d 54.1%,#ffb8b8 54.9%,#ffe0e0 55.2%,#f6f6ff 55.6%,#b2b2ff 56.4%,#9494ff 57.1%,#8b8bff 61.6%,#afafff 62.7%,#fffcfc 64.2%,#ff9c9c 66.1%,#ff8b8b 67.2%,#ff8d8d 75.8%,#ffb1b1 77.0%,#fff2f2 78.1%,#f8f8ff 78.5%,#8b8bff 81.1%,#6868ff 83.7%,#1a1aff 92.7%,#1a1aff 99.8%)"></i><i style="height:1px;background:linear-gradient(90deg,#ececff 0.2%,#f9f9ff 6.2%,#fdfdff 7.3%,#e8e8ff 9.2%,#e8e8ff 16.7%,#f6f6ff 26.0%,#ffffff 26.4%,#f4f4ff 29.4%,#ffffff 30.5%,#fff2f2 31.3%,#ffffff 33.1%,#fff0f0 42.1%,#ffeded 43.6%,#ffb6b6 45.1%,#ff7777 47.0%,#ff6c6c 49.6%,#ff7070 53.4%,#ff9191 54.1%,#fbfbff 55.2%,#b3b3ff 56.0%,#9393ff 56.7%,#8888ff 61.2%,#aeaeff 62.4%,#fffbfb 63.9%,#ff9a9a 65.7%,#ff8b8b 67.2%,#ff8e8e 75.5%,#ffb4b4 76.6%,#fff5f5 77.7%,#f5f5ff 78.1%,#8989ff 80.7%,#6060ff 84.1%,#1a1aff 91.9%,#1a1aff 99.8%)"></i><i style="height:1px;background:linear-gradient(90deg,#ececff 0.2%,#f8f8ff 5.8%,#fefeff 6.9%,#e8e8ff 9.2%,#e9e9ff 16.3%,#dcdcff 17.4%,#efefff 19.3%,#f8f8ff 26.0%,#fffcfc 27.2%,#f5f5ff 29.0%,#fffdfd 30.5%,#fff1f1 31.3%,#fffefe 32.8%,#fff0f0 41.4%,#ffeeee 43.3%,#ffb7b7 44.8%,#ff7676 46.6%,#ff6d6d 50.4%,#ff6f6f 53.0%,#ff8c8c 53.7%,#fffefe 54.9%,#b5b5ff 55.6%,#9191ff 56.4%,#8585ff 60.9%,#adadff 62.0%,#eeeeff 63.1%,#fffafa 63.5%,#ffa7a7 65.0%,#ff8d8d 66.1%,#ff8f8f 75.1%,#ffb6b6 76.2%,#fff9f9 77.3%,#e1e1ff 78.1%,#8787ff 80.3%,#4a4aff 86.0%,#1a1aff 91.9%,#1a1aff 99.8%)"></i><i style="height:1px;background:linear-gradient(90deg,#ededff 0.2%,#fbfbff 5.8%,#fafaff 6.9%,#e9e9ff 8.8%,#ededff 15.9%,#d5d5ff 17.4%,#f0f0ff 18.9%,#fafaff 26.0%,#fffbfb 27.2%,#f7f7ff 29.0%,#fffafa 30.5%,#fff4f4 31.6%,#fffbfb 33.1%,#fff2f2 41.4%,#ffefef 42.9%,#ffb8b8 44.4%,#ff7e7e 45.9%,#ff6d6d 47.4%,#ff6f6f 52.6%,#ff8787 53.4%,#ffcdcd 54.1%,#fff8f8 54.5%,#b7b7ff 55.2%,#9d9dff 55.6%,#8a8aff 56.4%,#8383ff 60.5%,#acacff 61.6%,#efefff 62.7%,#fff9f9 63.1%,#ffa5a5 64.6%,#ff8d8d 65.7%,#ff9090 74.7%,#ffa6a6 75.5%,#fffcfc 77.0%,#8686ff 80.0%,#2020ff 90.1%,#1a1aff 99.8%)"></i><i style="height:1px;background:linear-gradient(90deg,#ededff 0.2%,#fafaff 5.4%,#fbfbff 6.6%,#e9e9ff 8.4%,#ededff 15.9%,#d1d1ff 17.0%,#d9d9ff 17.8%,#f2f2ff 18.9%,#fbfbff 26.0%,#fffbfb 27.2%,#fafaff 29.4%,#ffffff 30.1%,#ffefef 31.3%,#fffafa 33.1%,#fff3f3 41.0%,#fff0f0 42.5%,#ffbaba 44.0%,#ff7c7c 45.5%,#ff6e6e 47.0%,#ff7474 52.6%,#ff8383 53.0%,#ffc7c7 53.7%,#fff3f3 54.1%,#e0e0ff 54.5%,#9d9dff 55.2%,#8888ff 56.0%,#8080ff 60.1%,#9797ff 60.9%,#efefff 62.4%,#fff8f8 62.7%,#ffa4a4 64.2%,#ff8d8d 65.4%,#ff9191 74.3%,#ffa8a8 75.1%,#ffffff 76.6%,#8f8fff 79.2%,#7070ff 81.1%,#1a1aff 90.8%,#1a1aff 99.8%)"></i><i style="height:1px;background:linear-gradient(90deg,#eeeeff 0.2%,#fafaff 5.1%,#fcfcff 6.2%,#eaeaff 8.1%,#ededff 15.9%,#d0d0ff 17.0%,#dadaff 17.8%,#f4f4ff 18.9%,#fdfdff 26.0%,#fffafa 27.2%,#fffdfd 30.1%,#ffefef 31.3%,#fff8f8 33.1%,#fff3f3 40.6%,#fff1f1 42.1%,#ffbaba 43.6%,#ff7b7b 45.1%,#ff6e6e 47.0%,#ff7373 52.2%,#ff7f7f 52.6%,#ff9999 53.0%,#ffecec 53.7%,#e5e5ff 54.1%,#9e9eff 54.9%,#8686ff 55.6%,#7e7eff 59.7%,#9696ff 60.5%,#f0f0ff 62.0%,#fff6f6 62.4%,#ffa2a2 63.9%,#ff8d8d 65.0%,#ff9191 74.0%,#ffaaaa 74.7%,#ffeeee 75.8%,#fbfbff 76.2%,#8d8dff 78.8%,#6c6cff 81.1%,#1a1aff 90.4%,#1a1aff 99.8%)"></i><i style="height:1px;background:linear-gradient(90deg,#efefff 0.2%,#fcfcff 5.1%,#f3f3ff 6.6%,#ededff 9.2%,#f3f3ff 15.5%,#d0d0ff 17.0%,#dcdcff 17.8%,#f5f5ff 18.9%,#fff9f9 26.4%,#fffcfc 30.1%,#fff1f1 31.3%,#fff5f5 34.3%,#fff4f4 40.3%,#fff2f2 41.8%,#ffcdcd 42.9%,#ff7979 44.8%,#ff6e6e 46.6%,#ff7272 51.9%,#ff7c7c 52.2%,#ff9494 52.6%,#ffe6e6 53.4%,#eaeaff 53.7%,#9f9fff 54.5%,#8484ff 55.2%,#7b7bff 59.4%,#9595ff 60.1%,#f1f1ff 61.6%,#fff5f5 62.0%,#ffa0a0 63.5%,#ff8e8e 64.6%,#ff9393 73.6%,#ffadad 74.3%,#fff1f1 75.5%,#f8f8ff 75.8%,#8b8bff 78.5%,#6868ff 81.1%,#1a1aff 90.1%,#1a1aff 99.8%)"></i><i style="height:1px;background:linear-gradient(90deg,#efefff 0.2%,#fafaff 5.8%,#ebebff 7.7%,#f4f4ff 15.5%,#d1d1ff 17.0%,#dedeff 17.8%,#f7f7ff 18.9%,#fffefe 26.0%,#fff8f8 27.2%,#fffbfb 30.1%,#fff1f1 38.8%,#fff3f3 41.4%,#ffcece 42.5%,#ff8484 44.0%,#ff7070 45.1%,#ff7171 51.5%,#ff7979 51.9%,#ff8e8e 52.2%,#ffdfdf 53.0%,#f0f0ff 53.4%,#a1a1ff 54.1%,#8282ff 54.9%,#7575ff 58.6%,#8383ff 59.4%,#d9d9ff 60.9%,#f2f2ff 61.2%,#fff4f4 61.6%,#ff9e9e 63.1%,#ff8e8e 64.2%,#ff9494 73.2%,#ffb0b0 74.0%,#fff5f5 75.1%,#f5f5ff 75.5%,#8989ff 78.1%,#5d5dff 81.8%,#1a1aff 89.7%,#1a1aff 99.8%)"></i><i style="height:1px;background:linear-gradient(90deg,#f0f0ff 0.2%,#fbfbff 5.4%,#ececff 7.3%,#f5f5ff 15.5%,#d1d1ff 17.0%,#f9f9ff 18.9%,#fffdfd 26.0%,#fff8f8 27.2%,#fffcfc 29.4%,#fff3f3 38.8%,#fff4f4 41.0%,#ffcfcf 42.1%,#ff8181 43.6%,#ff7070 44.8%,#ff7171 51.1%,#ff8989 51.9%,#ffd7d7 52.6%,#f6f6ff 53.0%,#a3a3ff 53.7%,#8c8cff 54.1%,#7b7bff 55.2%,#7777ff 58.6%,#9292ff 59.4%,#f3f3ff 60.9%,#fff2f2 61.2%,#ff9d9d 62.7%,#ff8e8e 64.2%,#ff9090 72.5%,#ffa1a1 73.2%,#fff8f8 74.7%,#e0e0ff 75.5%,#8787ff 77.7%,#4444ff 84.1%,#1a1aff 89.3%,#1a1aff 99.8%)"></i><i style="height:1px;background:linear-gradient(90deg,#f0f0ff 0.2%,#fcfcff 5.1%,#ececff 6.9%,#f6f6ff 15.5%,#d2d2ff 17.0%,#f8f8ff 18.5%,#fffcfc 26.0%,#fff7f7 27.2%,#fff9f9 30.1%,#fff5f5 38.8%,#fff6f6 40.6%,#ffd1d1 41.8%,#ff8080 43.3%,#ff7070 44.8%,#ff7676 51.1%,#ff8484 51.5%,#ffa3a3 51.9%,#fdfdff 52.6%,#a6a6ff 53.4%,#8c8cff 53.7%,#7979ff 54.9%,#6f6fff 57.9%,#7f7fff 58.6%,#f4f4ff 60.5%,#fff1f1 60.9%,#ffabab 62.0%,#ff9393 62.7%,#ff9090 72.1%,#ffa2a2 72.8%,#fffbfb 74.3%,#8686ff 77.3%,#1d1dff 87.8%,#1a1aff 99.8%)"></i><i style="height:1px;background:linear-gradient(90deg,#f1f1ff 0.2%,#fdfdff 4.7%,#ececff 6.6%,#f7f7ff 15.5%,#d5d5ff 16.7%,#d9d9ff 17.4%,#fafaff 18.5%,#fffafa 26.0%,#fff6f6 27.2%,#fff5f5 31.6%,#fff7f7 38.4%,#fff8f8 40.3%,#ffd5d5 41.4%,#ff8282 42.9%,#ff7373 44.4%,#ff7575 50.7%,#ff8080 51.1%,#ff9a9a 51.5%,#fff4f4 52.2%,#d8d8ff 52.6%,#acacff 53.0%,#8f8fff 53.4%,#7b7bff 54.1%,#7070ff 57.9%,#8d8dff 58.6%,#f1f1ff 60.1%,#fff3f3 60.5%,#ffaaaa 61.6%,#ff9393 62.4%,#ff9494 72.1%,#ffb3b3 72.8%,#fffbfb 74.0%,#8585ff 77.0%,#1a1aff 88.2%,#1a1aff 99.8%)"></i><i style="height:1px;background:linear-gradient(90deg,#f1f1ff 0.2%,#fdfdff 4.3%,#ededff 6.6%,#fbfbff 15.2%,#dfdfff 16.3%,#d2d2ff 17.0%,#fcfcff 18.5%,#fff9f9 26.0%,#fff5f5 27.2%,#fff9f9 38.0%,#fffbfb 39.9%,#ffdfdf 41.0%,#ff8f8f 42.5%,#ff7d7d 43.6%,#ff7777 50.4%,#ff7e7e 50.7%,#ff9191 51.1%,#ffe1e1 51.9%,#ededff 52.2%,#9b9bff 53.0%,#8080ff 53.7%,#6c6cff 57.5%,#8585ff 58.2%,#fffdfd 60.1%,#ff9e9e 61.6%,#ff8f8f 62.7%,#ff9090 71.7%,#ffa7a7 72.5%,#fff3f3 73.6%,#f6f6ff 74.0%,#8888ff 76.6%,#4848ff 82.6%,#1a1aff 88.2%,#1a1aff 99.8%)"></i><i style="height:1px;background:linear-gradient(90deg,#f2f2ff 0.2%,#fafaff 4.3%,#ededff 6.2%,#fbfbff 15.2%,#d3d3ff 16.7%,#dcdcff 17.4%,#fcfcff 18.5%,#fff8f8 26.0%,#fff5f5 27.2%,#fffafa 37.3%,#fffcfc 39.9%,#ffdcdc 41.0%,#ff9a9a 42.5%,#ff8a8a 44.0%,#ff8080 50.4%,#ff8b8b 50.7%,#ffcbcb 51.5%,#fff6f6 51.9%,#dcdcff 52.2%,#9999ff 53.0%,#8585ff 53.7%,#6c6cff 57.1%,#7b7bff 57.9%,#f2f2ff 59.7%,#fff4f4 60.1%,#ff9999 61.6%,#ff8f8f 63.1%,#ff9090 71.7%,#ffabab 72.5%,#fff9f9 73.6%,#d0d0ff 74.7%,#8585ff 76.6%,#1a1aff 87.8%,#1a1aff 99.8%)"></i><i style="height:1px;background:linear-gradient(90deg,#f2f2ff 0.2%,#fbfbff 3.9%,#ededff 5.8%,#fafaff 15.2%,#d3d3ff 16.7%,#ddddff 17.4%,#fdfdff 18.5%,#fff8f8 26.0%,#fff5f5 27.2%,#fffdfd 36.9%,#fbfbff 39.5%,#fff5f5 40.3%,#ffa2a2 42.9%,#ff8585 50.0%,#ff9d9d 50.7%,#f9f9ff 51.9%,#b3b3ff 52.6%,#9292ff 53.4%,#6d6dff 57.1%,#8484ff 57.9%,#f8f8ff 59.7%,#ffeeee 60.1%,#ff9898 61.6%,#ff8f8f 63.9%,#ff9191 71.7%,#ffadad 72.5%,#fffafa 73.6%,#8484ff 76.6%,#1a1aff 87.8%,#1a1aff 99.8%)"></i><i style="height:1px;background:linear-gradient(90deg,#f3f3ff 0.2%,#fcfcff 3.6%,#ededff 5.4%,#fafaff 15.2%,#d2d2ff 16.7%,#dfdfff 17.4%,#f9f9ff 18.2%,#fafaff 20.0%,#fffcfc 25.7%,#fff5f5 27.2%,#f9f9ff 37.3%,#f8f8ff 39.5%,#fefeff 39.9%,#ffb1b1 43.3%,#ff8e8e 50.0%,#ffafaf 50.7%,#ffeded 51.5%,#f0f0ff 51.9%,#b5b5ff 52.6%,#9b9bff 53.4%,#6e6eff 56.7%,#7a7aff 57.5%,#fdfdff 59.7%,#ff9797 61.6%,#ff8f8f 64.2%,#ff9191 71.7%,#ffadad 72.5%,#fffbfb 73.6%,#8484ff 76.6%,#1a1aff 87.8%,#1a1aff 99.8%)"></i><i style="height:1px;background:linear-gradient(90deg,#f3f3ff 0.2%,#fcfcff 3.2%,#ededff 5.4%,#fafaff 15.2%,#d2d2ff 16.7%,#e1e1ff 17.4%,#fafaff 18.2%,#ececff 19.7%,#fefeff 20.8%,#fff7f7 26.0%,#fff9f9 27.5%,#fafaff 36.1%,#f0f0ff 39.1%,#fffdfd 40.3%,#ffc4c4 43.3%,#ff9494 49.6%,#ffa8a8 50.4%,#fff7f7 51.5%,#eaeaff 51.9%,#b9b9ff 52.6%,#9090ff 54.5%,#6f6fff 56.7%,#8181ff 57.5%,#fffcfc 59.7%,#ff9696 61.6%,#ff8f8f 65.0%,#ff9191 71.7%,#ffaeae 72.5%,#fffcfc 73.6%,#8484ff 76.6%,#1a1aff 87.8%,#1a1aff 99.8%)"></i><i style="height:1px;background:linear-gradient(90deg,#f3f3ff 0.2%,#f9f9ff 3.2%,#ededff 5.1%,#f9f9ff 15.2%,#d2d2ff 16.7%,#e3e3ff 17.4%,#fafaff 18.2%,#f1f1ff 18.9%,#e6e6ff 19.7%,#fefeff 20.8%,#fff8f8 26.0%,#f9f9ff 35.4%,#e7e7ff 38.8%,#fffefe 40.6%,#ffc4c4 45.1%,#ff9d9d 49.6%,#ffb7b7 50.4%,#fffefe 51.5%,#bebeff 52.6%,#7171ff 56.4%,#7979ff 57.1%,#f2f2ff 59.4%,#fff7f7 59.7%,#ff9696 61.6%,#ff8f8f 66.1%,#ff9191 71.7%,#ffafaf 72.5%,#fffcfc 73.6%,#8383ff 76.6%,#1a1aff 87.8%,#1a1aff 99.8%)"></i><i style="height:1px;background:linear-gradient(90deg,#f4f4ff 0.2%,#fafaff 2.8%,#ededff 4.7%,#f9f9ff 15.2%,#d2d2ff 16.7%,#fbfbff 18.2%,#f0f0ff 18.9%,#e5e5ff 19.7%,#fefeff 20.8%,#fffcfc 30.5%,#f6f6ff 35.0%,#e0e0ff 38.8%,#fffcfc 41.8%,#ffa3a3 49.3%,#ffb3b3 50.0%,#fcfcff 51.5%,#c5c5ff 52.6%,#7171ff 56.4%,#7f7fff 57.1%,#f7f7ff 59.4%,#fff3f3 59.7%,#ff9696 61.6%,#ff8f8f 68.7%,#ff9191 71.7%,#ffafaf 72.5%,#fffdfd 73.6%,#8383ff 76.6%,#1a1aff 87.8%,#1a1aff 99.8%)"></i><i style="height:1px;background:linear-gradient(90deg,#f4f4ff 0.2%,#fafaff 2.4%,#ededff 4.7%,#f9f9ff 15.2%,#d6d6ff 16.3%,#d9d9ff 17.0%,#fbfbff 18.2%,#e4e4ff 19.3%,#f0f0ff 20.0%,#ffffff 21.2%,#f8f8ff 33.9%,#d7d7ff 38.4%,#fffefe 43.3%,#ffabab 49.3%,#ffcfcf 50.4%,#fbfbff 51.5%,#c1c1ff 53.0%,#7575ff 56.0%,#7878ff 56.7%,#fcfcff 59.4%,#ff9595 61.6%,#ff8f8f 71.3%,#ff9c9c 72.1%,#fffdfd 73.6%,#8383ff 76.6%,#1a1aff 87.8%,#1a1aff 99.8%)"></i><i style="height:1px;background:linear-gradient(90deg,#f5f5ff 0.2%,#fbfbff 2.1%,#ededff 4.3%,#f8f8ff 15.2%,#d5d5ff 16.3%,#dadaff 17.0%,#fcfcff 18.2%,#e4e4ff 19.3%,#f0f0ff 20.0%,#ffffff 21.2%,#f7f7ff 33.1%,#ceceff 38.4%,#f2f2ff 43.6%,#ffffff 44.4%,#ffb2b2 48.9%,#ffc9c9 50.0%,#fcfcff 51.5%,#7b7bff 55.6%,#7373ff 56.4%,#b4b4ff 57.9%,#fffefe 59.4%,#ff9595 61.6%,#ff9292 71.7%,#ffb1b1 72.5%,#fffefe 73.6%,#8383ff 76.6%,#1a1aff 87.8%,#1a1aff 99.8%)"></i><i style="height:1px;background:linear-gradient(90deg,#f6f6ff 0.2%,#f8f8ff 2.1%,#ededff 4.3%,#f8f8ff 15.2%,#d4d4ff 16.3%,#dbdbff 17.0%,#fcfcff 18.2%,#e4e4ff 19.3%,#f1f1ff 20.0%,#ffffff 21.2%,#f7f7ff 32.0%,#cfcfff 36.5%,#c5c5ff 38.4%,#dfdfff 43.6%,#fefeff 45.1%,#ffb9b9 48.9%,#ffe8e8 50.7%,#ffffff 51.5%,#7878ff 55.6%,#7777ff 56.4%,#f2f2ff 59.0%,#fffafa 59.4%,#ff9494 61.6%,#ff9292 71.7%,#ffb1b1 72.5%,#fffefe 73.6%,#8383ff 76.6%,#1a1aff 87.5%,#1a1aff 99.8%)"></i><i style="height:1px;background:linear-gradient(90deg,#f8f8ff 0.2%,#f4f4ff 2.1%,#efefff 4.7%,#f8f8ff 15.2%,#d3d3ff 16.3%,#dcdcff 17.0%,#f8f8ff 17.8%,#f9f9ff 18.5%,#e4e4ff 19.3%,#fefeff 20.8%,#f8f8ff 30.5%,#ddddff 34.6%,#babaff 37.6%,#ccccff 43.6%,#fffdfd 45.9%,#ffc0c0 48.5%,#ffcdcd 49.6%,#fffafa 51.5%,#eeeeff 52.2%,#7676ff 55.6%,#7c7cff 56.4%,#f6f6ff 59.0%,#fff6f6 59.4%,#ff9494 61.6%,#ff9292 71.7%,#ffb2b2 72.5%,#ffffff 73.6%,#8282ff 76.6%,#1a1aff 87.5%,#1a1aff 99.8%)"></i><i style="height:1px;background:linear-gradient(90deg,#fafaff 0.2%,#eeeeff 3.9%,#f7f7ff 15.2%,#d3d3ff 16.3%,#ddddff 17.0%,#f9f9ff 17.8%,#f8f8ff 18.5%,#e3e3ff 19.3%,#ffffff 20.8%,#f7f7ff 29.8%,#ddddff 33.9%,#afafff 37.3%,#b8b8ff 43.6%,#fffdfd 46.3%,#ffc5c5 48.5%,#fffdfd 51.9%,#a9a9ff 54.1%,#7575ff 55.6%,#8383ff 56.4%,#fafaff 59.0%,#ffe1e1 59.7%,#ff9494 61.6%,#ff9393 71.7%,#ffb3b3 72.5%,#ffffff 73.6%,#8282ff 76.6%,#1a1aff 87.5%,#1a1aff 99.8%)"></i><i style="height:1px;background:linear-gradient(90deg,#fcfcff 0.2%,#ededff 3.6%,#f7f7ff 15.2%,#d3d3ff 16.3%,#dedeff 17.0%,#fafaff 17.8%,#f8f8ff 18.5%,#e3e3ff 19.3%,#ffffff 20.8%,#f8f8ff 28.7%,#dedeff 33.1%,#a5a5ff 36.9%,#a5a5ff 43.6%,#f7f7ff 46.3%,#fffafa 46.6%,#ffcdcd 48.1%,#ffdada 50.0%,#fcfcff 52.2%,#7979ff 55.2%,#7b7bff 56.0%,#fefeff 59.0%,#ff9e9e 61.2%,#ff8f8f 62.4%,#ff9393 71.7%,#ffb4b4 72.5%,#fefeff 73.6%,#8282ff 76.6%,#1a1aff 87.5%,#1a1aff 99.8%)"></i><i style="height:1px;background:linear-gradient(90deg,#fcfcff 0.2%,#ececff 2.8%,#fcfcff 14.8%,#d3d3ff 16.3%,#dfdfff 17.0%,#fafaff 17.8%,#f8f8ff 18.5%,#e3e3ff 19.3%,#ffffff 20.8%,#f7f7ff 27.9%,#dadaff 32.8%,#b4b4ff 35.0%,#9c9cff 36.5%,#9292ff 43.6%,#e1e1ff 45.9%,#fefeff 46.6%,#ffd1d1 48.1%,#ffe6e6 51.5%,#fffcfc 52.2%,#7777ff 55.2%,#8181ff 56.0%,#fffcfc 59.0%,#ff9d9d 61.2%,#ff8f8f 62.4%,#ff9393 71.7%,#ffb5b5 72.5%,#fdfdff 73.6%,#8282ff 76.6%,#1a1aff 87.5%,#1a1aff 99.8%)"></i><i style="height:1px;background:linear-gradient(90deg,#fafaff 0.2%,#ededff 2.8%,#fcfcff 14.8%,#d3d3ff 16.3%,#dfdfff 17.0%,#fafaff 17.8%,#f7f7ff 18.5%,#e3e3ff 19.3%,#fefeff 20.8%,#f6f6ff 27.5%,#d6d6ff 32.4%,#adadff 34.6%,#9393ff 36.1%,#8282ff 43.6%,#cacaff 45.5%,#fbfbff 46.6%,#ffd4d4 48.1%,#ffe0e0 51.5%,#fff8f8 52.2%,#f2f2ff 52.6%,#7e7eff 54.9%,#7676ff 55.2%,#8888ff 56.0%,#f7f7ff 58.6%,#fff7f7 59.0%,#ff9b9b 61.2%,#ff8f8f 62.7%,#ff9494 71.7%,#ffb8b8 72.5%,#ffeded 73.2%,#fbfbff 73.6%,#8b8bff 76.2%,#6c6cff 78.5%,#1a1aff 87.5%,#1a1aff 99.8%)"></i><i style="height:1px;background:linear-gradient(90deg,#f7f7ff 0.2%,#ededff 2.8%,#fbfbff 14.8%,#d3d3ff 16.3%,#e0e0ff 17.0%,#f9f9ff 17.8%,#f6f6ff 18.5%,#e2e2ff 19.3%,#fefeff 20.8%,#f4f4ff 27.2%,#d8d8ff 31.6%,#b3b3ff 33.9%,#8e8eff 35.4%,#7575ff 43.3%,#9494ff 44.4%,#fafaff 46.6%,#ffdada 47.8%,#ffdede 51.5%,#fff8f8 52.2%,#f2f2ff 52.6%,#7e7eff 54.9%,#7a7aff 55.2%,#afafff 56.7%,#fefeff 58.6%,#ff9797 61.2%,#ff8f8f 64.2%,#ff9191 71.3%,#ffa8a8 72.1%,#fff4f4 73.2%,#f5f5ff 73.6%,#8787ff 76.2%,#2222ff 86.0%,#1a1aff 90.8%,#1a1aff 99.8%)"></i><i style="height:1px;background:linear-gradient(90deg,#f3f3ff 0.2%,#eeeeff 3.6%,#fbfbff 14.8%,#d2d2ff 16.3%,#e0e0ff 17.0%,#f8f8ff 17.8%,#f5f5ff 18.5%,#e1e1ff 19.3%,#fcfcff 20.8%,#f2f2ff 26.8%,#d5d5ff 31.3%,#aeaeff 33.5%,#8888ff 35.0%,#7272ff 43.3%,#a8a8ff 44.8%,#fdfdff 46.6%,#ffdbdb 47.8%,#ffdfdf 51.5%,#fffcfc 52.2%,#8181ff 54.9%,#8a8aff 55.6%,#f8f8ff 58.2%,#fff6f6 58.6%,#ff9b9b 60.9%,#ff8f8f 62.4%,#ff9494 71.3%,#ffb4b4 72.1%,#ffffff 73.2%,#8c8cff 75.8%,#7070ff 77.7%,#1a1aff 87.1%,#1a1aff 99.8%)"></i><i style="height:1px;background:linear-gradient(90deg,#efefff 0.2%,#f9f9ff 14.8%,#d2d2ff 16.3%,#e0e0ff 17.0%,#f7f7ff 17.8%,#f3f3ff 18.5%,#e1e1ff 19.3%,#fbfbff 20.8%,#f0f0ff 26.4%,#d2d2ff 30.9%,#b4b4ff 32.8%,#8282ff 34.6%,#6d6dff 42.9%,#8e8eff 44.0%,#fffefe 46.6%,#ffdbdb 47.8%,#ffe3e3 51.5%,#fefeff 52.2%,#9090ff 54.5%,#8585ff 54.9%,#9393ff 55.6%,#f3f3ff 57.9%,#fffbfb 58.2%,#ff9e9e 60.5%,#ff8f8f 62.0%,#ff9191 71.0%,#ffaaaa 71.7%,#fff6f6 72.8%,#f3f3ff 73.2%,#8585ff 75.8%,#1a1aff 87.1%,#1a1aff 99.8%)"></i><i style="height:1px;background:linear-gradient(90deg,#ececff 0.2%,#f8f8ff 14.8%,#d2d2ff 16.3%,#dfdfff 17.0%,#f6f6ff 17.8%,#f2f2ff 18.5%,#e0e0ff 19.3%,#f9f9ff 20.8%,#ececff 26.4%,#cacaff 30.9%,#a5a5ff 32.8%,#7c7cff 34.3%,#6969ff 42.5%,#8686ff 43.6%,#f3f3ff 46.3%,#fffbfb 46.6%,#ffdcdc 47.8%,#ffe0e0 51.1%,#fafaff 52.2%,#9292ff 54.5%,#8a8aff 54.9%,#9c9cff 55.6%,#fefeff 57.9%,#ff9696 60.5%,#ff8f8f 65.4%,#ff9595 71.0%,#ffb8b8 71.7%,#ffecec 72.5%,#fbfbff 72.8%,#8888ff 75.5%,#4f4fff 80.7%,#1a1aff 87.1%,#1a1aff 99.8%)"></i><i style="height:1px;background:linear-gradient(90deg,#eaeaff 0.2%,#f7f7ff 14.8%,#d1d1ff 16.3%,#f6f6ff 18.2%,#dfdfff 19.3%,#f8f8ff 20.8%,#e8e8ff 26.4%,#c8c8ff 30.5%,#acacff 32.0%,#7c7cff 33.5%,#6464ff 41.8%,#7171ff 42.9%,#f7f7ff 46.3%,#fff8f8 46.6%,#ffdcdc 47.8%,#ffe4e4 51.1%,#fff8f8 51.9%,#f6f6ff 52.2%,#9696ff 54.5%,#9090ff 54.9%,#b5b5ff 56.0%,#f8f8ff 57.5%,#fff5f5 57.9%,#ff9898 60.1%,#ff8f8f 62.4%,#ff9292 70.6%,#ffaeae 71.3%,#fffafa 72.5%,#8b8bff 75.1%,#6c6cff 77.3%,#1a1aff 86.7%,#1a1aff 99.8%)"></i><i style="height:1px;background:linear-gradient(90deg,#eaeaff 0.2%,#f5f5ff 14.8%,#d1d1ff 16.3%,#f4f4ff 18.2%,#dedeff 19.3%,#f6f6ff 20.8%,#e4e4ff 26.4%,#c5c5ff 30.1%,#a8a8ff 31.6%,#7676ff 33.1%,#6161ff 41.4%,#6c6cff 42.5%,#f9f9ff 46.3%,#ffdddd 47.8%,#ffe7e7 51.1%,#fffcfc 51.9%,#9a9aff 54.5%,#9f9fff 55.2%,#f2f2ff 57.1%,#fffbfb 57.5%,#ff9b9b 59.7%,#ff8f8f 61.2%,#ff9191 70.2%,#ffa6a6 71.0%,#fff1f1 72.1%,#f7f7ff 72.5%,#8f8fff 74.7%,#7474ff 76.2%,#1a1aff 86.7%,#1a1aff 99.8%)"></i><i style="height:1px;background:linear-gradient(90deg,#e9e9ff 0.2%,#f3f3ff 14.8%,#d0d0ff 16.3%,#f3f3ff 18.2%,#dedeff 19.3%,#f5f5ff 20.8%,#dadaff 27.5%,#afafff 30.9%,#7070ff 32.8%,#5d5dff 41.4%,#7070ff 42.5%,#fcfcff 46.3%,#ffe1e1 47.4%,#ffeaea 51.1%,#fefeff 51.9%,#9e9eff 54.5%,#a8a8ff 55.2%,#fdfdff 57.1%,#ff9e9e 59.4%,#ff8f8f 60.9%,#ff9494 70.2%,#ffb3b3 71.0%,#ffffff 72.1%,#8686ff 74.7%,#2323ff 84.8%,#1a1aff 89.3%,#1a1aff 99.8%)"></i><i style="height:1px;background:linear-gradient(90deg,#e9e9ff 0.2%,#f2f2ff 14.8%,#d0d0ff 16.3%,#f1f1ff 18.2%,#ddddff 19.3%,#f3f3ff 20.8%,#d1d1ff 27.9%,#ababff 30.5%,#6a6aff 32.4%,#5b5bff 41.4%,#8484ff 42.9%,#fefeff 46.3%,#ffe1e1 47.4%,#ffeeee 51.1%,#fafaff 51.9%,#a3a3ff 54.5%,#b1b1ff 55.2%,#f7f7ff 56.7%,#fff5f5 57.1%,#ffa0a0 59.0%,#ff8f8f 60.1%,#ff9191 69.9%,#ffaaaa 70.6%,#fff5f5 71.7%,#f2f2ff 72.1%,#8a8aff 74.3%,#6c6cff 76.6%,#1a1aff 86.3%,#1a1aff 99.8%)"></i><i style="height:1px;background:linear-gradient(90deg,#e9e9ff 0.2%,#f0f0ff 14.8%,#cfcfff 16.3%,#efefff 17.8%,#dcdcff 19.3%,#f1f1ff 20.8%,#cacaff 27.9%,#a7a7ff 30.1%,#6464ff 32.0%,#5757ff 41.0%,#7c7cff 42.5%,#fffdfd 46.3%,#ffe2e2 47.4%,#fff2f2 51.1%,#fffbfb 51.5%,#dedeff 52.6%,#a9a9ff 54.5%,#bbbbff 55.2%,#fffbfb 56.7%,#ff9898 59.0%,#ff8f8f 61.6%,#ff9595 69.9%,#ffb7b7 70.6%,#ffecec 71.3%,#fbfbff 71.7%,#8e8eff 74.0%,#7474ff 75.5%,#1a1aff 86.0%,#1a1aff 99.8%)"></i><i style="height:1px;background:linear-gradient(90deg,#e9e9ff 0.2%,#eeeeff 14.8%,#cfcfff 16.3%,#eeeeff 17.8%,#dcdcff 19.3%,#efefff 20.8%,#c8c8ff 27.5%,#a3a3ff 29.8%,#5e5eff 31.6%,#5757ff 41.0%,#b5b5ff 44.0%,#fffcfc 46.3%,#ffe2e2 47.4%,#fff5f5 51.1%,#ffffff 51.5%,#b2b2ff 54.1%,#b5b5ff 54.9%,#fcfcff 56.4%,#ff9a9a 58.6%,#ff8f8f 60.1%,#ff9292 69.5%,#ffaeae 70.2%,#fffafa 71.3%,#8585ff 74.0%,#1a1aff 85.6%,#1a1aff 99.8%)"></i><i style="height:1px;background:linear-gradient(90deg,#e8e8ff 0.2%,#ececff 14.8%,#ceceff 16.3%,#ececff 17.8%,#dbdbff 19.3%,#ededff 20.8%,#c0c0ff 27.5%,#9f9fff 29.4%,#6060ff 30.9%,#5252ff 32.4%,#5353ff 40.6%,#9494ff 42.9%,#f8f8ff 45.9%,#fffafa 46.3%,#ffe3e3 47.4%,#fff9f9 51.1%,#fcfcff 51.5%,#b6b6ff 54.1%,#bebeff 54.9%,#f5f5ff 56.0%,#fff6f6 56.4%,#ff9d9d 58.2%,#ff8f8f 59.7%,#ff9191 69.1%,#ffa5a5 69.9%,#fff0f0 71.0%,#f6f6ff 71.3%,#8888ff 73.6%,#6565ff 76.6%,#1a1aff 85.6%,#1a1aff 99.8%)"></i><i style="height:1px;background:linear-gradient(90deg,#e8e8ff 0.2%,#ededff 14.4%,#ceceff 16.3%,#ebebff 17.8%,#dbdbff 19.3%,#eaeaff 20.8%,#bdbdff 27.2%,#9b9bff 29.0%,#5a5aff 30.5%,#4d4dff 32.0%,#4e4eff 40.3%,#8080ff 42.1%,#fafaff 45.9%,#ffe4e4 47.4%,#f9f9ff 51.5%,#bbbbff 54.1%,#c7c7ff 54.9%,#fffefe 56.0%,#ffa1a1 57.9%,#ff8f8f 59.0%,#ff9393 69.1%,#ffb2b2 69.9%,#ffffff 71.0%,#8c8cff 73.2%,#7474ff 74.7%,#1a1aff 85.6%,#1a1aff 99.8%)"></i><i style="height:1px;background:linear-gradient(90deg,#e8e8ff 0.2%,#ebebff 14.4%,#cdcdff 16.3%,#e9e9ff 17.8%,#dadaff 19.3%,#e6e6ff 20.8%,#bbbbff 26.8%,#9797ff 28.7%,#5454ff 30.1%,#4747ff 31.6%,#4f4fff 40.3%,#fcfcff 45.9%,#ffe5e5 47.4%,#ffffff 51.1%,#c0c0ff 54.1%,#d1d1ff 54.9%,#f8f8ff 55.6%,#fff2f2 56.0%,#ffa4a4 57.5%,#ff8f8f 58.6%,#ff9191 68.7%,#ffa9a9 69.5%,#fff5f5 70.6%,#f1f1ff 71.0%,#9191ff 72.8%,#7575ff 74.3%,#1a1aff 85.2%,#1a1aff 99.8%)"></i><i style="height:1px;background:linear-gradient(90deg,#e7e7ff 0.2%,#e9e9ff 14.4%,#cdcdff 16.3%,#e8e8ff 17.8%,#d9d9ff 19.3%,#e2e2ff 20.8%,#b8b8ff 26.4%,#9393ff 28.3%,#4e4eff 29.8%,#4242ff 31.3%,#4a4aff 39.9%,#fdfdff 45.9%,#ffe7e7 47.0%,#fcfcff 51.1%,#c6c6ff 54.1%,#dbdbff 54.9%,#fffafa 55.6%,#ff9a9a 57.5%,#ff8f8f 59.0%,#ff9595 68.7%,#ffb7b7 69.5%,#ffebeb 70.2%,#fafaff 70.6%,#9595ff 72.5%,#7979ff 73.6%,#1a1aff 85.2%,#1a1aff 99.8%)"></i><i style="height:1px;background:linear-gradient(90deg,#e7e7ff 0.2%,#e8e8ff 14.4%,#ccccff 16.3%,#e7e7ff 17.8%,#d8d8ff 19.3%,#dedeff 20.8%,#b6b6ff 26.0%,#9d9dff 27.5%,#4848ff 29.4%,#3d3dff 30.9%,#4646ff 39.5%,#babaff 43.6%,#ffffff 45.9%,#ffe8e8 47.0%,#ffffff 50.7%,#ccccff 54.1%,#e5e5ff 54.9%,#fafaff 55.2%,#ffc3c3 56.4%,#ff9494 57.5%,#ff9292 68.4%,#ffacac 69.1%,#fff9f9 70.2%,#d8d8ff 71.0%,#8b8bff 72.5%,#7070ff 74.3%,#1a1aff 85.2%,#1a1aff 99.8%)"></i><i style="height:1px;background:linear-gradient(90deg,#e6e6ff 0.2%,#e6e6ff 14.4%,#ccccff 16.3%,#e6e6ff 17.8%,#d7d7ff 19.3%,#d9d9ff 21.2%,#b5b5ff 25.7%,#9393ff 27.5%,#4545ff 29.0%,#3939ff 30.5%,#4646ff 39.5%,#fffefe 45.9%,#ffe8e8 47.0%,#fdfdff 50.7%,#d0d0ff 54.1%,#fffbfb 55.2%,#ffa5a5 56.7%,#ff9191 57.5%,#ff9494 68.4%,#ffb5b5 69.1%,#ffebeb 69.9%,#fafaff 70.2%,#9393ff 72.1%,#7979ff 73.2%,#1a1aff 84.8%,#1a1aff 99.8%)"></i></div>
<div class="cb" style="left:328.5px;top:293.9px;width:17.8px;height:214.1px;background:linear-gradient(180deg,#ff0000 0%,#ffffff 50%,#0000ff 100%)"></div>
<div class="hm" style="left:433px;top:294px;width:265px;height:214px"><i style="height:1px;background:linear-gradient(90deg,#2525ff 0.2%,#3232ff 58.3%,#3838ff 99.8%)"></i><i style="height:1px;background:linear-gradient(90deg,#2626ff 0.2%,#3232ff 58.3%,#3838ff 99.8%)"></i><i style="height:1px;background:linear-gradient(90deg,#2626ff 0.2%,#3232ff 57.9%,#3939ff 99.8%)"></i><i style="height:1px;background:linear-gradient(90deg,#2626ff 0.2%,#3232ff 57.5%,#3939ff 99.8%)"></i><i style="height:1px;background:linear-gradient(90deg,#2626ff 0.2%,#3232ff 57.2%,#3939ff 99.8%)"></i><i style="height:1px;background:linear-gradient(90deg,#2626ff 0.2%,#3333ff 57.2%,#3939ff 99.8%)"></i><i style="height:1px;background:linear-gradient(90deg,#2626ff 0.2%,#3333ff 56.8%,#3a3aff 99.8%)"></i><i style="height:1px;background:linear-gradient(90deg,#2626ff 0.2%,#3333ff 56.4%,#3a3aff 99.8%)"></i><i style="height:1px;background:linear-gradient(90deg,#2626ff 0.2%,#3333ff 56.0%,#3a3aff 99.8%)"></i><i style="height:1px;background:linear-gradient(90deg,#2626ff 0.2%,#3333ff 55.7%,#3b3bff 99.8%)"></i><i style="height:1px;background:linear-gradient(90deg,#2727ff 0.2%,#3333ff 55.3%,#3b3bff 99.8%)"></i><i style="height:1px;background:linear-gradient(90deg,#2727ff 0.2%,#3333ff 54.9%,#3b3bff 99.8%)"></i><i style="height:1px;background:linear-gradient(90deg,#2727ff 0.2%,#3434ff 54.9%,#3c3cff 99.8%)"></i><i style="height:1px;background:linear-gradient(90deg,#2727ff 0.2%,#3434ff 54.5%,#3c3cff 99.8%)"></i><i style="height:1px;background:linear-gradient(90deg,#2727ff 0.2%,#3434ff 54.2%,#3d3dff 99.8%)"></i><i style="height:1px;background:linear-gradient(90deg,#2727ff 0.2%,#3434ff 53.8%,#3d3dff 97.9%,#3d3dff 99.8%)"></i><i style="height:1px;background:linear-gradient(90deg,#2727ff 0.2%,#3434ff 53.4%,#3d3dff 91.1%,#3d3dff 99.8%)"></i><i style="height:1px;background:linear-gradient(90deg,#2727ff 0.2%,#3434ff 53.0%,#3d3dff 86.6%,#3e3eff 99.8%)"></i><i style="height:1px;background:linear-gradient(90deg,#2828ff 0.2%,#3535ff 53.0%,#3e3eff 99.8%)"></i><i style="height:1px;background:linear-gradient(90deg,#2828ff 0.2%,#3535ff 52.6%,#3e3eff 97.2%,#3e3eff 99.8%)"></i><i style="height:1px;background:linear-gradient(90deg,#2828ff 0.2%,#3535ff 52.3%,#3e3eff 89.2%,#3f3fff 99.8%)"></i><i style="height:1px;background:linear-gradient(90deg,#2828ff 0.2%,#3535ff 51.9%,#3e3eff 84.7%,#3f3fff 99.8%)"></i><i style="height:1px;background:linear-gradient(90deg,#2828ff 0.2%,#3535ff 51.5%,#3e3eff 81.3%,#4040ff 99.8%)"></i><i style="height:1px;background:linear-gradient(90deg,#2828ff 0.2%,#3535ff 51.1%,#3e3eff 78.3%,#4040ff 99.8%)"></i><i style="height:1px;background:linear-gradient(90deg,#2828ff 0.2%,#3636ff 51.1%,#3f3fff 87.7%,#4040ff 99.8%)"></i><i style="height:1px;background:linear-gradient(90deg,#2929ff 0.2%,#3636ff 50.8%,#3f3fff 83.2%,#4141ff 99.8%)"></i><i style="height:1px;background:linear-gradient(90deg,#2929ff 0.2%,#3636ff 50.4%,#3f3fff 79.8%,#4141ff 99.8%)"></i><i style="height:1px;background:linear-gradient(90deg,#2929ff 0.2%,#3535ff 50.0%,#3f3fff 76.8%,#4141ff 99.8%)"></i><i style="height:1px;background:linear-gradient(90deg,#2929ff 0.2%,#3535ff 49.6%,#4040ff 74.5%,#4141ff 99.8%)"></i><i style="height:1px;background:linear-gradient(90deg,#2929ff 0.2%,#3535ff 49.2%,#4040ff 72.3%,#4242ff 99.8%)"></i><i style="height:1px;background:linear-gradient(90deg,#2929ff 0.2%,#3636ff 49.2%,#4040ff 78.3%,#4242ff 99.8%)"></i><i style="height:1px;background:linear-gradient(90deg,#2929ff 0.2%,#3636ff 48.9%,#4141ff 75.3%,#4242ff 99.8%)"></i><i style="height:1px;background:linear-gradient(90deg,#2929ff 0.2%,#3636ff 48.5%,#4141ff 73.0%,#4242ff 99.8%)"></i><i style="height:1px;background:linear-gradient(90deg,#2a2aff 0.2%,#3636ff 48.1%,#4141ff 70.8%,#4242ff 99.8%)"></i><i style="height:1px;background:linear-gradient(90deg,#2a2aff 0.2%,#3636ff 47.7%,#4141ff 69.2%,#4242ff 99.8%)"></i><i style="height:1px;background:linear-gradient(90deg,#2a2aff 0.2%,#3737ff 47.7%,#4242ff 74.2%,#4242ff 99.8%)"></i><i style="height:1px;background:linear-gradient(90deg,#2a2aff 0.2%,#3737ff 47.4%,#4242ff 71.5%,#4242ff 99.8%)"></i><i style="height:1px;background:linear-gradient(90deg,#2a2aff 0.2%,#3737ff 47.0%,#4242ff 69.2%,#4242ff 99.8%)"></i><i style="height:1px;background:linear-gradient(90deg,#2a2aff 0.2%,#3737ff 46.6%,#4242ff 67.7%,#4242ff 99.8%)"></i><i style="height:1px;background:linear-gradient(90deg,#2a2aff 0.2%,#3737ff 46.2%,#4242ff 66.2%,#4242ff 99.8%)"></i><i style="height:1px;background:linear-gradient(90deg,#2a2aff 0.2%,#3838ff 46.2%,#4343ff 70.4%,#4242ff 99.8%)"></i><i style="height:1px;background:linear-gradient(90deg,#2b2bff 0.2%,#3838ff 45.8%,#4343ff 68.1%,#4242ff 99.8%)"></i><i style="height:1px;background:linear-gradient(90deg,#2b2bff 0.2%,#3838ff 45.5%,#4343ff 66.2%,#4343ff 99.8%)"></i><i style="height:1px;background:linear-gradient(90deg,#2b2bff 0.2%,#3737ff 45.1%,#4343ff 64.7%,#4444ff 99.8%)"></i><i style="height:1px;background:linear-gradient(90deg,#2b2bff 0.2%,#3737ff 44.7%,#4343ff 63.2%,#4545ff 99.8%)"></i><i style="height:1px;background:linear-gradient(90deg,#2b2bff 0.2%,#3939ff 44.7%,#4444ff 66.6%,#4646ff 99.8%)"></i><i style="height:1px;background:linear-gradient(90deg,#2b2bff 0.2%,#3939ff 44.3%,#4444ff 65.1%,#4747ff 99.8%)"></i><i style="height:1px;background:linear-gradient(90deg,#2b2bff 0.2%,#3838ff 44.0%,#4444ff 63.2%,#4848ff 99.8%)"></i><i style="height:1px;background:linear-gradient(90deg,#2c2cff 0.2%,#3838ff 43.6%,#4444ff 61.7%,#4949ff 99.8%)"></i><i style="height:1px;background:linear-gradient(90deg,#2c2cff 0.2%,#3838ff 43.2%,#4545ff 60.6%,#4a4aff 99.4%,#4b4bff 99.8%)"></i><i style="height:1px;background:linear-gradient(90deg,#2c2cff 0.2%,#3939ff 43.2%,#4545ff 63.6%,#4a4aff 98.7%,#4c4cff 99.8%)"></i><i style="height:1px;background:linear-gradient(90deg,#2c2cff 0.2%,#3939ff 42.8%,#4545ff 62.1%,#4a4aff 98.3%,#4e4eff 99.8%)"></i><i style="height:1px;background:linear-gradient(90deg,#2c2cff 0.2%,#3939ff 42.5%,#4646ff 60.6%,#4a4aff 97.9%,#4f4fff 99.8%)"></i><i style="height:1px;background:linear-gradient(90deg,#2c2cff 0.2%,#3939ff 42.1%,#4646ff 59.1%,#4b4bff 97.5%,#5151ff 99.8%)"></i><i style="height:1px;background:linear-gradient(90deg,#2c2cff 0.2%,#3a3aff 42.1%,#4646ff 62.5%,#4b4bff 97.2%,#5353ff 99.8%)"></i><i style="height:1px;background:linear-gradient(90deg,#2c2cff 0.2%,#3a3aff 41.7%,#4646ff 60.6%,#4b4bff 96.8%,#5555ff 99.8%)"></i><i style="height:1px;background:linear-gradient(90deg,#2d2dff 0.2%,#3a3aff 41.3%,#4747ff 59.1%,#4545ff 92.6%,#5656ff 99.8%)"></i><i style="height:1px;background:linear-gradient(90deg,#2d2dff 0.2%,#3a3aff 40.9%,#4747ff 57.5%,#4646ff 91.9%,#5858ff 99.8%)"></i><i style="height:1px;background:linear-gradient(90deg,#2d2dff 0.2%,#3a3aff 40.6%,#4747ff 55.3%,#4646ff 91.1%,#5a5aff 99.8%)"></i><i style="height:1px;background:linear-gradient(90deg,#2d2dff 0.2%,#3b3bff 40.6%,#4848ff 59.4%,#4747ff 90.8%,#5b5bff 99.8%)"></i><i style="height:1px;background:linear-gradient(90deg,#2d2dff 0.2%,#3b3bff 40.2%,#4848ff 57.9%,#4747ff 90.4%,#5b5bff 99.8%)"></i><i style="height:1px;background:linear-gradient(90deg,#2d2dff 0.2%,#3b3bff 39.8%,#4848ff 55.7%,#4747ff 89.6%,#5858ff 97.5%,#5b5bff 99.8%)"></i><i style="height:1px;background:linear-gradient(90deg,#2d2dff 0.2%,#3a3aff 39.4%,#4848ff 53.4%,#4848ff 89.2%,#5757ff 96.8%,#5b5bff 99.8%)"></i><i style="height:1px;background:linear-gradient(90deg,#2e2eff 0.2%,#3a3aff 39.1%,#4848ff 51.5%,#4848ff 88.5%,#5353ff 95.3%,#5a5aff 99.8%)"></i><i style="height:1px;background:linear-gradient(90deg,#2e2eff 0.2%,#3c3cff 39.1%,#4949ff 56.8%,#4949ff 88.1%,#5353ff 94.9%,#5959ff 99.8%)"></i><i style="height:1px;background:linear-gradient(90deg,#2e2eff 0.2%,#3c3cff 38.7%,#4949ff 54.2%,#4949ff 87.7%,#5454ff 94.5%,#5858ff 99.4%,#5757ff 99.8%)"></i><i style="height:1px;background:linear-gradient(90deg,#2e2eff 0.2%,#3b3bff 38.3%,#4949ff 51.9%,#4a4aff 87.0%,#5151ff 93.4%,#5959ff 98.7%,#5656ff 99.8%)"></i><i style="height:1px;background:linear-gradient(90deg,#2e2eff 0.2%,#3b3bff 37.9%,#4949ff 50.0%,#4a4aff 86.6%,#5252ff 93.0%,#5a5aff 97.9%,#5454ff 99.8%)"></i><i style="height:1px;background:linear-gradient(90deg,#2e2eff 0.2%,#3d3dff 37.9%,#4a4aff 55.7%,#4a4aff 86.2%,#5252ff 92.6%,#5b5bff 97.5%,#5252ff 99.8%)"></i><i style="height:1px;background:linear-gradient(90deg,#2e2eff 0.2%,#3c3cff 37.5%,#4a4aff 52.6%,#4a4aff 85.8%,#5252ff 92.3%,#5b5bff 97.2%,#5151ff 99.8%)"></i><i style="height:1px;background:linear-gradient(90deg,#2f2fff 0.2%,#3c3cff 37.2%,#4a4aff 50.4%,#4b4bff 85.1%,#5050ff 91.1%,#5b5bff 96.8%,#4f4fff 99.8%)"></i><i style="height:1px;background:linear-gradient(90deg,#2f2fff 0.2%,#3c3cff 36.8%,#4a4aff 48.5%,#4b4bff 84.7%,#5050ff 90.8%,#5c5cff 96.0%,#4e4eff 99.8%)"></i><i style="height:1px;background:linear-gradient(90deg,#2f2fff 0.2%,#3c3cff 36.4%,#4a4aff 47.0%,#4b4bff 84.3%,#5050ff 90.4%,#5c5cff 95.7%,#4e4eff 99.8%)"></i><i style="height:1px;background:linear-gradient(90deg,#2f2fff 0.2%,#3d3dff 36.4%,#4b4bff 51.5%,#4c4cff 84.0%,#5151ff 90.0%,#5c5cff 95.3%,#4e4eff 99.8%)"></i><i style="height:1px;background:linear-gradient(90deg,#2f2fff 0.2%,#3d3dff 36.0%,#4b4bff 48.9%,#4d4dff 83.2%,#5050ff 89.2%,#5d5dff 94.9%,#4e4eff 99.8%)"></i><i style="height:1px;background:linear-gradient(90deg,#2f2fff 0.2%,#3d3dff 35.7%,#4b4bff 47.0%,#4d4dff 82.8%,#5050ff 88.9%,#5d5dff 94.5%,#4f4fff 99.8%)"></i><i style="height:1px;background:linear-gradient(90deg,#2f2fff 0.2%,#3d3dff 35.3%,#4b4bff 45.5%,#4d4dff 82.5%,#5050ff 88.5%,#5d5dff 94.2%,#5050ff 99.8%)"></i><i style="height:1px;background:linear-gradient(90deg,#2f2fff 0.2%,#3c3cff 34.9%,#4b4bff 44.3%,#4d4dff 82.1%,#5151ff 88.1%,#5d5dff 93.8%,#5050ff 99.1%,#5252ff 99.8%)"></i><i style="height:1px;background:linear-gradient(90deg,#3030ff 0.2%,#3e3eff 34.9%,#4c4cff 47.4%,#4e4eff 81.3%,#5050ff 87.4%,#5e5eff 93.0%,#5151ff 98.7%,#5353ff 99.8%)"></i><i style="height:1px;background:linear-gradient(90deg,#3030ff 0.2%,#3e3eff 34.5%,#4c4cff 45.5%,#4e4eff 80.9%,#5050ff 87.0%,#5e5eff 92.6%,#5151ff 98.3%,#5454ff 99.8%)"></i><i style="height:1px;background:linear-gradient(90deg,#3030ff 0.2%,#3d3dff 34.2%,#4c4cff 44.0%,#4f4fff 80.6%,#5050ff 86.6%,#5f5fff 92.3%,#5151ff 97.9%,#5656ff 99.8%)"></i><i style="height:1px;background:linear-gradient(90deg,#3030ff 0.2%,#3d3dff 33.8%,#4c4cff 42.8%,#4f4fff 80.2%,#4f4fff 85.8%,#5f5fff 91.9%,#5151ff 97.2%,#5757ff 99.8%)"></i><i style="height:1px;background:linear-gradient(90deg,#3030ff 0.2%,#3d3dff 33.4%,#4c4cff 41.7%,#5050ff 79.4%,#4f4fff 85.5%,#5f5fff 91.5%,#5151ff 96.8%,#5858ff 99.8%)"></i><i style="height:1px;background:linear-gradient(90deg,#3030ff 0.2%,#3f3fff 33.4%,#4d4dff 44.0%,#5050ff 79.1%,#5050ff 85.1%,#5f5fff 91.1%,#5151ff 96.4%,#5959ff 99.8%)"></i><i style="height:1px;background:linear-gradient(90deg,#3131ff 0.2%,#3e3eff 33.0%,#4d4dff 42.5%,#5050ff 78.7%,#5050ff 84.7%,#5f5fff 90.8%,#5151ff 96.0%,#5959ff 99.8%)"></i><i style="height:1px;background:linear-gradient(90deg,#3131ff 0.2%,#3e3eff 32.6%,#4d4dff 41.3%,#5151ff 78.3%,#5151ff 84.3%,#5f5fff 90.4%,#5252ff 95.7%,#5959ff 99.8%)"></i><i style="height:1px;background:linear-gradient(90deg,#3131ff 0.2%,#3e3eff 32.3%,#4d4dff 40.2%,#5252ff 77.9%,#5252ff 84.0%,#5f5fff 90.0%,#5252ff 95.3%,#5858ff 99.8%)"></i><i style="height:1px;background:linear-gradient(90deg,#3232ff 0.2%,#3e3eff 31.9%,#4d4dff 39.4%,#5353ff 77.5%,#5454ff 84.0%,#5f5fff 89.6%,#5353ff 94.9%,#5757ff 99.8%)"></i><i style="height:1px;background:linear-gradient(90deg,#3232ff 0.2%,#4040ff 31.9%,#4f4fff 40.9%,#5353ff 77.5%,#5858ff 84.3%,#5d5dff 89.6%,#5353ff 94.5%,#5656ff 99.8%)"></i><i style="height:1px;background:linear-gradient(90deg,#3333ff 0.2%,#3f3fff 31.5%,#4f4fff 39.8%,#5454ff 77.2%,#5b5bff 84.7%,#5b5bff 89.6%,#5454ff 94.2%,#5757ff 99.1%,#5555ff 99.8%)"></i><i style="height:1px;background:linear-gradient(90deg,#3333ff 0.2%,#3f3fff 31.1%,#4f4fff 38.7%,#5555ff 76.8%,#5c5cff 88.9%,#5454ff 93.8%,#5959ff 98.3%,#5353ff 99.8%)"></i><i style="height:1px;background:linear-gradient(90deg,#3434ff 0.2%,#3f3fff 30.8%,#5050ff 37.9%,#5656ff 76.8%,#5c5cff 88.5%,#5555ff 93.4%,#5959ff 97.9%,#5252ff 99.8%)"></i><i style="height:1px;background:linear-gradient(90deg,#3434ff 0.2%,#3f3fff 30.4%,#5050ff 37.2%,#5757ff 76.4%,#5c5cff 88.1%,#5555ff 93.0%,#5a5aff 97.5%,#5050ff 99.8%)"></i><i style="height:1px;background:linear-gradient(90deg,#3535ff 0.2%,#4141ff 30.4%,#5252ff 38.7%,#5c5cff 87.7%,#5656ff 92.6%,#5a5aff 97.2%,#4f4fff 99.8%)"></i><i style="height:1px;background:linear-gradient(90deg,#3535ff 0.2%,#4141ff 30.0%,#5252ff 37.5%,#5b5bff 87.4%,#5555ff 91.9%,#5d5dff 96.4%,#4d4dff 99.8%)"></i><i style="height:1px;background:linear-gradient(90deg,#3636ff 0.2%,#4040ff 29.6%,#5252ff 36.8%,#5c5cff 86.6%,#5656ff 91.5%,#5d5dff 96.0%,#4d4dff 99.8%)"></i><i style="height:1px;background:linear-gradient(90deg,#3636ff 0.2%,#4040ff 29.2%,#5252ff 35.7%,#5e5eff 85.5%,#5555ff 90.8%,#5e5eff 95.7%,#4c4cff 99.8%)"></i><i style="height:1px;background:linear-gradient(90deg,#3737ff 0.2%,#4040ff 28.9%,#5353ff 35.3%,#5f5fff 84.7%,#5555ff 90.4%,#6060ff 94.9%,#4c4cff 99.8%)"></i><i style="height:1px;background:linear-gradient(90deg,#3737ff 0.2%,#4242ff 28.9%,#5555ff 36.4%,#5f5fff 84.0%,#5656ff 90.0%,#6161ff 94.5%,#4c4cff 99.8%)"></i><i style="height:1px;background:linear-gradient(90deg,#3838ff 0.2%,#4242ff 28.5%,#5555ff 35.3%,#6060ff 82.8%,#5656ff 89.6%,#6161ff 94.2%,#4c4cff 99.8%)"></i><i style="height:1px;background:linear-gradient(90deg,#3838ff 0.2%,#4242ff 28.1%,#5555ff 34.5%,#6262ff 80.9%,#5757ff 89.2%,#6262ff 93.8%,#4d4dff 99.4%,#4d4dff 99.8%)"></i><i style="height:1px;background:linear-gradient(90deg,#3939ff 0.2%,#4141ff 27.7%,#5555ff 33.8%,#6464ff 79.8%,#5656ff 88.5%,#6262ff 93.4%,#4d4dff 99.1%,#4d4dff 99.8%)"></i><i style="height:1px;background:linear-gradient(90deg,#3939ff 0.2%,#4141ff 27.4%,#5555ff 33.4%,#6666ff 79.1%,#5656ff 88.1%,#6464ff 92.6%,#4d4dff 98.7%,#4d4dff 99.8%)"></i><i style="height:1px;background:linear-gradient(90deg,#3a3aff 0.2%,#4343ff 27.4%,#5757ff 34.2%,#6868ff 77.9%,#5656ff 87.4%,#6565ff 92.3%,#4d4dff 98.3%,#4e4eff 99.8%)"></i><i style="height:1px;background:linear-gradient(90deg,#3b3bff 0.2%,#4343ff 27.0%,#5757ff 33.4%,#6a6aff 77.2%,#5656ff 87.0%,#6666ff 91.9%,#4e4eff 97.5%,#4e4eff 99.8%)"></i><i style="height:1px;background:linear-gradient(90deg,#3b3bff 0.2%,#4343ff 26.6%,#5757ff 32.6%,#6f6fff 73.4%,#5656ff 86.6%,#6666ff 91.5%,#4e4eff 97.2%,#4e4eff 99.8%)"></i><i style="height:1px;background:linear-gradient(90deg,#3c3cff 0.2%,#4343ff 26.2%,#5757ff 31.9%,#7070ff 72.6%,#5b5bff 81.7%,#5858ff 86.6%,#6767ff 91.1%,#4e4eff 96.8%,#4e4eff 99.8%)"></i><i style="height:1px;background:linear-gradient(90deg,#3c3cff 0.2%,#4242ff 25.8%,#5858ff 31.5%,#7070ff 71.9%,#6969ff 77.2%,#5656ff 85.5%,#6969ff 90.4%,#4e4eff 96.4%,#4f4fff 99.8%)"></i><i style="height:1px;background:linear-gradient(90deg,#3d3dff 0.2%,#4545ff 25.8%,#5959ff 31.9%,#7272ff 71.5%,#6c6cff 76.4%,#5555ff 84.7%,#6a6aff 90.0%,#4f4fff 96.0%,#4f4fff 99.8%)"></i><i style="height:1px;background:linear-gradient(90deg,#3d3dff 0.2%,#4444ff 25.5%,#5959ff 31.1%,#7272ff 70.8%,#7171ff 74.9%,#5555ff 84.0%,#6a6aff 89.6%,#4f4fff 95.7%,#4f4fff 99.8%)"></i><i style="height:1px;background:linear-gradient(90deg,#3e3eff 0.2%,#4444ff 25.1%,#5a5aff 30.8%,#7474ff 70.4%,#7373ff 74.5%,#5555ff 82.8%,#6b6bff 89.2%,#4f4fff 94.9%,#4f4fff 99.8%)"></i><i style="height:1px;background:linear-gradient(90deg,#3e3eff 0.2%,#4444ff 24.7%,#5959ff 30.0%,#7676ff 70.0%,#7575ff 73.8%,#5555ff 82.1%,#6c6cff 88.9%,#4f4fff 94.5%,#4f4fff 99.8%)"></i><i style="height:1px;background:linear-gradient(90deg,#3f3fff 0.2%,#4343ff 24.3%,#5a5aff 29.6%,#7676ff 69.2%,#7878ff 73.0%,#5656ff 80.9%,#6161ff 85.1%,#6c6cff 88.5%,#5050ff 94.2%,#4f4fff 99.8%)"></i><i style="height:1px;background:linear-gradient(90deg,#3f3fff 0.2%,#4646ff 24.3%,#5c5cff 30.0%,#7878ff 68.9%,#7c7cff 72.3%,#5757ff 80.2%,#5f5fff 84.3%,#6d6dff 88.1%,#5050ff 93.8%,#4f4fff 99.8%)"></i><i style="height:1px;background:linear-gradient(90deg,#4040ff 0.2%,#4545ff 24.0%,#5c5cff 29.6%,#7a7aff 68.5%,#7d7dff 71.9%,#5757ff 79.4%,#6060ff 84.0%,#6d6dff 87.7%,#5050ff 93.4%,#4f4fff 99.8%)"></i><i style="height:1px;background:linear-gradient(90deg,#4141ff 0.2%,#4545ff 23.6%,#5c5cff 28.9%,#7979ff 67.7%,#8080ff 71.1%,#5858ff 78.7%,#5e5eff 83.2%,#6f6fff 87.0%,#5050ff 93.0%,#4f4fff 99.8%)"></i><i style="height:1px;background:linear-gradient(90deg,#4141ff 0.2%,#4545ff 23.2%,#5c5cff 28.5%,#7b7bff 67.4%,#8282ff 70.8%,#5757ff 78.3%,#5e5eff 82.8%,#7070ff 86.6%,#5151ff 92.6%,#4f4fff 99.8%)"></i><i style="height:1px;background:linear-gradient(90deg,#4242ff 0.2%,#4747ff 23.2%,#5d5dff 28.5%,#7c7cff 67.0%,#8585ff 70.0%,#5858ff 77.5%,#5d5dff 82.1%,#7171ff 86.2%,#5151ff 91.9%,#4f4fff 99.8%)"></i><i style="height:1px;background:linear-gradient(90deg,#4242ff 0.2%,#4646ff 22.5%,#5c5cff 27.4%,#7e7eff 66.6%,#8787ff 69.6%,#5757ff 77.2%,#5d5dff 81.7%,#7171ff 85.8%,#5151ff 91.5%,#4f4fff 99.8%)"></i><i style="height:1px;background:linear-gradient(90deg,#4343ff 0.2%,#4646ff 19.8%,#4646ff 21.7%,#5d5dff 25.8%,#7e7eff 65.8%,#8a8aff 68.9%,#5757ff 76.8%,#5e5eff 81.3%,#7272ff 85.5%,#5151ff 91.1%,#4f4fff 99.8%)"></i><i style="height:1px;background:linear-gradient(90deg,#4343ff 0.2%,#4747ff 18.3%,#5151ff 19.4%,#4242ff 20.9%,#5757ff 22.5%,#5959ff 24.3%,#6666ff 25.5%,#6060ff 27.7%,#7f7fff 65.5%,#8b8bff 68.5%,#5858ff 76.0%,#5e5eff 80.9%,#7373ff 85.1%,#5252ff 90.8%,#4f4fff 99.8%)"></i><i style="height:1px;background:linear-gradient(90deg,#4444ff 0.2%,#4949ff 18.3%,#5858ff 19.1%,#4343ff 20.6%,#5353ff 21.7%,#5e5eff 22.5%,#5858ff 24.0%,#6b6bff 25.5%,#5f5fff 27.0%,#8181ff 65.1%,#8d8dff 68.1%,#5757ff 75.7%,#5f5fff 80.6%,#7474ff 84.3%,#5252ff 90.4%,#4f4fff 99.8%)"></i><i style="height:1px;background:linear-gradient(90deg,#4444ff 0.2%,#4c4cff 18.3%,#5b5bff 19.1%,#4343ff 20.6%,#6262ff 22.1%,#5a5aff 24.0%,#6f6fff 25.1%,#6060ff 27.0%,#8383ff 64.7%,#8f8fff 67.7%,#5858ff 74.9%,#5d5dff 79.8%,#7575ff 84.0%,#5252ff 90.0%,#4f4fff 99.8%)"></i><i style="height:1px;background:linear-gradient(90deg,#4545ff 0.2%,#4747ff 17.9%,#5c5cff 19.1%,#4545ff 20.6%,#6565ff 22.1%,#5959ff 23.6%,#7171ff 25.1%,#6262ff 27.0%,#8282ff 64.0%,#9292ff 67.0%,#5757ff 74.5%,#5e5eff 79.4%,#7676ff 83.6%,#5252ff 89.6%,#5050ff 99.8%)"></i><i style="height:1px;background:linear-gradient(90deg,#4545ff 0.2%,#4848ff 17.9%,#5c5cff 19.1%,#4646ff 20.2%,#5656ff 21.3%,#6767ff 22.1%,#5b5bff 23.6%,#7171ff 25.1%,#6262ff 26.6%,#8383ff 63.6%,#9393ff 66.6%,#5757ff 74.2%,#5e5eff 79.1%,#7777ff 83.2%,#5353ff 89.2%,#5151ff 99.8%)"></i><i style="height:1px;background:linear-gradient(90deg,#4646ff 0.2%,#4a4aff 17.9%,#5b5bff 19.1%,#4646ff 20.2%,#5b5bff 21.3%,#6969ff 22.1%,#5d5dff 23.6%,#7272ff 25.1%,#6363ff 26.6%,#8585ff 63.2%,#9595ff 66.2%,#5757ff 73.8%,#5f5fff 78.7%,#7777ff 82.8%,#5353ff 88.5%,#5353ff 99.8%)"></i><i style="height:1px;background:linear-gradient(90deg,#4747ff 0.2%,#4b4bff 17.9%,#5c5cff 18.7%,#4848ff 20.2%,#6969ff 21.7%,#5e5eff 23.6%,#7171ff 25.1%,#6565ff 26.6%,#8484ff 62.5%,#9797ff 65.8%,#5757ff 73.0%,#5d5dff 77.9%,#7878ff 82.5%,#5353ff 88.1%,#5454ff 99.8%)"></i><i style="height:1px;background:linear-gradient(90deg,#4747ff 0.2%,#4747ff 17.5%,#5d5dff 18.7%,#4a4aff 20.2%,#6b6bff 21.7%,#5e5eff 23.2%,#7474ff 24.7%,#6666ff 26.6%,#8686ff 62.1%,#9999ff 65.5%,#5757ff 72.6%,#5e5eff 77.5%,#7979ff 81.7%,#5454ff 87.7%,#5454ff 99.1%,#5656ff 99.8%)"></i><i style="height:1px;background:linear-gradient(90deg,#4848ff 0.2%,#4848ff 17.5%,#5d5dff 18.7%,#4b4bff 19.8%,#5d5dff 20.9%,#6d6dff 21.7%,#5f5fff 23.2%,#7575ff 24.7%,#6868ff 26.6%,#8787ff 61.7%,#9c9cff 64.7%,#6c6cff 69.6%,#5656ff 73.0%,#6161ff 77.5%,#7a7aff 81.3%,#5454ff 87.4%,#5555ff 98.7%,#5858ff 99.8%)"></i><i style="height:1px;background:linear-gradient(90deg,#4848ff 0.2%,#4949ff 17.5%,#5d5dff 18.7%,#4d4dff 19.8%,#6e6eff 21.7%,#6161ff 23.2%,#7575ff 24.7%,#6868ff 26.2%,#8989ff 61.3%,#9d9dff 64.3%,#6c6cff 69.2%,#5555ff 72.6%,#6262ff 77.2%,#7b7bff 80.9%,#5454ff 87.0%,#5353ff 97.9%,#5a5aff 99.8%)"></i><i style="height:1px;background:linear-gradient(90deg,#4949ff 0.2%,#4b4bff 17.5%,#5d5dff 18.3%,#5050ff 19.8%,#6e6eff 21.3%,#6363ff 23.2%,#7575ff 24.7%,#6969ff 26.2%,#8888ff 60.6%,#9f9fff 64.0%,#6c6cff 68.9%,#5555ff 72.3%,#6262ff 76.8%,#7c7cff 80.6%,#5454ff 86.6%,#5454ff 97.5%,#5d5dff 99.8%)"></i><i style="height:1px;background:linear-gradient(90deg,#4949ff 0.2%,#4747ff 17.2%,#5f5fff 18.3%,#5353ff 19.8%,#7070ff 21.3%,#6262ff 22.8%,#7777ff 24.3%,#6b6bff 26.2%,#8a8aff 60.2%,#a1a1ff 63.6%,#6c6cff 68.5%,#5555ff 71.5%,#6060ff 76.0%,#7c7cff 80.2%,#5454ff 86.2%,#5454ff 97.2%,#5f5fff 99.8%)"></i><i style="height:1px;background:linear-gradient(90deg,#4a4aff 0.2%,#4848ff 17.2%,#6060ff 18.3%,#5656ff 19.8%,#7171ff 21.3%,#6464ff 22.8%,#7878ff 24.3%,#6c6cff 26.2%,#8b8bff 59.8%,#a3a3ff 63.2%,#7171ff 67.7%,#5656ff 70.8%,#6161ff 75.7%,#7d7dff 79.8%,#5555ff 85.8%,#5454ff 96.8%,#6161ff 99.8%)"></i><i style="height:1px;background:linear-gradient(90deg,#4b4bff 0.2%,#4a4aff 17.2%,#6161ff 18.3%,#5656ff 19.4%,#7272ff 21.3%,#6565ff 22.8%,#7979ff 24.3%,#6d6dff 26.2%,#8b8bff 59.1%,#a4a4ff 62.8%,#7171ff 67.4%,#5555ff 70.4%,#6161ff 75.3%,#7e7eff 79.4%,#5555ff 85.1%,#5353ff 96.0%,#6464ff 99.8%)"></i><i style="height:1px;background:linear-gradient(90deg,#4b4bff 0.2%,#4747ff 16.8%,#6262ff 18.3%,#5959ff 19.4%,#7272ff 21.3%,#6767ff 22.8%,#7979ff 24.3%,#6e6eff 25.8%,#8c8cff 58.7%,#a7a7ff 62.1%,#8686ff 65.5%,#5858ff 69.2%,#5c5cff 74.2%,#7f7fff 78.7%,#5555ff 85.1%,#5353ff 95.7%,#6666ff 99.8%)"></i><i style="height:1px;background:linear-gradient(90deg,#4c4cff 0.2%,#4949ff 16.8%,#6464ff 17.9%,#5b5bff 19.4%,#7474ff 20.9%,#6767ff 22.5%,#7979ff 24.3%,#7070ff 26.2%,#8d8dff 58.3%,#a9a9ff 61.7%,#8787ff 65.1%,#5757ff 68.9%,#5c5cff 73.8%,#7f7fff 78.3%,#5656ff 84.3%,#5353ff 95.3%,#6969ff 99.8%)"></i><i style="height:1px;background:linear-gradient(90deg,#4d4dff 0.2%,#4b4bff 16.8%,#6666ff 17.9%,#5e5eff 19.4%,#7575ff 20.9%,#6868ff 22.5%,#7c7cff 24.0%,#7171ff 25.8%,#8f8fff 57.9%,#aaaaff 61.3%,#8787ff 64.7%,#5757ff 68.5%,#5c5cff 73.4%,#8080ff 77.9%,#5555ff 84.0%,#5353ff 94.9%,#6c6cff 99.8%)"></i><i style="height:1px;background:linear-gradient(90deg,#4d4dff 0.2%,#4848ff 16.4%,#6868ff 17.9%,#6060ff 19.4%,#7676ff 20.9%,#6a6aff 22.5%,#7d7dff 24.0%,#7272ff 25.8%,#9090ff 57.5%,#ababff 60.9%,#8888ff 64.3%,#5656ff 68.1%,#5c5cff 73.0%,#8080ff 77.5%,#5555ff 83.6%,#5353ff 94.5%,#6e6eff 99.8%)"></i><i style="height:1px;background:linear-gradient(90deg,#4e4eff 0.2%,#4b4bff 16.4%,#6a6aff 17.9%,#6262ff 19.4%,#7777ff 20.9%,#6c6cff 22.5%,#7e7eff 24.0%,#7373ff 25.8%,#8f8fff 56.8%,#acacff 60.6%,#8888ff 64.0%,#5656ff 67.7%,#5c5cff 72.6%,#8181ff 77.2%,#5555ff 83.2%,#5454ff 94.2%,#7070ff 99.8%)"></i><i style="height:1px;background:linear-gradient(90deg,#4f4fff 0.2%,#4a4aff 16.0%,#6b6bff 17.5%,#6565ff 19.4%,#7878ff 20.6%,#6e6eff 22.5%,#7e7eff 24.0%,#7575ff 25.8%,#9090ff 56.4%,#adadff 60.2%,#8888ff 63.6%,#5555ff 67.4%,#5c5cff 72.3%,#8181ff 76.8%,#5555ff 82.5%,#5252ff 93.4%,#7272ff 99.8%)"></i><i style="height:1px;background:linear-gradient(90deg,#5050ff 0.2%,#4c4cff 16.0%,#6e6eff 17.5%,#6464ff 19.1%,#7a7aff 20.6%,#6e6eff 22.1%,#8181ff 23.6%,#7676ff 25.8%,#9292ff 56.0%,#aeaeff 59.8%,#8888ff 63.2%,#5555ff 67.0%,#5c5cff 71.9%,#8181ff 76.4%,#5555ff 82.1%,#5353ff 93.0%,#7373ff 99.8%)"></i><i style="height:1px;background:linear-gradient(90deg,#5151ff 0.2%,#4b4bff 15.7%,#6161ff 16.8%,#7070ff 17.5%,#6666ff 19.1%,#7b7bff 20.6%,#7070ff 22.1%,#8282ff 23.6%,#7777ff 25.8%,#9393ff 55.7%,#afafff 59.4%,#8989ff 62.8%,#5656ff 66.2%,#5757ff 70.8%,#8181ff 76.0%,#5555ff 81.7%,#5353ff 92.6%,#7373ff 99.8%)"></i><i style="height:1px;background:linear-gradient(90deg,#5252ff 0.2%,#4e4eff 15.7%,#7272ff 17.5%,#6868ff 19.1%,#7b7bff 20.6%,#7272ff 22.1%,#8383ff 23.6%,#7878ff 25.8%,#9494ff 55.3%,#b0b0ff 59.1%,#8f8fff 62.1%,#5656ff 65.8%,#5656ff 70.4%,#8181ff 75.3%,#5454ff 81.3%,#5353ff 92.3%,#7373ff 99.1%,#7272ff 99.8%)"></i><i style="height:1px;background:linear-gradient(90deg,#5353ff 0.2%,#4e4eff 15.3%,#7373ff 17.2%,#6a6aff 19.1%,#7c7cff 20.6%,#7474ff 22.1%,#8383ff 23.6%,#7a7aff 25.8%,#9595ff 54.9%,#b1b1ff 58.7%,#8f8fff 61.7%,#5555ff 65.5%,#5656ff 70.0%,#8282ff 74.9%,#5454ff 80.9%,#5353ff 91.9%,#7373ff 98.3%,#7070ff 99.8%)"></i><i style="height:1px;background:linear-gradient(90deg,#5454ff 0.2%,#4e4eff 14.9%,#6565ff 16.4%,#7575ff 17.2%,#6a6aff 18.7%,#7e7eff 20.2%,#7777ff 22.1%,#8383ff 23.6%,#7b7bff 26.2%,#9696ff 54.5%,#b2b2ff 58.3%,#8f8fff 61.3%,#5555ff 65.1%,#5656ff 69.6%,#8282ff 74.5%,#5353ff 80.6%,#5454ff 91.5%,#7373ff 97.9%,#6e6eff 99.8%)"></i><i style="height:1px;background:linear-gradient(90deg,#5555ff 0.2%,#4d4dff 14.5%,#6969ff 16.4%,#7777ff 17.2%,#6c6cff 18.7%,#8080ff 20.2%,#7676ff 21.7%,#8787ff 23.2%,#7c7cff 25.5%,#9696ff 53.8%,#b2b2ff 57.9%,#9090ff 60.9%,#5454ff 64.7%,#5555ff 69.2%,#8282ff 74.2%,#5353ff 80.2%,#5252ff 90.8%,#7474ff 97.5%,#6b6bff 99.8%)"></i><i style="height:1px;background:linear-gradient(90deg,#5656ff 0.2%,#4d4dff 14.2%,#6d6dff 16.4%,#7878ff 17.2%,#6e6eff 18.7%,#8181ff 20.2%,#7878ff 21.7%,#8888ff 23.2%,#7d7dff 25.5%,#9797ff 53.4%,#b3b3ff 57.5%,#9090ff 60.6%,#5454ff 64.3%,#5555ff 68.9%,#8282ff 73.8%,#5353ff 79.8%,#5252ff 90.4%,#7474ff 97.2%,#6868ff 99.8%)"></i><i style="height:1px;background:linear-gradient(90deg,#5656ff 0.2%,#5050ff 14.2%,#7171ff 16.4%,#7979ff 17.2%,#7070ff 18.7%,#8282ff 20.2%,#7a7aff 21.7%,#8888ff 23.2%,#7e7eff 25.5%,#9898ff 53.0%,#b5b5ff 56.8%,#9d9dff 59.4%,#5656ff 63.6%,#5151ff 67.7%,#8383ff 73.4%,#5353ff 79.1%,#5353ff 90.0%,#7575ff 96.4%,#6666ff 99.8%)"></i><i style="height:1px;background:linear-gradient(90deg,#5757ff 0.2%,#5050ff 13.8%,#7979ff 17.2%,#7272ff 18.7%,#8282ff 20.2%,#7c7cff 21.7%,#8888ff 23.2%,#8080ff 25.8%,#9999ff 52.6%,#b6b6ff 56.4%,#9d9dff 59.1%,#5656ff 63.2%,#5151ff 67.4%,#8383ff 73.0%,#5353ff 78.7%,#5353ff 89.6%,#7575ff 96.0%,#6363ff 99.8%)"></i><i style="height:1px;background:linear-gradient(90deg,#5858ff 0.2%,#5050ff 13.4%,#7c7cff 16.8%,#7474ff 18.7%,#8383ff 20.2%,#7e7eff 21.7%,#8989ff 23.2%,#8181ff 26.2%,#9a9aff 52.3%,#b7b7ff 56.0%,#9e9eff 58.7%,#5555ff 62.8%,#5050ff 67.0%,#8383ff 72.6%,#5252ff 78.3%,#5353ff 89.2%,#7575ff 95.7%,#6060ff 99.8%)"></i><i style="height:1px;background:linear-gradient(90deg,#5959ff 0.2%,#5050ff 13.0%,#7d7dff 16.8%,#7474ff 18.3%,#8686ff 19.8%,#8080ff 21.7%,#8989ff 23.2%,#8383ff 27.0%,#9b9bff 51.9%,#b8b8ff 55.7%,#9e9eff 58.3%,#5454ff 62.5%,#5050ff 66.6%,#8383ff 72.3%,#5252ff 77.9%,#5454ff 88.9%,#7676ff 95.3%,#5d5dff 99.8%)"></i><i style="height:1px;background:linear-gradient(90deg,#5959ff 0.2%,#4f4fff 12.6%,#7575ff 16.0%,#7f7fff 16.8%,#7676ff 18.3%,#8888ff 19.8%,#8282ff 21.7%,#8d8dff 22.8%,#8383ff 25.5%,#8e8eff 36.8%,#9c9cff 51.5%,#b9b9ff 55.3%,#9e9eff 57.9%,#5454ff 62.1%,#4f4fff 66.2%,#8383ff 71.5%,#6e6eff 74.2%,#5151ff 77.5%,#5454ff 88.5%,#7676ff 94.5%,#5a5aff 99.8%)"></i><i style="height:1px;background:linear-gradient(90deg,#5a5aff 0.2%,#5252ff 12.6%,#8080ff 16.8%,#7878ff 18.3%,#8989ff 19.8%,#8484ff 21.7%,#8d8dff 22.8%,#8585ff 25.5%,#9595ff 33.8%,#9494ff 47.4%,#aaaaff 52.6%,#b9b9ff 54.9%,#9f9fff 57.5%,#5353ff 61.7%,#4f4fff 65.8%,#8383ff 71.1%,#6969ff 74.2%,#5050ff 77.5%,#5454ff 88.1%,#7777ff 94.2%,#5656ff 99.8%)"></i><i style="height:1px;background:linear-gradient(90deg,#5b5bff 0.2%,#5252ff 12.3%,#8181ff 16.8%,#7a7aff 18.3%,#8a8aff 19.8%,#8686ff 21.7%,#8e8eff 22.8%,#8686ff 25.5%,#9393ff 32.6%,#9a9aff 35.3%,#9191ff 40.9%,#a1a1ff 51.1%,#babaff 54.5%,#9f9fff 57.2%,#5353ff 61.3%,#4f4fff 65.5%,#8484ff 70.8%,#6868ff 73.8%,#5050ff 77.2%,#5353ff 87.4%,#7777ff 93.8%,#5353ff 99.8%)"></i><i style="height:1px;background:linear-gradient(90deg,#5c5cff 0.2%,#5252ff 11.9%,#8181ff 16.8%,#7d7dff 18.3%,#8b8bff 19.8%,#8888ff 21.7%,#8e8eff 22.8%,#8888ff 26.2%,#9494ff 32.3%,#a3a3ff 34.9%,#9191ff 39.4%,#a0a0ff 50.4%,#bbbbff 54.2%,#9f9fff 56.8%,#5252ff 60.9%,#4e4eff 65.1%,#8484ff 70.4%,#6868ff 73.4%,#5050ff 76.8%,#5353ff 87.0%,#7777ff 93.4%,#5050ff 99.8%)"></i><i style="height:1px;background:linear-gradient(90deg,#5c5cff 0.2%,#5252ff 11.5%,#8282ff 16.8%,#7f7fff 18.3%,#8c8cff 19.8%,#8a8aff 21.7%,#8f8fff 22.8%,#8989ff 27.0%,#9898ff 32.3%,#acacff 34.5%,#9292ff 39.1%,#a1a1ff 50.0%,#bcbcff 53.8%,#a0a0ff 56.4%,#5555ff 60.2%,#4b4bff 64.0%,#6a6aff 67.4%,#8484ff 70.0%,#6767ff 73.0%,#5050ff 76.0%,#5353ff 86.6%,#7878ff 92.6%,#4d4dff 99.8%)"></i><i style="height:1px;background:linear-gradient(90deg,#5d5dff 0.2%,#5151ff 11.1%,#8383ff 16.8%,#8181ff 18.3%,#8c8cff 19.8%,#8b8bff 21.7%,#8f8fff 22.8%,#8d8dff 29.2%,#9d9dff 32.3%,#b4b4ff 34.5%,#9494ff 38.7%,#a2a2ff 49.6%,#bdbdff 53.4%,#a0a0ff 56.0%,#5555ff 59.8%,#4b4bff 63.6%,#6a6aff 67.0%,#8484ff 69.6%,#6262ff 73.0%,#4f4fff 76.4%,#5353ff 86.2%,#7878ff 92.3%,#4b4bff 99.8%)"></i><i style="height:1px;background:linear-gradient(90deg,#5d5dff 0.2%,#5454ff 11.1%,#8787ff 16.4%,#8484ff 18.3%,#9090ff 19.4%,#8989ff 21.3%,#8f8fff 22.8%,#9292ff 30.8%,#bdbdff 34.5%,#9696ff 38.7%,#a3a3ff 49.2%,#bebeff 53.0%,#a0a0ff 55.7%,#5454ff 59.4%,#4a4aff 63.2%,#6b6bff 66.6%,#8585ff 69.2%,#5050ff 74.9%,#5454ff 85.8%,#7979ff 91.9%,#4949ff 99.8%)"></i><i style="height:1px;background:linear-gradient(90deg,#5e5eff 0.2%,#5454ff 10.8%,#8888ff 16.4%,#8686ff 18.3%,#9191ff 19.4%,#8b8bff 21.3%,#9090ff 22.8%,#9494ff 30.8%,#c5c5ff 34.5%,#9898ff 38.7%,#a3a3ff 48.5%,#bfbfff 52.6%,#a0a0ff 55.3%,#5353ff 59.1%,#4a4aff 62.8%,#6565ff 65.8%,#8585ff 68.9%,#4f4fff 74.5%,#5454ff 85.5%,#7979ff 91.5%,#4848ff 99.8%)"></i><i style="height:1px;background:linear-gradient(90deg,#5f5fff 0.2%,#5454ff 10.4%,#8989ff 16.4%,#8888ff 18.3%,#9191ff 19.4%,#8d8dff 21.3%,#9090ff 22.8%,#9797ff 30.8%,#ccccff 34.2%,#c2c2ff 35.7%,#9c9cff 38.3%,#a1a1ff 47.4%,#c0c0ff 52.3%,#a0a0ff 54.9%,#5353ff 58.7%,#4949ff 62.5%,#6666ff 65.5%,#8585ff 68.5%,#5050ff 73.8%,#5252ff 84.7%,#7a7aff 90.8%,#4747ff 99.4%,#4747ff 99.8%)"></i><i style="height:1px;background:linear-gradient(90deg,#5f5fff 0.2%,#5454ff 10.0%,#7878ff 14.5%,#8a8aff 16.4%,#8b8bff 18.3%,#9292ff 19.4%,#8e8eff 21.3%,#9090ff 22.8%,#9797ff 30.4%,#d3d3ff 34.2%,#cacaff 35.7%,#9f9fff 38.3%,#9e9eff 45.5%,#b4b4ff 49.6%,#c1c1ff 51.9%,#a1a1ff 54.5%,#5252ff 58.3%,#4949ff 62.1%,#6666ff 65.1%,#8585ff 67.7%,#7474ff 70.0%,#5050ff 73.4%,#5353ff 84.3%,#7a7aff 90.4%,#4747ff 99.1%,#4646ff 99.8%)"></i><i style="height:1px;background:linear-gradient(90deg,#6060ff 0.2%,#5353ff 9.6%,#7979ff 14.2%,#8b8bff 16.4%,#8d8dff 18.3%,#9393ff 19.4%,#9090ff 21.3%,#9191ff 22.8%,#9a9aff 30.4%,#d9d9ff 34.2%,#d0d0ff 35.7%,#9f9fff 38.7%,#a1a1ff 45.8%,#c1c1ff 51.5%,#a1a1ff 54.2%,#5151ff 57.9%,#4949ff 61.7%,#6666ff 64.7%,#8585ff 67.4%,#7474ff 69.6%,#4f4fff 73.0%,#5353ff 84.0%,#7a7aff 90.0%,#4747ff 98.7%,#4646ff 99.8%)"></i><i style="height:1px;background:linear-gradient(90deg,#6060ff 0.2%,#5656ff 9.6%,#7979ff 13.8%,#8d8dff 16.4%,#8f8fff 18.3%,#9090ff 19.8%,#9595ff 22.5%,#9797ff 29.6%,#b6b6ff 31.9%,#dfdfff 34.2%,#d0d0ff 36.0%,#a2a2ff 38.7%,#9e9eff 44.0%,#afafff 47.7%,#c1c1ff 49.6%,#babaff 52.3%,#7474ff 55.7%,#4d4dff 57.9%,#4c4cff 62.1%,#8585ff 67.0%,#7373ff 69.2%,#4f4fff 72.6%,#5353ff 83.6%,#7b7bff 89.6%,#4747ff 97.9%,#4646ff 99.8%)"></i><i style="height:1px;background:linear-gradient(90deg,#6161ff 0.2%,#5656ff 9.2%,#7979ff 13.4%,#8e8eff 16.4%,#9191ff 18.3%,#9090ff 19.8%,#9595ff 22.5%,#9999ff 29.6%,#bcbcff 31.9%,#e3e3ff 34.2%,#d5d5ff 36.0%,#a3a3ff 39.1%,#a2a2ff 44.7%,#b2b2ff 47.4%,#dbdbff 48.5%,#d8d8ff 49.2%,#c5c5ff 50.4%,#a9a9ff 53.0%,#5050ff 57.2%,#4848ff 60.9%,#6767ff 64.0%,#8686ff 66.6%,#6d6dff 69.2%,#4e4eff 72.3%,#5454ff 83.2%,#7b7bff 88.9%,#4646ff 97.5%,#4545ff 99.8%)"></i><i style="height:1px;background:linear-gradient(90deg,#6161ff 0.2%,#5656ff 8.9%,#7a7aff 13.0%,#9191ff 16.0%,#8f8fff 17.9%,#9494ff 19.4%,#9595ff 21.3%,#9c9cff 29.6%,#cbcbff 32.3%,#e6e6ff 34.2%,#dbdbff 36.0%,#a3a3ff 39.4%,#a5a5ff 45.1%,#b6b6ff 47.0%,#dfdfff 47.7%,#fefeff 48.1%,#ffeaea 48.5%,#ffe8e8 48.9%,#fffbfb 49.2%,#d1d1ff 50.0%,#9898ff 53.4%,#5454ff 56.4%,#4646ff 59.4%,#5757ff 62.5%,#8686ff 66.2%,#6c6cff 68.9%,#4e4eff 71.9%,#5454ff 82.8%,#7c7cff 88.5%,#4646ff 97.2%,#4545ff 99.8%)"></i><i style="height:1px;background:linear-gradient(90deg,#6262ff 0.2%,#5656ff 8.5%,#7c7cff 13.0%,#9393ff 16.0%,#9191ff 17.9%,#9494ff 19.4%,#9494ff 22.8%,#9f9fff 29.6%,#e7e7ff 33.8%,#e4e4ff 35.7%,#a3a3ff 39.8%,#a9a9ff 45.5%,#b9b9ff 46.6%,#ccccff 47.0%,#ebebff 47.4%,#ffe9e9 47.7%,#ffc1c1 48.1%,#ffa9a9 48.5%,#ffabab 48.9%,#ffc8c8 49.2%,#fff7f7 49.6%,#c9c9ff 50.4%,#8585ff 53.8%,#4e4eff 56.4%,#4747ff 60.2%,#6868ff 63.2%,#8686ff 65.8%,#6c6cff 68.5%,#4d4dff 71.5%,#5252ff 82.1%,#7c7cff 88.1%,#4646ff 96.8%,#4545ff 99.8%)"></i><i style="height:1px;background:linear-gradient(90deg,#6262ff 0.2%,#5555ff 8.1%,#7c7cff 12.6%,#9494ff 16.0%,#9797ff 18.3%,#9898ff 21.3%,#9f9fff 29.2%,#e9e9ff 33.8%,#e3e3ff 36.0%,#a6a6ff 39.8%,#a7a7ff 44.3%,#b2b2ff 45.8%,#d2d2ff 46.6%,#f5f5ff 47.0%,#ffdddd 47.4%,#ff8e8e 48.1%,#ff7f7f 48.5%,#ff8585 48.9%,#ffa7a7 49.2%,#ffdfdf 49.6%,#e9e9ff 50.0%,#cacaff 50.4%,#5252ff 55.7%,#4545ff 59.1%,#5757ff 61.7%,#8585ff 65.1%,#7777ff 67.4%,#4e4eff 70.8%,#5252ff 81.7%,#7c7cff 87.7%,#4646ff 96.0%,#4545ff 99.8%)"></i><i style="height:1px;background:linear-gradient(90deg,#6363ff 0.2%,#5858ff 8.1%,#7d7dff 12.3%,#9595ff 16.0%,#9898ff 18.3%,#9a9aff 21.3%,#9e9eff 28.9%,#cacaff 31.5%,#ebebff 33.8%,#e2e2ff 36.4%,#a7a7ff 40.2%,#ababff 44.7%,#c0c0ff 45.8%,#d9d9ff 46.2%,#fefeff 46.6%,#ffa6a6 47.4%,#ff8686 47.7%,#ff7474 48.1%,#ff7070 48.5%,#ff7d7d 48.9%,#ffa2a2 49.2%,#ffdede 49.6%,#e8e8ff 50.0%,#c7c7ff 50.4%,#5252ff 55.3%,#4444ff 58.7%,#5757ff 61.3%,#8686ff 64.7%,#7676ff 67.0%,#4e4eff 70.4%,#5353ff 81.3%,#7d7dff 87.0%,#4545ff 95.7%,#4444ff 99.8%)"></i><i style="height:1px;background:linear-gradient(90deg,#6363ff 0.2%,#5858ff 7.7%,#7d7dff 11.9%,#9696ff 16.0%,#9b9bff 21.3%,#9e9eff 28.5%,#bfbfff 30.8%,#eaeaff 33.4%,#e9e9ff 36.0%,#a7a7ff 40.6%,#b0b0ff 44.7%,#c5c5ff 45.5%,#fff6f6 46.2%,#ff9e9e 47.0%,#ff8181 47.4%,#ff7171 47.7%,#ff7676 48.5%,#ff8e8e 48.9%,#ffbaba 49.2%,#fff3f3 49.6%,#bfbfff 50.4%,#5757ff 54.5%,#4444ff 57.2%,#4e4eff 60.2%,#8686ff 64.3%,#7676ff 66.6%,#4d4dff 70.0%,#5353ff 80.9%,#7d7dff 86.6%,#4545ff 95.3%,#4444ff 99.8%)"></i><i style="height:1px;background:linear-gradient(90deg,#6464ff 0.2%,#5858ff 7.4%,#7d7dff 11.5%,#9797ff 16.0%,#9898ff 22.8%,#a4a4ff 28.9%,#e9e9ff 33.0%,#eeeeff 35.7%,#ccccff 38.3%,#a9a9ff 40.9%,#b2b2ff 44.3%,#cacaff 45.1%,#e8e8ff 45.5%,#ffecec 45.8%,#ff9696 46.6%,#ff7c7c 47.0%,#ff6e6e 47.7%,#ff7878 48.1%,#ff8f8f 48.5%,#ffe5e5 49.2%,#eaeaff 49.6%,#c8c8ff 50.0%,#a1a1ff 51.1%,#5050ff 54.5%,#4343ff 57.9%,#5757ff 60.6%,#8787ff 64.0%,#7575ff 66.2%,#4d4dff 69.6%,#5353ff 80.6%,#7e7eff 86.2%,#4545ff 94.9%,#4444ff 99.8%)"></i><i style="height:1px;background:linear-gradient(90deg,#6464ff 0.2%,#5858ff 7.0%,#8080ff 11.5%,#9898ff 16.0%,#a3a3ff 28.5%,#ebebff 33.0%,#f3f3ff 35.3%,#d1d1ff 38.3%,#acacff 40.9%,#b4b4ff 44.0%,#d0d0ff 44.7%,#f0f0ff 45.1%,#ffe2e2 45.5%,#ff8f8f 46.2%,#ff7878 46.6%,#ff7070 47.4%,#ff7c7c 47.7%,#ff9595 48.1%,#ffe9e9 48.9%,#ebebff 49.2%,#b8b8ff 50.0%,#5555ff 53.8%,#4343ff 56.4%,#4d4dff 59.4%,#8787ff 63.6%,#7575ff 65.8%,#4c4cff 69.2%,#5454ff 80.2%,#7e7eff 85.8%,#4545ff 94.2%,#4444ff 99.8%)"></i><i style="height:1px;background:linear-gradient(90deg,#6565ff 0.2%,#5858ff 6.6%,#8080ff 11.1%,#9b9bff 15.7%,#9b9bff 17.9%,#a3a3ff 28.1%,#eaeaff 32.6%,#fbfbff 34.9%,#cfcfff 38.7%,#afafff 40.9%,#b6b6ff 43.6%,#d6d6ff 44.3%,#f9f9ff 44.7%,#ff8989 45.8%,#ff7575 46.2%,#ff7171 47.0%,#ff8080 47.4%,#ffc5c5 48.1%,#fff1f1 48.5%,#e6e6ff 48.9%,#b8b8ff 49.6%,#5555ff 53.4%,#4242ff 56.0%,#4d4dff 59.1%,#8787ff 63.2%,#7474ff 65.5%,#4e4eff 68.5%,#5252ff 79.4%,#7e7eff 85.1%,#5252ff 91.1%,#4343ff 95.7%,#4343ff 99.8%)"></i><i style="height:1px;background:linear-gradient(90deg,#6565ff 0.2%,#5a5aff 6.6%,#8080ff 10.8%,#9c9cff 15.7%,#a2a2ff 27.7%,#cbcbff 30.4%,#efefff 33.0%,#ffffff 34.2%,#f8f8ff 35.7%,#c6c6ff 39.4%,#afafff 41.7%,#b8b8ff 43.2%,#ddddff 44.0%,#fffbfb 44.3%,#ffa3a3 45.1%,#ff8484 45.5%,#ff7272 45.8%,#ff7373 46.6%,#ff8585 47.0%,#ffcdcd 47.7%,#fff9f9 48.1%,#c7c7ff 48.9%,#6d6dff 51.9%,#4747ff 54.2%,#4646ff 57.9%,#8787ff 62.8%,#7474ff 65.1%,#4d4dff 68.1%,#5252ff 79.1%,#7f7fff 84.7%,#4444ff 93.4%,#4343ff 99.8%)"></i><i style="height:1px;background:linear-gradient(90deg,#6565ff 0.2%,#5a5aff 6.2%,#8181ff 10.4%,#9c9cff 15.7%,#a4a4ff 27.7%,#ebebff 32.3%,#fefeff 33.8%,#fff2f2 34.9%,#fdfdff 35.7%,#b3b3ff 41.3%,#bbbbff 42.8%,#cacaff 43.2%,#e4e4ff 43.6%,#fff2f2 44.0%,#ff9b9b 44.7%,#ff7f7f 45.1%,#ff6e6e 45.8%,#ff7676 46.2%,#ff8a8a 46.6%,#fefeff 47.7%,#c5c5ff 48.5%,#5a5aff 52.3%,#4343ff 54.5%,#4949ff 57.9%,#8888ff 62.5%,#7373ff 64.7%,#4d4dff 67.7%,#5252ff 78.7%,#7f7fff 84.3%,#4444ff 93.0%,#4343ff 99.8%)"></i><i style="height:1px;background:linear-gradient(90deg,#6666ff 0.2%,#5a5aff 5.8%,#8181ff 10.0%,#9d9dff 15.7%,#a6a6ff 27.7%,#e9e9ff 31.9%,#fffafa 33.8%,#ffeaea 34.9%,#fffcfc 35.7%,#ceceff 39.4%,#b6b6ff 41.7%,#bfbfff 42.5%,#cfcfff 42.8%,#ededff 43.2%,#ffe8e8 43.6%,#ff9393 44.3%,#ff7a7a 44.7%,#ff6f6f 45.5%,#ff7979 45.8%,#ff9090 46.2%,#ffdede 47.0%,#f7f7ff 47.4%,#c4c4ff 48.1%,#5252ff 52.3%,#4141ff 54.9%,#4e4eff 57.9%,#8686ff 61.7%,#7e7eff 63.6%,#4c4cff 67.4%,#5353ff 78.3%,#8080ff 84.0%,#4444ff 92.3%,#4343ff 99.8%)"></i><i style="height:1px;background:linear-gradient(90deg,#6666ff 0.2%,#5a5aff 5.5%,#8383ff 10.0%,#9d9dff 15.7%,#a6a6ff 27.4%,#d0d0ff 30.0%,#ffffff 33.4%,#ffe2e2 34.5%,#ffebeb 35.3%,#fcfcff 36.0%,#babaff 41.3%,#c3c3ff 42.1%,#d5d5ff 42.5%,#f5f5ff 42.8%,#ffdede 43.2%,#ff8d8d 44.0%,#ff7777 44.3%,#ff7070 45.1%,#ff7d7d 45.5%,#ffbcbc 46.2%,#ffe6e6 46.6%,#f1f1ff 47.0%,#c3c3ff 47.7%,#5252ff 51.9%,#4141ff 54.5%,#4e4eff 57.5%,#8787ff 61.3%,#7d7dff 63.2%,#4e4eff 66.6%,#5252ff 77.5%,#8080ff 83.2%,#5c5cff 88.1%,#4343ff 92.6%,#4242ff 99.8%)"></i><i style="height:1px;background:linear-gradient(90deg,#6666ff 0.2%,#5a5aff 5.1%,#8383ff 9.6%,#9e9eff 15.7%,#a7a7ff 27.4%,#ececff 31.9%,#fffafa 33.4%,#ffdcdc 34.5%,#ffe5e5 35.3%,#fffdfd 36.0%,#c0c0ff 40.9%,#c9c9ff 41.7%,#ddddff 42.1%,#ffffff 42.5%,#ffa8a8 43.2%,#ff8787 43.6%,#ff7474 44.0%,#ff7171 44.7%,#ff8181 45.1%,#ffc4c4 45.8%,#ffeeee 46.2%,#ececff 46.6%,#c3c3ff 47.4%,#5252ff 51.5%,#4242ff 54.2%,#4f4fff 57.2%,#8888ff 60.9%,#7d7dff 62.8%,#4d4dff 66.2%,#5353ff 77.2%,#8181ff 82.8%,#5151ff 88.9%,#4242ff 93.4%,#4242ff 99.8%)"></i><i style="height:1px;background:linear-gradient(90deg,#6666ff 0.2%,#5d5dff 5.1%,#8484ff 9.2%,#9e9eff 15.7%,#a9a9ff 27.4%,#ebebff 31.5%,#fefeff 33.0%,#ffd7d7 34.5%,#ffecec 35.7%,#fafaff 36.4%,#c8c8ff 40.9%,#d0d0ff 41.3%,#fff5f5 42.1%,#ff9f9f 42.8%,#ff8181 43.2%,#ff6d6d 44.0%,#ff8686 44.7%,#ffcccc 45.5%,#fff5f5 45.8%,#d2d2ff 46.6%,#5252ff 51.1%,#4242ff 53.8%,#5151ff 56.8%,#8888ff 60.6%,#7c7cff 62.5%,#4c4cff 65.8%,#5555ff 76.8%,#8181ff 82.5%,#4343ff 90.8%,#4242ff 99.8%)"></i><i style="height:1px;background:linear-gradient(90deg,#6666ff 0.2%,#5d5dff 4.7%,#8484ff 8.9%,#9f9fff 15.7%,#a7a7ff 27.0%,#d3d3ff 29.6%,#fffbfb 33.0%,#ffd3d3 34.5%,#ffe6e6 35.7%,#fefeff 36.4%,#d1d1ff 40.6%,#dadaff 40.9%,#f0f0ff 41.3%,#ffe9e9 41.7%,#ff9797 42.5%,#ff7d7d 42.8%,#ff6e6e 43.6%,#ff7676 44.0%,#ff8b8b 44.3%,#fffbfb 45.5%,#d1d1ff 46.2%,#5252ff 50.8%,#4343ff 53.0%,#5252ff 56.4%,#8989ff 60.2%,#7c7cff 62.1%,#4c4cff 65.5%,#5757ff 76.4%,#8282ff 81.7%,#6464ff 85.8%,#4343ff 90.4%,#4141ff 99.8%)"></i><i style="height:1px;background:linear-gradient(90deg,#6666ff 0.2%,#5d5dff 4.3%,#8686ff 8.9%,#9f9fff 15.7%,#a9a9ff 27.0%,#eaeaff 31.1%,#fdfdff 32.6%,#ffd4d4 34.2%,#ffd7d7 35.3%,#fffcfc 36.4%,#dadaff 40.2%,#e5e5ff 40.6%,#fcfcff 40.9%,#ff9090 42.1%,#ff7979 42.5%,#ff6f6f 43.2%,#ff7a7a 43.6%,#ffb4b4 44.3%,#fdfdff 45.1%,#d1d1ff 45.8%,#5353ff 50.4%,#4444ff 52.6%,#5454ff 56.0%,#8a8aff 59.8%,#7b7bff 61.7%,#4b4bff 65.1%,#5959ff 76.0%,#8383ff 81.3%,#5858ff 86.6%,#4141ff 90.8%,#4141ff 99.8%)"></i><i style="height:1px;background:linear-gradient(90deg,#6666ff 0.2%,#6161ff 4.3%,#8686ff 8.5%,#9f9fff 15.7%,#aaaaff 27.0%,#ececff 31.1%,#fffcfc 32.6%,#ffd2d2 34.2%,#ffd4d4 35.3%,#fcfcff 36.8%,#e2e2ff 39.4%,#f0f0ff 40.2%,#fff5f5 40.6%,#ff8989 41.7%,#ff6d6d 42.5%,#ff7d7d 43.2%,#ffbbbb 44.0%,#ffe4e4 44.3%,#f8f8ff 44.7%,#d1d1ff 45.5%,#5353ff 50.0%,#4545ff 52.3%,#5656ff 55.7%,#8b8bff 59.4%,#7474ff 61.7%,#4a4aff 64.7%,#5c5cff 75.7%,#8484ff 80.9%,#4242ff 89.2%,#4040ff 99.8%)"></i><i style="height:1px;background:linear-gradient(90deg,#6666ff 0.2%,#6161ff 4.0%,#8686ff 8.1%,#a0a0ff 15.7%,#a9a9ff 26.6%,#ededff 31.1%,#fcfcff 32.3%,#ffd0d0 34.2%,#ffd2d2 35.3%,#fffefe 36.8%,#eaeaff 38.7%,#eeeeff 39.4%,#fcfcff 39.8%,#ffe7e7 40.2%,#ff8282 41.3%,#ff6d6d 42.1%,#ff8181 42.8%,#ffc3c3 43.6%,#ffeaea 44.0%,#f3f3ff 44.3%,#d1d1ff 45.1%,#4e4eff 50.0%,#4747ff 52.6%,#5e5eff 55.7%,#8a8aff 58.7%,#8080ff 60.6%,#4c4cff 64.0%,#5353ff 72.3%,#6c6cff 76.8%,#8585ff 80.6%,#4242ff 88.9%,#4040ff 99.8%)"></i><i style="height:1px;background:linear-gradient(90deg,#6666ff 0.2%,#6161ff 3.6%,#8888ff 8.1%,#a0a0ff 15.7%,#aaaaff 26.6%,#ebebff 30.8%,#fffefe 32.3%,#ffd2d2 33.8%,#ffd0d0 35.3%,#fffafa 36.8%,#eeeeff 38.3%,#fff6f6 39.4%,#ff9595 40.6%,#ff7070 41.3%,#ff7474 42.1%,#ff8686 42.5%,#fff1f1 43.6%,#f0f0ff 44.0%,#d2d2ff 44.7%,#8b8bff 47.4%,#4e4eff 49.6%,#4848ff 52.3%,#6060ff 55.3%,#8b8bff 58.3%,#8080ff 60.2%,#4b4bff 63.6%,#5656ff 72.3%,#7272ff 76.8%,#8686ff 80.2%,#4242ff 88.1%,#4040ff 99.8%)"></i><i style="height:1px;background:linear-gradient(90deg,#6666ff 0.2%,#6565ff 3.6%,#8888ff 7.7%,#a0a0ff 15.7%,#ababff 26.6%,#ececff 30.8%,#fffafa 32.3%,#ffd0d0 33.8%,#ffd3d3 35.7%,#fcfcff 37.2%,#f4f4ff 38.3%,#fefeff 38.7%,#ffcece 39.4%,#ff8c8c 40.2%,#ff6e6e 40.9%,#ff7777 41.7%,#ffacac 42.5%,#fff7f7 43.2%,#d3d3ff 44.3%,#9999ff 46.6%,#4f4fff 49.2%,#4848ff 51.5%,#6262ff 54.9%,#8c8cff 57.9%,#7f7fff 59.8%,#4a4aff 63.2%,#5858ff 72.3%,#8787ff 79.4%,#4141ff 87.7%,#3f3fff 99.8%)"></i><i style="height:1px;background:linear-gradient(90deg,#6666ff 0.2%,#6565ff 3.2%,#8888ff 7.4%,#a3a3ff 15.3%,#aaaaff 26.2%,#ededff 30.8%,#fdfdff 31.9%,#ffd3d3 33.4%,#ffcece 35.3%,#ffe5e5 36.4%,#ffffff 37.2%,#fafaff 37.9%,#fff9f9 38.3%,#ffc2c2 39.1%,#ff8585 39.8%,#ff6d6d 40.6%,#ff7b7b 41.3%,#ffb5b5 42.1%,#fffcfc 42.8%,#dcdcff 43.6%,#a8a8ff 45.8%,#5757ff 48.5%,#4747ff 50.4%,#5f5fff 54.2%,#8e8eff 57.5%,#7f7fff 59.4%,#4949ff 62.8%,#5b5bff 72.3%,#8989ff 78.7%,#6666ff 82.8%,#4040ff 87.4%,#3f3fff 99.8%)"></i><i style="height:1px;background:linear-gradient(90deg,#6565ff 0.2%,#6969ff 3.2%,#8a8aff 7.4%,#a3a3ff 15.3%,#ababff 26.2%,#ebebff 30.4%,#fffdfd 31.9%,#ffd1d1 33.4%,#ffd0d0 35.7%,#fffafa 37.2%,#fffcfc 37.5%,#fff1f1 37.9%,#ff7f7f 39.4%,#ff6d6d 40.2%,#ff7f7f 40.9%,#ffbdbd 41.7%,#fdfdff 42.5%,#dcdcff 43.2%,#aaaaff 45.5%,#5858ff 48.1%,#4747ff 50.0%,#6161ff 53.8%,#8e8eff 57.2%,#7e7eff 59.1%,#4848ff 62.5%,#5d5dff 71.9%,#8a8aff 78.3%,#5454ff 84.0%,#3f3fff 87.7%,#3e3eff 99.8%)"></i><i style="height:1px;background:linear-gradient(90deg,#6565ff 0.2%,#6969ff 2.8%,#8b8bff 7.0%,#a3a3ff 15.3%,#adadff 26.2%,#ececff 30.4%,#fff8f8 31.9%,#ffcfcf 33.4%,#ffd0d0 35.7%,#ffecec 37.2%,#ffe5e5 37.5%,#ff7a7a 39.1%,#ff6d6d 39.8%,#ff8484 40.6%,#ffe9e9 41.7%,#f9f9ff 42.1%,#ddddff 42.8%,#adadff 45.1%,#5151ff 48.1%,#4949ff 50.0%,#6868ff 53.8%,#8f8fff 56.8%,#7e7eff 58.7%,#4848ff 62.1%,#6161ff 71.9%,#8b8bff 77.5%,#6c6cff 81.3%,#4141ff 85.8%,#3e3eff 99.8%)"></i><i style="height:1px;background:linear-gradient(90deg,#6565ff 0.2%,#6d6dff 2.8%,#8e8eff 7.4%,#a3a3ff 15.3%,#ababff 25.8%,#ededff 30.4%,#ffffff 31.5%,#ffd2d2 33.0%,#ffd2d2 36.4%,#ffcece 37.2%,#ffa4a4 37.9%,#ff7676 38.7%,#ff6d6d 39.4%,#ff8a8a 40.2%,#ffeeee 41.3%,#f6f6ff 41.7%,#d9d9ff 42.8%,#afafff 44.7%,#5252ff 47.7%,#4949ff 49.6%,#6a6aff 53.4%,#9090ff 56.4%,#7d7dff 58.3%,#4a4aff 61.3%,#4d4dff 65.5%,#7171ff 73.4%,#8c8cff 77.2%,#6262ff 81.7%,#3f3fff 85.8%,#3e3eff 99.8%)"></i><i style="height:1px;background:linear-gradient(90deg,#6565ff 0.2%,#7171ff 2.8%,#9696ff 8.5%,#a2a2ff 15.7%,#adadff 25.8%,#ebebff 30.0%,#fffbfb 31.5%,#ffd0d0 33.0%,#ffc5c5 36.0%,#ff9797 37.5%,#ff7373 38.3%,#ff6e6e 39.1%,#ff9090 39.8%,#fff3f3 40.9%,#f5f5ff 41.3%,#b2b2ff 44.3%,#5353ff 47.4%,#4a4aff 49.2%,#6c6cff 53.0%,#9090ff 55.7%,#8383ff 57.5%,#4949ff 60.9%,#4d4dff 65.1%,#7474ff 73.0%,#8d8dff 76.8%,#4040ff 85.1%,#3d3dff 99.8%)"></i><i style="height:1px;background:linear-gradient(90deg,#6666ff 0.2%,#7575ff 2.8%,#9e9eff 10.4%,#aeaeff 25.8%,#ececff 30.0%,#fcfcff 31.1%,#ffcfcf 33.0%,#ffc5c5 35.7%,#ff8c8c 36.8%,#ff6c6c 38.3%,#ff7e7e 39.1%,#ffb7b7 39.8%,#fff7f7 40.6%,#e3e3ff 41.7%,#c0c0ff 43.6%,#5454ff 47.0%,#4a4aff 48.9%,#7474ff 53.0%,#9292ff 55.7%,#7474ff 57.9%,#4848ff 60.6%,#4e4eff 64.7%,#7777ff 72.6%,#8e8eff 76.0%,#6d6dff 79.8%,#4040ff 84.3%,#3d3dff 99.8%)"></i><i style="height:1px;background:linear-gradient(90deg,#6666ff 0.2%,#9898ff 8.1%,#a2a2ff 16.0%,#adadff 25.5%,#eeeeff 30.0%,#fffefe 31.1%,#ffd2d2 32.6%,#ffc7c7 35.3%,#ffb9b9 35.7%,#ff8888 36.4%,#ff6e6e 37.9%,#ff8383 38.7%,#fffafa 40.2%,#e1e1ff 41.7%,#b8b8ff 43.6%,#5555ff 46.6%,#4949ff 48.1%,#7070ff 52.3%,#9292ff 54.9%,#8282ff 56.8%,#4747ff 60.2%,#4e4eff 64.3%,#7979ff 72.3%,#8f8fff 75.7%,#6262ff 80.2%,#3e3eff 84.3%,#3c3cff 99.8%)"></i><i style="height:1px;background:linear-gradient(90deg,#6767ff 0.2%,#9494ff 7.0%,#a3a3ff 15.7%,#aeaeff 25.5%,#ececff 29.6%,#fffafa 31.1%,#ffd0d0 32.6%,#ffcaca 34.9%,#ffc1c1 35.3%,#ff8f8f 36.0%,#ff8080 36.4%,#ff7676 37.9%,#ffa5a5 38.7%,#ffe6e6 39.4%,#fffdfd 39.8%,#e4e4ff 41.3%,#bcbcff 43.2%,#5656ff 46.2%,#4a4aff 47.7%,#7878ff 52.3%,#9393ff 54.5%,#8181ff 56.4%,#4646ff 59.8%,#5151ff 64.3%,#7f7fff 72.3%,#9090ff 75.3%,#4040ff 83.2%,#3c3cff 99.8%)"></i><i style="height:1px;background:linear-gradient(90deg,#6969ff 0.2%,#9393ff 6.2%,#a5a5ff 15.3%,#b0b0ff 25.5%,#ededff 29.6%,#fdfdff 30.8%,#ffd3d3 32.3%,#ffc8c8 34.9%,#ffbcbc 35.3%,#ff8686 36.0%,#ff7b7b 37.2%,#ff7a7a 37.5%,#ff8b8b 37.9%,#ffecec 39.1%,#fefeff 39.4%,#cdcdff 42.5%,#5757ff 45.8%,#4a4aff 47.4%,#7a7aff 51.9%,#9494ff 54.2%,#8181ff 56.0%,#4545ff 59.4%,#5252ff 64.0%,#8282ff 71.9%,#9191ff 74.9%,#3f3fff 82.8%,#3c3cff 99.8%)"></i><i style="height:1px;background:linear-gradient(90deg,#6b6bff 0.2%,#9191ff 5.5%,#a2a2ff 12.6%,#aeaeff 25.1%,#eeeeff 29.6%,#fffdfd 30.8%,#ffd1d1 32.3%,#ffc8c8 34.9%,#ffbcbc 35.3%,#ff8686 36.0%,#ff7e7e 36.8%,#ff7e7e 37.2%,#ff8b8b 37.5%,#fff1f1 38.7%,#fcfcff 39.1%,#d2d2ff 42.1%,#5858ff 45.5%,#4a4aff 47.0%,#7c7cff 51.5%,#9595ff 53.8%,#8080ff 55.7%,#4848ff 58.7%,#4747ff 61.3%,#8585ff 71.5%,#9292ff 74.5%,#4040ff 82.1%,#3b3bff 99.8%)"></i><i style="height:1px;background:linear-gradient(90deg,#6e6eff 0.2%,#9595ff 5.8%,#a5a5ff 15.3%,#b0b0ff 25.1%,#ececff 29.2%,#fff8f8 30.8%,#ffcfcf 32.3%,#ffc9c9 34.9%,#ffc0c0 35.3%,#ff9090 36.0%,#ff8282 36.4%,#ff8686 37.2%,#ffa2a2 37.5%,#fff2f2 38.3%,#fafaff 38.7%,#d8d8ff 41.7%,#5959ff 45.1%,#4b4bff 46.6%,#8484ff 51.5%,#9696ff 53.4%,#7f7fff 55.3%,#4747ff 58.3%,#4949ff 61.3%,#8787ff 71.1%,#9292ff 74.2%,#3f3fff 81.7%,#3b3bff 99.8%)"></i><i style="height:1px;background:linear-gradient(90deg,#7373ff 0.2%,#9a9aff 6.6%,#a7a7ff 18.3%,#b1b1ff 25.1%,#ededff 29.2%,#ffffff 30.4%,#ffd2d2 31.9%,#ffc6c6 35.3%,#ffa0a0 36.0%,#ff8b8b 36.4%,#ff8484 36.8%,#ff9090 37.2%,#ffe7e7 37.9%,#fdfdff 38.3%,#eeeeff 39.8%,#dedeff 41.3%,#a6a6ff 42.8%,#5b5bff 44.7%,#4b4bff 46.2%,#9696ff 52.6%,#8686ff 54.5%,#4646ff 57.9%,#4949ff 60.9%,#9595ff 73.0%,#6f6fff 76.8%,#3e3eff 81.3%,#3a3aff 99.8%)"></i><i style="height:1px;background:linear-gradient(90deg,#7777ff 0.2%,#a0a0ff 8.1%,#b0b0ff 24.7%,#eeeeff 29.2%,#fffbfb 30.4%,#ffd0d0 31.9%,#ffcaca 35.3%,#ffc2c2 35.7%,#ff9393 36.4%,#ff8787 36.8%,#ff9797 37.2%,#fff2f2 37.9%,#f8f8ff 38.3%,#e4e4ff 40.9%,#c1c1ff 42.1%,#5d5dff 44.3%,#4b4bff 45.5%,#6c6cff 48.9%,#9797ff 52.3%,#8585ff 54.2%,#4545ff 57.5%,#4949ff 60.6%,#9696ff 72.6%,#6363ff 77.2%,#3d3dff 80.9%,#3a3aff 99.8%)"></i><i style="height:1px;background:linear-gradient(90deg,#7c7cff 0.2%,#a2a2ff 8.9%,#b1b1ff 24.7%,#ececff 28.9%,#fcfcff 30.0%,#ffcfcf 31.9%,#ffc6c6 35.7%,#ff9797 36.4%,#ff8989 36.8%,#ff9a9a 37.2%,#fff4f4 37.9%,#f1f1ff 38.7%,#e2e2ff 40.9%,#babaff 42.1%,#6161ff 44.0%,#4c4cff 45.1%,#6969ff 48.1%,#9898ff 51.9%,#8585ff 53.8%,#4444ff 57.2%,#4a4aff 60.2%,#9898ff 71.9%,#7676ff 75.3%,#3d3dff 80.2%,#3b3bff 99.8%)"></i><i style="height:1px;background:linear-gradient(90deg,#8080ff 0.2%,#a3a3ff 9.2%,#b0b0ff 24.3%,#fffefe 30.0%,#ffd2d2 31.5%,#ffc7c7 35.7%,#ff9898 36.4%,#ff8989 36.8%,#ff9b9b 37.2%,#fff4f4 37.9%,#f2f2ff 38.7%,#dfdfff 40.9%,#b3b3ff 42.1%,#6767ff 43.6%,#4d4dff 44.7%,#6565ff 47.4%,#9999ff 51.5%,#8484ff 53.4%,#4343ff 56.8%,#4a4aff 59.8%,#9999ff 71.5%,#6f6fff 75.3%,#3e3eff 79.4%,#3d3dff 99.4%,#4040ff 99.8%)"></i><i style="height:1px;background:linear-gradient(90deg,#8484ff 0.2%,#a3a3ff 9.2%,#b2b2ff 24.3%,#fafaff 29.6%,#fffafa 30.0%,#ffd0d0 31.5%,#ffc7c7 35.7%,#ff9898 36.4%,#ff8989 36.8%,#ff9a9a 37.2%,#fff2f2 37.9%,#f8f8ff 38.3%,#ddddff 40.9%,#adadff 42.1%,#6161ff 43.6%,#4e4eff 44.7%,#9a9aff 51.1%,#8383ff 53.0%,#4646ff 56.0%,#4343ff 58.3%,#9a9aff 70.8%,#7e7eff 73.8%,#3f3fff 78.7%,#3a3aff 98.3%,#5656ff 99.8%)"></i><i style="height:1px;background:linear-gradient(90deg,#8787ff 0.2%,#a4a4ff 9.2%,#b1b1ff 24.0%,#fdfdff 29.6%,#ffd3d3 31.1%,#ffc7c7 35.7%,#ff9797 36.4%,#ff8989 36.8%,#ff9a9a 37.2%,#fff1f1 37.9%,#f9f9ff 38.3%,#e4e4ff 40.6%,#bcbcff 41.7%,#6a6aff 43.2%,#5050ff 44.3%,#7373ff 47.4%,#9a9aff 50.4%,#8a8aff 52.3%,#4545ff 55.7%,#4343ff 57.9%,#9b9bff 70.4%,#7777ff 73.8%,#3e3eff 78.3%,#3b3bff 97.9%,#4949ff 98.7%,#8585ff 99.8%)"></i><i style="height:1px;background:linear-gradient(90deg,#8a8aff 0.2%,#a4a4ff 8.9%,#b2b2ff 24.0%,#fffdfd 29.6%,#ffd1d1 31.1%,#ffc7c7 35.7%,#ff9797 36.4%,#ff8989 36.8%,#ff9999 37.2%,#ffefef 37.9%,#fafaff 38.3%,#e3e3ff 40.6%,#b8b8ff 41.7%,#6767ff 43.2%,#5353ff 44.3%,#9b9bff 50.0%,#8a8aff 51.9%,#4444ff 55.3%,#4343ff 57.5%,#9c9cff 69.6%,#8181ff 72.6%,#3d3dff 77.9%,#3c3cff 97.5%,#5151ff 98.3%,#bdbdff 99.8%)"></i><i style="height:1px;background:linear-gradient(90deg,#8c8cff 0.2%,#a4a4ff 8.9%,#b4b4ff 24.0%,#fbfbff 29.2%,#ffebeb 30.0%,#ffcfcf 31.1%,#ffc7c7 35.7%,#ff9797 36.4%,#ff8989 36.8%,#ff9999 37.2%,#ffeeee 37.9%,#fbfbff 38.3%,#e1e1ff 40.6%,#b5b5ff 41.7%,#6666ff 43.2%,#5858ff 44.3%,#9c9cff 49.6%,#8989ff 51.5%,#4343ff 54.9%,#4343ff 57.2%,#9e9eff 69.2%,#7f7fff 72.3%,#3e3eff 77.2%,#3939ff 96.4%,#4949ff 97.5%,#7777ff 98.3%,#b9b9ff 99.1%,#dedeff 99.8%)"></i><i style="height:1px;background:linear-gradient(90deg,#8e8eff 0.2%,#a5a5ff 8.9%,#b3b3ff 23.6%,#ffffff 29.2%,#ffd2d2 30.8%,#ffc7c7 35.7%,#ff9797 36.4%,#ff8989 36.8%,#ff9898 37.2%,#ffecec 37.9%,#fdfdff 38.3%,#e0e0ff 40.6%,#b3b3ff 41.7%,#6868ff 43.2%,#5e5eff 44.3%,#9b9bff 48.9%,#9090ff 50.8%,#4242ff 54.5%,#4343ff 56.8%,#9f9fff 68.5%,#8989ff 71.1%,#3d3dff 76.8%,#3b3bff 96.0%,#5454ff 97.2%,#8888ff 97.9%,#c6c6ff 98.7%,#d6d6ff 99.1%,#d2d2ff 99.8%)"></i><i style="height:1px;background:linear-gradient(90deg,#9090ff 0.2%,#a5a5ff 8.5%,#b4b4ff 23.6%,#fffbfb 29.2%,#ffd0d0 30.8%,#ffc7c7 35.7%,#ff9797 36.4%,#ff8888 36.8%,#ff9898 37.2%,#ffebeb 37.9%,#fefeff 38.3%,#e0e0ff 40.6%,#b2b2ff 41.7%,#6c6cff 43.2%,#6565ff 44.3%,#9d9dff 48.5%,#8f8fff 50.4%,#4141ff 54.2%,#4343ff 56.4%,#a0a0ff 67.7%,#8d8dff 70.4%,#3e3eff 76.0%,#3737ff 88.9%,#3c3cff 95.3%,#5757ff 96.4%,#9d9dff 97.5%,#d0d0ff 98.3%,#d7d7ff 98.7%,#b7b7ff 99.4%,#a1a1ff 99.8%)"></i><i style="height:1px;background:linear-gradient(90deg,#9191ff 0.2%,#a6a6ff 8.5%,#b6b6ff 23.6%,#fcfcff 28.9%,#ffcfcf 30.8%,#ffc7c7 35.7%,#ff9797 36.4%,#ff8888 36.8%,#ff9898 37.2%,#ffe9e9 37.9%,#ffffff 38.3%,#dfdfff 40.6%,#9e9eff 42.1%,#7272ff 43.2%,#6d6dff 44.3%,#9e9eff 48.1%,#8f8fff 50.0%,#4040ff 53.8%,#4444ff 56.0%,#a1a1ff 67.4%,#8c8cff 70.0%,#3d3dff 75.7%,#3838ff 93.8%,#4e4eff 95.3%,#8787ff 96.4%,#cbcbff 97.5%,#d6d6ff 97.9%,#d4d4ff 98.3%,#a3a3ff 99.1%,#6a6aff 99.8%)"></i><i style="height:1px;background:linear-gradient(90deg,#9393ff 0.2%,#a6a6ff 8.5%,#b5b5ff 23.2%,#fffefe 28.9%,#ffd2d2 30.4%,#ffc7c7 35.7%,#ff9797 36.4%,#ff8888 36.8%,#ff9797 37.2%,#ffe7e7 37.9%,#fffefe 38.3%,#dfdfff 40.6%,#7979ff 43.2%,#7575ff 44.3%,#9f9fff 47.7%,#8e8eff 49.6%,#4444ff 53.0%,#3e3eff 54.9%,#a2a2ff 66.6%,#9090ff 69.2%,#3f3fff 74.9%,#3636ff 83.2%,#3b3bff 93.4%,#5353ff 94.5%,#cdcdff 96.8%,#d6d6ff 97.5%,#cacaff 97.9%,#5656ff 99.4%,#4747ff 99.8%)"></i><i style="height:1px;background:linear-gradient(90deg,#9595ff 0.2%,#a6a6ff 8.5%,#b6b6ff 23.2%,#fafaff 28.5%,#fffafa 28.9%,#ffd0d0 30.4%,#ffc7c7 35.7%,#ff9797 36.4%,#ff8888 36.8%,#ff9797 37.2%,#ffe6e6 37.9%,#fffcfc 38.3%,#dfdfff 40.6%,#8181ff 43.2%,#8282ff 44.7%,#a0a0ff 47.4%,#8d8dff 49.2%,#4343ff 52.6%,#3e3eff 54.5%,#a4a4ff 66.2%,#8f8fff 68.9%,#3d3dff 74.5%,#3636ff 86.6%,#3a3aff 92.6%,#5959ff 93.8%,#c4c4ff 95.7%,#d7d7ff 96.4%,#c8c8ff 97.2%,#7d7dff 98.3%,#4b4bff 99.1%,#3939ff 99.8%)"></i><i style="height:1px;background:linear-gradient(90deg,#9797ff 0.2%,#a7a7ff 8.5%,#b6b6ff 22.8%,#fdfdff 28.5%,#ffd3d3 30.0%,#ffc7c7 35.7%,#ff9797 36.4%,#ff8888 36.8%,#ff9797 37.2%,#ffe4e4 37.9%,#fffafa 38.3%,#e0e0ff 40.6%,#8a8aff 43.2%,#8a8aff 44.7%,#a1a1ff 47.4%,#8484ff 49.2%,#4141ff 52.3%,#3e3eff 54.2%,#a4a4ff 65.5%,#9999ff 67.7%,#3c3cff 74.2%,#3636ff 91.9%,#4747ff 92.6%,#cacaff 94.9%,#d6d6ff 95.7%,#c1c1ff 96.4%,#5252ff 98.3%,#3737ff 99.4%,#3636ff 99.8%)"></i><i style="height:1px;background:linear-gradient(90deg,#9898ff 0.2%,#a7a7ff 8.5%,#b7b7ff 22.8%,#fffdfd 28.5%,#ffd1d1 30.0%,#ffc7c7 35.7%,#ff9797 36.4%,#ff8888 36.8%,#ff9696 37.2%,#ffe2e2 37.9%,#fff9f9 38.3%,#e1e1ff 40.6%,#9292ff 43.2%,#9393ff 44.7%,#a2a2ff 47.0%,#7a7aff 49.2%,#4040ff 51.9%,#3e3eff 53.8%,#a5a5ff 64.7%,#9d9dff 67.0%,#3e3eff 73.4%,#3535ff 81.3%,#3838ff 91.9%,#4444ff 92.3%,#a7a7ff 93.4%,#cfcfff 94.2%,#d5d5ff 94.9%,#b9b9ff 95.7%,#6060ff 97.2%,#3c3cff 98.3%,#3535ff 99.8%)"></i><i style="height:1px;background:linear-gradient(90deg,#9a9aff 0.2%,#a7a7ff 8.9%,#b9b9ff 22.8%,#fbfbff 28.1%,#ffebeb 28.9%,#ffcfcf 30.0%,#ffc7c7 35.7%,#ff9797 36.4%,#ff8888 36.8%,#ff9696 37.2%,#ffe0e0 37.9%,#fff7f7 38.3%,#ececff 39.8%,#cfcfff 41.3%,#9a9aff 43.2%,#9e9eff 45.1%,#9f9fff 47.0%,#3f3fff 51.5%,#3e3eff 53.4%,#a7a7ff 64.3%,#9c9cff 66.6%,#3c3cff 73.0%,#3434ff 84.7%,#3a3aff 91.9%,#4d4dff 92.3%,#a6a6ff 93.0%,#c8c8ff 93.4%,#d4d4ff 93.8%,#c4c4ff 94.5%,#5858ff 96.4%,#3b3bff 97.5%,#3434ff 99.8%)"></i><i style="height:1px;background:linear-gradient(90deg,#9b9bff 0.2%,#a8a8ff 9.2%,#babaff 22.8%,#fefeff 28.1%,#ffd2d2 29.6%,#ffc7c7 35.7%,#ff9797 36.4%,#ff8888 36.8%,#ff9696 37.2%,#ffdfdf 37.9%,#fff6f6 38.3%,#fbfbff 38.7%,#d2d2ff 41.3%,#a2a2ff 43.2%,#a1a1ff 46.6%,#3e3eff 51.1%,#3d3dff 53.0%,#a7a7ff 63.6%,#a1a1ff 65.8%,#3b3bff 72.6%,#3535ff 91.5%,#3a3aff 91.9%,#4e4eff 92.3%,#a2a2ff 93.0%,#babaff 93.4%,#b9b9ff 93.8%,#5252ff 95.7%,#3939ff 96.8%,#3434ff 99.8%)"></i><i style="height:1px;background:linear-gradient(90deg,#9d9dff 0.2%,#a8a8ff 9.6%,#bcbcff 22.8%,#fffdfd 28.1%,#ffd1d1 29.6%,#ffc7c7 35.7%,#ff9797 36.4%,#ff8989 36.8%,#ff9797 37.2%,#ffdede 37.9%,#fff4f4 38.3%,#fcfcff 38.7%,#d5d5ff 41.3%,#a9a9ff 43.2%,#a3a3ff 46.2%,#3d3dff 50.8%,#3c3cff 52.6%,#a9a9ff 63.2%,#a2a2ff 65.5%,#3a3aff 72.3%,#3838ff 91.9%,#4444ff 92.3%,#7b7bff 93.0%,#8888ff 93.4%,#6e6eff 94.2%,#4242ff 95.3%,#3434ff 97.5%,#3434ff 99.8%)"></i><i style="height:1px;background:linear-gradient(90deg,#9e9eff 0.2%,#a8a8ff 10.0%,#bdbdff 22.8%,#f9f9ff 27.7%,#fffafa 28.1%,#ffcfcf 29.6%,#ffc8c8 35.7%,#ff8a8a 36.8%,#ff9898 37.2%,#ffdede 37.9%,#fff4f4 38.3%,#fdfdff 38.7%,#ceceff 41.7%,#aaaaff 43.6%,#a1a1ff 46.2%,#3939ff 50.8%,#4242ff 53.0%,#aaaaff 62.8%,#a9a9ff 64.7%,#3939ff 71.9%,#3535ff 91.9%,#5656ff 93.4%,#3636ff 95.3%,#3434ff 99.8%)"></i></div>
<div class="cb" style="left:704.9px;top:295.3px;width:17.9px;height:213.9px;background:linear-gradient(180deg,#ff0000 0%,#ffffff 50%,#0000ff 100%)"></div>
<svg width="750" height="550" viewBox="0 0 750 550">
<clipPath id="cl_a"><rect x="58.20" y="18.20" width="265.60" height="212.60"/></clipPath><g clip-path="url(#cl_a)">
<line x1="-33.63" y1="230.80" x2="69.12" y2="18.20" class="dl"/>
<line x1="-15.30" y1="230.80" x2="101.84" y2="18.20" class="dl"/>
<line x1="46.45" y1="230.80" x2="212.12" y2="18.20" class="dl"/>
<line x1="71.35" y1="230.80" x2="256.58" y2="18.20" class="dl"/>
<line x1="133.08" y1="230.80" x2="366.80" y2="18.20" class="dl"/>
</g>
<rect x="58.20" y="18.20" width="265.60" height="212.60" class="fr"/>
<line x1="72.40" y1="230.80" x2="72.40" y2="226.30" class="tk"/>
<line x1="72.40" y1="18.20" x2="72.40" y2="22.70" class="tk"/>
<text x="72.40" y="246.20" font-size="16.00" text-anchor="middle" font-weight="normal" fill="#000">400</text>
<line x1="102.00" y1="230.80" x2="102.00" y2="226.30" class="tk"/>
<line x1="102.00" y1="18.20" x2="102.00" y2="22.70" class="tk"/>
<line x1="131.60" y1="230.80" x2="131.60" y2="226.30" class="tk"/>
<line x1="131.60" y1="18.20" x2="131.60" y2="22.70" class="tk"/>
<text x="131.60" y="246.20" font-size="16.00" text-anchor="middle" font-weight="normal" fill="#000">500</text>
<line x1="161.20" y1="230.80" x2="161.20" y2="226.30" class="tk"/>
<line x1="161.20" y1="18.20" x2="161.20" y2="22.70" class="tk"/>
<line x1="190.80" y1="230.80" x2="190.80" y2="226.30" class="tk"/>
<line x1="190.80" y1="18.20" x2="190.80" y2="22.70" class="tk"/>
<text x="190.80" y="246.20" font-size="16.00" text-anchor="middle" font-weight="normal" fill="#000">600</text>
<line x1="220.40" y1="230.80" x2="220.40" y2="226.30" class="tk"/>
<line x1="220.40" y1="18.20" x2="220.40" y2="22.70" class="tk"/>
<line x1="250.00" y1="230.80" x2="250.00" y2="226.30" class="tk"/>
<line x1="250.00" y1="18.20" x2="250.00" y2="22.70" class="tk"/>
<text x="250.00" y="246.20" font-size="16.00" text-anchor="middle" font-weight="normal" fill="#000">700</text>
<line x1="279.60" y1="230.80" x2="279.60" y2="226.30" class="tk"/>
<line x1="279.60" y1="18.20" x2="279.60" y2="22.70" class="tk"/>
<line x1="309.20" y1="230.80" x2="309.20" y2="226.30" class="tk"/>
<line x1="309.20" y1="18.20" x2="309.20" y2="22.70" class="tk"/>
<text x="309.20" y="246.20" font-size="16.00" text-anchor="middle" font-weight="normal" fill="#000">800</text>
<text x="55.90" y="235.40" font-size="16.00" text-anchor="end" font-weight="normal" fill="#000">500</text>
<line x1="58.20" y1="204.23" x2="62.70" y2="204.23" class="tk"/>
<line x1="323.80" y1="204.23" x2="319.30" y2="204.23" class="tk"/>
<line x1="58.20" y1="177.65" x2="62.70" y2="177.65" class="tk"/>
<line x1="323.80" y1="177.65" x2="319.30" y2="177.65" class="tk"/>
<text x="55.90" y="182.25" font-size="16.00" text-anchor="end" font-weight="normal" fill="#000">600</text>
<line x1="58.20" y1="151.07" x2="62.70" y2="151.07" class="tk"/>
<line x1="323.80" y1="151.07" x2="319.30" y2="151.07" class="tk"/>
<line x1="58.20" y1="124.50" x2="62.70" y2="124.50" class="tk"/>
<line x1="323.80" y1="124.50" x2="319.30" y2="124.50" class="tk"/>
<text x="55.90" y="129.10" font-size="16.00" text-anchor="end" font-weight="normal" fill="#000">700</text>
<line x1="58.20" y1="97.92" x2="62.70" y2="97.92" class="tk"/>
<line x1="323.80" y1="97.92" x2="319.30" y2="97.92" class="tk"/>
<line x1="58.20" y1="71.35" x2="62.70" y2="71.35" class="tk"/>
<line x1="323.80" y1="71.35" x2="319.30" y2="71.35" class="tk"/>
<text x="55.90" y="75.95" font-size="16.00" text-anchor="end" font-weight="normal" fill="#000">800</text>
<line x1="58.20" y1="44.77" x2="62.70" y2="44.77" class="tk"/>
<line x1="323.80" y1="44.77" x2="319.30" y2="44.77" class="tk"/>
<text x="55.90" y="22.80" font-size="16.00" text-anchor="end" font-weight="normal" fill="#000">900</text>
<text x="119.70" y="264.80" font-size="22.00" text-anchor="start" font-weight="normal" fill="#000" textLength="172.8" lengthAdjust="spacingAndGlyphs">Wavelength (nm)</text>
<text x="21.80" y="124.50" font-size="22.00" text-anchor="middle" font-weight="normal" fill="#000" textLength="116.0" lengthAdjust="spacingAndGlyphs" transform="rotate(-90.00 21.80 124.50)">Period (nm)</text>
<rect x="328.50" y="17.50" width="17.80" height="213.50" class="fr"/>
<text x="350.50" y="236.20" font-size="15.00" text-anchor="start" font-weight="normal" fill="#000">0.0</text>
<line x1="328.50" y1="188.30" x2="331.00" y2="188.30" class="tkc"/>
<line x1="346.30" y1="188.30" x2="343.80" y2="188.30" class="tkc"/>
<text x="350.50" y="193.50" font-size="15.00" text-anchor="start" font-weight="normal" fill="#000">0.2</text>
<line x1="328.50" y1="145.60" x2="331.00" y2="145.60" class="tkc"/>
<line x1="346.30" y1="145.60" x2="343.80" y2="145.60" class="tkc"/>
<text x="350.50" y="150.80" font-size="15.00" text-anchor="start" font-weight="normal" fill="#000">0.4</text>
<line x1="328.50" y1="102.90" x2="331.00" y2="102.90" class="tkc"/>
<line x1="346.30" y1="102.90" x2="343.80" y2="102.90" class="tkc"/>
<text x="350.50" y="108.10" font-size="15.00" text-anchor="start" font-weight="normal" fill="#000">0.6</text>
<line x1="328.50" y1="60.20" x2="331.00" y2="60.20" class="tkc"/>
<line x1="346.30" y1="60.20" x2="343.80" y2="60.20" class="tkc"/>
<text x="350.50" y="65.40" font-size="15.00" text-anchor="start" font-weight="normal" fill="#000">0.8</text>
<text x="350.50" y="22.70" font-size="15.00" text-anchor="start" font-weight="normal" fill="#000">1.0</text>
<clipPath id="cl_b"><rect x="433.30" y="17.20" width="266.20" height="213.60"/></clipPath><g clip-path="url(#cl_b)">
<line x1="359.90" y1="230.80" x2="477.04" y2="17.20" class="dl"/>
<line x1="377.51" y1="230.80" x2="508.49" y2="17.20" class="dl"/>
<line x1="421.65" y1="230.80" x2="587.32" y2="17.20" class="dl"/>
<line x1="446.55" y1="230.80" x2="631.78" y2="17.20" class="dl"/>
<line x1="508.28" y1="230.80" x2="742.00" y2="17.20" class="dl"/>
</g>
<rect x="433.30" y="17.20" width="266.20" height="213.60" class="fr"/>
<line x1="447.60" y1="230.80" x2="447.60" y2="226.30" class="tk"/>
<line x1="447.60" y1="17.20" x2="447.60" y2="21.70" class="tk"/>
<text x="447.60" y="246.20" font-size="16.00" text-anchor="middle" font-weight="normal" fill="#000">400</text>
<line x1="477.20" y1="230.80" x2="477.20" y2="226.30" class="tk"/>
<line x1="477.20" y1="17.20" x2="477.20" y2="21.70" class="tk"/>
<line x1="506.80" y1="230.80" x2="506.80" y2="226.30" class="tk"/>
<line x1="506.80" y1="17.20" x2="506.80" y2="21.70" class="tk"/>
<text x="506.80" y="246.20" font-size="16.00" text-anchor="middle" font-weight="normal" fill="#000">500</text>
<line x1="536.40" y1="230.80" x2="536.40" y2="226.30" class="tk"/>
<line x1="536.40" y1="17.20" x2="536.40" y2="21.70" class="tk"/>
<line x1="566.00" y1="230.80" x2="566.00" y2="226.30" class="tk"/>
<line x1="566.00" y1="17.20" x2="566.00" y2="21.70" class="tk"/>
<text x="566.00" y="246.20" font-size="16.00" text-anchor="middle" font-weight="normal" fill="#000">600</text>
<line x1="595.60" y1="230.80" x2="595.60" y2="226.30" class="tk"/>
<line x1="595.60" y1="17.20" x2="595.60" y2="21.70" class="tk"/>
<line x1="625.20" y1="230.80" x2="625.20" y2="226.30" class="tk"/>
<line x1="625.20" y1="17.20" x2="625.20" y2="21.70" class="tk"/>
<text x="625.20" y="246.20" font-size="16.00" text-anchor="middle" font-weight="normal" fill="#000">700</text>
<line x1="654.80" y1="230.80" x2="654.80" y2="226.30" class="tk"/>
<line x1="654.80" y1="17.20" x2="654.80" y2="21.70" class="tk"/>
<line x1="684.40" y1="230.80" x2="684.40" y2="226.30" class="tk"/>
<line x1="684.40" y1="17.20" x2="684.40" y2="21.70" class="tk"/>
<text x="684.40" y="246.20" font-size="16.00" text-anchor="middle" font-weight="normal" fill="#000">800</text>
<text x="431.00" y="235.40" font-size="16.00" text-anchor="end" font-weight="normal" fill="#000">500</text>
<line x1="433.30" y1="204.10" x2="437.80" y2="204.10" class="tk"/>
<line x1="699.50" y1="204.10" x2="695.00" y2="204.10" class="tk"/>
<line x1="433.30" y1="177.40" x2="437.80" y2="177.40" class="tk"/>
<line x1="699.50" y1="177.40" x2="695.00" y2="177.40" class="tk"/>
<text x="431.00" y="182.00" font-size="16.00" text-anchor="end" font-weight="normal" fill="#000">600</text>
<line x1="433.30" y1="150.70" x2="437.80" y2="150.70" class="tk"/>
<line x1="699.50" y1="150.70" x2="695.00" y2="150.70" class="tk"/>
<line x1="433.30" y1="124.00" x2="437.80" y2="124.00" class="tk"/>
<line x1="699.50" y1="124.00" x2="695.00" y2="124.00" class="tk"/>
<text x="431.00" y="128.60" font-size="16.00" text-anchor="end" font-weight="normal" fill="#000">700</text>
<line x1="433.30" y1="97.30" x2="437.80" y2="97.30" class="tk"/>
<line x1="699.50" y1="97.30" x2="695.00" y2="97.30" class="tk"/>
<line x1="433.30" y1="70.60" x2="437.80" y2="70.60" class="tk"/>
<line x1="699.50" y1="70.60" x2="695.00" y2="70.60" class="tk"/>
<text x="431.00" y="75.20" font-size="16.00" text-anchor="end" font-weight="normal" fill="#000">800</text>
<line x1="433.30" y1="43.90" x2="437.80" y2="43.90" class="tk"/>
<line x1="699.50" y1="43.90" x2="695.00" y2="43.90" class="tk"/>
<text x="431.00" y="21.80" font-size="16.00" text-anchor="end" font-weight="normal" fill="#000">900</text>
<text x="494.80" y="264.80" font-size="22.00" text-anchor="start" font-weight="normal" fill="#000" textLength="172.8" lengthAdjust="spacingAndGlyphs">Wavelength (nm)</text>
<text x="396.90" y="124.00" font-size="22.00" text-anchor="middle" font-weight="normal" fill="#000" textLength="116.0" lengthAdjust="spacingAndGlyphs" transform="rotate(-90.00 396.90 124.00)">Period (nm)</text>
<rect x="704.90" y="20.10" width="18.00" height="213.70" class="fr"/>
<text x="727.10" y="239.00" font-size="15.00" text-anchor="start" font-weight="normal" fill="#000">0.0</text>
<line x1="704.90" y1="191.06" x2="707.40" y2="191.06" class="tkc"/>
<line x1="722.90" y1="191.06" x2="720.40" y2="191.06" class="tkc"/>
<text x="727.10" y="196.26" font-size="15.00" text-anchor="start" font-weight="normal" fill="#000">0.2</text>
<line x1="704.90" y1="148.32" x2="707.40" y2="148.32" class="tkc"/>
<line x1="722.90" y1="148.32" x2="720.40" y2="148.32" class="tkc"/>
<text x="727.10" y="153.52" font-size="15.00" text-anchor="start" font-weight="normal" fill="#000">0.4</text>
<line x1="704.90" y1="105.58" x2="707.40" y2="105.58" class="tkc"/>
<line x1="722.90" y1="105.58" x2="720.40" y2="105.58" class="tkc"/>
<text x="727.10" y="110.78" font-size="15.00" text-anchor="start" font-weight="normal" fill="#000">0.6</text>
<line x1="704.90" y1="62.84" x2="707.40" y2="62.84" class="tkc"/>
<line x1="722.90" y1="62.84" x2="720.40" y2="62.84" class="tkc"/>
<text x="727.10" y="68.04" font-size="15.00" text-anchor="start" font-weight="normal" fill="#000">0.8</text>
<text x="727.10" y="25.30" font-size="15.00" text-anchor="start" font-weight="normal" fill="#000">1.0</text>
<clipPath id="cl_c"><rect x="57.50" y="292.10" width="265.60" height="213.70"/></clipPath><g clip-path="url(#cl_c)">
<line x1="-34.49" y1="505.80" x2="68.26" y2="292.10" class="dl"/>
<line x1="-16.20" y1="505.80" x2="100.94" y2="292.10" class="dl"/>
<line x1="45.43" y1="505.80" x2="211.10" y2="292.10" class="dl"/>
<line x1="131.89" y1="505.80" x2="365.61" y2="292.10" class="dl"/>
</g>
<rect x="57.50" y="292.10" width="265.60" height="213.70" class="fr"/>
<line x1="71.80" y1="505.80" x2="71.80" y2="501.30" class="tk"/>
<line x1="71.80" y1="292.10" x2="71.80" y2="296.60" class="tk"/>
<text x="71.80" y="521.20" font-size="16.00" text-anchor="middle" font-weight="normal" fill="#000">400</text>
<line x1="101.40" y1="505.80" x2="101.40" y2="501.30" class="tk"/>
<line x1="101.40" y1="292.10" x2="101.40" y2="296.60" class="tk"/>
<line x1="131.00" y1="505.80" x2="131.00" y2="501.30" class="tk"/>
<line x1="131.00" y1="292.10" x2="131.00" y2="296.60" class="tk"/>
<text x="131.00" y="521.20" font-size="16.00" text-anchor="middle" font-weight="normal" fill="#000">500</text>
<line x1="160.60" y1="505.80" x2="160.60" y2="501.30" class="tk"/>
<line x1="160.60" y1="292.10" x2="160.60" y2="296.60" class="tk"/>
<line x1="190.20" y1="505.80" x2="190.20" y2="501.30" class="tk"/>
<line x1="190.20" y1="292.10" x2="190.20" y2="296.60" class="tk"/>
<text x="190.20" y="521.20" font-size="16.00" text-anchor="middle" font-weight="normal" fill="#000">600</text>
<line x1="219.80" y1="505.80" x2="219.80" y2="501.30" class="tk"/>
<line x1="219.80" y1="292.10" x2="219.80" y2="296.60" class="tk"/>
<line x1="249.40" y1="505.80" x2="249.40" y2="501.30" class="tk"/>
<line x1="249.40" y1="292.10" x2="249.40" y2="296.60" class="tk"/>
<text x="249.40" y="521.20" font-size="16.00" text-anchor="middle" font-weight="normal" fill="#000">700</text>
<line x1="279.00" y1="505.80" x2="279.00" y2="501.30" class="tk"/>
<line x1="279.00" y1="292.10" x2="279.00" y2="296.60" class="tk"/>
<line x1="308.60" y1="505.80" x2="308.60" y2="501.30" class="tk"/>
<line x1="308.60" y1="292.10" x2="308.60" y2="296.60" class="tk"/>
<text x="308.60" y="521.20" font-size="16.00" text-anchor="middle" font-weight="normal" fill="#000">800</text>
<text x="55.20" y="510.40" font-size="16.00" text-anchor="end" font-weight="normal" fill="#000">500</text>
<line x1="57.50" y1="479.09" x2="62.00" y2="479.09" class="tk"/>
<line x1="323.10" y1="479.09" x2="318.60" y2="479.09" class="tk"/>
<line x1="57.50" y1="452.38" x2="62.00" y2="452.38" class="tk"/>
<line x1="323.10" y1="452.38" x2="318.60" y2="452.38" class="tk"/>
<text x="55.20" y="456.98" font-size="16.00" text-anchor="end" font-weight="normal" fill="#000">600</text>
<line x1="57.50" y1="425.66" x2="62.00" y2="425.66" class="tk"/>
<line x1="323.10" y1="425.66" x2="318.60" y2="425.66" class="tk"/>
<line x1="57.50" y1="398.95" x2="62.00" y2="398.95" class="tk"/>
<line x1="323.10" y1="398.95" x2="318.60" y2="398.95" class="tk"/>
<text x="55.20" y="403.55" font-size="16.00" text-anchor="end" font-weight="normal" fill="#000">700</text>
<line x1="57.50" y1="372.24" x2="62.00" y2="372.24" class="tk"/>
<line x1="323.10" y1="372.24" x2="318.60" y2="372.24" class="tk"/>
<line x1="57.50" y1="345.52" x2="62.00" y2="345.52" class="tk"/>
<line x1="323.10" y1="345.52" x2="318.60" y2="345.52" class="tk"/>
<text x="55.20" y="350.12" font-size="16.00" text-anchor="end" font-weight="normal" fill="#000">800</text>
<line x1="57.50" y1="318.81" x2="62.00" y2="318.81" class="tk"/>
<line x1="323.10" y1="318.81" x2="318.60" y2="318.81" class="tk"/>
<text x="55.20" y="296.70" font-size="16.00" text-anchor="end" font-weight="normal" fill="#000">900</text>
<text x="119.00" y="539.80" font-size="22.00" text-anchor="start" font-weight="normal" fill="#000" textLength="172.8" lengthAdjust="spacingAndGlyphs">Wavelength (nm)</text>
<text x="21.10" y="398.95" font-size="22.00" text-anchor="middle" font-weight="normal" fill="#000" textLength="116.0" lengthAdjust="spacingAndGlyphs" transform="rotate(-90.00 21.10 398.95)">Period (nm)</text>
<rect x="328.50" y="293.90" width="17.80" height="214.10" class="fr"/>
<text x="350.50" y="513.20" font-size="15.00" text-anchor="start" font-weight="normal" fill="#000">0.0</text>
<line x1="328.50" y1="465.18" x2="331.00" y2="465.18" class="tkc"/>
<line x1="346.30" y1="465.18" x2="343.80" y2="465.18" class="tkc"/>
<text x="350.50" y="470.38" font-size="15.00" text-anchor="start" font-weight="normal" fill="#000">0.2</text>
<line x1="328.50" y1="422.36" x2="331.00" y2="422.36" class="tkc"/>
<line x1="346.30" y1="422.36" x2="343.80" y2="422.36" class="tkc"/>
<text x="350.50" y="427.56" font-size="15.00" text-anchor="start" font-weight="normal" fill="#000">0.4</text>
<line x1="328.50" y1="379.54" x2="331.00" y2="379.54" class="tkc"/>
<line x1="346.30" y1="379.54" x2="343.80" y2="379.54" class="tkc"/>
<text x="350.50" y="384.74" font-size="15.00" text-anchor="start" font-weight="normal" fill="#000">0.6</text>
<line x1="328.50" y1="336.72" x2="331.00" y2="336.72" class="tkc"/>
<line x1="346.30" y1="336.72" x2="343.80" y2="336.72" class="tkc"/>
<text x="350.50" y="341.92" font-size="15.00" text-anchor="start" font-weight="normal" fill="#000">0.8</text>
<text x="350.50" y="299.10" font-size="15.00" text-anchor="start" font-weight="normal" fill="#000">1.0</text>
<clipPath id="cl_d"><rect x="433.10" y="294.70" width="264.70" height="212.80"/></clipPath><g clip-path="url(#cl_d)">
<line x1="420.63" y1="507.50" x2="586.30" y2="294.70" class="dl"/>
<line x1="507.09" y1="507.50" x2="740.81" y2="294.70" class="dl"/>
</g>
<rect x="433.10" y="294.70" width="264.70" height="212.80" class="fr"/>
<line x1="447.00" y1="507.50" x2="447.00" y2="503.00" class="tk"/>
<line x1="447.00" y1="294.70" x2="447.00" y2="299.20" class="tk"/>
<text x="447.00" y="522.90" font-size="16.00" text-anchor="middle" font-weight="normal" fill="#000">400</text>
<line x1="476.60" y1="507.50" x2="476.60" y2="503.00" class="tk"/>
<line x1="476.60" y1="294.70" x2="476.60" y2="299.20" class="tk"/>
<line x1="506.20" y1="507.50" x2="506.20" y2="503.00" class="tk"/>
<line x1="506.20" y1="294.70" x2="506.20" y2="299.20" class="tk"/>
<text x="506.20" y="522.90" font-size="16.00" text-anchor="middle" font-weight="normal" fill="#000">500</text>
<line x1="535.80" y1="507.50" x2="535.80" y2="503.00" class="tk"/>
<line x1="535.80" y1="294.70" x2="535.80" y2="299.20" class="tk"/>
<line x1="565.40" y1="507.50" x2="565.40" y2="503.00" class="tk"/>
<line x1="565.40" y1="294.70" x2="565.40" y2="299.20" class="tk"/>
<text x="565.40" y="522.90" font-size="16.00" text-anchor="middle" font-weight="normal" fill="#000">600</text>
<line x1="595.00" y1="507.50" x2="595.00" y2="503.00" class="tk"/>
<line x1="595.00" y1="294.70" x2="595.00" y2="299.20" class="tk"/>
<line x1="624.60" y1="507.50" x2="624.60" y2="503.00" class="tk"/>
<line x1="624.60" y1="294.70" x2="624.60" y2="299.20" class="tk"/>
<text x="624.60" y="522.90" font-size="16.00" text-anchor="middle" font-weight="normal" fill="#000">700</text>
<line x1="654.20" y1="507.50" x2="654.20" y2="503.00" class="tk"/>
<line x1="654.20" y1="294.70" x2="654.20" y2="299.20" class="tk"/>
<line x1="683.80" y1="507.50" x2="683.80" y2="503.00" class="tk"/>
<line x1="683.80" y1="294.70" x2="683.80" y2="299.20" class="tk"/>
<text x="683.80" y="522.90" font-size="16.00" text-anchor="middle" font-weight="normal" fill="#000">800</text>
<text x="430.80" y="512.10" font-size="16.00" text-anchor="end" font-weight="normal" fill="#000">500</text>
<line x1="433.10" y1="480.90" x2="437.60" y2="480.90" class="tk"/>
<line x1="697.80" y1="480.90" x2="693.30" y2="480.90" class="tk"/>
<line x1="433.10" y1="454.30" x2="437.60" y2="454.30" class="tk"/>
<line x1="697.80" y1="454.30" x2="693.30" y2="454.30" class="tk"/>
<text x="430.80" y="458.90" font-size="16.00" text-anchor="end" font-weight="normal" fill="#000">600</text>
<line x1="433.10" y1="427.70" x2="437.60" y2="427.70" class="tk"/>
<line x1="697.80" y1="427.70" x2="693.30" y2="427.70" class="tk"/>
<line x1="433.10" y1="401.10" x2="437.60" y2="401.10" class="tk"/>
<line x1="697.80" y1="401.10" x2="693.30" y2="401.10" class="tk"/>
<text x="430.80" y="405.70" font-size="16.00" text-anchor="end" font-weight="normal" fill="#000">700</text>
<line x1="433.10" y1="374.50" x2="437.60" y2="374.50" class="tk"/>
<line x1="697.80" y1="374.50" x2="693.30" y2="374.50" class="tk"/>
<line x1="433.10" y1="347.90" x2="437.60" y2="347.90" class="tk"/>
<line x1="697.80" y1="347.90" x2="693.30" y2="347.90" class="tk"/>
<text x="430.80" y="352.50" font-size="16.00" text-anchor="end" font-weight="normal" fill="#000">800</text>
<line x1="433.10" y1="321.30" x2="437.60" y2="321.30" class="tk"/>
<line x1="697.80" y1="321.30" x2="693.30" y2="321.30" class="tk"/>
<text x="430.80" y="299.30" font-size="16.00" text-anchor="end" font-weight="normal" fill="#000">900</text>
<text x="494.60" y="541.50" font-size="22.00" text-anchor="start" font-weight="normal" fill="#000" textLength="172.8" lengthAdjust="spacingAndGlyphs">Wavelength (nm)</text>
<text x="396.70" y="401.10" font-size="22.00" text-anchor="middle" font-weight="normal" fill="#000" textLength="116.0" lengthAdjust="spacingAndGlyphs" transform="rotate(-90.00 396.70 401.10)">Period (nm)</text>
<rect x="704.90" y="295.30" width="17.90" height="213.90" class="fr"/>
<text x="727.00" y="514.40" font-size="15.00" text-anchor="start" font-weight="normal" fill="#000">0</text>
<line x1="704.90" y1="466.42" x2="707.40" y2="466.42" class="tkc"/>
<line x1="722.80" y1="466.42" x2="720.30" y2="466.42" class="tkc"/>
<text x="727.00" y="471.62" font-size="15.00" text-anchor="start" font-weight="normal" fill="#000">5</text>
<line x1="704.90" y1="423.64" x2="707.40" y2="423.64" class="tkc"/>
<line x1="722.80" y1="423.64" x2="720.30" y2="423.64" class="tkc"/>
<text x="727.00" y="428.84" font-size="15.00" text-anchor="start" font-weight="normal" fill="#000">10</text>
<line x1="704.90" y1="380.86" x2="707.40" y2="380.86" class="tkc"/>
<line x1="722.80" y1="380.86" x2="720.30" y2="380.86" class="tkc"/>
<text x="727.00" y="386.06" font-size="15.00" text-anchor="start" font-weight="normal" fill="#000">15</text>
<line x1="704.90" y1="338.08" x2="707.40" y2="338.08" class="tkc"/>
<line x1="722.80" y1="338.08" x2="720.30" y2="338.08" class="tkc"/>
<text x="727.00" y="343.28" font-size="15.00" text-anchor="start" font-weight="normal" fill="#000">20</text>
<text x="727.00" y="300.50" font-size="15.00" text-anchor="start" font-weight="normal" fill="#000">25</text>
<text x="8.00" y="26.80" font-size="25.00" text-anchor="start" font-weight="bold" fill="#000">a</text>
<text x="381.00" y="26.40" font-size="25.00" text-anchor="start" font-weight="bold" fill="#000">b</text>
<text x="6.80" y="298.60" font-size="25.00" text-anchor="start" font-weight="bold" fill="#000">c</text>
<text x="381.60" y="301.50" font-size="25.00" text-anchor="start" font-weight="bold" fill="#000">d</text>
<text x="66.20" y="11.20" font-size="13.50" text-anchor="start" font-weight="normal" fill="#000" textLength="107.2" lengthAdjust="spacingAndGlyphs">(±2,±3)&amp;(±3,±2)sub</text>
<text x="66.20" y="286.60" font-size="13.50" text-anchor="start" font-weight="normal" fill="#000" textLength="107.2" lengthAdjust="spacingAndGlyphs">(±2,±3)&amp;(±3,±2)sub</text>
<text x="70.02" y="107.02" font-size="13.50" text-anchor="start" font-weight="normal" fill="#000" textLength="95.4" lengthAdjust="spacingAndGlyphs" transform="rotate(-61.15 70.02 107.02)">(±1,±3)&amp;(±3,±1)sub</text>
<text x="132.96" y="142.56" font-size="13.50" text-anchor="start" font-weight="normal" fill="#000" textLength="107.2" lengthAdjust="spacingAndGlyphs" transform="rotate(-52.07 132.96 142.56)">(±1,±2)&amp;(±2,±1)sub</text>
<text x="153.82" y="157.46" font-size="13.50" text-anchor="start" font-weight="normal" fill="#000" textLength="100.3" lengthAdjust="spacingAndGlyphs" transform="rotate(-48.94 153.82 157.46)">(0,±2)&amp;(±2,±0)sub</text>
<text x="207.33" y="181.51" font-size="13.50" text-anchor="start" font-weight="normal" fill="#000" textLength="87.2" lengthAdjust="spacingAndGlyphs" transform="rotate(-42.29 207.33 181.51)">(0,±1)&amp;(±1,0)air</text>
<text x="443.10" y="107.15" font-size="13.50" text-anchor="start" font-weight="normal" fill="#000" textLength="94.3" lengthAdjust="spacingAndGlyphs" transform="rotate(-61.26 443.10 107.15)">(±1,±3)&amp;(±3,±1)sub</text>
<text x="471.75" y="102.93" font-size="13.50" text-anchor="start" font-weight="normal" fill="#000" textLength="59.5" lengthAdjust="spacingAndGlyphs" transform="rotate(-58.48 471.75 102.93)">(±2,±2)sub</text>
<text x="505.37" y="144.89" font-size="13.50" text-anchor="start" font-weight="normal" fill="#000" textLength="107.2" lengthAdjust="spacingAndGlyphs" transform="rotate(-52.20 505.37 144.89)">(±1,±2)&amp;(±2,±1)sub</text>
<text x="532.54" y="152.25" font-size="13.50" text-anchor="start" font-weight="normal" fill="#000" textLength="93.5" lengthAdjust="spacingAndGlyphs" transform="rotate(-49.07 532.54 152.25)">(0,±2)&amp;(±2,0)sub</text>
<text x="592.25" y="172.35" font-size="13.50" text-anchor="start" font-weight="normal" fill="#000" textLength="87.2" lengthAdjust="spacingAndGlyphs" transform="rotate(-42.42 592.25 172.35)">(0,±1)&amp;(±1,0)air</text>
<text x="66.44" y="383.12" font-size="13.50" text-anchor="start" font-weight="normal" fill="#000" textLength="96.5" lengthAdjust="spacingAndGlyphs" transform="rotate(-61.27 66.44 383.12)">(±1,±3)&amp;(±3,±1)sub</text>
<text x="119.65" y="428.84" font-size="13.50" text-anchor="start" font-weight="normal" fill="#000" textLength="107.2" lengthAdjust="spacingAndGlyphs" transform="rotate(-52.22 119.65 428.84)">(±1,±2)&amp;(±2,±1)sub</text>
<text x="209.05" y="452.19" font-size="13.50" text-anchor="start" font-weight="normal" fill="#000" textLength="87.2" lengthAdjust="spacingAndGlyphs" transform="rotate(-42.44 209.05 452.19)">(0,±1)&amp;(±1,0)air</text>
<text x="493.80" y="434.68" font-size="13.50" text-anchor="start" font-weight="normal" fill="#000" textLength="107.2" lengthAdjust="spacingAndGlyphs" transform="rotate(-52.10 493.80 434.68)">(±1,±2)&amp;(±2,±1)sub</text>
<text x="587.36" y="451.99" font-size="13.50" text-anchor="start" font-weight="normal" fill="#000" textLength="87.2" lengthAdjust="spacingAndGlyphs" transform="rotate(-42.32 587.36 451.99)">(0,±1)&amp;(±1,0)air</text>
<text x="173.20" y="219.50" font-size="14.80" text-anchor="start" font-weight="normal" fill="#1a6a3c" textLength="144.8" lengthAdjust="spacingAndGlyphs">Forward Transmission</text>
<text x="539.80" y="219.80" font-size="14.80" text-anchor="start" font-weight="normal" fill="#1a6a3c" textLength="154.7" lengthAdjust="spacingAndGlyphs">Backward Transmission</text>
<text x="157.20" y="496.20" font-size="14.80" text-anchor="start" font-weight="normal" fill="#1a6a3c" textLength="160.1" lengthAdjust="spacingAndGlyphs">Asymmetric Subtraction</text>
<text x="574.50" y="494.60" font-size="14.80" text-anchor="start" font-weight="normal" fill="#1a6a3c" textLength="117.0" lengthAdjust="spacingAndGlyphs">Asymmetric Ratio</text>
</svg>
</body></html>
